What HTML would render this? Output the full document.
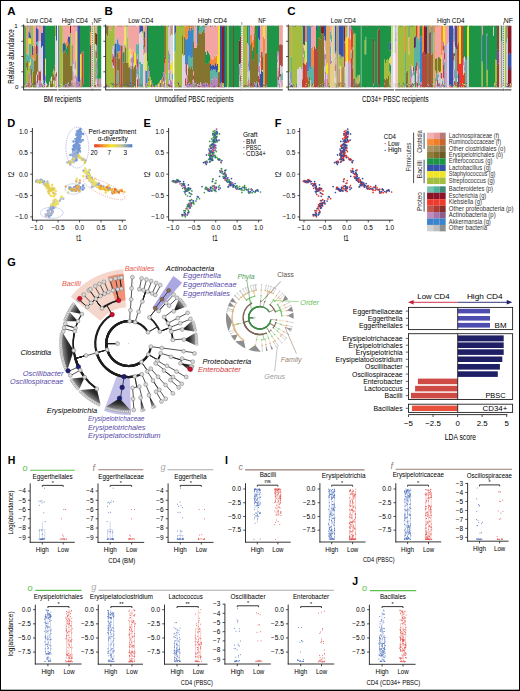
<!DOCTYPE html>
<html><head><meta charset="utf-8"><style>
html,body{margin:0;padding:0;background:#fff;width:520px;height:691px;overflow:hidden}
svg{display:block}
</style></head><body>
<svg width="520" height="691" viewBox="0 0 520 691" font-family='"Liberation Sans", sans-serif'>
<rect x="0" y="0" width="520" height="691" fill="#000"/>
<rect x="1" y="1" width="518" height="688.7" fill="#fff"/>
<path fill="#62ad55" d="M24.00 25.80h1.02V87.20h-1.02zM25.00 26.29h1.02V87.20h-1.02z"/>
<path fill="#8b1a2b" d="M24.00 84.12h1.02V84.60h-1.02zM27.00 26.26h1.02V26.84h-1.02zM28.00 25.80h0.52V26.27h-0.52zM29.50 85.85h1.02V86.34h-1.02zM29.50 86.87h1.02V87.20h-1.02zM32.00 84.69h1.02V85.27h-1.02zM32.00 85.27h1.02V86.62h-1.02zM33.00 47.62h0.52V52.31h-0.52zM35.50 82.81h0.52V83.34h-0.52zM38.50 86.68h1.02V87.20h-1.02zM48.00 26.83h1.00V27.04h-1.00zM56.00 86.64h1.02V87.20h-1.02zM62.80 82.72h1.02V83.40h-1.02zM62.80 83.97h1.02V84.58h-1.02zM69.00 83.86h1.02V85.02h-1.02zM70.00 25.80h1.02V33.59h-1.02zM70.00 82.98h1.02V83.77h-1.02zM73.70 82.74h1.02V83.22h-1.02zM77.40 85.96h1.02V86.82h-1.02zM82.60 84.59h1.02V85.39h-1.02zM89.90 84.06h1.02V84.83h-1.02zM90.90 83.96h0.72V84.41h-0.72zM95.10 32.88h1.02V44.30h-1.02zM95.10 84.39h1.02V85.28h-1.02zM96.10 33.55h1.02V45.64h-1.02zM96.10 84.36h1.02V84.88h-1.02zM97.10 34.73h0.12V41.80h-0.12zM97.20 86.54h1.02V87.07h-1.02zM97.20 26.53h1.02V26.81h-1.02zM110.60 83.98h1.02V84.96h-1.02zM112.00 87.04h1.02V87.20h-1.02zM116.50 86.57h1.02V87.20h-1.02zM120.50 84.87h1.02V86.02h-1.02zM121.50 85.05h1.02V86.11h-1.02zM121.50 26.68h1.02V26.90h-1.02zM122.50 82.80h1.02V84.05h-1.02zM124.50 25.80h1.02V26.17h-1.02zM128.60 86.76h1.02V87.20h-1.02zM132.50 84.01h1.02V84.57h-1.02zM133.50 25.80h0.52V26.02h-0.52zM135.00 26.22h1.02V26.80h-1.02zM136.00 84.20h1.02V84.73h-1.02zM138.00 85.61h1.02V86.08h-1.02zM139.00 85.59h0.42V86.51h-0.42zM140.40 83.21h1.02V84.26h-1.02zM141.40 83.66h1.02V84.54h-1.02zM143.00 83.28h1.02V84.02h-1.02zM145.00 25.80h1.02V26.04h-1.02zM146.00 87.12h1.02V87.20h-1.02zM147.00 84.29h1.02V85.52h-1.02zM147.00 26.38h1.02V26.88h-1.02zM162.00 26.18h1.00V26.61h-1.00zM164.00 86.92h1.02V87.20h-1.02zM167.00 86.23h1.02V87.20h-1.02zM171.00 25.80h1.02V26.01h-1.02zM175.00 84.14h1.02V85.41h-1.02zM176.00 26.47h1.02V26.57h-1.02zM177.00 25.80h1.02V26.52h-1.02zM178.00 26.27h1.02V26.52h-1.02zM182.00 83.23h1.02V84.07h-1.02zM183.00 25.80h1.02V26.07h-1.02zM185.00 85.50h1.02V86.80h-1.02zM185.00 25.80h1.02V26.22h-1.02zM188.00 86.47h1.02V87.20h-1.02zM193.00 84.24h1.02V85.11h-1.02zM196.00 84.63h1.02V85.60h-1.02zM200.00 85.40h1.02V86.10h-1.02zM206.00 83.73h1.02V84.54h-1.02zM207.00 85.44h1.02V85.85h-1.02zM209.00 86.50h1.02V87.20h-1.02zM212.00 86.74h1.02V87.20h-1.02zM216.00 26.20h1.02V26.64h-1.02zM219.00 85.19h1.02V85.82h-1.02zM221.00 83.74h1.02V84.24h-1.02zM221.00 86.53h1.02V87.15h-1.02zM222.00 25.80h1.02V83.80h-1.02zM223.00 25.80h1.02V83.20h-1.02zM223.00 87.10h1.02V87.20h-1.02zM239.00 40.52h1.02V64.28h-1.02zM240.00 36.25h1.02V63.06h-1.02zM241.00 40.38h0.22V63.24h-0.22zM241.00 25.80h0.22V25.95h-0.22zM246.60 82.65h0.42V83.04h-0.42zM246.60 83.04h0.42V84.09h-0.42zM247.00 84.37h1.02V85.52h-1.02zM248.50 84.89h1.02V85.66h-1.02zM252.00 86.27h1.02V86.76h-1.02zM255.00 85.00h1.02V85.84h-1.02zM256.00 85.83h1.02V87.11h-1.02zM258.00 84.27h1.02V85.21h-1.02zM261.00 25.80h1.02V26.32h-1.02zM264.00 26.39h1.02V26.67h-1.02zM269.00 25.80h1.02V26.32h-1.02zM279.00 25.80h1.02V26.06h-1.02zM281.00 25.80h1.02V26.12h-1.02zM282.00 26.49h0.82V26.96h-0.82zM292.00 85.24h1.02V85.70h-1.02zM296.00 84.98h1.02V85.46h-1.02zM296.00 25.80h1.02V26.16h-1.02zM299.00 84.45h1.02V85.51h-1.02zM301.00 25.80h1.02V25.90h-1.02zM303.00 83.14h1.02V84.33h-1.02zM305.00 85.94h1.02V87.17h-1.02zM306.00 85.84h1.02V86.98h-1.02zM310.00 85.38h1.02V85.87h-1.02zM311.00 85.46h1.02V86.49h-1.02zM311.00 86.49h1.02V86.91h-1.02zM315.00 84.09h1.02V84.89h-1.02zM315.00 84.89h1.02V85.95h-1.02zM320.00 85.18h1.02V86.41h-1.02zM321.00 25.80h1.02V33.14h-1.02zM322.00 25.80h1.02V34.30h-1.02zM323.00 25.80h1.02V33.07h-1.02zM324.00 84.35h1.02V85.47h-1.02zM325.00 83.40h1.02V84.65h-1.02zM326.00 84.38h1.02V85.68h-1.02zM326.00 26.48h1.02V26.77h-1.02zM327.00 82.81h1.02V83.94h-1.02zM331.00 82.95h1.02V84.23h-1.02zM332.00 86.26h0.32V87.20h-0.32zM332.30 84.44h1.02V84.96h-1.02zM334.30 84.88h0.32V85.51h-0.32zM336.50 86.54h1.02V87.20h-1.02zM337.50 83.97h1.02V85.26h-1.02zM343.50 83.34h0.32V84.03h-0.32zM343.50 85.85h0.32V87.08h-0.32zM343.80 25.80h1.02V41.59h-1.02zM343.80 83.61h1.02V84.97h-1.02zM344.80 25.80h0.62V43.42h-0.62zM345.40 85.25h1.02V85.67h-1.02zM348.00 84.80h1.02V85.76h-1.02zM350.80 25.80h1.02V26.33h-1.02zM353.10 85.79h1.02V86.94h-1.02zM353.10 25.80h1.02V26.40h-1.02zM354.10 83.29h1.02V83.78h-1.02zM354.10 83.78h1.02V84.78h-1.02zM357.40 84.13h1.02V84.99h-1.02zM359.40 25.80h0.62V25.99h-0.62zM368.20 25.80h1.02V26.32h-1.02zM373.00 26.88h1.02V27.16h-1.02zM378.70 25.80h1.02V26.23h-1.02zM388.00 85.01h1.02V85.63h-1.02zM389.00 26.17h0.22V26.27h-0.22zM393.00 83.27h0.42V83.91h-0.42zM394.60 85.67h1.02V86.47h-1.02zM394.60 25.80h1.02V26.21h-1.02zM396.60 83.98h1.02V85.06h-1.02zM396.60 85.06h1.02V86.20h-1.02zM399.70 83.70h1.02V84.27h-1.02zM401.70 86.48h1.02V87.06h-1.02zM405.00 84.22h1.02V85.36h-1.02zM405.00 85.36h1.02V86.22h-1.02zM406.00 86.73h1.02V87.20h-1.02zM407.00 25.80h1.02V26.03h-1.02zM408.00 85.03h0.52V86.38h-0.52zM414.00 37.30h1.02V48.58h-1.02zM415.00 86.29h1.02V86.77h-1.02zM416.00 84.03h1.02V85.15h-1.02zM417.00 85.07h1.02V85.80h-1.02zM418.00 84.98h1.02V86.01h-1.02zM419.00 85.95h1.02V86.97h-1.02zM423.00 85.49h1.02V85.91h-1.02zM424.00 25.80h1.02V52.85h-1.02zM425.00 25.80h1.02V55.28h-1.02zM426.00 25.80h1.02V54.17h-1.02zM426.00 26.10h1.02V26.59h-1.02zM427.00 82.86h1.02V83.54h-1.02zM430.00 26.72h1.02V26.82h-1.02zM432.00 85.02h1.02V86.24h-1.02zM432.00 25.80h1.02V26.23h-1.02zM434.00 84.38h1.02V85.17h-1.02zM438.00 83.94h1.02V84.76h-1.02zM439.00 25.80h1.02V26.15h-1.02zM439.00 26.15h1.02V26.40h-1.02zM442.00 85.06h1.02V85.91h-1.02zM448.00 82.97h1.02V83.46h-1.02zM451.00 84.46h1.02V87.20h-1.02zM452.00 86.80h1.02V87.20h-1.02zM460.00 86.94h1.02V87.20h-1.02zM466.00 25.80h1.02V26.28h-1.02zM466.00 26.28h1.02V26.35h-1.02zM467.00 86.69h1.02V87.20h-1.02zM481.50 25.80h1.02V35.91h-1.02zM483.00 25.80h1.02V26.44h-1.02zM486.50 84.33h1.02V84.73h-1.02zM492.00 26.55h1.02V26.99h-1.02zM495.00 86.23h1.02V87.20h-1.02zM497.00 85.65h1.02V86.96h-1.02zM501.00 83.13h1.02V84.35h-1.02zM508.00 25.80h1.02V54.83h-1.02zM508.00 69.90h1.02V87.20h-1.02zM509.00 25.80h1.02V53.46h-1.02zM509.00 66.19h1.02V87.20h-1.02zM510.00 25.80h1.02V53.98h-1.02zM510.00 70.05h1.02V87.20h-1.02zM511.00 25.80h0.42V53.10h-0.42zM511.00 65.88h0.42V87.20h-0.42z"/>
<path fill="#5db3a3" d="M24.00 84.60h1.02V85.05h-1.02zM24.00 86.46h1.02V87.09h-1.02zM25.00 85.91h1.02V86.86h-1.02zM26.00 53.39h1.02V62.42h-1.02zM27.00 54.16h1.02V60.87h-1.02zM27.00 86.19h1.02V86.66h-1.02zM28.00 55.17h0.52V61.74h-0.52zM28.50 43.57h1.02V62.68h-1.02zM29.50 43.65h1.02V63.01h-1.02zM30.50 43.22h0.52V59.09h-0.52zM30.50 74.82h0.52V80.30h-0.52zM30.50 83.28h0.52V87.20h-0.52zM30.50 83.45h0.52V84.52h-0.52zM30.50 84.52h0.52V84.93h-0.52zM30.50 26.51h0.52V27.14h-0.52zM31.00 57.32h1.02V68.86h-1.02zM32.00 58.30h1.02V71.79h-1.02zM33.00 57.42h0.52V71.86h-0.52zM33.50 83.18h1.02V84.20h-1.02zM34.50 25.80h1.02V25.98h-1.02zM35.50 83.34h0.52V84.44h-0.52zM35.50 84.89h0.52V85.78h-0.52zM35.50 86.64h0.52V87.14h-0.52zM35.50 25.80h0.52V26.18h-0.52zM36.00 42.26h1.02V44.22h-1.02zM36.00 83.51h1.02V84.69h-1.02zM37.00 41.22h1.02V45.93h-1.02zM37.00 86.52h1.02V87.20h-1.02zM38.50 26.48h1.02V26.93h-1.02zM39.50 85.64h1.02V86.65h-1.02zM40.50 26.33h0.52V26.39h-0.52zM42.00 86.89h1.02V87.20h-1.02zM43.00 80.38h1.02V87.20h-1.02zM43.00 25.80h1.02V26.13h-1.02zM45.00 85.55h1.02V85.96h-1.02zM45.00 25.80h1.02V26.46h-1.02zM56.00 84.30h1.02V85.61h-1.02zM58.80 85.79h0.22V86.59h-0.22zM62.00 86.67h0.82V87.20h-0.82zM62.80 84.58h1.02V84.97h-1.02zM62.80 25.80h1.02V26.13h-1.02zM65.00 26.25h1.02V26.86h-1.02zM71.00 85.70h0.52V87.06h-0.52zM71.50 85.53h1.02V86.00h-1.02zM73.70 85.61h1.02V86.02h-1.02zM74.70 26.18h1.02V26.49h-1.02zM75.70 75.87h0.12V81.79h-0.12zM75.70 81.79h0.12V87.20h-0.12zM75.70 84.46h0.12V85.21h-0.12zM77.40 86.82h1.02V87.20h-1.02zM78.40 87.11h1.02V87.20h-1.02zM78.40 26.52h1.02V26.59h-1.02zM80.00 83.63h1.02V84.44h-1.02zM95.10 57.11h1.02V63.18h-1.02zM95.10 66.70h1.02V72.45h-1.02zM96.10 74.28h1.02V79.08h-1.02zM97.10 41.80h0.12V47.01h-0.12zM97.10 57.67h0.12V63.32h-0.12zM97.10 85.16h0.12V87.20h-0.12zM100.20 84.05h1.02V85.35h-1.02zM100.20 86.08h1.02V87.03h-1.02zM107.00 85.40h1.02V86.18h-1.02zM109.60 25.80h1.02V26.24h-1.02zM115.80 84.13h0.72V85.28h-0.72zM116.50 74.10h1.02V87.20h-1.02zM117.50 70.31h1.02V87.20h-1.02zM122.50 84.59h1.02V85.75h-1.02zM122.50 86.81h1.02V87.20h-1.02zM123.50 86.85h1.02V87.20h-1.02zM123.50 25.80h1.02V26.52h-1.02zM123.50 26.52h1.02V26.97h-1.02zM124.50 83.62h1.02V84.40h-1.02zM127.50 86.08h1.02V86.53h-1.02zM127.50 25.80h1.02V26.22h-1.02zM131.50 83.77h1.02V84.59h-1.02zM131.50 86.13h1.02V87.20h-1.02zM136.00 43.43h1.02V57.74h-1.02zM136.00 68.89h1.02V74.45h-1.02zM137.00 44.54h1.02V54.80h-1.02zM138.00 43.14h1.02V57.72h-1.02zM138.00 57.72h1.02V64.09h-1.02zM138.00 70.51h1.02V76.88h-1.02zM138.00 85.27h1.02V87.20h-1.02zM138.00 86.99h1.02V87.20h-1.02zM139.00 44.24h0.42V57.12h-0.42zM139.00 57.12h0.42V64.24h-0.42zM139.00 84.47h0.42V87.20h-0.42zM139.00 84.98h0.42V85.59h-0.42zM139.40 61.83h1.02V87.20h-1.02zM139.40 85.12h1.02V85.54h-1.02zM140.40 62.07h1.02V87.20h-1.02zM140.40 85.24h1.02V86.43h-1.02zM141.40 64.08h1.02V87.20h-1.02zM142.40 63.28h0.62V87.20h-0.62zM143.00 44.69h1.02V49.03h-1.02zM144.00 83.55h1.02V84.75h-1.02zM144.00 26.53h1.02V27.13h-1.02zM147.00 61.17h1.02V87.20h-1.02zM149.00 26.90h1.00V26.98h-1.00zM164.00 71.95h1.02V72.28h-1.02zM165.00 84.05h1.02V85.24h-1.02zM165.00 85.24h1.02V85.89h-1.02zM165.00 86.44h1.02V87.20h-1.02zM168.00 56.33h1.02V59.15h-1.02zM168.00 83.42h1.02V87.20h-1.02zM169.00 53.76h1.02V60.18h-1.02zM169.00 72.66h1.02V80.42h-1.02zM169.00 85.19h1.02V87.20h-1.02zM171.00 83.63h1.02V84.47h-1.02zM171.00 85.18h1.02V85.99h-1.02zM172.00 73.41h1.02V79.70h-1.02zM174.00 34.70h1.02V52.43h-1.02zM175.00 32.87h1.02V51.81h-1.02zM175.00 83.64h1.02V84.14h-1.02zM179.00 26.94h1.02V27.15h-1.02zM188.00 56.03h1.02V68.24h-1.02zM189.00 55.71h1.02V66.35h-1.02zM189.00 84.90h1.02V85.70h-1.02zM190.00 57.07h1.02V68.98h-1.02zM190.00 83.41h1.02V84.07h-1.02zM191.00 58.16h1.02V66.33h-1.02zM192.00 57.14h1.02V69.60h-1.02zM193.00 25.80h1.02V42.05h-1.02zM193.00 83.21h1.02V87.20h-1.02zM195.00 84.45h1.02V85.14h-1.02zM196.00 84.21h1.02V84.63h-1.02zM196.00 26.59h1.02V27.15h-1.02zM198.00 85.06h1.02V86.08h-1.02zM199.00 25.80h1.02V33.43h-1.02zM200.00 25.80h1.02V33.56h-1.02zM201.00 25.80h1.02V33.38h-1.02zM201.00 86.17h1.02V87.17h-1.02zM202.00 25.80h1.02V31.75h-1.02zM202.00 84.61h1.02V85.51h-1.02zM203.00 25.80h1.02V29.51h-1.02zM204.00 25.80h1.02V32.56h-1.02zM205.00 86.99h1.02V87.20h-1.02zM208.00 85.17h1.02V85.76h-1.02zM210.00 70.72h1.02V75.14h-1.02zM210.00 75.14h1.02V83.84h-1.02zM211.00 68.95h1.02V79.47h-1.02zM212.00 70.42h1.02V79.49h-1.02zM213.00 69.04h1.02V78.75h-1.02zM214.00 69.67h1.02V76.20h-1.02zM214.00 83.66h1.02V84.36h-1.02zM215.00 69.65h1.02V78.18h-1.02zM215.00 25.80h1.02V26.58h-1.02zM216.00 72.45h1.02V79.39h-1.02zM216.00 83.58h1.02V84.55h-1.02zM217.00 70.40h1.02V76.27h-1.02zM217.00 85.73h1.02V86.19h-1.02zM219.00 84.03h1.02V84.68h-1.02zM219.00 85.82h1.02V86.73h-1.02zM221.00 87.15h1.02V87.20h-1.02zM223.00 85.52h1.02V85.95h-1.02zM233.00 86.97h1.02V87.20h-1.02zM235.00 26.21h1.02V26.84h-1.02zM240.00 81.17h1.02V87.20h-1.02zM240.00 86.46h1.02V86.99h-1.02zM248.00 85.66h0.52V86.99h-0.52zM248.50 77.43h1.02V80.04h-1.02zM248.50 85.17h1.02V87.20h-1.02zM253.00 25.80h1.02V25.95h-1.02zM256.00 81.11h1.02V87.20h-1.02zM258.00 38.37h1.02V64.97h-1.02zM258.00 83.08h1.02V84.27h-1.02zM258.00 87.09h1.02V87.20h-1.02zM259.00 39.93h1.02V62.64h-1.02zM262.00 84.26h1.02V85.42h-1.02zM265.00 84.56h1.02V85.66h-1.02zM265.00 86.07h1.02V86.53h-1.02zM265.00 87.03h1.02V87.20h-1.02zM277.00 81.20h1.02V84.84h-1.02zM277.00 26.69h1.02V26.97h-1.02zM278.00 51.74h1.02V54.71h-1.02zM278.00 86.43h1.02V87.20h-1.02zM281.00 74.22h1.02V80.51h-1.02zM282.00 72.60h0.82V80.49h-0.82zM289.00 84.61h1.02V85.87h-1.02zM291.00 56.59h1.02V87.20h-1.02zM296.00 26.16h1.02V26.48h-1.02zM300.00 86.11h1.02V86.89h-1.02zM300.00 26.25h1.02V26.56h-1.02zM303.00 26.27h1.02V26.68h-1.02zM304.00 50.29h1.02V58.78h-1.02zM307.00 71.12h1.02V77.27h-1.02zM308.00 71.33h1.02V80.56h-1.02zM309.00 67.62h1.02V76.64h-1.02zM310.00 69.52h1.02V80.30h-1.02zM311.00 67.07h1.02V87.20h-1.02zM312.00 69.08h1.02V87.20h-1.02zM312.00 26.19h1.02V26.97h-1.02zM313.00 65.42h1.02V87.20h-1.02zM313.00 85.20h1.02V86.56h-1.02zM313.00 25.80h1.02V26.05h-1.02zM314.00 25.80h1.02V26.50h-1.02zM317.00 83.86h1.02V85.12h-1.02zM317.00 86.88h1.02V87.20h-1.02zM319.00 85.21h1.02V86.06h-1.02zM321.00 83.37h1.02V84.05h-1.02zM321.00 26.78h1.02V26.88h-1.02zM322.00 86.62h1.02V87.20h-1.02zM322.00 25.80h1.02V26.26h-1.02zM330.00 31.47h1.02V39.05h-1.02zM330.00 46.49h1.02V54.36h-1.02zM331.00 34.80h1.02V42.55h-1.02zM332.30 85.63h1.02V86.39h-1.02zM334.30 86.55h0.32V87.14h-0.32zM334.60 58.00h1.02V60.99h-1.02zM335.60 51.27h0.92V58.43h-0.92zM335.60 84.34h0.92V85.09h-0.92zM335.60 25.80h0.92V26.37h-0.92zM339.50 83.51h1.02V84.60h-1.02zM340.50 86.03h1.02V86.49h-1.02zM342.50 85.39h1.02V85.91h-1.02zM343.50 84.73h0.32V85.85h-0.32zM343.50 25.80h0.32V26.50h-0.32zM343.50 26.50h0.32V26.87h-0.32zM343.80 84.97h1.02V85.63h-1.02zM344.80 74.83h0.62V80.72h-0.62zM349.00 25.80h1.02V26.35h-1.02zM350.80 52.58h1.02V58.23h-1.02zM350.80 84.87h1.02V85.36h-1.02zM350.80 86.23h1.02V86.91h-1.02zM351.80 86.10h1.02V86.69h-1.02zM353.10 83.40h1.02V84.45h-1.02zM354.10 84.78h1.02V86.08h-1.02zM354.10 25.80h1.02V26.04h-1.02zM356.40 87.15h1.02V87.20h-1.02zM357.40 83.24h1.02V84.13h-1.02zM368.20 26.32h1.02V26.56h-1.02zM372.20 26.10h0.82V26.70h-0.82zM376.60 25.80h1.02V26.21h-1.02zM379.70 86.54h0.32V87.05h-0.32zM379.70 26.27h0.32V26.78h-0.32zM384.00 26.23h1.02V26.80h-1.02zM386.00 86.77h1.02V87.20h-1.02zM389.20 83.85h1.02V84.29h-1.02zM393.00 25.80h0.42V26.30h-0.42zM394.60 25.80h1.02V52.95h-1.02zM397.60 25.80h0.12V31.08h-0.12zM397.70 83.85h1.02V85.02h-1.02zM403.70 86.50h1.02V87.20h-1.02zM405.00 52.10h1.02V87.20h-1.02zM405.00 86.75h1.02V87.20h-1.02zM408.50 83.38h1.02V84.30h-1.02zM408.50 25.80h1.02V26.12h-1.02zM410.00 66.01h1.02V68.86h-1.02zM410.00 68.86h1.02V77.47h-1.02zM413.00 83.43h1.02V87.20h-1.02zM414.00 48.58h1.02V67.46h-1.02zM414.00 71.82h1.02V76.44h-1.02zM415.00 47.48h1.02V65.77h-1.02zM415.00 83.20h1.02V84.07h-1.02zM416.00 37.71h1.02V62.36h-1.02zM417.00 36.50h1.02V60.98h-1.02zM417.00 60.98h1.02V66.85h-1.02zM418.00 38.59h1.02V62.78h-1.02zM418.00 62.78h1.02V71.18h-1.02zM418.00 75.36h1.02V80.40h-1.02zM418.00 80.40h1.02V86.18h-1.02zM419.00 40.75h1.02V62.83h-1.02zM419.00 25.80h1.02V26.34h-1.02zM421.00 86.06h1.02V86.78h-1.02zM421.00 86.78h1.02V87.20h-1.02zM422.00 86.46h1.02V87.08h-1.02zM425.00 26.74h1.02V26.84h-1.02zM426.00 26.59h1.02V26.97h-1.02zM427.00 25.80h1.02V53.37h-1.02zM427.00 83.54h1.02V84.08h-1.02zM428.00 25.80h1.02V52.64h-1.02zM428.00 86.79h1.02V87.20h-1.02zM429.00 83.88h1.02V84.72h-1.02zM431.00 25.80h1.02V54.60h-1.02zM431.00 84.47h1.02V85.34h-1.02zM432.00 25.80h1.02V53.34h-1.02zM433.00 84.90h1.02V86.23h-1.02zM435.00 77.53h1.02V84.08h-1.02zM436.00 73.18h1.02V81.11h-1.02zM437.00 85.23h1.02V86.31h-1.02zM437.00 87.09h1.02V87.20h-1.02zM438.00 74.31h1.02V77.00h-1.02zM438.00 25.80h1.02V26.17h-1.02zM442.00 80.46h1.02V86.68h-1.02zM444.00 49.52h1.02V52.43h-1.02zM444.00 62.18h1.02V70.17h-1.02zM444.00 83.01h1.02V87.20h-1.02zM444.00 85.00h1.02V85.72h-1.02zM445.00 86.20h1.02V86.99h-1.02zM450.00 84.27h1.02V85.63h-1.02zM451.00 26.81h1.02V27.12h-1.02zM453.00 36.75h1.02V39.42h-1.02zM453.00 84.04h1.02V87.20h-1.02zM454.00 84.90h1.02V85.94h-1.02zM455.00 47.45h1.02V87.20h-1.02zM456.00 49.30h1.02V87.20h-1.02zM457.00 75.16h1.02V77.97h-1.02zM457.00 83.79h1.02V84.89h-1.02zM458.00 86.54h1.02V87.07h-1.02zM459.00 85.01h1.02V85.52h-1.02zM461.00 85.54h1.02V86.34h-1.02zM461.00 25.80h1.02V26.40h-1.02zM463.00 87.05h1.02V87.20h-1.02zM465.00 57.96h1.02V87.20h-1.02zM466.00 60.16h1.02V87.20h-1.02zM468.00 83.51h1.02V84.09h-1.02zM468.00 86.22h1.02V87.08h-1.02zM476.00 25.80h1.02V25.99h-1.02zM479.00 25.80h1.02V26.16h-1.02zM481.50 85.92h1.02V86.69h-1.02zM486.50 85.31h1.02V86.45h-1.02zM490.00 26.14h1.02V26.55h-1.02zM498.00 83.29h1.02V84.53h-1.02zM500.00 26.30h1.02V26.92h-1.02zM501.00 86.61h1.02V87.13h-1.02zM501.00 25.80h1.02V26.11h-1.02zM502.00 85.82h0.62V87.02h-0.62zM502.00 26.22h0.62V26.69h-0.62zM504.40 83.04h1.02V83.86h-1.02zM504.40 85.54h1.02V86.60h-1.02zM506.00 25.80h1.02V42.69h-1.02zM507.00 26.48h1.02V26.93h-1.02zM509.00 86.11h1.02V87.20h-1.02zM511.00 84.51h0.42V85.29h-0.42z"/>
<path fill="#f5883a" d="M24.00 85.05h1.02V85.65h-1.02zM24.00 85.65h1.02V86.46h-1.02zM25.00 85.38h1.02V85.91h-1.02zM26.00 84.42h1.02V87.20h-1.02zM27.00 26.84h1.02V26.92h-1.02zM29.50 84.31h1.02V85.13h-1.02zM29.50 86.34h1.02V86.87h-1.02zM31.00 53.24h1.02V57.32h-1.02zM32.00 55.13h1.02V58.30h-1.02zM33.00 52.31h0.52V57.42h-0.52zM33.00 83.29h0.52V84.07h-0.52zM33.50 45.57h1.02V61.11h-1.02zM34.50 45.14h1.02V60.51h-1.02zM40.50 85.32h0.52V86.62h-0.52zM41.00 85.89h1.02V86.41h-1.02zM41.00 25.80h1.02V26.15h-1.02zM45.00 83.12h1.02V83.86h-1.02zM45.00 26.46h1.02V26.89h-1.02zM55.00 85.18h1.02V85.82h-1.02zM55.00 26.46h1.02V26.78h-1.02zM56.00 85.61h1.02V86.20h-1.02zM57.80 25.80h1.02V25.96h-1.02zM58.80 86.59h0.22V87.17h-0.22zM64.80 86.29h0.22V87.20h-0.22zM65.00 42.39h1.02V44.18h-1.02zM65.00 86.27h1.02V87.20h-1.02zM66.00 42.01h1.02V48.54h-1.02zM66.00 83.14h1.02V84.46h-1.02zM67.00 38.98h1.02V45.63h-1.02zM67.00 85.29h1.02V85.71h-1.02zM68.00 83.66h1.02V84.83h-1.02zM69.00 86.25h1.02V86.89h-1.02zM69.00 26.25h1.02V26.55h-1.02zM71.50 26.47h1.02V26.62h-1.02zM72.50 25.80h0.22V26.31h-0.22zM73.70 86.55h1.02V87.20h-1.02zM75.80 86.77h1.02V87.20h-1.02zM78.40 25.80h1.02V26.52h-1.02zM79.40 85.68h0.62V86.39h-0.62zM81.00 85.62h0.62V86.45h-0.62zM81.60 26.21h1.02V26.35h-1.02zM89.90 32.35h1.02V45.14h-1.02zM89.90 85.85h1.02V86.27h-1.02zM90.90 34.22h0.72V44.26h-0.72zM93.40 25.80h1.02V26.23h-1.02zM97.10 84.42h0.12V85.52h-0.12zM97.10 25.80h0.12V26.21h-0.12zM99.20 26.73h1.02V27.02h-1.02zM107.00 83.84h1.02V84.79h-1.02zM109.60 85.25h1.02V86.01h-1.02zM110.60 82.55h1.02V82.95h-1.02zM111.60 84.74h0.42V85.34h-0.42zM111.60 86.45h0.42V87.20h-0.42zM114.00 86.33h0.82V87.11h-0.82zM116.50 26.94h1.02V27.16h-1.02zM117.50 82.53h1.02V83.59h-1.02zM118.50 51.13h1.02V58.76h-1.02zM119.50 51.65h1.02V57.10h-1.02zM119.50 86.52h1.02V87.20h-1.02zM123.50 83.96h1.02V84.80h-1.02zM124.50 86.06h1.02V86.82h-1.02zM126.50 84.37h1.02V85.64h-1.02zM126.50 86.88h1.02V87.20h-1.02zM128.50 84.94h0.12V86.07h-0.12zM128.50 86.92h0.12V87.20h-0.12zM128.60 26.53h1.02V26.98h-1.02zM130.50 49.53h1.02V53.97h-1.02zM130.50 85.50h1.02V86.71h-1.02zM132.50 49.82h1.02V55.37h-1.02zM132.50 84.57h1.02V85.04h-1.02zM133.50 52.04h0.52V55.13h-0.52zM135.00 83.57h1.02V83.98h-1.02zM137.00 83.81h1.02V84.21h-1.02zM137.00 84.21h1.02V85.12h-1.02zM141.40 86.23h1.02V87.20h-1.02zM142.40 25.80h0.62V26.38h-0.62zM144.00 82.85h1.02V83.55h-1.02zM147.00 83.64h1.02V84.29h-1.02zM157.00 25.80h1.00V26.42h-1.00zM162.00 25.80h1.00V26.18h-1.00zM164.00 25.80h1.02V26.23h-1.02zM165.00 59.08h1.02V74.12h-1.02zM167.00 82.99h1.02V83.99h-1.02zM167.00 26.50h1.02V27.14h-1.02zM168.00 86.11h1.02V87.05h-1.02zM169.00 25.80h1.02V26.12h-1.02zM174.00 85.65h1.02V86.57h-1.02zM175.00 26.34h1.02V26.49h-1.02zM177.00 84.01h1.02V84.85h-1.02zM177.00 85.93h1.02V87.20h-1.02zM179.00 83.59h1.02V84.76h-1.02zM179.00 26.31h1.02V26.61h-1.02zM185.00 25.80h1.02V38.68h-1.02zM186.00 25.80h1.02V39.83h-1.02zM187.00 25.80h1.02V38.43h-1.02zM188.00 25.80h1.02V31.08h-1.02zM189.00 25.80h1.02V28.09h-1.02zM190.00 25.80h1.02V30.99h-1.02zM190.00 85.49h1.02V86.42h-1.02zM191.00 25.80h1.02V27.93h-1.02zM192.00 25.80h1.02V29.51h-1.02zM195.00 83.10h1.02V83.52h-1.02zM195.00 85.14h1.02V86.24h-1.02zM196.00 85.60h1.02V86.41h-1.02zM197.00 86.89h1.02V87.20h-1.02zM201.00 84.97h1.02V86.17h-1.02zM203.00 84.14h1.02V85.33h-1.02zM203.00 86.12h1.02V86.76h-1.02zM209.00 84.06h1.02V87.20h-1.02zM210.00 56.30h1.02V64.01h-1.02zM211.00 58.69h1.02V65.77h-1.02zM212.00 59.38h1.02V65.21h-1.02zM213.00 59.37h1.02V64.95h-1.02zM214.00 55.82h1.02V66.36h-1.02zM215.00 57.16h1.02V63.17h-1.02zM216.00 55.71h1.02V66.10h-1.02zM218.00 87.06h1.02V87.20h-1.02zM220.00 83.56h1.02V84.19h-1.02zM221.00 84.24h1.02V85.49h-1.02zM223.00 26.51h1.02V26.67h-1.02zM226.00 26.38h1.02V26.82h-1.02zM228.60 25.80h1.02V26.10h-1.02zM230.60 25.80h1.02V26.23h-1.02zM245.60 25.80h1.02V25.98h-1.02zM247.00 83.72h1.02V84.37h-1.02zM248.00 82.60h0.52V83.80h-0.52zM250.00 34.73h1.02V44.62h-1.02zM251.00 34.21h1.02V42.24h-1.02zM251.00 25.80h1.02V26.14h-1.02zM252.00 41.26h1.02V50.51h-1.02zM253.00 39.96h1.02V47.18h-1.02zM254.00 25.80h1.02V33.43h-1.02zM254.00 84.25h1.02V85.17h-1.02zM256.00 84.85h1.02V85.83h-1.02zM259.00 85.16h1.02V86.51h-1.02zM261.00 85.27h1.02V85.98h-1.02zM263.00 36.38h1.02V53.85h-1.02zM263.00 26.10h1.02V26.60h-1.02zM264.00 39.00h1.02V51.53h-1.02zM264.00 85.67h1.02V86.99h-1.02zM265.00 83.88h1.02V84.56h-1.02zM267.00 26.10h1.02V26.18h-1.02zM279.00 83.69h1.02V84.96h-1.02zM281.00 82.79h1.02V83.41h-1.02zM282.00 84.01h0.82V85.28h-0.82zM289.00 85.87h1.02V86.45h-1.02zM290.00 26.48h1.02V27.11h-1.02zM294.00 83.79h1.02V84.34h-1.02zM295.00 86.66h1.02V87.07h-1.02zM295.00 87.07h1.02V87.20h-1.02zM297.00 86.05h1.02V86.74h-1.02zM297.00 86.74h1.02V87.20h-1.02zM298.00 84.06h1.02V84.68h-1.02zM301.00 83.42h1.02V84.00h-1.02zM302.00 86.58h1.02V87.20h-1.02zM304.00 86.14h1.02V87.20h-1.02zM305.00 25.80h1.02V41.70h-1.02zM306.00 25.80h1.02V42.25h-1.02zM309.00 85.52h1.02V86.13h-1.02zM311.00 47.57h1.02V67.07h-1.02zM311.00 84.39h1.02V85.46h-1.02zM311.00 25.80h1.02V26.30h-1.02zM312.00 46.35h1.02V69.08h-1.02zM312.00 86.21h1.02V87.20h-1.02zM313.00 49.40h1.02V65.42h-1.02zM317.00 83.38h1.02V83.86h-1.02zM318.00 87.12h1.02V87.20h-1.02zM328.00 84.95h1.02V85.97h-1.02zM330.00 86.00h1.02V87.20h-1.02zM332.00 25.80h0.32V26.25h-0.32zM334.30 85.96h0.32V86.55h-0.32zM334.30 26.42h0.32V26.85h-0.32zM335.60 85.61h0.92V86.15h-0.92zM336.50 85.91h1.02V86.54h-1.02zM337.50 86.55h1.02V87.01h-1.02zM338.50 85.14h1.02V86.44h-1.02zM340.50 85.57h1.02V86.03h-1.02zM340.50 87.06h1.02V87.20h-1.02zM343.50 56.81h0.32V65.39h-0.32zM347.40 84.03h0.62V84.78h-0.62zM347.40 26.76h0.62V27.15h-0.62zM348.00 37.69h1.02V63.81h-1.02zM348.00 85.76h1.02V87.01h-1.02zM348.00 25.80h1.02V26.50h-1.02zM349.00 36.70h1.02V61.49h-1.02zM350.00 39.47h0.82V63.06h-0.82zM350.00 83.28h0.82V84.45h-0.82zM351.80 82.79h1.02V83.84h-1.02zM352.80 84.08h0.32V85.00h-0.32zM355.10 25.80h0.32V26.12h-0.32zM355.40 83.11h1.02V84.21h-1.02zM358.40 25.80h1.02V26.28h-1.02zM360.00 83.91h1.02V84.96h-1.02zM364.60 84.62h1.02V85.25h-1.02zM365.60 26.35h0.62V26.69h-0.62zM373.00 86.10h1.02V86.65h-1.02zM373.00 86.65h1.02V87.20h-1.02zM376.60 26.21h1.02V26.51h-1.02zM377.70 86.58h1.02V87.20h-1.02zM379.70 83.77h0.32V84.65h-0.32zM386.00 25.80h1.02V26.09h-1.02zM387.00 85.61h1.02V86.28h-1.02zM389.00 25.80h0.22V26.17h-0.22zM389.20 84.29h1.02V85.04h-1.02zM391.00 82.63h1.02V83.46h-1.02zM391.00 85.54h1.02V86.33h-1.02zM393.00 86.16h0.42V86.65h-0.42zM393.00 86.65h0.42V87.20h-0.42zM393.00 26.30h0.42V26.48h-0.42zM394.60 26.21h1.02V26.73h-1.02zM397.60 85.55h0.12V86.84h-0.12zM397.60 86.84h0.12V87.20h-0.12zM400.70 86.29h1.02V86.83h-1.02zM400.70 25.80h1.02V25.92h-1.02zM401.70 85.06h1.02V86.06h-1.02zM402.70 26.28h1.02V26.46h-1.02zM404.70 85.48h0.32V86.24h-0.32zM405.00 25.80h1.02V52.10h-1.02zM406.00 84.50h1.02V85.56h-1.02zM408.50 85.22h1.02V85.81h-1.02zM409.50 25.80h0.52V38.41h-0.52zM416.00 86.29h1.02V87.20h-1.02zM417.00 25.80h1.02V36.50h-1.02zM419.00 25.80h1.02V40.75h-1.02zM421.00 84.15h1.02V84.97h-1.02zM422.00 25.80h1.02V53.06h-1.02zM423.00 25.80h1.02V51.17h-1.02zM429.00 25.80h1.02V32.94h-1.02zM430.00 25.80h1.02V31.69h-1.02zM433.00 25.80h1.02V32.89h-1.02zM434.00 25.80h1.02V31.89h-1.02zM434.00 86.02h1.02V86.77h-1.02zM436.00 84.93h1.02V85.34h-1.02zM437.00 26.27h1.02V26.56h-1.02zM440.00 85.48h1.02V85.99h-1.02zM441.00 25.80h1.02V55.11h-1.02zM442.00 25.80h1.02V50.82h-1.02zM442.00 84.28h1.02V85.06h-1.02zM443.00 83.67h1.02V84.87h-1.02zM443.00 86.40h1.02V87.20h-1.02zM444.00 86.79h1.02V87.20h-1.02zM451.00 26.52h1.02V26.81h-1.02zM453.00 86.92h1.02V87.20h-1.02zM455.00 25.80h1.02V26.28h-1.02zM457.00 25.80h1.02V45.37h-1.02zM458.00 25.80h1.02V42.71h-1.02zM459.00 85.52h1.02V86.35h-1.02zM460.00 83.85h1.02V85.12h-1.02zM460.00 85.12h1.02V86.38h-1.02zM461.00 84.77h1.02V85.54h-1.02zM462.00 84.43h1.02V84.97h-1.02zM465.00 84.35h1.02V85.04h-1.02zM465.00 85.04h1.02V85.90h-1.02zM469.00 25.80h1.02V26.22h-1.02zM481.50 84.46h1.02V84.89h-1.02zM481.50 26.49h1.02V26.75h-1.02zM482.50 82.70h0.52V83.41h-0.52zM482.50 83.41h0.52V83.92h-0.52zM485.00 26.51h1.02V26.65h-1.02zM486.50 86.45h1.02V86.88h-1.02zM490.00 25.80h1.02V26.14h-1.02zM495.00 84.33h1.02V85.46h-1.02zM498.00 85.29h1.02V86.16h-1.02zM499.00 25.80h1.02V26.41h-1.02zM500.00 84.18h1.02V84.68h-1.02zM500.00 26.92h1.02V27.10h-1.02zM504.40 83.86h1.02V85.10h-1.02zM504.40 85.10h1.02V85.54h-1.02zM505.40 82.73h0.62V83.47h-0.62zM505.40 83.47h0.62V84.38h-0.62zM506.00 25.80h1.02V26.13h-1.02zM507.00 25.80h1.02V38.15h-1.02zM509.00 84.46h1.02V85.20h-1.02zM510.00 82.92h1.02V83.83h-1.02z"/>
<path fill="#3a86cc" d="M24.00 87.09h1.02V87.20h-1.02zM25.00 84.42h1.02V84.86h-1.02zM33.50 85.32h1.02V86.14h-1.02zM33.50 86.14h1.02V86.72h-1.02zM34.50 86.28h1.02V87.17h-1.02zM38.00 41.37h0.52V45.73h-0.52zM38.00 86.71h0.52V87.20h-0.52zM38.00 25.80h0.52V26.38h-0.52zM38.50 25.80h1.02V26.12h-1.02zM40.50 25.80h0.52V26.33h-0.52zM41.00 84.55h1.02V85.89h-1.02zM43.00 84.98h1.02V85.45h-1.02zM55.00 85.82h1.02V86.59h-1.02zM55.00 25.80h1.02V26.46h-1.02zM59.00 82.92h1.02V83.33h-1.02zM60.00 86.31h1.02V87.20h-1.02zM61.00 85.35h1.02V86.55h-1.02zM64.80 84.41h0.22V85.11h-0.22zM70.00 85.03h1.02V86.15h-1.02zM71.50 83.60h1.02V84.58h-1.02zM72.50 85.36h0.22V86.54h-0.22zM72.70 25.80h1.02V26.29h-1.02zM74.70 84.97h1.02V85.98h-1.02zM78.40 85.88h1.02V87.11h-1.02zM81.00 86.45h0.62V87.20h-0.62zM81.00 26.64h0.62V26.71h-0.62zM82.60 25.80h1.02V26.10h-1.02zM87.60 25.80h1.02V26.03h-1.02zM90.90 85.54h0.72V86.73h-0.72zM94.40 25.80h0.72V26.34h-0.72zM97.20 83.69h1.02V84.09h-1.02zM98.20 85.31h1.02V86.38h-1.02zM100.20 85.35h1.02V86.08h-1.02zM100.20 25.80h1.02V26.40h-1.02zM108.00 84.64h0.62V85.65h-0.62zM109.60 83.95h1.02V85.25h-1.02zM113.00 83.80h1.02V84.73h-1.02zM115.80 85.28h0.72V86.36h-0.72zM116.50 39.43h1.02V53.19h-1.02zM117.50 38.10h1.02V51.46h-1.02zM117.50 83.59h1.02V84.94h-1.02zM117.50 84.94h1.02V85.41h-1.02zM117.50 26.65h1.02V26.80h-1.02zM118.50 43.61h1.02V51.13h-1.02zM118.50 87.07h1.02V87.20h-1.02zM119.50 44.91h1.02V51.65h-1.02zM120.50 26.52h1.02V26.62h-1.02zM122.50 84.05h1.02V84.59h-1.02zM125.50 86.51h1.02V87.20h-1.02zM125.50 25.80h1.02V26.16h-1.02zM127.50 86.53h1.02V87.20h-1.02zM133.50 84.30h0.52V85.15h-0.52zM133.50 86.19h0.52V86.76h-0.52zM134.00 84.87h1.02V85.96h-1.02zM134.00 26.37h1.02V26.70h-1.02zM135.00 85.14h1.02V85.77h-1.02zM135.00 25.80h1.02V26.22h-1.02zM136.00 85.57h1.02V86.12h-1.02zM139.40 85.54h1.02V85.99h-1.02zM140.40 86.43h1.02V86.91h-1.02zM141.40 84.54h1.02V85.07h-1.02zM141.40 85.07h1.02V86.23h-1.02zM145.00 85.67h1.02V86.36h-1.02zM146.00 70.91h1.02V87.20h-1.02zM169.00 86.92h1.02V87.20h-1.02zM171.00 85.99h1.02V87.20h-1.02zM172.00 83.80h1.02V84.32h-1.02zM172.00 85.05h1.02V86.06h-1.02zM174.00 86.57h1.02V87.17h-1.02zM175.00 86.93h1.02V87.20h-1.02zM175.00 25.80h1.02V26.34h-1.02zM178.00 85.14h1.02V86.19h-1.02zM179.00 86.97h1.02V87.20h-1.02zM180.00 84.23h1.02V85.27h-1.02zM180.00 26.88h1.02V27.09h-1.02zM181.00 86.99h1.02V87.20h-1.02zM183.00 87.03h1.02V87.20h-1.02zM184.00 26.34h1.02V26.75h-1.02zM185.00 38.68h1.02V63.96h-1.02zM186.00 39.83h1.02V62.82h-1.02zM187.00 38.43h1.02V64.79h-1.02zM187.00 85.50h1.02V86.20h-1.02zM188.00 31.08h1.02V56.03h-1.02zM189.00 28.09h1.02V55.71h-1.02zM189.00 85.70h1.02V86.75h-1.02zM190.00 30.99h1.02V57.07h-1.02zM191.00 27.93h1.02V58.16h-1.02zM191.00 84.54h1.02V85.78h-1.02zM191.00 25.80h1.02V26.21h-1.02zM192.00 29.51h1.02V57.14h-1.02zM193.00 86.27h1.02V87.20h-1.02zM194.00 25.80h1.02V26.29h-1.02zM197.00 25.80h1.02V44.62h-1.02zM198.00 86.75h1.02V87.20h-1.02zM201.00 26.22h1.02V26.64h-1.02zM202.00 25.80h1.02V26.40h-1.02zM205.00 86.37h1.02V86.99h-1.02zM206.00 85.72h1.02V86.34h-1.02zM206.00 25.80h1.02V26.57h-1.02zM207.00 86.79h1.02V87.20h-1.02zM208.00 25.80h1.02V26.14h-1.02zM208.00 26.14h1.02V26.43h-1.02zM210.00 83.13h1.02V83.77h-1.02zM210.00 86.39h1.02V87.08h-1.02zM211.00 86.96h1.02V87.20h-1.02zM212.00 84.63h1.02V85.20h-1.02zM215.00 86.27h1.02V86.77h-1.02zM218.00 83.88h1.02V84.67h-1.02zM218.00 25.80h1.02V26.25h-1.02zM220.00 25.80h1.02V25.92h-1.02zM228.00 86.87h0.62V87.20h-0.62zM232.60 25.80h0.42V26.11h-0.42zM233.00 25.80h1.02V26.39h-1.02zM245.60 83.96h1.02V84.68h-1.02zM245.60 84.68h1.02V85.25h-1.02zM246.60 87.00h0.42V87.20h-0.42zM246.60 25.80h0.42V25.98h-0.42zM248.50 25.80h1.02V73.58h-1.02zM249.50 25.80h0.52V70.87h-0.52zM250.00 82.91h1.02V84.04h-1.02zM252.00 84.07h1.02V84.93h-1.02zM252.00 84.93h1.02V86.27h-1.02zM259.00 83.95h1.02V85.16h-1.02zM268.00 26.18h1.02V26.70h-1.02zM273.00 25.80h1.02V26.03h-1.02zM275.00 25.80h1.02V26.46h-1.02zM276.00 25.80h1.02V25.87h-1.02zM277.00 85.03h1.02V85.97h-1.02zM279.00 84.96h1.02V85.78h-1.02zM279.00 86.21h1.02V87.20h-1.02zM280.00 83.73h1.02V84.33h-1.02zM282.00 82.71h0.82V83.52h-0.82zM293.00 85.97h1.02V87.11h-1.02zM294.00 84.34h1.02V85.31h-1.02zM295.00 26.94h1.02V27.12h-1.02zM296.00 85.90h1.02V86.41h-1.02zM304.00 26.76h1.02V26.98h-1.02zM307.00 25.80h1.02V71.12h-1.02zM307.00 83.80h1.02V84.56h-1.02zM307.00 25.80h1.02V26.27h-1.02zM308.00 25.80h1.02V71.33h-1.02zM308.00 85.14h1.02V85.58h-1.02zM308.00 25.80h1.02V26.47h-1.02zM309.00 25.80h1.02V67.62h-1.02zM310.00 25.80h1.02V69.52h-1.02zM310.00 83.95h1.02V84.65h-1.02zM314.00 84.67h1.02V85.93h-1.02zM326.00 25.80h1.02V26.48h-1.02zM328.00 85.97h1.02V86.40h-1.02zM331.00 85.36h1.02V86.27h-1.02zM338.50 26.38h1.02V26.73h-1.02zM342.50 85.91h1.02V87.00h-1.02zM343.50 82.60h0.32V83.34h-0.32zM346.40 83.12h1.02V84.34h-1.02zM349.00 84.83h1.02V85.46h-1.02zM355.10 83.86h0.32V84.77h-0.32zM356.40 84.73h1.02V85.90h-1.02zM359.40 86.94h0.62V87.20h-0.62zM360.00 25.80h1.02V26.31h-1.02zM361.00 85.13h0.52V86.22h-0.52zM361.00 25.80h0.52V26.34h-0.52zM367.20 25.80h1.02V26.23h-1.02zM374.60 26.38h1.02V26.89h-1.02zM377.70 85.09h1.02V86.10h-1.02zM378.70 84.61h1.02V85.58h-1.02zM378.70 86.53h1.02V87.13h-1.02zM380.00 26.55h1.02V27.15h-1.02zM385.00 84.46h1.02V85.30h-1.02zM386.00 84.08h1.02V85.29h-1.02zM387.00 84.43h1.02V85.61h-1.02zM389.00 84.90h0.22V85.82h-0.22zM391.00 86.33h1.02V87.13h-1.02zM392.00 85.67h1.02V86.09h-1.02zM392.00 25.80h1.02V26.56h-1.02zM397.60 82.62h0.12V83.13h-0.12zM397.70 82.60h1.02V83.85h-1.02zM397.70 86.14h1.02V87.20h-1.02zM398.70 82.97h1.02V83.36h-1.02zM398.70 85.69h1.02V86.70h-1.02zM402.70 86.26h1.02V86.92h-1.02zM405.00 26.29h1.02V26.60h-1.02zM409.50 86.36h0.52V86.93h-0.52zM413.00 84.27h1.02V84.69h-1.02zM414.00 86.08h1.02V86.99h-1.02zM414.00 86.99h1.02V87.20h-1.02zM417.00 84.60h1.02V85.07h-1.02zM419.00 86.97h1.02V87.20h-1.02zM420.00 36.71h1.02V81.94h-1.02zM421.00 36.33h1.02V82.59h-1.02zM423.00 85.91h1.02V86.32h-1.02zM423.00 26.54h1.02V26.72h-1.02zM424.00 86.72h1.02V87.20h-1.02zM426.00 84.68h1.02V85.67h-1.02zM430.00 84.12h1.02V85.47h-1.02zM431.00 86.46h1.02V87.20h-1.02zM431.00 25.80h1.02V26.22h-1.02zM434.00 26.47h1.02V26.62h-1.02zM437.00 86.31h1.02V87.09h-1.02zM440.00 25.80h1.02V25.91h-1.02zM444.00 25.80h1.02V26.47h-1.02zM445.00 83.06h1.02V83.95h-1.02zM445.00 86.99h1.02V87.20h-1.02zM446.00 82.63h1.02V83.80h-1.02zM446.00 84.62h1.02V85.41h-1.02zM446.00 26.15h1.02V26.54h-1.02zM450.00 25.80h1.02V26.14h-1.02zM453.00 26.49h1.02V27.03h-1.02zM455.00 85.75h1.02V86.44h-1.02zM460.00 82.90h1.02V83.85h-1.02zM460.00 25.80h1.02V26.49h-1.02zM463.00 85.05h1.02V85.99h-1.02zM464.00 86.50h1.02V87.20h-1.02zM465.00 83.80h1.02V84.35h-1.02zM471.00 25.80h1.02V26.15h-1.02zM471.00 26.15h1.02V26.53h-1.02zM473.00 25.80h1.02V26.39h-1.02zM482.50 86.22h0.52V87.20h-0.52zM486.00 25.80h0.52V26.16h-0.52zM486.50 82.99h1.02V84.33h-1.02zM489.00 25.80h1.02V26.23h-1.02zM490.00 26.55h1.02V26.86h-1.02zM496.00 84.63h1.02V85.84h-1.02zM498.00 86.86h1.02V87.20h-1.02zM500.00 84.68h1.02V85.54h-1.02zM501.00 84.35h1.02V85.53h-1.02zM502.00 87.02h0.62V87.20h-0.62zM505.40 86.33h0.62V87.20h-0.62zM505.40 25.80h0.62V25.87h-0.62zM508.00 84.06h1.02V85.00h-1.02z"/>
<path fill="#ee3a2b" d="M24.00 25.80h1.02V26.55h-1.02zM27.00 85.76h1.02V86.19h-1.02zM28.00 83.89h0.52V84.91h-0.52zM32.00 25.80h1.02V26.26h-1.02zM32.00 26.26h1.02V26.59h-1.02zM33.00 87.07h0.52V87.20h-0.52zM34.50 84.05h1.02V85.32h-1.02zM35.50 84.44h0.52V84.89h-0.52zM37.00 45.93h1.02V53.69h-1.02zM37.00 84.46h1.02V85.32h-1.02zM40.50 86.62h0.52V87.20h-0.52zM45.00 82.69h1.02V83.12h-1.02zM45.00 84.62h1.02V85.55h-1.02zM48.00 26.23h1.00V26.83h-1.00zM55.00 26.78h1.02V27.06h-1.02zM57.80 84.28h1.02V85.39h-1.02zM57.80 85.39h1.02V86.04h-1.02zM59.00 25.80h1.02V25.97h-1.02zM62.00 84.36h0.82V85.45h-0.82zM63.80 25.80h1.02V26.26h-1.02zM71.00 87.06h0.52V87.20h-0.52zM71.50 25.80h1.02V26.47h-1.02zM72.50 86.54h0.22V87.20h-0.22zM75.70 83.66h0.12V84.46h-0.12zM75.80 83.84h1.02V84.72h-1.02zM75.80 84.72h1.02V85.15h-1.02zM78.40 84.98h1.02V85.88h-1.02zM80.00 82.95h1.02V83.63h-1.02zM82.60 83.71h1.02V84.59h-1.02zM82.60 85.95h1.02V86.40h-1.02zM85.60 26.44h1.02V26.95h-1.02zM90.90 86.73h0.72V87.20h-0.72zM93.40 85.71h1.02V86.90h-1.02zM95.10 25.80h1.02V26.12h-1.02zM97.10 85.52h0.12V86.07h-0.12zM97.20 85.26h1.02V85.86h-1.02zM98.20 84.06h1.02V85.31h-1.02zM99.20 86.03h1.02V86.93h-1.02zM108.00 84.11h0.62V84.64h-0.62zM112.00 85.03h1.02V85.83h-1.02zM112.00 85.83h1.02V86.30h-1.02zM112.00 86.30h1.02V87.04h-1.02zM114.80 83.85h1.02V84.83h-1.02zM116.50 86.12h1.02V86.57h-1.02zM119.50 25.80h1.02V26.30h-1.02zM120.50 86.74h1.02V87.19h-1.02zM126.50 85.64h1.02V86.88h-1.02zM126.50 26.14h1.02V26.70h-1.02zM127.50 26.22h1.02V26.86h-1.02zM136.00 86.12h1.02V86.53h-1.02zM137.00 83.01h1.02V83.81h-1.02zM139.40 85.99h1.02V86.72h-1.02zM139.40 26.15h1.02V26.80h-1.02zM140.40 25.80h1.02V26.22h-1.02zM143.00 85.07h1.02V86.38h-1.02zM144.00 84.75h1.02V85.31h-1.02zM146.00 25.80h1.02V26.39h-1.02zM167.00 84.92h1.02V86.23h-1.02zM172.00 86.06h1.02V86.63h-1.02zM181.00 82.67h1.02V83.66h-1.02zM184.00 25.80h1.02V26.34h-1.02zM187.00 86.20h1.02V87.20h-1.02zM189.00 86.75h1.02V87.20h-1.02zM190.00 25.80h1.02V26.17h-1.02zM191.00 26.21h1.02V26.75h-1.02zM192.00 83.95h1.02V84.41h-1.02zM192.00 84.41h1.02V85.69h-1.02zM192.00 25.80h1.02V26.36h-1.02zM195.00 26.14h1.02V26.73h-1.02zM199.00 26.28h1.02V26.63h-1.02zM200.00 83.88h1.02V84.58h-1.02zM200.00 84.58h1.02V85.40h-1.02zM200.00 26.38h1.02V26.50h-1.02zM201.00 83.99h1.02V84.97h-1.02zM202.00 86.69h1.02V87.20h-1.02zM203.00 86.76h1.02V87.20h-1.02zM204.00 86.57h1.02V87.20h-1.02zM208.00 85.76h1.02V86.19h-1.02zM212.00 26.74h1.02V27.06h-1.02zM213.00 85.77h1.02V86.56h-1.02zM215.00 86.77h1.02V87.20h-1.02zM223.00 25.80h1.02V26.19h-1.02zM224.00 85.37h1.02V86.70h-1.02zM226.00 25.80h1.02V26.38h-1.02zM227.00 27.01h1.02V27.07h-1.02zM238.00 25.80h1.02V26.29h-1.02zM241.00 84.33h0.22V85.11h-0.22zM242.60 86.96h1.02V87.20h-1.02zM243.60 83.55h1.02V84.22h-1.02zM245.60 85.78h1.02V86.68h-1.02zM246.60 85.85h0.42V87.00h-0.42zM247.00 25.80h1.02V26.11h-1.02zM248.50 85.66h1.02V86.45h-1.02zM250.00 26.49h1.02V26.64h-1.02zM251.00 83.21h1.02V83.76h-1.02zM255.00 85.84h1.02V87.12h-1.02zM255.00 26.69h1.02V26.84h-1.02zM258.00 82.66h1.02V83.08h-1.02zM258.00 25.80h1.02V26.32h-1.02zM260.00 87.09h1.02V87.20h-1.02zM261.00 51.94h1.02V70.87h-1.02zM261.00 86.53h1.02V87.20h-1.02zM263.00 85.56h1.02V86.71h-1.02zM264.00 25.80h1.02V26.39h-1.02zM265.00 53.55h1.02V87.20h-1.02zM266.00 52.83h1.02V87.20h-1.02zM275.00 26.46h1.02V26.93h-1.02zM278.00 85.41h1.02V86.43h-1.02zM278.00 25.80h1.02V26.47h-1.02zM278.00 26.47h1.02V26.68h-1.02zM282.00 25.80h0.82V26.49h-0.82zM289.00 26.18h1.02V26.58h-1.02zM290.00 85.20h1.02V86.28h-1.02zM292.00 84.25h1.02V85.24h-1.02zM293.00 85.47h1.02V85.97h-1.02zM298.00 25.80h1.02V26.14h-1.02zM305.00 64.49h1.02V87.20h-1.02zM305.00 83.71h1.02V84.92h-1.02zM306.00 62.21h1.02V87.20h-1.02zM306.00 84.65h1.02V85.05h-1.02zM306.00 85.05h1.02V85.84h-1.02zM310.00 26.33h1.02V26.51h-1.02zM315.00 86.61h1.02V87.20h-1.02zM321.00 85.07h1.02V86.18h-1.02zM321.00 25.80h1.02V26.38h-1.02zM323.00 86.04h1.02V87.20h-1.02zM325.00 84.65h1.02V85.66h-1.02zM325.00 26.72h1.02V26.87h-1.02zM329.00 84.02h1.02V85.09h-1.02zM333.30 83.62h1.02V84.93h-1.02zM333.30 86.00h1.02V87.20h-1.02zM333.30 25.80h1.02V26.07h-1.02zM334.30 25.80h0.32V26.42h-0.32zM334.30 26.85h0.32V26.94h-0.32zM336.50 26.26h1.02V26.33h-1.02zM339.50 25.80h1.02V26.43h-1.02zM341.50 84.92h1.02V85.43h-1.02zM343.50 87.08h0.32V87.20h-0.32zM343.80 86.14h1.02V86.94h-1.02zM344.80 86.85h0.62V87.20h-0.62zM345.40 85.67h1.02V86.57h-1.02zM346.40 86.46h1.02V87.00h-1.02zM346.40 25.80h1.02V26.12h-1.02zM350.80 27.68h1.02V50.11h-1.02zM351.80 29.99h1.02V47.21h-1.02zM351.80 85.71h1.02V86.10h-1.02zM352.80 31.25h0.32V47.63h-0.32zM352.80 25.80h0.32V26.47h-0.32zM353.10 86.94h1.02V87.20h-1.02zM360.00 84.96h1.02V86.11h-1.02zM360.00 86.93h1.02V87.20h-1.02zM361.50 25.80h1.02V26.41h-1.02zM362.50 26.20h1.02V26.53h-1.02zM363.50 25.80h1.02V26.11h-1.02zM364.50 25.80h0.12V26.12h-0.12zM366.20 25.80h1.02V26.46h-1.02zM370.20 25.80h1.02V26.10h-1.02zM371.20 25.80h1.02V26.30h-1.02zM374.60 25.80h1.02V26.38h-1.02zM381.00 25.80h1.02V26.08h-1.02zM383.00 25.80h1.02V26.18h-1.02zM383.00 26.18h1.02V26.34h-1.02zM384.00 85.70h1.02V86.28h-1.02zM384.00 25.80h1.02V26.23h-1.02zM385.00 85.30h1.02V85.77h-1.02zM388.00 86.12h1.02V86.92h-1.02zM390.20 25.80h0.82V26.41h-0.82zM395.60 83.36h1.02V84.61h-1.02zM395.60 25.80h1.02V26.44h-1.02zM397.60 84.34h0.12V85.55h-0.12zM398.70 26.16h1.02V26.60h-1.02zM399.70 86.04h1.02V87.10h-1.02zM407.00 86.42h1.02V87.20h-1.02zM408.00 86.38h0.52V87.20h-0.52zM408.50 84.76h1.02V85.22h-1.02zM409.50 26.46h0.52V27.03h-0.52zM411.00 83.49h1.02V84.31h-1.02zM415.00 84.97h1.02V86.29h-1.02zM416.00 25.80h1.02V26.06h-1.02zM417.00 86.60h1.02V87.20h-1.02zM418.00 84.56h1.02V84.98h-1.02zM420.00 83.88h1.02V85.11h-1.02zM420.00 25.80h1.02V26.16h-1.02zM421.00 25.80h1.02V26.16h-1.02zM421.00 26.16h1.02V26.59h-1.02zM422.00 84.95h1.02V85.66h-1.02zM425.00 83.95h1.02V85.13h-1.02zM430.00 25.80h1.02V26.37h-1.02zM432.00 86.24h1.02V87.20h-1.02zM433.00 83.70h1.02V84.35h-1.02zM433.00 84.35h1.02V84.90h-1.02zM438.00 82.78h1.02V83.41h-1.02zM438.00 83.41h1.02V83.94h-1.02zM440.00 83.25h1.02V84.61h-1.02zM441.00 84.73h1.02V86.01h-1.02zM442.00 85.91h1.02V86.61h-1.02zM445.00 83.95h1.02V85.05h-1.02zM446.00 86.37h1.02V86.95h-1.02zM449.00 85.51h1.02V85.99h-1.02zM450.00 86.17h1.02V86.78h-1.02zM451.00 86.27h1.02V87.20h-1.02zM457.00 45.37h1.02V71.05h-1.02zM457.00 86.52h1.02V87.20h-1.02zM458.00 42.71h1.02V74.07h-1.02zM458.00 83.46h1.02V84.65h-1.02zM458.00 25.80h1.02V26.42h-1.02zM459.00 63.57h1.02V87.20h-1.02zM459.00 86.74h1.02V87.20h-1.02zM460.00 63.57h1.02V87.20h-1.02zM461.00 25.80h1.02V87.20h-1.02zM461.00 83.03h1.02V83.98h-1.02zM462.00 25.80h1.02V87.20h-1.02zM462.00 85.81h1.02V87.07h-1.02zM463.00 74.73h1.02V87.20h-1.02zM464.00 72.90h1.02V87.20h-1.02zM465.00 26.28h1.02V26.52h-1.02zM482.50 84.64h0.52V85.29h-0.52zM486.50 86.88h1.02V87.20h-1.02zM487.50 25.80h0.52V26.57h-0.52zM493.00 85.20h1.02V86.35h-1.02zM501.00 87.13h1.02V87.20h-1.02zM501.00 26.11h1.02V26.28h-1.02zM502.00 83.07h0.62V84.25h-0.62zM504.40 86.60h1.02V87.05h-1.02zM509.00 85.20h1.02V86.11h-1.02z"/>
<path fill="#f2a5a2" d="M25.00 25.80h1.02V26.29h-1.02zM28.00 26.27h0.52V26.62h-0.52zM29.50 79.00h1.02V84.33h-1.02zM29.50 84.33h1.02V87.20h-1.02zM29.50 82.72h1.02V83.73h-1.02zM29.50 85.13h1.02V85.85h-1.02zM30.50 85.67h0.52V86.59h-0.52zM31.00 25.80h1.02V26.11h-1.02zM33.00 85.17h0.52V86.53h-0.52zM33.50 25.80h1.02V45.57h-1.02zM34.50 25.80h1.02V45.14h-1.02zM35.50 25.80h0.52V46.77h-0.52zM36.00 25.80h1.02V27.49h-1.02zM37.00 25.80h1.02V28.84h-1.02zM38.00 25.80h0.52V29.51h-0.52zM38.50 25.80h1.02V42.90h-1.02zM38.50 85.21h1.02V85.67h-1.02zM38.50 26.12h1.02V26.48h-1.02zM39.50 25.80h1.02V41.21h-1.02zM40.50 25.80h0.52V41.18h-0.52zM41.00 25.80h1.02V32.86h-1.02zM42.00 25.80h1.02V33.04h-1.02zM42.00 83.69h1.02V84.75h-1.02zM42.00 85.59h1.02V86.24h-1.02zM43.00 84.09h1.02V84.98h-1.02zM48.00 25.80h1.00V26.23h-1.00zM56.00 76.72h1.02V84.13h-1.02zM56.00 84.13h1.02V87.20h-1.02zM62.80 25.80h1.02V43.48h-1.02zM63.80 25.80h1.02V42.44h-1.02zM64.80 25.80h0.22V44.46h-0.22zM65.00 25.80h1.02V42.39h-1.02zM65.00 26.86h1.02V27.07h-1.02zM66.00 25.80h1.02V42.01h-1.02zM67.00 25.80h1.02V38.98h-1.02zM67.00 85.71h1.02V86.88h-1.02zM68.00 25.80h1.02V36.56h-1.02zM69.00 25.80h1.02V37.06h-1.02zM71.00 25.80h0.52V33.00h-0.52zM71.00 25.80h0.52V26.41h-0.52zM71.50 25.80h1.02V45.28h-1.02zM72.50 25.80h0.22V44.32h-0.22zM72.50 82.59h0.22V83.32h-0.22zM72.70 25.80h1.02V61.11h-1.02zM72.70 77.91h1.02V84.49h-1.02zM72.70 84.49h1.02V87.20h-1.02zM73.70 25.80h1.02V62.30h-1.02zM73.70 62.30h1.02V68.82h-1.02zM73.70 75.87h1.02V84.27h-1.02zM73.70 84.27h1.02V87.20h-1.02zM74.70 25.80h1.02V60.98h-1.02zM74.70 87.12h1.02V87.20h-1.02zM75.70 25.80h0.12V62.36h-0.12zM75.70 85.21h0.12V86.03h-0.12zM75.80 25.80h1.02V31.76h-1.02zM76.80 25.80h0.62V34.93h-0.62zM80.00 84.44h1.02V85.18h-1.02zM80.00 85.70h1.02V86.69h-1.02zM80.00 86.69h1.02V87.10h-1.02zM81.00 26.22h0.62V26.64h-0.62zM81.60 85.56h1.02V86.83h-1.02zM81.60 86.83h1.02V87.20h-1.02zM81.60 25.80h1.02V26.21h-1.02zM89.60 25.80h0.32V26.35h-0.32zM89.90 85.30h1.02V85.85h-1.02zM89.90 25.80h1.02V26.16h-1.02zM93.40 83.90h1.02V84.40h-1.02zM94.40 83.76h0.72V85.05h-0.72zM95.10 25.80h1.02V32.88h-1.02zM96.10 25.80h1.02V33.55h-1.02zM96.10 58.05h1.02V61.09h-1.02zM96.10 86.00h1.02V86.98h-1.02zM97.10 25.80h0.12V34.73h-0.12zM97.20 82.92h1.02V83.69h-1.02zM97.20 85.86h1.02V86.54h-1.02zM97.20 87.07h1.02V87.20h-1.02zM99.20 84.18h1.02V85.04h-1.02zM99.20 25.80h1.02V26.25h-1.02zM106.00 26.22h1.02V26.67h-1.02zM113.00 53.55h1.02V56.20h-1.02zM114.00 85.41h0.82V86.33h-0.82zM114.80 25.80h1.02V43.55h-1.02zM114.80 84.83h1.02V85.30h-1.02zM114.80 25.80h1.02V25.94h-1.02zM115.80 25.80h0.72V44.07h-0.72zM115.80 87.05h0.72V87.20h-0.72zM116.50 25.80h1.02V39.43h-1.02zM117.50 25.80h1.02V38.10h-1.02zM117.50 25.80h1.02V26.18h-1.02zM118.50 25.80h1.02V43.61h-1.02zM118.50 84.26h1.02V85.54h-1.02zM118.50 85.54h1.02V86.63h-1.02zM119.50 25.80h1.02V44.91h-1.02zM120.50 25.80h1.02V45.18h-1.02zM121.50 25.80h1.02V45.69h-1.02zM121.50 25.80h1.02V26.23h-1.02zM122.50 25.80h1.02V42.63h-1.02zM123.50 25.80h1.02V41.89h-1.02zM124.50 26.48h1.02V26.87h-1.02zM125.50 25.80h1.02V47.98h-1.02zM127.50 25.80h1.02V37.97h-1.02zM127.50 84.16h1.02V84.77h-1.02zM128.50 25.80h0.12V36.16h-0.12zM128.60 25.80h1.02V51.03h-1.02zM129.60 25.80h0.92V48.65h-0.92zM130.50 25.80h1.02V49.53h-1.02zM131.50 25.80h1.02V52.69h-1.02zM131.50 52.69h1.02V57.28h-1.02zM131.50 25.80h1.02V26.19h-1.02zM132.50 25.80h1.02V49.82h-1.02zM133.50 25.80h0.52V52.04h-0.52zM133.50 67.93h0.52V69.30h-0.52zM133.50 86.76h0.52V87.20h-0.52zM134.00 25.80h1.02V52.42h-1.02zM135.00 25.80h1.02V53.15h-1.02zM135.00 85.77h1.02V87.10h-1.02zM136.00 25.80h1.02V43.43h-1.02zM136.00 25.80h1.02V26.39h-1.02zM136.00 26.39h1.02V26.61h-1.02zM137.00 25.80h1.02V44.54h-1.02zM137.00 54.80h1.02V59.36h-1.02zM137.00 85.82h1.02V86.71h-1.02zM137.00 26.47h1.02V26.98h-1.02zM138.00 25.80h1.02V43.14h-1.02zM138.00 83.20h1.02V83.75h-1.02zM139.00 25.80h0.42V44.24h-0.42zM143.00 25.80h1.02V30.26h-1.02zM143.00 49.03h1.02V54.88h-1.02zM143.00 54.88h1.02V55.01h-1.02zM144.00 25.80h1.02V31.59h-1.02zM145.00 86.36h1.02V86.85h-1.02zM146.00 84.43h1.02V85.31h-1.02zM147.00 82.99h1.02V83.64h-1.02zM147.00 25.80h1.02V26.38h-1.02zM161.00 26.42h1.00V26.73h-1.00zM168.00 82.85h1.02V83.31h-1.02zM169.00 70.07h1.02V72.66h-1.02zM170.00 70.48h1.02V74.29h-1.02zM170.00 84.23h1.02V84.71h-1.02zM170.00 86.50h1.02V87.20h-1.02zM172.00 79.70h1.02V85.72h-1.02zM182.00 84.92h1.02V85.65h-1.02zM182.00 86.37h1.02V87.08h-1.02zM183.00 84.39h1.02V85.74h-1.02zM186.00 75.08h1.02V83.67h-1.02zM186.00 86.99h1.02V87.20h-1.02zM187.00 26.39h1.02V26.46h-1.02zM188.00 85.23h1.02V86.47h-1.02zM190.00 84.97h1.02V85.49h-1.02zM192.00 85.69h1.02V86.92h-1.02zM193.00 71.42h1.02V75.52h-1.02zM193.00 79.49h1.02V83.21h-1.02zM194.00 25.80h1.02V48.10h-1.02zM194.00 84.83h1.02V85.42h-1.02zM195.00 25.80h1.02V47.97h-1.02zM196.00 25.80h1.02V48.05h-1.02zM196.00 83.20h1.02V84.21h-1.02zM196.00 86.41h1.02V87.20h-1.02zM198.00 83.61h1.02V84.35h-1.02zM198.00 84.35h1.02V85.06h-1.02zM200.00 82.17h1.02V87.20h-1.02zM204.00 84.62h1.02V85.52h-1.02zM205.00 25.80h1.02V51.93h-1.02zM206.00 25.80h1.02V55.06h-1.02zM207.00 25.80h1.02V51.08h-1.02zM208.00 25.80h1.02V52.81h-1.02zM209.00 25.80h1.02V54.72h-1.02zM209.00 84.71h1.02V85.57h-1.02zM209.00 25.80h1.02V25.99h-1.02zM210.00 25.80h1.02V56.30h-1.02zM211.00 25.80h1.02V58.69h-1.02zM211.00 84.02h1.02V84.95h-1.02zM211.00 84.95h1.02V86.06h-1.02zM212.00 25.80h1.02V59.38h-1.02zM212.00 83.39h1.02V84.63h-1.02zM212.00 85.20h1.02V86.21h-1.02zM213.00 25.80h1.02V59.37h-1.02zM213.00 85.29h1.02V85.77h-1.02zM214.00 25.80h1.02V55.82h-1.02zM215.00 25.80h1.02V57.16h-1.02zM216.00 25.80h1.02V55.71h-1.02zM216.00 26.64h1.02V26.95h-1.02zM217.00 25.80h1.02V55.86h-1.02zM217.00 25.80h1.02V26.02h-1.02zM220.00 84.19h1.02V84.59h-1.02zM221.00 26.45h1.02V26.77h-1.02zM223.00 83.90h1.02V84.36h-1.02zM227.00 25.80h1.02V26.53h-1.02zM239.00 85.53h1.02V86.48h-1.02zM240.00 68.08h1.02V75.61h-1.02zM240.00 86.99h1.02V87.20h-1.02zM242.60 85.16h1.02V86.42h-1.02zM243.60 84.73h1.02V85.87h-1.02zM247.00 43.35h1.02V64.70h-1.02zM247.00 64.70h1.02V72.83h-1.02zM247.00 80.83h1.02V87.20h-1.02zM248.00 45.16h0.52V60.86h-0.52zM248.50 86.45h1.02V87.20h-1.02zM249.50 25.80h0.52V25.90h-0.52zM250.00 25.80h1.02V34.73h-1.02zM250.00 85.38h1.02V86.53h-1.02zM250.00 26.10h1.02V26.49h-1.02zM251.00 25.80h1.02V34.21h-1.02zM251.00 84.46h1.02V85.15h-1.02zM252.00 25.80h1.02V41.26h-1.02zM252.00 25.80h1.02V26.09h-1.02zM253.00 25.80h1.02V39.96h-1.02zM253.00 86.71h1.02V87.20h-1.02zM257.00 83.08h1.02V84.25h-1.02zM258.00 82.18h1.02V85.28h-1.02zM260.00 25.80h1.02V55.33h-1.02zM260.00 85.41h1.02V85.88h-1.02zM260.00 26.51h1.02V26.73h-1.02zM261.00 25.80h1.02V51.94h-1.02zM261.00 84.06h1.02V85.27h-1.02zM262.00 25.80h1.02V52.03h-1.02zM262.00 85.42h1.02V85.97h-1.02zM265.00 25.80h1.02V53.55h-1.02zM266.00 25.80h1.02V52.83h-1.02zM266.00 85.26h1.02V86.46h-1.02zM277.00 67.77h1.02V75.97h-1.02zM277.00 82.99h1.02V83.71h-1.02zM278.00 84.52h1.02V85.41h-1.02zM279.00 25.80h1.02V44.76h-1.02zM280.00 25.80h1.02V44.18h-1.02zM281.00 25.80h1.02V44.61h-1.02zM281.00 86.79h1.02V87.20h-1.02zM282.00 25.80h0.82V44.70h-0.82zM282.00 80.49h0.82V87.20h-0.82zM282.00 83.52h0.82V84.01h-0.82zM291.00 26.76h1.02V26.85h-1.02zM299.00 82.63h1.02V83.25h-1.02zM300.00 86.89h1.02V87.20h-1.02zM302.00 70.86h1.02V79.24h-1.02zM302.00 84.70h1.02V85.36h-1.02zM303.00 44.61h1.02V47.59h-1.02zM304.00 58.78h1.02V63.86h-1.02zM305.00 85.50h1.02V85.94h-1.02zM306.00 25.80h1.02V26.41h-1.02zM307.00 86.17h1.02V87.20h-1.02zM309.00 84.25h1.02V85.52h-1.02zM311.00 25.80h1.02V47.57h-1.02zM311.00 86.91h1.02V87.20h-1.02zM312.00 25.80h1.02V46.35h-1.02zM313.00 25.80h1.02V49.40h-1.02zM314.00 25.80h1.02V46.40h-1.02zM314.00 83.63h1.02V84.07h-1.02zM314.00 84.07h1.02V84.67h-1.02zM315.00 25.80h1.02V48.83h-1.02zM315.00 25.80h1.02V26.14h-1.02zM320.00 86.41h1.02V87.20h-1.02zM322.00 83.60h1.02V84.77h-1.02zM324.00 50.36h1.02V54.19h-1.02zM324.00 81.94h1.02V87.20h-1.02zM324.00 85.99h1.02V86.41h-1.02zM324.00 86.41h1.02V86.96h-1.02zM325.00 40.67h1.02V45.39h-1.02zM325.00 45.39h1.02V49.88h-1.02zM326.00 78.92h1.02V84.97h-1.02zM327.00 85.70h1.02V86.78h-1.02zM330.00 25.80h1.02V31.47h-1.02zM330.00 41.83h1.02V46.49h-1.02zM331.00 25.80h1.02V34.80h-1.02zM332.00 25.80h0.32V32.34h-0.32zM332.00 54.01h0.32V59.96h-0.32zM334.30 85.51h0.32V85.96h-0.32zM334.60 53.87h1.02V58.00h-1.02zM335.60 58.43h0.92V64.13h-0.92zM335.60 77.35h0.92V86.08h-0.92zM339.50 65.55h1.02V87.20h-1.02zM341.50 26.13h1.02V26.58h-1.02zM342.50 84.57h1.02V85.39h-1.02zM343.80 85.63h1.02V86.14h-1.02zM343.80 86.94h1.02V87.20h-1.02zM344.80 66.53h0.62V74.83h-0.62zM345.40 83.87h1.02V84.53h-1.02zM347.40 25.80h0.62V38.13h-0.62zM347.40 26.28h0.62V26.76h-0.62zM350.00 31.20h0.82V33.98h-0.82zM350.80 50.11h1.02V52.58h-1.02zM355.40 86.43h1.02V87.20h-1.02zM359.40 84.89h0.62V85.70h-0.62zM365.60 83.40h0.62V84.27h-0.62zM377.70 84.08h1.02V84.55h-1.02zM388.00 25.80h1.02V26.20h-1.02zM388.00 26.20h1.02V26.41h-1.02zM391.00 83.46h1.02V84.29h-1.02zM391.00 87.13h1.02V87.20h-1.02zM392.00 85.07h1.02V85.67h-1.02zM395.60 30.18h1.02V38.50h-1.02zM400.70 86.83h1.02V87.20h-1.02zM408.00 83.93h0.52V85.03h-0.52zM410.00 83.28h1.02V87.20h-1.02zM410.00 82.97h1.02V84.18h-1.02zM411.00 64.68h1.02V69.37h-1.02zM411.00 78.42h1.02V84.58h-1.02zM411.00 85.23h1.02V85.83h-1.02zM412.00 83.05h1.02V87.20h-1.02zM417.00 66.85h1.02V75.20h-1.02zM417.00 83.11h1.02V84.03h-1.02zM418.00 25.80h1.02V38.59h-1.02zM419.00 79.53h1.02V83.07h-1.02zM419.00 26.34h1.02V26.50h-1.02zM428.00 84.22h1.02V84.97h-1.02zM430.00 26.37h1.02V26.72h-1.02zM434.00 85.17h1.02V86.02h-1.02zM435.00 25.80h1.02V58.85h-1.02zM435.00 70.75h1.02V77.53h-1.02zM436.00 25.80h1.02V58.21h-1.02zM437.00 25.80h1.02V58.67h-1.02zM438.00 25.80h1.02V57.05h-1.02zM438.00 70.64h1.02V74.31h-1.02zM438.00 86.33h1.02V86.77h-1.02zM439.00 25.80h1.02V57.48h-1.02zM440.00 25.80h1.02V58.72h-1.02zM440.00 86.78h1.02V87.20h-1.02zM441.00 25.80h1.02V26.10h-1.02zM442.00 50.82h1.02V72.20h-1.02zM442.00 72.20h1.02V80.46h-1.02zM443.00 50.50h1.02V58.73h-1.02zM444.00 59.28h1.02V62.18h-1.02zM444.00 82.55h1.02V82.99h-1.02zM445.00 25.80h1.02V43.50h-1.02zM445.00 25.80h1.02V26.07h-1.02zM446.00 25.80h1.02V45.01h-1.02zM447.00 25.80h1.02V44.35h-1.02zM447.00 83.91h1.02V85.26h-1.02zM447.00 86.24h1.02V86.94h-1.02zM448.00 25.80h1.02V42.08h-1.02zM453.00 41.94h1.02V44.54h-1.02zM453.00 44.54h1.02V53.14h-1.02zM453.00 85.66h1.02V86.92h-1.02zM453.00 25.80h1.02V26.49h-1.02zM454.00 40.82h1.02V44.96h-1.02zM454.00 56.12h1.02V62.41h-1.02zM454.00 84.76h1.02V87.20h-1.02zM454.00 25.80h1.02V26.07h-1.02zM462.00 25.80h1.02V25.89h-1.02zM463.00 72.86h1.02V74.73h-1.02zM464.00 70.86h1.02V72.90h-1.02zM467.00 84.88h1.02V85.60h-1.02zM482.50 85.29h0.52V86.22h-0.52zM484.00 25.80h1.02V26.09h-1.02zM485.00 25.80h1.02V26.51h-1.02zM494.00 85.25h1.02V86.05h-1.02zM494.00 86.95h1.02V87.20h-1.02zM494.00 25.80h1.02V26.33h-1.02zM494.00 26.78h1.02V27.08h-1.02zM495.00 25.80h1.02V25.94h-1.02zM497.00 26.54h1.02V26.83h-1.02zM504.40 25.80h1.02V26.12h-1.02zM508.00 25.80h1.02V26.35h-1.02zM511.00 85.29h0.42V86.51h-0.42z"/>
<path fill="#f0e428" d="M25.00 84.86h1.02V85.38h-1.02zM27.00 84.46h1.02V85.76h-1.02zM28.50 38.23h1.02V43.57h-1.02zM28.50 62.68h1.02V66.28h-1.02zM28.50 83.86h1.02V84.91h-1.02zM29.50 37.86h1.02V43.65h-1.02zM29.50 63.01h1.02V65.68h-1.02zM30.50 38.95h0.52V43.22h-0.52zM30.50 59.09h0.52V64.73h-0.52zM31.00 85.36h1.02V85.98h-1.02zM32.00 26.59h1.02V26.94h-1.02zM43.00 85.45h1.02V85.93h-1.02zM43.00 85.93h1.02V86.89h-1.02zM45.00 58.61h1.02V75.47h-1.02zM57.80 86.66h1.02V87.20h-1.02zM59.00 83.33h1.02V84.12h-1.02zM60.00 84.66h1.02V85.29h-1.02zM60.00 85.29h1.02V86.31h-1.02zM61.00 83.67h1.02V84.06h-1.02zM63.80 84.64h1.02V85.25h-1.02zM66.00 82.67h1.02V83.14h-1.02zM66.00 87.13h1.02V87.20h-1.02zM67.00 84.50h1.02V85.29h-1.02zM69.00 25.80h1.02V26.25h-1.02zM72.70 84.45h1.02V85.49h-1.02zM74.70 85.98h1.02V86.59h-1.02zM75.80 31.76h1.02V76.69h-1.02zM75.80 25.80h1.02V25.87h-1.02zM76.80 34.93h0.62V76.21h-0.62zM78.40 83.06h1.02V83.77h-1.02zM80.00 54.18h1.02V79.58h-1.02zM81.00 53.51h0.62V77.04h-0.62zM88.60 26.46h1.02V26.84h-1.02zM89.60 26.35h0.32V26.44h-0.32zM94.40 26.77h0.72V27.08h-0.72zM97.10 86.07h0.12V86.56h-0.12zM97.20 25.80h1.02V26.53h-1.02zM98.20 26.22h1.02V26.39h-1.02zM99.20 85.04h1.02V86.03h-1.02zM106.00 25.80h1.02V26.22h-1.02zM108.00 85.65h0.62V86.82h-0.62zM108.60 83.89h1.02V84.95h-1.02zM110.60 86.79h1.02V87.20h-1.02zM113.00 85.40h1.02V86.60h-1.02zM114.00 84.48h0.82V85.41h-0.82zM115.80 86.36h0.72V87.05h-0.72zM116.50 26.41h1.02V26.94h-1.02zM121.50 84.43h1.02V85.05h-1.02zM123.50 41.89h1.02V51.97h-1.02zM123.50 83.56h1.02V83.96h-1.02zM124.50 25.80h1.02V45.62h-1.02zM125.50 26.47h1.02V26.63h-1.02zM128.60 51.03h1.02V67.56h-1.02zM129.60 48.65h0.92V65.47h-0.92zM134.00 52.42h1.02V66.81h-1.02zM135.00 53.15h1.02V64.93h-1.02zM136.00 84.73h1.02V85.57h-1.02zM136.00 86.53h1.02V87.20h-1.02zM137.00 86.71h1.02V87.20h-1.02zM138.00 25.80h1.02V25.98h-1.02zM139.40 86.72h1.02V87.17h-1.02zM140.40 26.86h1.02V27.16h-1.02zM142.40 86.73h0.62V87.20h-0.62zM144.00 25.80h1.02V26.53h-1.02zM145.00 52.68h1.02V70.52h-1.02zM146.00 53.16h1.02V70.91h-1.02zM147.00 85.97h1.02V86.80h-1.02zM150.00 81.06h1.02V84.97h-1.02zM153.00 25.80h1.00V26.28h-1.00zM158.00 83.40h1.02V87.20h-1.02zM160.00 79.98h1.02V83.03h-1.02zM163.00 81.22h1.02V84.09h-1.02zM164.00 84.58h1.02V85.86h-1.02zM164.00 85.86h1.02V86.92h-1.02zM164.00 26.23h1.02V26.69h-1.02zM167.00 25.80h1.02V26.50h-1.02zM168.00 87.05h1.02V87.20h-1.02zM170.00 62.38h1.02V70.48h-1.02zM170.00 83.41h1.02V84.23h-1.02zM171.00 64.66h1.02V70.54h-1.02zM172.00 60.78h1.02V73.41h-1.02zM175.00 85.41h1.02V85.88h-1.02zM176.00 85.29h1.02V86.48h-1.02zM177.00 84.85h1.02V85.93h-1.02zM181.00 83.66h1.02V84.71h-1.02zM184.00 26.75h1.02V26.81h-1.02zM185.00 83.77h1.02V84.56h-1.02zM188.00 25.80h1.02V26.25h-1.02zM192.00 86.92h1.02V87.20h-1.02zM198.00 25.80h1.02V26.22h-1.02zM198.00 26.22h1.02V26.67h-1.02zM200.00 25.80h1.02V26.38h-1.02zM206.00 82.60h1.02V83.73h-1.02zM210.00 83.77h1.02V84.45h-1.02zM210.00 84.45h1.02V85.34h-1.02zM210.00 87.08h1.02V87.20h-1.02zM211.00 86.06h1.02V86.96h-1.02zM215.00 84.46h1.02V85.56h-1.02zM215.00 85.56h1.02V86.27h-1.02zM217.00 55.86h1.02V64.00h-1.02zM218.00 25.80h1.02V72.17h-1.02zM219.00 25.80h1.02V71.66h-1.02zM222.00 85.74h1.02V86.53h-1.02zM228.00 84.36h0.62V85.55h-0.62zM229.60 26.26h1.02V26.42h-1.02zM232.60 26.11h0.42V26.73h-0.42zM233.00 85.02h1.02V86.28h-1.02zM241.00 85.11h0.22V85.76h-0.22zM242.60 26.42h1.02V26.56h-1.02zM244.60 83.99h1.02V85.04h-1.02zM244.60 26.40h1.02V26.75h-1.02zM248.50 83.93h1.02V84.89h-1.02zM252.00 86.76h1.02V87.20h-1.02zM253.00 85.44h1.02V86.71h-1.02zM257.00 84.25h1.02V85.09h-1.02zM257.00 25.80h1.02V26.37h-1.02zM260.00 25.80h1.02V26.51h-1.02zM263.00 25.80h1.02V36.38h-1.02zM264.00 25.80h1.02V39.00h-1.02zM264.00 84.37h1.02V85.04h-1.02zM277.00 25.80h1.02V26.15h-1.02zM281.00 83.41h1.02V84.07h-1.02zM282.00 85.95h0.82V87.19h-0.82zM294.00 25.80h1.02V26.38h-1.02zM295.00 26.49h1.02V26.94h-1.02zM303.00 85.53h1.02V86.15h-1.02zM303.00 86.15h1.02V87.20h-1.02zM305.00 41.70h1.02V64.49h-1.02zM305.00 84.92h1.02V85.50h-1.02zM306.00 42.25h1.02V62.21h-1.02zM306.00 83.25h1.02V83.99h-1.02zM309.00 26.40h1.02V26.97h-1.02zM310.00 25.80h1.02V26.33h-1.02zM312.00 85.40h1.02V86.21h-1.02zM313.00 84.22h1.02V85.20h-1.02zM315.00 85.95h1.02V86.61h-1.02zM318.00 84.22h1.02V84.95h-1.02zM319.00 25.80h1.02V26.56h-1.02zM321.00 86.71h1.02V87.20h-1.02zM325.00 26.34h1.02V26.72h-1.02zM326.00 64.89h1.02V74.19h-1.02zM327.00 63.11h1.02V73.99h-1.02zM327.00 84.74h1.02V85.70h-1.02zM331.00 84.91h1.02V85.36h-1.02zM334.60 85.87h1.02V86.92h-1.02zM336.50 82.55h1.02V83.00h-1.02zM337.50 25.80h1.02V25.92h-1.02zM338.50 86.44h1.02V87.20h-1.02zM339.50 85.38h1.02V86.43h-1.02zM340.50 66.94h1.02V87.20h-1.02zM340.50 84.08h1.02V84.51h-1.02zM340.50 84.51h1.02V85.57h-1.02zM341.50 84.46h1.02V84.92h-1.02zM345.40 39.29h1.02V61.52h-1.02zM345.40 84.53h1.02V85.25h-1.02zM346.40 37.05h1.02V62.74h-1.02zM347.40 38.13h0.62V59.45h-0.62zM347.40 85.28h0.62V86.10h-0.62zM349.00 84.33h1.02V84.83h-1.02zM349.00 86.26h1.02V87.20h-1.02zM351.80 83.84h1.02V84.56h-1.02zM351.80 84.97h1.02V85.71h-1.02zM351.80 86.69h1.02V87.20h-1.02zM356.40 25.80h1.02V26.14h-1.02zM360.00 26.31h1.02V26.65h-1.02zM365.60 86.36h0.62V87.20h-0.62zM374.00 84.29h0.62V85.05h-0.62zM374.00 85.05h0.62V86.35h-0.62zM374.00 25.80h0.62V26.44h-0.62zM377.60 26.12h0.12V26.77h-0.12zM377.70 25.80h1.02V25.99h-1.02zM378.70 85.58h1.02V86.08h-1.02zM379.70 25.80h0.32V26.27h-0.32zM384.00 84.35h1.02V84.93h-1.02zM384.00 84.93h1.02V85.70h-1.02zM384.00 26.80h1.02V27.13h-1.02zM387.00 86.28h1.02V86.93h-1.02zM387.00 86.93h1.02V87.20h-1.02zM389.20 57.65h1.02V63.35h-1.02zM390.20 56.14h0.82V65.34h-0.82zM391.00 26.21h1.02V26.60h-1.02zM392.00 86.09h1.02V86.53h-1.02zM392.00 26.56h1.02V26.75h-1.02zM393.00 85.24h0.42V86.16h-0.42zM396.60 25.80h1.02V26.14h-1.02zM397.60 83.13h0.12V84.34h-0.12zM401.70 83.82h1.02V85.06h-1.02zM404.70 25.80h0.32V26.17h-0.32zM408.50 26.12h1.02V26.21h-1.02zM415.00 86.77h1.02V87.20h-1.02zM420.00 86.18h1.02V86.78h-1.02zM422.00 85.66h1.02V86.46h-1.02zM422.00 87.08h1.02V87.20h-1.02zM423.00 82.55h1.02V83.65h-1.02zM424.00 85.37h1.02V86.22h-1.02zM425.00 26.16h1.02V26.74h-1.02zM431.00 26.22h1.02V26.88h-1.02zM435.00 84.22h1.02V84.73h-1.02zM435.00 85.26h1.02V86.18h-1.02zM436.00 84.23h1.02V84.93h-1.02zM436.00 85.83h1.02V87.13h-1.02zM440.00 85.99h1.02V86.46h-1.02zM441.00 55.11h1.02V72.96h-1.02zM441.00 84.21h1.02V84.73h-1.02zM443.00 25.80h1.02V41.83h-1.02zM444.00 25.80h1.02V45.48h-1.02zM446.00 85.41h1.02V86.37h-1.02zM449.00 87.11h1.02V87.20h-1.02zM449.00 25.80h1.02V26.39h-1.02zM452.00 84.87h1.02V86.09h-1.02zM454.00 84.45h1.02V84.90h-1.02zM455.00 86.44h1.02V87.16h-1.02zM456.00 85.82h1.02V86.81h-1.02zM459.00 25.80h1.02V63.57h-1.02zM460.00 25.80h1.02V63.57h-1.02zM463.00 84.28h1.02V85.05h-1.02zM464.00 83.98h1.02V85.33h-1.02zM466.00 83.80h1.02V84.51h-1.02zM467.00 25.80h1.02V55.81h-1.02zM468.00 25.80h1.02V57.38h-1.02zM468.00 25.80h1.02V26.44h-1.02zM486.50 84.73h1.02V85.31h-1.02zM502.00 25.80h0.62V26.22h-0.62zM510.00 83.83h1.02V85.00h-1.02zM510.00 85.00h1.02V85.43h-1.02z"/>
<path fill="#d9aa66" d="M25.00 86.86h1.02V87.20h-1.02zM26.00 25.80h1.02V53.39h-1.02zM26.00 85.71h1.02V86.34h-1.02zM27.00 25.80h1.02V54.16h-1.02zM27.00 83.34h1.02V84.46h-1.02zM28.00 25.80h0.52V55.17h-0.52zM28.50 84.91h1.02V86.24h-1.02zM28.50 86.24h1.02V86.71h-1.02zM33.00 84.07h0.52V85.17h-0.52zM33.50 84.20h1.02V85.32h-1.02zM36.00 26.53h1.02V27.06h-1.02zM37.00 85.32h1.02V86.52h-1.02zM39.50 84.41h1.02V85.06h-1.02zM42.00 84.75h1.02V85.59h-1.02zM43.00 26.13h1.02V26.66h-1.02zM44.00 86.63h1.02V87.20h-1.02zM60.00 25.80h1.02V26.56h-1.02zM61.00 25.80h1.02V26.14h-1.02zM62.00 25.80h0.82V26.09h-0.82zM62.00 26.81h0.82V26.86h-0.82zM64.80 25.80h0.22V26.33h-0.22zM65.00 83.33h1.02V84.41h-1.02zM65.00 25.80h1.02V26.25h-1.02zM68.00 25.80h1.02V26.49h-1.02zM68.00 26.49h1.02V27.05h-1.02zM69.00 85.48h1.02V86.25h-1.02zM71.00 83.00h0.52V83.63h-0.52zM73.70 84.47h1.02V85.61h-1.02zM74.70 83.77h1.02V84.97h-1.02zM76.80 86.21h0.62V87.20h-0.62zM77.40 84.14h1.02V85.33h-1.02zM79.40 86.39h0.62V87.20h-0.62zM81.00 83.74h0.62V84.59h-0.62zM81.00 84.99h0.62V85.62h-0.62zM81.60 84.69h1.02V85.56h-1.02zM89.90 86.27h1.02V87.20h-1.02zM89.90 26.16h1.02V26.27h-1.02zM97.10 86.56h0.12V87.10h-0.12zM98.20 86.38h1.02V86.99h-1.02zM99.20 86.93h1.02V87.20h-1.02zM107.00 25.80h1.02V26.32h-1.02zM108.60 25.80h1.02V28.44h-1.02zM109.60 25.80h1.02V30.28h-1.02zM109.60 82.69h1.02V83.95h-1.02zM110.60 25.80h1.02V30.32h-1.02zM110.60 86.06h1.02V86.79h-1.02zM111.60 25.80h0.42V31.05h-0.42zM114.80 86.34h1.02V87.20h-1.02zM116.50 25.80h1.02V26.41h-1.02zM118.50 26.28h1.02V26.64h-1.02zM119.50 85.47h1.02V86.52h-1.02zM128.60 84.30h1.02V85.47h-1.02zM128.60 25.80h1.02V26.53h-1.02zM129.60 86.23h0.92V87.20h-0.92zM129.60 25.80h0.92V26.36h-0.92zM129.60 26.36h0.92V26.77h-0.92zM131.50 84.59h1.02V85.31h-1.02zM135.00 83.98h1.02V84.59h-1.02zM138.00 86.08h1.02V86.99h-1.02zM145.00 25.80h1.02V52.68h-1.02zM146.00 25.80h1.02V53.16h-1.02zM146.00 82.91h1.02V83.89h-1.02zM146.00 85.31h1.02V85.80h-1.02zM149.00 25.80h1.00V26.14h-1.00zM149.00 26.14h1.00V26.60h-1.00zM152.00 25.80h1.00V26.17h-1.00zM165.00 25.80h1.02V26.16h-1.02zM166.00 82.70h1.02V83.71h-1.02zM166.00 25.80h1.02V26.21h-1.02zM169.00 83.97h1.02V84.68h-1.02zM170.00 25.80h1.02V35.94h-1.02zM170.00 82.80h1.02V83.41h-1.02zM170.00 26.51h1.02V26.95h-1.02zM172.00 25.80h1.02V35.05h-1.02zM174.00 83.81h1.02V84.31h-1.02zM176.00 25.80h1.02V26.47h-1.02zM181.00 84.71h1.02V85.93h-1.02zM181.00 26.80h1.02V27.11h-1.02zM182.00 25.80h1.02V26.11h-1.02zM182.00 26.11h1.02V26.76h-1.02zM184.00 84.07h1.02V85.31h-1.02zM186.00 84.16h1.02V84.86h-1.02zM191.00 84.01h1.02V84.54h-1.02zM191.00 85.78h1.02V87.07h-1.02zM193.00 25.80h1.02V26.56h-1.02zM198.00 26.67h1.02V26.82h-1.02zM202.00 86.06h1.02V86.69h-1.02zM207.00 25.80h1.02V26.40h-1.02zM213.00 25.80h1.02V26.43h-1.02zM215.00 83.88h1.02V84.46h-1.02zM218.00 86.51h1.02V87.06h-1.02zM219.00 25.80h1.02V26.19h-1.02zM222.00 84.37h1.02V85.34h-1.02zM222.00 26.17h1.02V26.50h-1.02zM225.00 26.50h1.02V26.82h-1.02zM230.60 26.23h1.02V26.64h-1.02zM233.00 26.39h1.02V26.88h-1.02zM239.00 82.59h1.02V83.30h-1.02zM239.00 83.69h1.02V84.95h-1.02zM239.00 86.48h1.02V87.20h-1.02zM240.00 25.80h1.02V26.02h-1.02zM244.60 86.74h1.02V87.20h-1.02zM249.50 86.18h0.52V86.68h-0.52zM255.00 82.72h1.02V83.69h-1.02zM257.00 26.37h1.02V26.56h-1.02zM261.00 85.98h1.02V86.53h-1.02zM263.00 26.60h1.02V27.04h-1.02zM268.00 25.80h1.02V26.18h-1.02zM281.00 84.07h1.02V84.61h-1.02zM281.00 84.61h1.02V85.97h-1.02zM281.00 86.93h1.02V87.20h-1.02zM282.00 85.28h0.82V85.95h-0.82zM291.00 25.80h1.02V56.59h-1.02zM298.00 85.87h1.02V86.81h-1.02zM299.00 85.51h1.02V86.09h-1.02zM300.00 26.56h1.02V26.86h-1.02zM303.00 84.33h1.02V85.53h-1.02zM304.00 83.92h1.02V85.02h-1.02zM312.00 26.97h1.02V27.07h-1.02zM313.00 86.56h1.02V87.20h-1.02zM316.00 83.02h1.02V83.91h-1.02zM316.00 83.91h1.02V84.53h-1.02zM317.00 85.12h1.02V86.17h-1.02zM317.00 86.17h1.02V86.88h-1.02zM318.00 84.95h1.02V85.64h-1.02zM319.00 86.06h1.02V86.59h-1.02zM324.00 26.17h1.02V26.55h-1.02zM325.00 85.66h1.02V86.43h-1.02zM326.00 25.80h1.02V64.89h-1.02zM327.00 25.80h1.02V63.11h-1.02zM328.00 25.80h1.02V87.20h-1.02zM329.00 25.80h1.02V87.20h-1.02zM330.00 26.26h1.02V26.79h-1.02zM335.60 85.09h0.92V85.61h-0.92zM338.50 83.39h1.02V84.45h-1.02zM341.50 83.61h1.02V84.46h-1.02zM341.50 85.43h1.02V85.84h-1.02zM346.40 87.00h1.02V87.20h-1.02zM347.40 25.80h0.62V26.28h-0.62zM350.80 83.53h1.02V84.87h-1.02zM352.80 86.59h0.32V87.20h-0.32zM355.10 86.61h0.32V87.20h-0.32zM361.00 84.59h0.52V85.13h-0.52zM364.60 85.25h1.02V85.90h-1.02zM370.20 26.10h1.02V26.63h-1.02zM375.60 25.80h1.02V26.29h-1.02zM382.00 25.80h1.02V25.91h-1.02zM385.00 86.88h1.02V87.20h-1.02zM386.00 85.29h1.02V86.21h-1.02zM386.00 86.21h1.02V86.77h-1.02zM395.60 84.61h1.02V85.71h-1.02zM397.70 25.80h1.02V25.96h-1.02zM398.70 25.80h1.02V26.16h-1.02zM398.70 26.60h1.02V27.08h-1.02zM400.70 85.50h1.02V86.29h-1.02zM408.50 37.24h1.02V54.40h-1.02zM409.50 38.41h0.52V50.91h-0.52zM409.50 25.80h0.52V26.46h-0.52zM412.00 84.96h1.02V85.91h-1.02zM413.00 86.11h1.02V87.20h-1.02zM414.00 85.18h1.02V86.08h-1.02zM415.00 84.07h1.02V84.97h-1.02zM417.00 84.03h1.02V84.60h-1.02zM418.00 83.96h1.02V84.56h-1.02zM422.00 84.00h1.02V84.95h-1.02zM423.00 83.65h1.02V84.52h-1.02zM424.00 86.22h1.02V86.72h-1.02zM428.00 85.77h1.02V86.79h-1.02zM428.00 26.19h1.02V26.26h-1.02zM429.00 84.72h1.02V85.69h-1.02zM429.00 26.09h1.02V26.54h-1.02zM433.00 32.89h1.02V87.20h-1.02zM433.00 86.23h1.02V87.12h-1.02zM434.00 31.89h1.02V87.20h-1.02zM434.00 25.80h1.02V26.47h-1.02zM435.00 83.40h1.02V84.22h-1.02zM438.00 26.17h1.02V26.86h-1.02zM446.00 83.80h1.02V84.62h-1.02zM449.00 84.76h1.02V85.51h-1.02zM451.00 85.77h1.02V86.27h-1.02zM457.00 84.89h1.02V86.06h-1.02zM459.00 84.14h1.02V85.01h-1.02zM459.00 86.35h1.02V86.74h-1.02zM461.00 86.34h1.02V86.91h-1.02zM461.00 86.91h1.02V87.20h-1.02zM462.00 82.93h1.02V83.84h-1.02zM462.00 83.84h1.02V84.43h-1.02zM463.00 85.99h1.02V87.05h-1.02zM465.00 85.90h1.02V86.36h-1.02zM465.00 25.80h1.02V26.28h-1.02zM466.00 85.38h1.02V86.57h-1.02zM467.00 85.60h1.02V86.69h-1.02zM468.00 85.35h1.02V86.22h-1.02zM471.00 26.92h1.02V27.04h-1.02zM474.00 25.80h1.02V25.87h-1.02zM480.00 26.34h1.02V26.42h-1.02zM481.50 25.80h1.02V26.49h-1.02zM491.00 25.80h1.02V26.13h-1.02zM493.00 83.38h1.02V84.44h-1.02zM497.00 86.96h1.02V87.20h-1.02zM507.00 85.17h1.02V86.07h-1.02zM510.00 85.43h1.02V86.73h-1.02zM510.00 25.80h1.02V25.86h-1.02z"/>
<path fill="#85742f" d="M25.00 25.80h1.02V25.94h-1.02zM26.00 62.42h1.02V67.69h-1.02zM26.00 86.34h1.02V87.20h-1.02zM27.00 60.87h1.02V69.95h-1.02zM28.00 61.74h0.52V68.48h-0.52zM28.00 27.01h0.52V27.08h-0.52zM28.50 86.71h1.02V87.20h-1.02zM29.50 25.80h1.02V33.22h-1.02zM29.50 83.73h1.02V84.31h-1.02zM31.00 68.86h1.02V87.20h-1.02zM31.00 85.98h1.02V87.09h-1.02zM32.00 83.23h1.02V83.84h-1.02zM33.00 71.86h0.52V87.20h-0.52zM33.50 61.11h1.02V87.20h-1.02zM34.50 60.51h1.02V87.20h-1.02zM35.50 46.77h0.52V62.18h-0.52zM35.50 62.18h0.52V87.20h-0.52zM35.50 87.14h0.52V87.20h-0.52zM36.00 54.22h1.02V74.80h-1.02zM36.00 25.80h1.02V26.53h-1.02zM37.00 53.69h1.02V71.66h-1.02zM38.00 55.12h0.52V71.62h-0.52zM40.50 84.43h0.52V85.32h-0.52zM43.00 83.07h1.02V84.09h-1.02zM46.00 85.95h1.02V87.20h-1.02zM47.00 84.73h1.02V87.20h-1.02zM50.00 81.08h1.02V87.20h-1.02zM51.00 84.09h1.02V87.20h-1.02zM52.00 72.68h1.02V76.45h-1.02zM52.00 76.45h1.02V83.87h-1.02zM52.00 83.87h1.02V87.20h-1.02zM53.00 74.17h1.02V78.38h-1.02zM53.00 78.38h1.02V80.77h-1.02zM54.00 65.54h1.02V71.60h-1.02zM54.00 76.46h1.02V80.71h-1.02zM59.00 84.12h1.02V85.23h-1.02zM62.80 52.80h1.02V87.20h-1.02zM63.80 50.85h1.02V86.22h-1.02zM63.80 85.25h1.02V86.54h-1.02zM64.80 53.11h0.22V84.85h-0.22zM65.00 50.86h1.02V86.68h-1.02zM65.00 86.68h1.02V87.20h-1.02zM66.00 52.82h1.02V84.40h-1.02zM66.00 25.80h1.02V25.92h-1.02zM67.00 54.95h1.02V84.03h-1.02zM68.00 42.48h1.02V85.18h-1.02zM68.00 84.83h1.02V85.24h-1.02zM69.00 44.62h1.02V86.73h-1.02zM69.00 85.02h1.02V85.48h-1.02zM70.00 65.77h1.02V85.98h-1.02zM70.00 83.77h1.02V85.03h-1.02zM71.00 65.90h0.52V84.82h-0.52zM71.00 26.75h0.52V26.90h-0.52zM71.50 45.28h1.02V80.18h-1.02zM71.50 83.09h1.02V83.60h-1.02zM72.50 44.32h0.22V81.62h-0.22zM72.50 84.33h0.22V85.36h-0.22zM74.70 86.59h1.02V87.20h-1.02zM74.70 25.80h1.02V26.18h-1.02zM74.70 26.86h1.02V26.93h-1.02zM76.80 83.64h0.62V84.82h-0.62zM76.80 25.80h0.62V26.44h-0.62zM77.40 25.80h1.02V26.12h-1.02zM80.00 85.18h1.02V85.70h-1.02zM80.00 25.80h1.02V25.95h-1.02zM88.60 26.84h1.02V27.09h-1.02zM89.90 25.80h1.02V32.35h-1.02zM90.90 25.80h0.72V34.22h-0.72zM90.90 84.41h0.72V85.54h-0.72zM93.40 83.27h1.02V83.90h-1.02zM93.40 26.59h1.02V26.66h-1.02zM106.00 25.80h1.02V34.19h-1.02zM107.00 25.80h1.02V36.15h-1.02zM108.00 25.80h0.62V36.58h-0.62zM110.60 84.96h1.02V85.49h-1.02zM111.60 25.80h0.42V26.22h-0.42zM113.00 25.80h1.02V26.26h-1.02zM113.00 26.87h1.02V26.99h-1.02zM114.00 48.62h0.82V68.34h-0.82zM114.00 87.11h0.82V87.20h-0.82zM116.50 53.19h1.02V74.10h-1.02zM117.50 51.46h1.02V70.31h-1.02zM118.50 58.76h1.02V87.20h-1.02zM119.50 57.10h1.02V87.20h-1.02zM121.50 86.11h1.02V87.20h-1.02zM122.50 61.85h1.02V87.20h-1.02zM123.50 62.67h1.02V87.20h-1.02zM123.50 85.71h1.02V86.85h-1.02zM123.50 26.97h1.02V27.02h-1.02zM124.50 45.62h1.02V87.20h-1.02zM124.50 84.40h1.02V85.63h-1.02zM125.50 47.98h1.02V87.20h-1.02zM125.50 26.16h1.02V26.47h-1.02zM126.50 62.64h1.02V87.20h-1.02zM127.50 62.59h1.02V87.20h-1.02zM128.50 61.43h0.12V87.20h-0.12zM128.60 67.56h1.02V87.20h-1.02zM128.60 85.47h1.02V86.76h-1.02zM129.60 65.47h0.92V87.20h-0.92zM129.60 85.70h0.92V86.23h-0.92zM130.50 86.71h1.02V87.20h-1.02zM131.50 66.04h1.02V87.20h-1.02zM132.50 66.01h1.02V87.20h-1.02zM133.50 69.30h0.52V87.20h-0.52zM133.50 85.15h0.52V86.19h-0.52zM134.00 66.81h1.02V87.20h-1.02zM135.00 64.93h1.02V87.20h-1.02zM137.00 85.12h1.02V85.82h-1.02zM139.00 25.80h0.42V26.28h-0.42zM139.40 25.80h1.02V26.15h-1.02zM143.00 86.38h1.02V86.84h-1.02zM145.00 86.85h1.02V87.20h-1.02zM147.00 85.52h1.02V85.97h-1.02zM147.00 86.80h1.02V87.20h-1.02zM147.00 26.88h1.02V27.02h-1.02zM148.00 77.60h1.02V81.33h-1.02zM151.00 83.67h1.02V87.20h-1.02zM154.00 86.02h1.02V87.20h-1.02zM160.00 83.03h1.02V85.37h-1.02zM160.00 85.37h1.02V87.20h-1.02zM163.00 76.75h1.02V81.22h-1.02zM164.00 25.80h1.02V56.81h-1.02zM165.00 25.80h1.02V59.08h-1.02zM166.00 85.10h1.02V85.72h-1.02zM174.00 84.31h1.02V85.65h-1.02zM176.00 86.48h1.02V87.20h-1.02zM177.00 83.04h1.02V84.01h-1.02zM178.00 86.19h1.02V86.83h-1.02zM181.00 26.34h1.02V26.80h-1.02zM182.00 35.36h1.02V54.47h-1.02zM184.00 36.85h1.02V54.99h-1.02zM186.00 25.80h1.02V26.10h-1.02zM187.00 84.21h1.02V85.50h-1.02zM188.00 68.24h1.02V83.62h-1.02zM189.00 66.35h1.02V82.46h-1.02zM189.00 25.80h1.02V26.37h-1.02zM190.00 68.98h1.02V84.56h-1.02zM191.00 66.33h1.02V83.62h-1.02zM192.00 69.60h1.02V80.49h-1.02zM193.00 42.05h1.02V71.42h-1.02zM194.00 48.10h1.02V82.69h-1.02zM194.00 85.42h1.02V86.67h-1.02zM195.00 47.97h1.02V86.59h-1.02zM196.00 48.05h1.02V86.52h-1.02zM197.00 44.62h1.02V85.39h-1.02zM197.00 85.21h1.02V85.67h-1.02zM198.00 31.69h1.02V83.85h-1.02zM199.00 33.43h1.02V85.70h-1.02zM199.00 84.27h1.02V85.28h-1.02zM199.00 25.80h1.02V26.28h-1.02zM200.00 33.56h1.02V82.17h-1.02zM201.00 33.38h1.02V83.60h-1.02zM202.00 31.75h1.02V84.17h-1.02zM203.00 29.51h1.02V83.72h-1.02zM204.00 32.56h1.02V84.04h-1.02zM205.00 63.10h1.02V81.94h-1.02zM205.00 25.80h1.02V26.51h-1.02zM206.00 63.85h1.02V83.69h-1.02zM207.00 64.03h1.02V83.71h-1.02zM208.00 62.79h1.02V84.33h-1.02zM209.00 61.50h1.02V84.06h-1.02zM210.00 25.80h1.02V26.22h-1.02zM210.00 26.22h1.02V26.57h-1.02zM212.00 26.37h1.02V26.74h-1.02zM214.00 86.73h1.02V87.20h-1.02zM214.00 25.80h1.02V26.01h-1.02zM216.00 84.55h1.02V85.67h-1.02zM218.00 72.17h1.02V87.20h-1.02zM219.00 71.66h1.02V87.20h-1.02zM219.00 83.03h1.02V83.52h-1.02zM219.00 86.73h1.02V87.20h-1.02zM220.00 85.46h1.02V86.53h-1.02zM220.00 86.53h1.02V87.20h-1.02zM221.00 85.49h1.02V86.53h-1.02zM221.00 25.80h1.02V26.12h-1.02zM227.00 83.99h1.02V85.20h-1.02zM228.00 85.55h0.62V86.87h-0.62zM229.60 25.80h1.02V26.26h-1.02zM239.00 26.40h1.02V26.82h-1.02zM243.60 25.80h1.02V26.27h-1.02zM246.60 84.09h0.42V84.90h-0.42zM248.00 86.99h0.52V87.20h-0.52zM249.50 84.46h0.52V85.45h-0.52zM249.50 85.45h0.52V86.18h-0.52zM249.50 86.68h0.52V87.20h-0.52zM250.00 44.62h1.02V87.20h-1.02zM251.00 42.24h1.02V87.20h-1.02zM252.00 59.89h1.02V87.20h-1.02zM253.00 59.44h1.02V87.20h-1.02zM254.00 33.43h1.02V82.14h-1.02zM255.00 35.50h1.02V83.73h-1.02zM256.00 54.09h1.02V81.11h-1.02zM256.00 25.80h1.02V26.13h-1.02zM257.00 53.72h1.02V83.46h-1.02zM257.00 82.60h1.02V83.08h-1.02zM263.00 86.71h1.02V87.19h-1.02zM264.00 86.99h1.02V87.20h-1.02zM267.00 25.80h1.02V26.10h-1.02zM277.00 83.71h1.02V84.17h-1.02zM277.00 84.17h1.02V85.03h-1.02zM277.00 26.15h1.02V26.69h-1.02zM290.00 25.80h1.02V26.48h-1.02zM291.00 25.80h1.02V26.15h-1.02zM293.00 87.11h1.02V87.20h-1.02zM294.00 86.35h1.02V87.20h-1.02zM295.00 84.15h1.02V84.63h-1.02zM295.00 84.63h1.02V85.02h-1.02zM295.00 85.58h1.02V86.66h-1.02zM297.00 84.96h1.02V86.05h-1.02zM299.00 25.80h1.02V26.16h-1.02zM306.00 83.99h1.02V84.65h-1.02zM306.00 86.98h1.02V87.20h-1.02zM307.00 77.27h1.02V87.20h-1.02zM307.00 84.56h1.02V85.25h-1.02zM308.00 80.56h1.02V87.20h-1.02zM309.00 76.64h1.02V87.20h-1.02zM309.00 87.12h1.02V87.20h-1.02zM316.00 84.53h1.02V85.80h-1.02zM316.00 25.80h1.02V26.38h-1.02zM317.00 25.80h1.02V26.26h-1.02zM318.00 37.20h1.02V87.20h-1.02zM318.00 86.65h1.02V87.12h-1.02zM319.00 38.41h1.02V87.20h-1.02zM319.00 84.36h1.02V85.21h-1.02zM320.00 39.43h1.02V87.20h-1.02zM321.00 33.14h1.02V87.20h-1.02zM322.00 34.30h1.02V87.20h-1.02zM323.00 33.07h1.02V87.20h-1.02zM326.00 86.98h1.02V87.20h-1.02zM328.00 86.40h1.02V87.20h-1.02zM330.00 83.91h1.02V85.16h-1.02zM331.00 86.27h1.02V87.20h-1.02zM332.30 86.96h1.02V87.20h-1.02zM336.50 83.52h1.02V84.65h-1.02zM337.50 82.62h1.02V83.97h-1.02zM337.50 85.26h1.02V86.55h-1.02zM338.50 69.01h1.02V87.20h-1.02zM339.50 84.60h1.02V85.38h-1.02zM340.50 83.04h1.02V84.08h-1.02zM342.50 67.08h1.02V87.20h-1.02zM343.50 65.39h0.32V87.20h-0.32zM349.00 83.92h1.02V84.33h-1.02zM350.00 25.80h0.82V25.92h-0.82zM353.10 78.54h1.02V87.20h-1.02zM354.10 77.69h1.02V87.20h-1.02zM355.40 83.13h1.02V87.20h-1.02zM355.40 25.80h1.02V26.45h-1.02zM356.40 80.66h1.02V87.20h-1.02zM356.40 85.90h1.02V86.48h-1.02zM357.40 84.45h1.02V87.20h-1.02zM358.40 82.44h1.02V87.20h-1.02zM358.40 84.11h1.02V85.44h-1.02zM358.40 85.44h1.02V86.60h-1.02zM358.40 86.60h1.02V87.20h-1.02zM359.40 81.31h0.62V87.20h-0.62zM361.00 86.79h0.52V87.20h-0.52zM364.60 83.59h1.02V84.03h-1.02zM364.60 86.53h1.02V87.20h-1.02zM365.60 84.27h0.62V85.63h-0.62zM365.60 25.80h0.62V26.35h-0.62zM367.20 26.72h1.02V26.83h-1.02zM371.20 26.30h1.02V26.95h-1.02zM377.70 84.55h1.02V85.09h-1.02zM377.70 86.10h1.02V86.58h-1.02zM384.00 79.09h1.02V87.20h-1.02zM385.00 79.73h1.02V87.20h-1.02zM386.00 77.81h1.02V87.20h-1.02zM387.00 78.67h1.02V87.20h-1.02zM388.00 76.09h1.02V87.20h-1.02zM388.00 86.92h1.02V87.20h-1.02zM389.00 80.06h0.22V87.20h-0.22zM390.20 84.06h0.82V85.14h-0.82zM390.20 85.66h0.82V86.70h-0.82zM392.00 83.70h1.02V85.07h-1.02zM399.70 87.10h1.02V87.20h-1.02zM402.70 84.33h1.02V85.44h-1.02zM403.70 84.84h1.02V85.62h-1.02zM406.00 72.24h1.02V87.20h-1.02zM406.00 85.56h1.02V86.03h-1.02zM406.00 86.03h1.02V86.73h-1.02zM407.00 70.56h1.02V87.20h-1.02zM408.00 74.88h0.52V87.20h-0.52zM409.50 84.96h0.52V85.71h-0.52zM410.00 86.82h1.02V87.20h-1.02zM410.00 25.80h1.02V26.20h-1.02zM412.00 83.67h1.02V84.96h-1.02zM414.00 84.13h1.02V84.76h-1.02zM414.00 25.80h1.02V26.42h-1.02zM414.00 26.42h1.02V26.48h-1.02zM419.00 84.80h1.02V85.45h-1.02zM421.00 83.64h1.02V84.15h-1.02zM427.00 53.37h1.02V87.20h-1.02zM427.00 87.06h1.02V87.20h-1.02zM427.00 25.80h1.02V26.17h-1.02zM428.00 52.64h1.02V87.20h-1.02zM430.00 83.41h1.02V84.12h-1.02zM431.00 54.60h1.02V87.20h-1.02zM431.00 83.66h1.02V84.47h-1.02zM432.00 53.34h1.02V87.20h-1.02zM433.00 25.80h1.02V25.95h-1.02zM435.00 58.85h1.02V70.75h-1.02zM436.00 58.21h1.02V73.18h-1.02zM438.00 57.05h1.02V70.64h-1.02zM438.00 85.94h1.02V86.33h-1.02zM439.00 57.48h1.02V72.48h-1.02zM440.00 58.72h1.02V71.79h-1.02zM441.00 86.01h1.02V87.20h-1.02zM443.00 85.71h1.02V86.40h-1.02zM447.00 86.94h1.02V87.20h-1.02zM450.00 86.78h1.02V87.20h-1.02zM451.00 84.06h1.02V84.59h-1.02zM452.00 86.09h1.02V86.80h-1.02zM452.00 25.80h1.02V26.06h-1.02zM455.00 84.44h1.02V85.75h-1.02zM456.00 84.82h1.02V85.82h-1.02zM457.00 86.06h1.02V86.52h-1.02zM462.00 87.07h1.02V87.20h-1.02zM466.00 86.57h1.02V87.08h-1.02zM466.00 87.08h1.02V87.20h-1.02zM467.00 83.68h1.02V84.88h-1.02zM468.00 84.09h1.02V85.35h-1.02zM468.00 87.08h1.02V87.20h-1.02zM479.00 26.16h1.02V26.93h-1.02zM481.50 83.97h1.02V84.46h-1.02zM482.50 83.92h0.52V84.64h-0.52zM487.50 84.40h0.52V85.36h-0.52zM492.00 25.80h1.02V26.55h-1.02zM493.00 84.44h1.02V85.20h-1.02zM494.00 26.33h1.02V26.78h-1.02zM499.00 86.03h1.02V87.12h-1.02zM504.40 87.05h1.02V87.20h-1.02zM506.00 85.11h1.02V86.03h-1.02zM511.00 86.51h0.42V87.20h-0.42z"/>
<path fill="#a4bd40" d="M26.00 67.69h1.02V84.42h-1.02zM26.00 25.80h1.02V25.91h-1.02zM27.00 69.95h1.02V82.49h-1.02zM28.00 68.48h0.52V82.22h-0.52zM28.50 66.28h1.02V74.28h-1.02zM29.50 65.68h1.02V72.65h-1.02zM31.00 25.80h1.02V47.54h-1.02zM31.00 47.54h1.02V53.24h-1.02zM31.00 87.09h1.02V87.20h-1.02zM31.00 26.11h1.02V26.29h-1.02zM32.00 25.80h1.02V46.02h-1.02zM32.00 71.79h1.02V87.20h-1.02zM32.00 86.62h1.02V87.20h-1.02zM33.00 25.80h0.52V47.62h-0.52zM33.00 25.80h0.52V26.00h-0.52zM44.00 85.00h1.02V86.10h-1.02zM45.00 83.86h1.02V84.62h-1.02zM45.00 85.96h1.02V87.01h-1.02zM45.00 87.01h1.02V87.20h-1.02zM48.00 85.85h1.02V87.20h-1.02zM50.00 78.78h1.02V81.08h-1.02zM51.00 80.47h1.02V84.09h-1.02zM53.00 69.59h1.02V74.17h-1.02zM53.00 83.55h1.02V87.03h-1.02zM54.00 71.60h1.02V76.46h-1.02zM54.00 80.71h1.02V82.68h-1.02zM54.00 82.68h1.02V87.20h-1.02zM55.00 25.80h1.02V36.14h-1.02zM57.80 86.04h1.02V86.66h-1.02zM58.80 84.43h0.22V85.79h-0.22zM59.00 25.80h1.02V87.20h-1.02zM59.00 85.99h1.02V87.11h-1.02zM60.00 25.80h1.02V87.20h-1.02zM61.00 25.80h1.02V87.20h-1.02zM61.00 86.55h1.02V87.20h-1.02zM62.00 25.80h0.82V87.20h-0.82zM62.80 84.97h1.02V85.66h-1.02zM64.80 85.11h0.22V85.68h-0.22zM64.80 26.33h0.22V27.06h-0.22zM69.00 86.89h1.02V87.20h-1.02zM70.00 33.59h1.02V65.77h-1.02zM71.00 33.00h0.52V65.90h-0.52zM71.00 26.41h0.52V26.75h-0.52zM71.50 86.00h1.02V87.20h-1.02zM73.70 83.22h1.02V84.47h-1.02zM75.70 86.03h0.12V86.42h-0.12zM75.70 86.42h0.12V87.20h-0.12zM75.70 25.80h0.12V26.47h-0.12zM75.80 83.36h1.02V83.84h-1.02zM80.00 79.58h1.02V87.20h-1.02zM82.60 86.83h1.02V87.20h-1.02zM93.40 25.80h1.02V87.20h-1.02zM94.40 25.80h0.72V87.20h-0.72zM96.10 25.80h1.02V26.51h-1.02zM98.20 86.99h1.02V87.20h-1.02zM99.20 26.25h1.02V26.73h-1.02zM100.20 87.03h1.02V87.20h-1.02zM106.00 34.19h1.02V87.20h-1.02zM107.00 36.15h1.02V87.20h-1.02zM107.00 27.00h1.02V27.11h-1.02zM108.00 36.58h0.62V87.20h-0.62zM108.60 28.44h1.02V87.20h-1.02zM108.60 84.95h1.02V86.01h-1.02zM108.60 25.80h1.02V26.13h-1.02zM109.60 30.28h1.02V87.20h-1.02zM110.60 30.32h1.02V87.20h-1.02zM110.60 85.49h1.02V86.06h-1.02zM111.60 31.05h0.42V87.20h-0.42zM111.60 85.34h0.42V86.45h-0.42zM111.60 26.22h0.42V26.56h-0.42zM112.00 25.80h1.02V46.15h-1.02zM112.00 67.55h1.02V87.20h-1.02zM113.00 25.80h1.02V46.32h-1.02zM113.00 67.63h1.02V87.20h-1.02zM114.00 25.80h0.82V48.62h-0.82zM114.00 68.34h0.82V87.20h-0.82zM114.80 85.30h1.02V86.34h-1.02zM116.50 84.83h1.02V86.12h-1.02zM117.50 85.41h1.02V85.92h-1.02zM117.50 86.33h1.02V87.20h-1.02zM119.50 84.37h1.02V85.47h-1.02zM124.50 85.63h1.02V86.06h-1.02zM124.50 86.82h1.02V87.20h-1.02zM125.50 85.70h1.02V86.51h-1.02zM126.50 25.80h1.02V40.20h-1.02zM126.50 40.20h1.02V62.64h-1.02zM127.50 37.97h1.02V62.59h-1.02zM127.50 26.86h1.02V27.05h-1.02zM128.50 36.16h0.12V61.43h-0.12zM128.50 83.98h0.12V84.94h-0.12zM128.50 25.80h0.12V26.28h-0.12zM129.60 84.01h0.92V85.20h-0.92zM130.50 84.91h1.02V85.50h-1.02zM141.40 25.80h1.02V26.31h-1.02zM142.40 84.18h0.62V85.40h-0.62zM143.00 30.26h1.02V38.13h-1.02zM143.00 84.02h1.02V85.07h-1.02zM146.00 85.80h1.02V87.12h-1.02zM148.00 73.81h1.02V77.60h-1.02zM148.00 81.33h1.02V87.20h-1.02zM149.00 77.43h1.02V81.80h-1.02zM149.00 81.80h1.02V87.20h-1.02zM150.00 77.15h1.02V81.06h-1.02zM150.00 84.97h1.02V87.20h-1.02zM155.00 85.26h1.02V87.20h-1.02zM156.00 85.60h1.02V87.20h-1.02zM159.00 81.85h1.02V85.62h-1.02zM162.00 83.31h1.02V87.20h-1.02zM166.00 25.80h1.02V87.20h-1.02zM166.00 84.24h1.02V85.10h-1.02zM167.00 25.80h1.02V87.20h-1.02zM170.00 84.71h1.02V85.93h-1.02zM171.00 84.47h1.02V85.18h-1.02zM174.00 52.43h1.02V87.20h-1.02zM175.00 51.81h1.02V87.20h-1.02zM176.00 25.80h1.02V87.20h-1.02zM176.00 84.39h1.02V85.29h-1.02zM177.00 25.80h1.02V87.20h-1.02zM178.00 25.80h1.02V87.20h-1.02zM178.00 25.80h1.02V26.27h-1.02zM179.00 25.80h1.02V87.20h-1.02zM180.00 25.80h1.02V87.20h-1.02zM180.00 26.10h1.02V26.88h-1.02zM181.00 25.80h1.02V87.20h-1.02zM181.00 85.93h1.02V86.99h-1.02zM182.00 25.80h1.02V35.36h-1.02zM182.00 85.65h1.02V86.37h-1.02zM183.00 25.80h1.02V37.82h-1.02zM183.00 37.82h1.02V56.14h-1.02zM184.00 25.80h1.02V36.85h-1.02zM185.00 82.54h1.02V83.77h-1.02zM188.00 84.45h1.02V85.23h-1.02zM189.00 27.03h1.02V27.14h-1.02zM193.00 85.11h1.02V86.27h-1.02zM194.00 83.85h1.02V84.83h-1.02zM195.00 86.24h1.02V87.20h-1.02zM196.00 26.25h1.02V26.59h-1.02zM200.00 86.49h1.02V87.20h-1.02zM203.00 25.80h1.02V26.35h-1.02zM213.00 83.92h1.02V84.81h-1.02zM219.00 83.52h1.02V84.03h-1.02zM219.00 84.68h1.02V85.19h-1.02zM222.00 83.80h1.02V87.20h-1.02zM222.00 83.19h1.02V84.37h-1.02zM223.00 83.20h1.02V87.20h-1.02zM223.00 84.36h1.02V85.52h-1.02zM224.00 86.70h1.02V87.20h-1.02zM227.00 25.80h1.02V87.20h-1.02zM227.00 85.20h1.02V85.78h-1.02zM228.00 25.80h0.62V87.20h-0.62zM228.60 26.10h1.02V26.47h-1.02zM237.00 25.80h1.02V25.90h-1.02zM240.00 83.15h1.02V84.36h-1.02zM242.60 25.80h1.02V87.20h-1.02zM243.60 25.80h1.02V87.20h-1.02zM243.60 84.22h1.02V84.73h-1.02zM244.60 25.80h1.02V87.20h-1.02zM245.60 25.80h1.02V87.20h-1.02zM246.60 25.80h0.42V87.20h-0.42zM255.00 83.69h1.02V85.00h-1.02zM255.00 87.12h1.02V87.20h-1.02zM255.00 26.37h1.02V26.69h-1.02zM256.00 83.79h1.02V84.85h-1.02zM259.00 25.80h1.02V26.22h-1.02zM262.00 25.80h1.02V26.30h-1.02zM263.00 53.85h1.02V87.20h-1.02zM264.00 51.53h1.02V87.20h-1.02zM265.00 86.53h1.02V87.03h-1.02zM279.00 85.78h1.02V86.21h-1.02zM280.00 85.18h1.02V86.55h-1.02zM289.00 25.80h1.02V72.58h-1.02zM290.00 25.80h1.02V71.45h-1.02zM290.00 84.08h1.02V84.48h-1.02zM290.00 86.28h1.02V87.20h-1.02zM291.00 86.87h1.02V87.20h-1.02zM292.00 25.80h1.02V87.20h-1.02zM293.00 25.80h1.02V87.20h-1.02zM294.00 25.80h1.02V87.20h-1.02zM295.00 25.80h1.02V87.20h-1.02zM296.00 25.80h1.02V87.20h-1.02zM297.00 25.80h1.02V68.88h-1.02zM298.00 25.80h1.02V69.13h-1.02zM298.00 84.68h1.02V85.87h-1.02zM299.00 25.80h1.02V66.92h-1.02zM300.00 25.80h1.02V66.95h-1.02zM301.00 25.80h1.02V69.47h-1.02zM301.00 86.06h1.02V87.12h-1.02zM302.00 25.80h1.02V66.41h-1.02zM302.00 83.73h1.02V84.22h-1.02zM308.00 85.58h1.02V86.79h-1.02zM308.00 86.79h1.02V87.20h-1.02zM309.00 86.13h1.02V87.12h-1.02zM318.00 85.64h1.02V86.65h-1.02zM318.00 25.80h1.02V26.18h-1.02zM320.00 84.16h1.02V85.18h-1.02zM322.00 85.76h1.02V86.62h-1.02zM322.00 26.94h1.02V27.02h-1.02zM323.00 26.23h1.02V26.54h-1.02zM324.00 25.80h1.02V26.17h-1.02zM325.00 25.80h1.02V26.34h-1.02zM328.00 84.48h1.02V84.95h-1.02zM329.00 85.09h1.02V86.21h-1.02zM329.00 25.80h1.02V26.35h-1.02zM330.00 85.16h1.02V86.00h-1.02zM332.00 85.77h0.32V86.26h-0.32zM332.30 25.80h1.02V26.43h-1.02zM333.30 84.93h1.02V86.00h-1.02zM335.60 26.37h0.92V26.49h-0.92zM338.50 54.02h1.02V69.01h-1.02zM338.50 25.80h1.02V26.38h-1.02zM339.50 55.01h1.02V65.55h-1.02zM339.50 86.43h1.02V87.07h-1.02zM340.50 58.32h1.02V66.94h-1.02zM341.50 56.31h1.02V67.46h-1.02zM342.50 56.93h1.02V67.08h-1.02zM342.50 83.91h1.02V84.57h-1.02zM343.80 67.03h1.02V87.20h-1.02zM343.80 26.23h1.02V26.53h-1.02zM344.80 85.03h0.62V86.11h-0.62zM345.40 25.80h1.02V39.29h-1.02zM346.40 25.80h1.02V37.05h-1.02zM348.00 84.18h1.02V84.80h-1.02zM350.00 85.79h0.82V86.91h-0.82zM353.10 34.61h1.02V78.54h-1.02zM354.10 33.57h1.02V77.69h-1.02zM355.10 33.32h0.32V79.00h-0.32zM355.40 77.42h1.02V83.13h-1.02zM355.40 84.21h1.02V85.45h-1.02zM356.40 78.17h1.02V80.66h-1.02zM357.40 75.16h1.02V84.45h-1.02zM358.40 76.04h1.02V82.44h-1.02zM358.40 82.82h1.02V84.11h-1.02zM360.00 86.11h1.02V86.93h-1.02zM361.00 86.22h0.52V86.79h-0.52zM364.60 39.93h1.02V54.50h-1.02zM365.60 36.67h0.62V54.26h-0.62zM370.20 26.63h1.02V27.13h-1.02zM372.20 25.80h0.82V26.10h-0.82zM374.00 83.43h0.62V84.29h-0.62zM376.60 26.51h1.02V26.82h-1.02zM379.70 84.65h0.32V85.82h-0.32zM384.00 59.41h1.02V79.09h-1.02zM385.00 63.06h1.02V79.73h-1.02zM385.00 26.52h1.02V26.94h-1.02zM386.00 60.01h1.02V77.81h-1.02zM387.00 59.22h1.02V78.67h-1.02zM387.00 25.80h1.02V26.10h-1.02zM388.00 60.30h1.02V76.09h-1.02zM389.00 59.13h0.22V80.06h-0.22zM389.00 83.65h0.22V84.90h-0.22zM389.20 71.60h1.02V87.20h-1.02zM389.20 26.55h1.02V26.70h-1.02zM390.20 74.03h0.82V87.20h-0.82zM390.20 85.14h0.82V85.66h-0.82zM392.00 86.53h1.02V87.20h-1.02zM393.00 83.91h0.42V85.24h-0.42zM394.60 87.13h1.02V87.20h-1.02zM395.60 85.71h1.02V86.71h-1.02zM397.70 25.80h1.02V87.20h-1.02zM397.70 85.02h1.02V86.14h-1.02zM398.70 25.80h1.02V87.20h-1.02zM398.70 85.12h1.02V85.69h-1.02zM399.70 25.80h1.02V87.20h-1.02zM400.70 25.80h1.02V87.20h-1.02zM400.70 84.09h1.02V85.01h-1.02zM401.70 25.80h1.02V87.20h-1.02zM402.70 25.80h1.02V87.20h-1.02zM402.70 85.44h1.02V86.26h-1.02zM403.70 25.80h1.02V87.20h-1.02zM403.70 25.80h1.02V26.39h-1.02zM404.70 25.80h0.32V87.20h-0.32zM405.00 26.60h1.02V26.99h-1.02zM406.00 25.80h1.02V72.24h-1.02zM406.00 25.80h1.02V26.43h-1.02zM407.00 25.80h1.02V70.56h-1.02zM407.00 83.53h1.02V84.49h-1.02zM408.00 25.80h0.52V74.88h-0.52zM408.00 83.16h0.52V83.93h-0.52zM408.50 54.40h1.02V87.20h-1.02zM409.50 50.91h0.52V87.20h-0.52zM409.50 85.71h0.52V86.36h-0.52zM410.00 25.80h1.02V66.01h-1.02zM411.00 25.80h1.02V64.68h-1.02zM411.00 86.67h1.02V87.20h-1.02zM412.00 25.80h1.02V66.20h-1.02zM413.00 25.80h1.02V66.83h-1.02zM414.00 25.80h1.02V37.30h-1.02zM415.00 25.80h1.02V36.34h-1.02zM418.00 86.01h1.02V86.67h-1.02zM420.00 82.59h1.02V83.88h-1.02zM423.00 86.76h1.02V87.20h-1.02zM426.00 83.97h1.02V84.68h-1.02zM430.00 82.73h1.02V83.41h-1.02zM437.00 58.67h1.02V74.56h-1.02zM444.00 83.61h1.02V84.52h-1.02zM446.00 25.80h1.02V26.15h-1.02zM447.00 25.80h1.02V26.13h-1.02zM448.00 84.81h1.02V85.62h-1.02zM448.00 25.80h1.02V26.01h-1.02zM449.00 82.71h1.02V83.65h-1.02zM449.00 85.99h1.02V87.11h-1.02zM451.00 25.80h1.02V26.52h-1.02zM453.00 84.02h1.02V85.25h-1.02zM454.00 85.94h1.02V87.20h-1.02zM455.00 26.62h1.02V27.07h-1.02zM457.00 25.80h1.02V25.98h-1.02zM464.00 25.80h1.02V26.48h-1.02zM469.00 26.57h1.02V26.74h-1.02zM470.00 25.80h1.02V26.44h-1.02zM471.00 26.53h1.02V26.92h-1.02zM475.00 26.39h1.02V26.68h-1.02zM477.00 26.55h1.02V26.94h-1.02zM479.00 26.93h1.02V27.03h-1.02zM481.50 61.25h1.02V87.20h-1.02zM482.50 64.41h0.52V87.20h-0.52zM486.50 69.87h1.02V87.20h-1.02zM487.50 69.96h0.52V87.20h-0.52zM487.50 85.36h0.52V85.81h-0.52zM487.50 87.04h0.52V87.20h-0.52zM494.00 82.67h1.02V87.20h-1.02zM495.00 59.80h1.02V87.20h-1.02zM496.00 60.01h1.02V87.20h-1.02zM498.00 25.80h1.02V26.53h-1.02zM501.00 85.53h1.02V86.61h-1.02zM504.40 25.80h1.02V87.20h-1.02zM505.40 25.80h0.62V87.20h-0.62zM506.00 26.51h1.02V26.69h-1.02z"/>
<path fill="#cdcdcd" d="M26.00 84.04h1.02V84.88h-1.02zM27.00 86.66h1.02V87.20h-1.02zM28.00 86.10h0.52V87.19h-0.52zM33.00 86.53h0.52V87.07h-0.52zM34.50 85.32h1.02V86.28h-1.02zM36.00 86.00h1.02V86.90h-1.02zM37.00 71.66h1.02V74.87h-1.02zM37.00 83.26h1.02V86.60h-1.02zM37.00 83.98h1.02V84.46h-1.02zM38.00 84.91h0.52V85.56h-0.52zM38.50 84.64h1.02V85.21h-1.02zM41.00 86.41h1.02V87.20h-1.02zM42.00 25.80h1.02V26.11h-1.02zM44.00 25.80h1.02V25.86h-1.02zM56.00 26.41h1.02V26.83h-1.02zM60.00 84.18h1.02V84.66h-1.02zM61.00 84.06h1.02V85.35h-1.02zM62.00 85.45h0.82V86.67h-0.82zM62.00 26.09h0.82V26.50h-0.82zM62.80 86.32h1.02V87.20h-1.02zM65.00 84.41h1.02V85.19h-1.02zM68.00 82.53h1.02V83.66h-1.02zM71.00 83.63h0.52V84.30h-0.52zM71.50 84.58h1.02V85.53h-1.02zM72.70 63.95h1.02V71.43h-1.02zM72.70 86.81h1.02V87.20h-1.02zM75.80 85.15h1.02V85.67h-1.02zM76.80 84.82h0.62V85.34h-0.62zM77.40 83.15h1.02V84.14h-1.02zM77.40 85.33h1.02V85.96h-1.02zM82.60 86.40h1.02V86.83h-1.02zM82.60 26.10h1.02V26.60h-1.02zM84.60 25.80h1.02V25.97h-1.02zM86.60 25.80h1.02V26.20h-1.02zM89.90 84.83h1.02V85.30h-1.02zM90.90 25.80h0.72V25.89h-0.72zM93.40 84.40h1.02V85.71h-1.02zM95.10 82.18h1.02V85.22h-1.02zM96.10 79.08h1.02V83.18h-1.02zM97.10 47.01h0.12V53.12h-0.12zM97.10 63.32h0.12V67.67h-0.12zM98.20 82.97h1.02V84.06h-1.02zM109.60 86.01h1.02V87.20h-1.02zM110.60 25.80h1.02V26.17h-1.02zM110.60 26.80h1.02V26.88h-1.02zM112.00 49.50h1.02V53.50h-1.02zM113.00 46.32h1.02V53.55h-1.02zM115.80 25.80h0.72V26.39h-0.72zM118.50 86.63h1.02V87.07h-1.02zM122.50 85.75h1.02V86.81h-1.02zM126.50 26.70h1.02V26.76h-1.02zM130.50 53.97h1.02V58.52h-1.02zM130.50 83.75h1.02V84.91h-1.02zM130.50 26.30h1.02V27.08h-1.02zM134.00 85.96h1.02V87.15h-1.02zM134.00 25.80h1.02V26.37h-1.02zM136.00 77.58h1.02V82.59h-1.02zM137.00 74.73h1.02V79.23h-1.02zM137.00 25.80h1.02V26.47h-1.02zM137.00 26.98h1.02V27.12h-1.02zM138.00 83.75h1.02V84.72h-1.02zM139.00 86.51h0.42V87.20h-0.42zM140.40 26.22h1.02V26.86h-1.02zM143.00 25.80h1.02V26.41h-1.02zM143.00 26.41h1.02V26.48h-1.02zM144.00 86.57h1.02V87.20h-1.02zM145.00 84.75h1.02V85.67h-1.02zM149.00 26.60h1.00V26.90h-1.00zM165.00 86.20h1.02V87.20h-1.02zM166.00 86.12h1.02V86.94h-1.02zM168.00 25.80h1.02V50.81h-1.02zM168.00 70.39h1.02V78.92h-1.02zM169.00 25.80h1.02V53.76h-1.02zM169.00 80.42h1.02V85.19h-1.02zM169.00 86.40h1.02V86.92h-1.02zM170.00 74.29h1.02V79.89h-1.02zM171.00 70.54h1.02V73.03h-1.02zM171.00 73.03h1.02V81.19h-1.02zM172.00 84.32h1.02V85.05h-1.02zM179.00 84.76h1.02V85.19h-1.02zM180.00 85.27h1.02V85.80h-1.02zM182.00 84.07h1.02V84.92h-1.02zM182.00 87.08h1.02V87.20h-1.02zM183.00 85.74h1.02V87.03h-1.02zM185.00 26.22h1.02V26.78h-1.02zM187.00 67.86h1.02V74.95h-1.02zM187.00 82.89h1.02V83.80h-1.02zM190.00 26.57h1.02V27.13h-1.02zM191.00 26.75h1.02V26.86h-1.02zM195.00 83.52h1.02V84.05h-1.02zM195.00 84.05h1.02V84.45h-1.02zM196.00 25.80h1.02V26.25h-1.02zM197.00 84.00h1.02V85.21h-1.02zM197.00 85.67h1.02V86.89h-1.02zM199.00 85.28h1.02V86.26h-1.02zM201.00 25.80h1.02V26.22h-1.02zM202.00 82.95h1.02V83.48h-1.02zM206.00 86.34h1.02V87.20h-1.02zM207.00 83.55h1.02V84.42h-1.02zM207.00 85.85h1.02V86.79h-1.02zM212.00 86.21h1.02V86.74h-1.02zM213.00 26.43h1.02V27.04h-1.02zM216.00 25.80h1.02V26.20h-1.02zM222.00 85.34h1.02V85.74h-1.02zM223.00 85.95h1.02V87.10h-1.02zM224.00 25.80h1.02V25.98h-1.02zM227.00 85.78h1.02V86.72h-1.02zM227.00 86.72h1.02V87.20h-1.02zM228.00 25.80h0.62V26.42h-0.62zM233.00 83.23h1.02V83.84h-1.02zM233.00 83.84h1.02V85.02h-1.02zM236.00 25.80h1.02V26.31h-1.02zM239.00 81.42h1.02V85.83h-1.02zM239.00 83.30h1.02V83.69h-1.02zM239.00 84.95h1.02V85.53h-1.02zM240.00 85.55h1.02V86.46h-1.02zM241.00 71.83h0.22V80.37h-0.22zM243.60 26.27h1.02V26.62h-1.02zM247.00 72.83h1.02V80.83h-1.02zM247.00 86.71h1.02V87.20h-1.02zM248.00 70.48h0.52V76.90h-0.52zM248.50 73.58h1.02V77.43h-1.02zM249.50 70.87h0.52V87.20h-0.52zM251.00 86.26h1.02V87.00h-1.02zM254.00 86.39h1.02V87.20h-1.02zM254.00 25.80h1.02V26.43h-1.02zM257.00 85.09h1.02V85.72h-1.02zM257.00 87.04h1.02V87.20h-1.02zM258.00 72.22h1.02V75.84h-1.02zM263.00 83.00h1.02V84.28h-1.02zM265.00 26.23h1.02V26.74h-1.02zM266.00 83.94h1.02V84.42h-1.02zM277.00 62.26h1.02V67.77h-1.02zM277.00 85.97h1.02V87.20h-1.02zM278.00 60.11h1.02V67.52h-1.02zM278.00 83.47h1.02V87.20h-1.02zM279.00 76.92h1.02V83.51h-1.02zM281.00 66.48h1.02V74.22h-1.02zM281.00 85.97h1.02V86.93h-1.02zM289.00 72.58h1.02V87.20h-1.02zM291.00 83.32h1.02V84.65h-1.02zM291.00 26.15h1.02V26.76h-1.02zM295.00 85.02h1.02V85.58h-1.02zM298.00 86.81h1.02V87.20h-1.02zM299.00 86.68h1.02V87.20h-1.02zM302.00 84.22h1.02V84.70h-1.02zM302.00 85.36h1.02V86.58h-1.02zM303.00 54.44h1.02V57.08h-1.02zM303.00 25.80h1.02V26.27h-1.02zM304.00 85.02h1.02V86.14h-1.02zM305.00 25.80h1.02V26.39h-1.02zM308.00 84.22h1.02V85.14h-1.02zM310.00 80.30h1.02V87.20h-1.02zM310.00 84.65h1.02V85.38h-1.02zM310.00 85.87h1.02V87.20h-1.02zM314.00 85.93h1.02V87.20h-1.02zM315.00 26.14h1.02V26.44h-1.02zM322.00 83.08h1.02V83.60h-1.02zM324.00 39.89h1.02V47.00h-1.02zM324.00 66.73h1.02V74.06h-1.02zM325.00 59.42h1.02V68.16h-1.02zM325.00 68.16h1.02V71.65h-1.02zM325.00 86.43h1.02V87.20h-1.02zM326.00 85.68h1.02V86.23h-1.02zM327.00 25.80h1.02V25.98h-1.02zM330.00 39.05h1.02V41.83h-1.02zM330.00 82.69h1.02V83.91h-1.02zM330.00 25.80h1.02V26.26h-1.02zM331.00 42.55h1.02V47.12h-1.02zM332.00 39.99h0.32V48.28h-0.32zM332.00 59.96h0.32V62.66h-0.32zM332.00 84.27h0.32V85.12h-0.32zM334.60 71.11h1.02V79.26h-1.02zM335.60 83.60h0.92V84.34h-0.92zM336.50 83.00h1.02V83.52h-1.02zM339.50 87.07h1.02V87.20h-1.02zM341.50 82.65h1.02V83.61h-1.02zM342.50 87.00h1.02V87.20h-1.02zM343.50 84.03h0.32V84.73h-0.32zM350.00 33.98h0.82V39.34h-0.82zM350.00 86.91h0.82V87.20h-0.82zM350.80 86.91h1.02V87.20h-1.02zM351.80 84.56h1.02V84.97h-1.02zM354.10 82.84h1.02V83.29h-1.02zM355.40 26.45h1.02V26.89h-1.02zM357.40 26.19h1.02V26.29h-1.02zM360.00 26.65h1.02V26.77h-1.02zM361.00 26.34h0.52V26.40h-0.52zM364.60 82.64h1.02V83.59h-1.02zM367.20 26.23h1.02V26.72h-1.02zM369.20 25.80h1.02V25.96h-1.02zM377.60 25.80h0.12V26.12h-0.12zM384.00 83.55h1.02V84.35h-1.02zM389.00 85.82h0.22V86.60h-0.22zM389.20 85.47h1.02V86.55h-1.02zM390.20 83.01h0.82V84.06h-0.82zM394.60 85.23h1.02V85.67h-1.02zM394.60 86.47h1.02V87.13h-1.02zM395.60 86.71h1.02V87.20h-1.02zM396.60 33.08h1.02V35.72h-1.02zM399.70 84.27h1.02V85.50h-1.02zM402.70 25.80h1.02V26.28h-1.02zM405.00 86.22h1.02V86.75h-1.02zM407.00 84.49h1.02V85.62h-1.02zM408.50 85.81h1.02V86.57h-1.02zM411.00 85.83h1.02V86.67h-1.02zM413.00 85.71h1.02V86.11h-1.02zM414.00 82.43h1.02V87.20h-1.02zM414.00 83.64h1.02V84.13h-1.02zM418.00 86.67h1.02V87.20h-1.02zM419.00 68.97h1.02V73.97h-1.02zM419.00 83.07h1.02V87.20h-1.02zM419.00 85.45h1.02V85.95h-1.02zM421.00 82.93h1.02V83.64h-1.02zM423.00 25.80h1.02V26.54h-1.02zM424.00 84.13h1.02V85.37h-1.02zM425.00 86.08h1.02V87.20h-1.02zM426.00 83.37h1.02V83.97h-1.02zM427.00 84.08h1.02V84.73h-1.02zM427.00 26.17h1.02V26.68h-1.02zM428.00 84.97h1.02V85.77h-1.02zM433.00 82.89h1.02V83.70h-1.02zM433.00 87.12h1.02V87.20h-1.02zM435.00 84.08h1.02V87.20h-1.02zM436.00 81.11h1.02V87.20h-1.02zM436.00 87.13h1.02V87.20h-1.02zM438.00 77.00h1.02V82.94h-1.02zM439.00 72.48h1.02V87.20h-1.02zM439.00 85.69h1.02V86.85h-1.02zM440.00 78.35h1.02V84.29h-1.02zM440.00 84.61h1.02V85.48h-1.02zM442.00 86.68h1.02V87.20h-1.02zM442.00 86.61h1.02V87.20h-1.02zM443.00 77.91h1.02V85.52h-1.02zM444.00 84.52h1.02V85.00h-1.02zM449.00 26.39h1.02V26.74h-1.02zM454.00 62.41h1.02V69.24h-1.02zM456.00 84.31h1.02V84.82h-1.02zM458.00 26.42h1.02V26.61h-1.02zM463.00 25.80h1.02V26.48h-1.02zM467.00 55.81h1.02V87.20h-1.02zM468.00 57.38h1.02V87.20h-1.02zM469.00 26.22h1.02V26.57h-1.02zM475.00 25.80h1.02V26.39h-1.02zM477.00 25.80h1.02V26.55h-1.02zM482.50 25.80h0.52V34.75h-0.52zM493.00 25.80h1.02V35.76h-1.02zM494.00 84.32h1.02V85.25h-1.02zM496.00 83.09h1.02V83.60h-1.02zM497.00 83.22h1.02V83.73h-1.02zM497.00 84.66h1.02V85.65h-1.02zM497.00 25.80h1.02V26.54h-1.02zM498.00 86.16h1.02V86.86h-1.02zM502.00 26.69h0.62V26.95h-0.62zM504.40 26.12h1.02V26.87h-1.02zM506.00 42.69h1.02V87.20h-1.02zM506.00 83.88h1.02V85.11h-1.02zM507.00 38.15h1.02V87.20h-1.02zM511.00 25.80h0.42V26.47h-0.42z"/>
<path fill="#1e9446" d="M26.00 84.88h1.02V85.71h-1.02zM28.00 84.91h0.52V86.10h-0.52zM28.00 26.62h0.52V27.01h-0.52zM30.50 86.59h0.52V87.20h-0.52zM33.50 86.72h1.02V87.20h-1.02zM36.00 86.90h1.02V87.20h-1.02zM38.00 84.42h0.52V84.91h-0.52zM38.00 85.56h0.52V86.71h-0.52zM38.50 83.49h1.02V84.19h-1.02zM39.50 85.06h1.02V85.64h-1.02zM39.50 86.65h1.02V87.20h-1.02zM39.50 25.80h1.02V26.41h-1.02zM43.00 86.89h1.02V87.20h-1.02zM45.00 25.80h1.02V58.61h-1.02zM46.00 25.80h1.02V83.61h-1.02zM47.00 25.80h1.02V84.73h-1.02zM48.00 25.80h1.02V85.85h-1.02zM49.00 25.80h1.02V81.64h-1.02zM50.00 25.80h1.02V78.78h-1.02zM51.00 25.80h1.02V76.82h-1.02zM52.00 25.80h1.02V72.68h-1.02zM53.00 25.80h1.02V69.59h-1.02zM54.00 25.80h1.02V65.54h-1.02zM55.00 83.91h1.02V85.18h-1.02zM56.00 25.80h1.02V26.41h-1.02zM57.80 83.62h1.02V84.28h-1.02zM58.80 25.80h0.22V25.92h-0.22zM62.80 83.40h1.02V83.97h-1.02zM63.80 83.84h1.02V84.64h-1.02zM65.00 44.18h1.02V50.86h-1.02zM66.00 48.54h1.02V52.82h-1.02zM66.00 85.99h1.02V87.13h-1.02zM67.00 45.63h1.02V54.95h-1.02zM68.00 87.06h1.02V87.20h-1.02zM70.00 25.80h1.02V25.97h-1.02zM71.00 85.25h0.52V85.70h-0.52zM72.50 83.32h0.22V83.90h-0.22zM72.70 85.49h1.02V86.81h-1.02zM79.40 25.80h0.62V26.56h-0.62zM79.40 26.56h0.62V26.64h-0.62zM80.00 25.80h1.02V54.18h-1.02zM80.00 87.10h1.02V87.20h-1.02zM81.00 25.80h0.62V53.51h-0.62zM81.60 25.80h1.02V52.39h-1.02zM82.60 25.80h1.02V51.42h-1.02zM82.60 84.82h1.02V87.20h-1.02zM82.60 85.39h1.02V85.95h-1.02zM83.60 25.80h1.02V87.20h-1.02zM83.60 25.80h1.02V26.04h-1.02zM84.60 25.80h1.02V87.20h-1.02zM85.60 25.80h1.02V87.20h-1.02zM85.60 25.80h1.02V26.44h-1.02zM86.60 25.80h1.02V87.20h-1.02zM87.60 25.80h1.02V87.20h-1.02zM88.60 25.80h1.02V87.20h-1.02zM89.60 25.80h0.32V87.20h-0.32zM94.40 83.35h0.72V83.76h-0.72zM95.10 85.28h1.02V86.59h-1.02zM97.20 25.80h1.02V78.54h-1.02zM98.20 25.80h1.02V80.01h-1.02zM99.20 25.80h1.02V78.77h-1.02zM100.20 25.80h1.02V78.79h-1.02zM108.00 86.82h0.62V87.20h-0.62zM110.60 82.95h1.02V83.98h-1.02zM113.00 83.08h1.02V83.80h-1.02zM113.00 86.60h1.02V87.20h-1.02zM118.50 25.80h1.02V26.28h-1.02zM120.50 84.04h1.02V84.87h-1.02zM120.50 86.02h1.02V86.74h-1.02zM121.50 26.23h1.02V26.68h-1.02zM122.50 52.46h1.02V61.85h-1.02zM123.50 51.97h1.02V62.67h-1.02zM124.50 26.17h1.02V26.48h-1.02zM125.50 83.47h1.02V84.41h-1.02zM125.50 84.41h1.02V85.70h-1.02zM130.50 25.80h1.02V26.30h-1.02zM132.50 86.30h1.02V87.17h-1.02zM132.50 26.44h1.02V26.64h-1.02zM135.00 84.59h1.02V85.14h-1.02zM138.00 84.72h1.02V85.61h-1.02zM139.00 83.72h0.42V84.56h-0.42zM140.40 84.26h1.02V85.24h-1.02zM142.40 85.40h0.62V86.16h-0.62zM142.40 86.16h0.62V86.73h-0.62zM148.00 25.80h1.02V66.42h-1.02zM149.00 25.80h1.02V71.52h-1.02zM150.00 25.80h1.02V77.15h-1.02zM151.00 25.80h1.02V80.29h-1.02zM152.00 25.80h1.02V83.86h-1.02zM153.00 25.80h1.02V86.06h-1.02zM154.00 25.80h1.02V86.02h-1.02zM155.00 25.80h1.02V85.26h-1.02zM156.00 25.80h1.02V85.60h-1.02zM157.00 25.80h1.02V83.90h-1.02zM157.00 26.42h1.00V26.82h-1.00zM158.00 25.80h1.02V83.40h-1.02zM159.00 25.80h1.02V81.85h-1.02zM160.00 25.80h1.02V79.98h-1.02zM160.00 25.80h1.00V26.14h-1.00zM161.00 25.80h1.02V79.09h-1.02zM162.00 25.80h1.02V77.28h-1.02zM163.00 25.80h1.02V72.44h-1.02zM174.00 82.99h1.02V83.81h-1.02zM179.00 85.19h1.02V86.24h-1.02zM179.00 26.61h1.02V26.94h-1.02zM180.00 86.43h1.02V87.20h-1.02zM182.00 26.76h1.02V27.15h-1.02zM184.00 85.31h1.02V86.37h-1.02zM185.00 84.56h1.02V85.50h-1.02zM185.00 86.80h1.02V87.20h-1.02zM186.00 84.86h1.02V85.52h-1.02zM186.00 86.44h1.02V86.99h-1.02zM189.00 26.37h1.02V27.03h-1.02zM190.00 84.07h1.02V84.97h-1.02zM193.00 26.56h1.02V26.85h-1.02zM197.00 25.80h1.02V26.17h-1.02zM198.00 25.80h1.02V31.69h-1.02zM201.00 82.65h1.02V83.99h-1.02zM203.00 26.35h1.02V26.90h-1.02zM205.00 51.93h1.02V63.10h-1.02zM205.00 83.03h1.02V83.99h-1.02zM205.00 83.99h1.02V85.08h-1.02zM205.00 85.08h1.02V86.37h-1.02zM206.00 55.06h1.02V63.85h-1.02zM207.00 51.08h1.02V64.03h-1.02zM208.00 52.81h1.02V62.79h-1.02zM209.00 54.72h1.02V61.50h-1.02zM210.00 85.34h1.02V86.39h-1.02zM214.00 84.36h1.02V85.45h-1.02zM215.00 26.58h1.02V27.06h-1.02zM216.00 82.91h1.02V83.58h-1.02zM216.00 85.67h1.02V86.20h-1.02zM225.00 25.80h1.02V87.20h-1.02zM226.00 25.80h1.02V87.20h-1.02zM228.60 25.80h1.02V87.20h-1.02zM229.60 25.80h1.02V87.20h-1.02zM230.60 25.80h1.02V87.20h-1.02zM231.60 25.80h1.02V87.20h-1.02zM232.60 25.80h0.42V87.20h-0.42zM234.00 25.80h1.02V87.20h-1.02zM235.00 25.80h1.02V87.20h-1.02zM236.00 25.80h1.02V87.20h-1.02zM237.00 25.80h1.02V87.20h-1.02zM238.00 25.80h1.02V87.20h-1.02zM239.00 25.80h1.02V40.52h-1.02zM239.00 25.80h1.02V26.40h-1.02zM240.00 25.80h1.02V36.25h-1.02zM241.00 25.80h0.22V40.38h-0.22zM241.00 86.46h0.22V87.20h-0.22zM244.60 86.24h1.02V86.74h-1.02zM245.60 86.68h1.02V87.20h-1.02zM246.60 84.90h0.42V85.85h-0.42zM247.00 25.80h1.02V43.35h-1.02zM247.00 85.52h1.02V86.71h-1.02zM248.00 25.80h0.52V45.16h-0.52zM248.00 83.80h0.52V84.66h-0.52zM248.00 25.80h0.52V26.49h-0.52zM248.50 26.56h1.02V26.90h-1.02zM252.00 50.51h1.02V59.89h-1.02zM253.00 47.18h1.02V59.44h-1.02zM255.00 25.80h1.02V35.50h-1.02zM256.00 25.80h1.02V54.09h-1.02zM257.00 25.80h1.02V53.72h-1.02zM259.00 86.51h1.02V87.20h-1.02zM263.00 25.80h1.02V26.10h-1.02zM264.00 85.04h1.02V85.67h-1.02zM267.00 25.80h1.02V87.20h-1.02zM268.00 25.80h1.02V87.20h-1.02zM269.00 25.80h1.02V87.20h-1.02zM270.00 25.80h1.02V87.20h-1.02zM270.00 25.80h1.02V25.88h-1.02zM271.00 25.80h1.02V87.20h-1.02zM272.00 25.80h1.02V87.20h-1.02zM273.00 25.80h1.02V87.20h-1.02zM274.00 25.80h1.02V87.20h-1.02zM275.00 25.80h1.02V87.20h-1.02zM275.00 26.93h1.02V27.01h-1.02zM276.00 25.80h1.02V87.20h-1.02zM277.00 25.80h1.02V50.89h-1.02zM278.00 25.80h1.02V51.74h-1.02zM280.00 84.33h1.02V85.18h-1.02zM289.00 86.45h1.02V87.20h-1.02zM294.00 26.38h1.02V27.02h-1.02zM296.00 84.33h1.02V84.98h-1.02zM296.00 85.46h1.02V85.90h-1.02zM297.00 84.16h1.02V84.96h-1.02zM299.00 83.25h1.02V83.85h-1.02zM299.00 86.09h1.02V86.68h-1.02zM300.00 84.95h1.02V86.11h-1.02zM300.00 25.80h1.02V26.25h-1.02zM302.00 25.80h1.02V26.39h-1.02zM303.00 26.68h1.02V26.77h-1.02zM304.00 26.34h1.02V26.76h-1.02zM309.00 25.80h1.02V26.40h-1.02zM311.00 26.30h1.02V26.68h-1.02zM312.00 25.80h1.02V26.19h-1.02zM316.00 29.89h1.02V46.99h-1.02zM317.00 26.63h1.02V50.29h-1.02zM318.00 25.80h1.02V37.20h-1.02zM319.00 25.80h1.02V38.41h-1.02zM320.00 25.80h1.02V39.43h-1.02zM323.00 83.71h1.02V84.87h-1.02zM324.00 85.47h1.02V85.99h-1.02zM326.00 86.23h1.02V86.98h-1.02zM327.00 83.94h1.02V84.74h-1.02zM328.00 83.38h1.02V84.48h-1.02zM334.30 83.22h0.32V84.20h-0.32zM334.60 82.72h1.02V84.02h-1.02zM335.60 87.12h0.92V87.20h-0.92zM340.50 86.49h1.02V87.06h-1.02zM340.50 25.80h1.02V26.32h-1.02zM345.40 86.57h1.02V87.20h-1.02zM346.40 84.34h1.02V85.66h-1.02zM347.40 84.78h0.62V85.28h-0.62zM347.40 86.10h0.62V87.20h-0.62zM349.00 26.35h1.02V26.66h-1.02zM350.80 25.80h1.02V27.68h-1.02zM351.80 25.80h1.02V29.99h-1.02zM352.80 25.80h0.32V31.25h-0.32zM353.10 25.80h1.02V34.61h-1.02zM353.10 82.74h1.02V83.40h-1.02zM354.10 25.80h1.02V33.57h-1.02zM354.10 86.08h1.02V87.18h-1.02zM355.10 25.80h0.32V33.32h-0.32zM355.40 25.80h1.02V77.42h-1.02zM355.40 85.45h1.02V86.43h-1.02zM356.40 25.80h1.02V78.17h-1.02zM357.40 25.80h1.02V75.16h-1.02zM358.40 25.80h1.02V76.04h-1.02zM359.40 25.80h0.62V74.71h-0.62zM359.40 85.70h0.62V86.94h-0.62zM360.00 82.77h1.02V83.91h-1.02zM361.00 83.78h0.52V84.59h-0.52zM361.50 25.80h1.02V87.20h-1.02zM362.50 25.80h1.02V87.20h-1.02zM363.50 25.80h1.02V87.20h-1.02zM364.50 25.80h0.12V87.20h-0.12zM364.50 26.12h0.12V26.45h-0.12zM364.60 25.80h1.02V39.93h-1.02zM364.60 54.50h1.02V87.20h-1.02zM364.60 84.03h1.02V84.62h-1.02zM364.60 85.90h1.02V86.53h-1.02zM365.60 25.80h0.62V36.67h-0.62zM365.60 54.26h0.62V87.20h-0.62zM366.20 25.80h1.02V87.20h-1.02zM367.20 25.80h1.02V87.20h-1.02zM368.20 25.80h1.02V87.20h-1.02zM369.20 25.80h1.02V87.20h-1.02zM370.20 25.80h1.02V87.20h-1.02zM371.20 25.80h1.02V87.20h-1.02zM372.20 25.80h0.82V87.20h-0.82zM373.00 25.80h1.02V38.68h-1.02zM373.00 83.51h1.02V87.20h-1.02zM374.00 25.80h0.62V41.29h-0.62zM374.00 83.46h0.62V87.20h-0.62zM374.60 25.80h1.02V87.20h-1.02zM375.60 25.80h1.02V87.20h-1.02zM376.60 25.80h1.02V87.20h-1.02zM377.60 25.80h0.12V87.20h-0.12zM377.70 25.80h1.02V30.18h-1.02zM377.70 84.62h1.02V87.20h-1.02zM378.70 25.80h1.02V29.02h-1.02zM378.70 83.58h1.02V84.61h-1.02zM378.70 87.13h1.02V87.20h-1.02zM378.70 26.23h1.02V26.72h-1.02zM379.70 25.80h0.32V27.91h-0.32zM379.70 85.49h0.32V87.20h-0.32zM379.70 87.05h0.32V87.20h-0.32zM380.00 25.80h1.02V87.20h-1.02zM380.00 25.80h1.02V26.55h-1.02zM381.00 25.80h1.02V87.20h-1.02zM382.00 25.80h1.02V87.20h-1.02zM383.00 25.80h1.02V87.20h-1.02zM384.00 25.80h1.02V59.41h-1.02zM385.00 25.80h1.02V63.06h-1.02zM385.00 25.80h1.02V26.52h-1.02zM386.00 25.80h1.02V60.01h-1.02zM387.00 25.80h1.02V59.22h-1.02zM388.00 25.80h1.02V60.30h-1.02zM388.00 84.39h1.02V85.01h-1.02zM389.00 25.80h0.22V59.13h-0.22zM389.00 86.60h0.22V87.20h-0.22zM389.20 25.80h1.02V42.16h-1.02zM389.20 50.37h1.02V57.65h-1.02zM389.20 63.35h1.02V71.60h-1.02zM389.20 85.04h1.02V85.47h-1.02zM389.20 86.55h1.02V87.20h-1.02zM390.20 25.80h0.82V42.61h-0.82zM390.20 50.29h0.82V56.14h-0.82zM390.20 65.34h0.82V74.03h-0.82zM391.00 25.80h1.02V26.21h-1.02zM394.60 84.02h1.02V85.23h-1.02zM397.60 25.80h0.12V26.01h-0.12zM398.70 83.36h1.02V84.64h-1.02zM399.70 25.80h1.02V26.47h-1.02zM402.70 82.77h1.02V83.54h-1.02zM402.70 83.54h1.02V84.33h-1.02zM403.70 84.20h1.02V84.84h-1.02zM404.70 26.17h0.32V26.34h-0.32zM408.50 25.80h1.02V37.24h-1.02zM409.50 83.96h0.52V84.96h-0.52zM411.00 25.80h1.02V26.43h-1.02zM412.00 85.91h1.02V86.70h-1.02zM412.00 25.80h1.02V26.56h-1.02zM413.00 84.69h1.02V85.71h-1.02zM415.00 65.77h1.02V87.20h-1.02zM419.00 83.50h1.02V84.80h-1.02zM420.00 25.80h1.02V36.71h-1.02zM421.00 25.80h1.02V36.33h-1.02zM422.00 25.80h1.02V26.00h-1.02zM426.00 25.80h1.02V26.10h-1.02zM427.00 84.73h1.02V85.69h-1.02zM427.00 86.52h1.02V87.06h-1.02zM428.00 25.80h1.02V26.19h-1.02zM437.00 25.80h1.02V26.27h-1.02zM440.00 86.46h1.02V87.17h-1.02zM442.00 83.44h1.02V84.28h-1.02zM445.00 85.05h1.02V86.20h-1.02zM451.00 85.31h1.02V85.77h-1.02zM455.00 26.28h1.02V26.62h-1.02zM456.00 86.81h1.02V87.20h-1.02zM458.00 85.28h1.02V85.80h-1.02zM460.00 26.49h1.02V26.97h-1.02zM461.00 83.98h1.02V84.77h-1.02zM463.00 25.80h1.02V58.31h-1.02zM463.00 26.48h1.02V27.04h-1.02zM464.00 25.80h1.02V56.64h-1.02zM464.00 83.33h1.02V83.98h-1.02zM464.00 85.33h1.02V86.50h-1.02zM465.00 25.80h1.02V57.96h-1.02zM466.00 25.80h1.02V60.16h-1.02zM467.00 25.80h1.02V26.53h-1.02zM469.00 25.80h1.02V87.20h-1.02zM470.00 25.80h1.02V87.20h-1.02zM471.00 25.80h1.02V87.20h-1.02zM472.00 25.80h1.02V87.20h-1.02zM472.00 25.80h1.02V26.14h-1.02zM473.00 25.80h1.02V87.20h-1.02zM473.00 26.39h1.02V26.49h-1.02zM474.00 25.80h1.02V87.20h-1.02zM475.00 25.80h1.02V87.20h-1.02zM476.00 25.80h1.02V87.20h-1.02zM477.00 25.80h1.02V87.20h-1.02zM478.00 25.80h1.02V87.20h-1.02zM479.00 25.80h1.02V87.20h-1.02zM480.00 25.80h1.02V87.20h-1.02zM481.00 25.80h0.52V87.20h-0.52zM483.00 25.80h1.02V87.20h-1.02zM484.00 25.80h1.02V87.20h-1.02zM485.00 25.80h1.02V87.20h-1.02zM486.00 25.80h0.52V87.20h-0.52zM486.50 25.80h1.02V33.65h-1.02zM486.50 25.80h1.02V25.87h-1.02zM487.50 25.80h0.52V35.76h-0.52zM488.00 25.80h1.02V87.20h-1.02zM489.00 25.80h1.02V87.20h-1.02zM490.00 25.80h1.02V87.20h-1.02zM491.00 25.80h1.02V87.20h-1.02zM492.00 25.80h1.02V87.20h-1.02zM493.00 35.76h1.02V87.20h-1.02zM493.00 25.80h1.02V26.50h-1.02zM494.00 25.80h1.02V82.67h-1.02zM494.00 86.05h1.02V86.95h-1.02zM495.00 25.80h1.02V59.80h-1.02zM496.00 25.80h1.02V60.01h-1.02zM496.00 87.12h1.02V87.20h-1.02zM499.00 83.91h1.02V84.74h-1.02zM499.00 84.74h1.02V86.03h-1.02zM499.00 87.12h1.02V87.20h-1.02zM500.00 83.04h1.02V84.18h-1.02zM501.00 25.80h1.02V41.61h-1.02zM502.00 25.80h0.62V45.00h-0.62zM502.00 84.79h0.62V85.82h-0.62zM505.40 85.70h0.62V86.33h-0.62zM508.00 86.57h1.02V87.20h-1.02zM509.00 25.80h1.02V26.43h-1.02z"/>
<path fill="#b585b5" d="M27.00 82.49h1.02V87.20h-1.02zM28.00 82.22h0.52V87.20h-0.52zM28.50 25.80h1.02V31.63h-1.02zM29.50 72.65h1.02V79.00h-1.02zM30.50 25.80h0.52V35.73h-0.52zM30.50 80.30h0.52V83.28h-0.52zM31.00 82.96h1.02V84.14h-1.02zM31.00 84.14h1.02V85.36h-1.02zM32.00 26.94h1.02V27.04h-1.02zM33.50 25.80h1.02V26.09h-1.02zM35.50 85.78h0.52V86.64h-0.52zM38.00 71.62h0.52V80.15h-0.52zM38.50 80.45h1.02V87.20h-1.02zM38.50 85.67h1.02V86.68h-1.02zM39.50 82.43h1.02V87.20h-1.02zM40.50 80.40h0.52V87.20h-0.52zM41.00 83.29h1.02V87.20h-1.02zM42.00 84.53h1.02V87.20h-1.02zM44.00 83.34h1.02V87.20h-1.02zM45.00 75.47h1.02V81.11h-1.02zM55.00 73.75h1.02V81.51h-1.02zM64.80 84.85h0.22V87.20h-0.22zM64.80 85.68h0.22V86.29h-0.22zM66.00 84.40h1.02V87.20h-1.02zM66.00 84.46h1.02V85.40h-1.02zM67.00 84.03h1.02V87.20h-1.02zM67.00 83.32h1.02V84.50h-1.02zM68.00 85.18h1.02V87.20h-1.02zM68.00 85.74h1.02V87.06h-1.02zM69.00 86.73h1.02V87.20h-1.02zM70.00 85.98h1.02V87.20h-1.02zM70.00 86.15h1.02V87.20h-1.02zM71.00 84.82h0.52V87.20h-0.52zM71.50 80.18h1.02V87.20h-1.02zM72.50 81.62h0.22V87.20h-0.22zM72.70 61.11h1.02V63.95h-1.02zM72.70 71.43h1.02V77.91h-1.02zM73.70 86.02h1.02V86.55h-1.02zM74.70 60.98h1.02V69.28h-1.02zM74.70 74.15h1.02V78.50h-1.02zM75.70 62.36h0.12V66.02h-0.12zM75.70 26.47h0.12V26.84h-0.12zM75.80 76.69h1.02V87.20h-1.02zM75.80 85.67h1.02V86.77h-1.02zM76.80 76.21h0.62V87.20h-0.62zM76.80 85.34h0.62V86.21h-0.62zM77.40 81.17h1.02V87.20h-1.02zM78.40 82.97h1.02V87.20h-1.02zM78.40 83.77h1.02V84.33h-1.02zM78.40 84.33h1.02V84.98h-1.02zM79.40 81.83h0.62V87.20h-0.62zM81.00 77.04h0.62V87.20h-0.62zM81.00 84.59h0.62V84.99h-0.62zM81.00 25.80h0.62V26.22h-0.62zM81.60 86.91h1.02V87.20h-1.02zM93.40 86.90h1.02V87.20h-1.02zM93.40 26.23h1.02V26.59h-1.02zM94.40 86.14h0.72V87.20h-0.72zM95.10 50.14h1.02V57.11h-1.02zM95.10 63.18h1.02V66.70h-1.02zM95.10 72.45h1.02V79.72h-1.02zM96.10 45.64h1.02V51.63h-1.02zM96.10 61.09h1.02V69.17h-1.02zM96.10 69.17h1.02V74.28h-1.02zM96.10 84.88h1.02V86.00h-1.02zM97.20 78.54h1.02V87.20h-1.02zM98.20 80.01h1.02V87.20h-1.02zM100.20 78.79h1.02V87.20h-1.02zM106.00 83.86h1.02V84.63h-1.02zM107.00 86.18h1.02V87.20h-1.02zM107.00 26.32h1.02V26.67h-1.02zM107.00 26.67h1.02V27.00h-1.02zM108.00 25.80h0.62V26.41h-0.62zM110.60 26.17h1.02V26.80h-1.02zM112.00 53.50h1.02V59.35h-1.02zM113.00 26.26h1.02V26.87h-1.02zM114.00 25.80h0.82V26.32h-0.82zM114.00 26.32h0.82V26.92h-0.82zM122.50 42.63h1.02V52.46h-1.02zM122.50 25.80h1.02V25.92h-1.02zM123.50 82.92h1.02V83.56h-1.02zM130.50 58.52h1.02V62.61h-1.02zM130.50 67.06h1.02V69.30h-1.02zM131.50 57.28h1.02V66.04h-1.02zM131.50 85.31h1.02V86.13h-1.02zM132.50 55.37h1.02V66.01h-1.02zM132.50 25.80h1.02V26.44h-1.02zM136.00 57.74h1.02V64.72h-1.02zM136.00 74.45h1.02V77.58h-1.02zM137.00 67.13h1.02V74.73h-1.02zM138.00 64.09h1.02V70.51h-1.02zM138.00 76.88h1.02V80.09h-1.02zM138.00 80.09h1.02V85.27h-1.02zM139.40 84.45h1.02V85.12h-1.02zM140.40 86.91h1.02V87.20h-1.02zM143.00 38.13h1.02V40.63h-1.02zM144.00 46.94h1.02V53.67h-1.02zM145.00 70.52h1.02V76.54h-1.02zM145.00 76.54h1.02V81.21h-1.02zM145.00 81.21h1.02V87.20h-1.02zM146.00 83.89h1.02V84.43h-1.02zM148.00 66.42h1.02V73.81h-1.02zM149.00 71.52h1.02V77.43h-1.02zM151.00 80.29h1.02V83.67h-1.02zM152.00 83.86h1.02V87.20h-1.02zM153.00 86.06h1.02V87.20h-1.02zM157.00 83.90h1.02V87.20h-1.02zM159.00 85.62h1.02V87.20h-1.02zM161.00 79.09h1.02V86.36h-1.02zM161.00 86.36h1.02V87.20h-1.02zM162.00 77.28h1.02V83.31h-1.02zM163.00 72.44h1.02V76.75h-1.02zM163.00 84.09h1.02V87.20h-1.02zM164.00 63.59h1.02V71.95h-1.02zM164.00 72.28h1.02V80.42h-1.02zM164.00 80.42h1.02V87.20h-1.02zM164.00 82.59h1.02V83.29h-1.02zM165.00 85.89h1.02V86.44h-1.02zM167.00 83.99h1.02V84.92h-1.02zM168.00 50.81h1.02V56.33h-1.02zM168.00 59.15h1.02V63.51h-1.02zM168.00 83.31h1.02V84.16h-1.02zM169.00 60.18h1.02V66.75h-1.02zM169.00 66.75h1.02V70.07h-1.02zM170.00 79.89h1.02V87.20h-1.02zM170.00 25.80h1.02V26.51h-1.02zM171.00 25.80h1.02V34.58h-1.02zM171.00 81.19h1.02V86.03h-1.02zM175.00 85.88h1.02V86.93h-1.02zM179.00 25.80h1.02V26.31h-1.02zM186.00 83.67h1.02V87.20h-1.02zM186.00 85.52h1.02V86.44h-1.02zM187.00 74.95h1.02V81.19h-1.02zM187.00 84.09h1.02V87.20h-1.02zM187.00 25.80h1.02V26.39h-1.02zM188.00 83.62h1.02V87.20h-1.02zM189.00 82.46h1.02V87.20h-1.02zM190.00 84.56h1.02V87.20h-1.02zM190.00 86.42h1.02V87.20h-1.02zM190.00 26.17h1.02V26.57h-1.02zM191.00 83.62h1.02V87.20h-1.02zM192.00 80.49h1.02V87.20h-1.02zM194.00 82.69h1.02V87.20h-1.02zM195.00 86.59h1.02V87.20h-1.02zM196.00 86.52h1.02V87.20h-1.02zM196.00 82.59h1.02V83.20h-1.02zM197.00 85.39h1.02V87.20h-1.02zM198.00 83.85h1.02V87.20h-1.02zM199.00 85.70h1.02V87.20h-1.02zM201.00 83.60h1.02V87.20h-1.02zM202.00 84.17h1.02V87.20h-1.02zM203.00 83.72h1.02V87.20h-1.02zM204.00 84.04h1.02V87.20h-1.02zM204.00 83.45h1.02V84.62h-1.02zM205.00 81.94h1.02V87.20h-1.02zM205.00 26.51h1.02V26.67h-1.02zM206.00 83.69h1.02V87.20h-1.02zM207.00 83.71h1.02V87.20h-1.02zM207.00 84.42h1.02V85.44h-1.02zM208.00 84.33h1.02V87.20h-1.02zM208.00 86.86h1.02V87.20h-1.02zM210.00 83.84h1.02V87.20h-1.02zM211.00 79.47h1.02V87.20h-1.02zM211.00 25.80h1.02V26.23h-1.02zM212.00 79.49h1.02V87.20h-1.02zM212.00 25.80h1.02V26.37h-1.02zM213.00 78.75h1.02V87.20h-1.02zM213.00 84.81h1.02V85.29h-1.02zM214.00 76.20h1.02V87.20h-1.02zM215.00 78.18h1.02V87.20h-1.02zM216.00 79.39h1.02V87.20h-1.02zM216.00 86.20h1.02V87.20h-1.02zM217.00 76.27h1.02V87.20h-1.02zM217.00 83.97h1.02V84.53h-1.02zM217.00 84.53h1.02V85.73h-1.02zM217.00 87.02h1.02V87.20h-1.02zM220.00 83.39h1.02V87.20h-1.02zM220.00 84.59h1.02V85.46h-1.02zM221.00 81.97h1.02V87.20h-1.02zM222.00 86.53h1.02V86.95h-1.02zM222.00 25.80h1.02V26.17h-1.02zM224.00 84.42h1.02V85.37h-1.02zM225.00 25.80h1.02V26.50h-1.02zM227.00 26.53h1.02V27.01h-1.02zM228.00 26.42h0.62V26.88h-0.62zM231.60 25.80h1.02V26.40h-1.02zM235.00 26.84h1.02V26.90h-1.02zM239.00 67.09h1.02V72.66h-1.02zM239.00 72.66h1.02V75.45h-1.02zM240.00 63.06h1.02V68.08h-1.02zM240.00 84.36h1.02V85.55h-1.02zM241.00 85.76h0.22V86.46h-0.22zM242.60 84.15h1.02V85.16h-1.02zM242.60 86.42h1.02V86.96h-1.02zM242.60 25.80h1.02V26.42h-1.02zM244.60 26.75h1.02V27.12h-1.02zM245.60 83.19h1.02V83.96h-1.02zM248.00 60.86h0.52V63.45h-0.52zM248.00 76.90h0.52V82.17h-0.52zM248.00 82.17h0.52V87.20h-0.52zM248.00 26.49h0.52V26.56h-0.52zM248.50 80.04h1.02V85.17h-1.02zM253.00 84.68h1.02V85.44h-1.02zM254.00 82.14h1.02V87.20h-1.02zM255.00 83.73h1.02V87.20h-1.02zM257.00 85.72h1.02V87.04h-1.02zM258.00 64.97h1.02V72.22h-1.02zM258.00 85.28h1.02V87.20h-1.02zM258.00 85.21h1.02V86.18h-1.02zM259.00 65.85h1.02V72.54h-1.02zM259.00 72.54h1.02V78.86h-1.02zM259.00 84.75h1.02V87.20h-1.02zM260.00 55.33h1.02V57.81h-1.02zM260.00 84.31h1.02V85.41h-1.02zM261.00 26.32h1.02V26.69h-1.02zM262.00 52.03h1.02V57.08h-1.02zM265.00 25.80h1.02V26.23h-1.02zM266.00 86.46h1.02V87.20h-1.02zM266.00 25.80h1.02V26.11h-1.02zM274.00 25.80h1.02V26.19h-1.02zM277.00 50.89h1.02V56.10h-1.02zM277.00 59.23h1.02V62.26h-1.02zM277.00 75.97h1.02V81.20h-1.02zM278.00 70.43h1.02V76.86h-1.02zM278.00 83.52h1.02V84.52h-1.02zM279.00 83.51h1.02V87.20h-1.02zM280.00 86.55h1.02V87.20h-1.02zM290.00 71.45h1.02V79.09h-1.02zM290.00 84.48h1.02V85.20h-1.02zM293.00 83.87h1.02V84.92h-1.02zM293.00 25.80h1.02V26.44h-1.02zM293.00 26.44h1.02V26.67h-1.02zM294.00 85.31h1.02V86.35h-1.02zM297.00 25.80h1.02V25.89h-1.02zM298.00 26.14h1.02V26.59h-1.02zM301.00 87.12h1.02V87.20h-1.02zM303.00 47.59h1.02V54.44h-1.02zM303.00 57.08h1.02V62.54h-1.02zM304.00 25.80h1.02V26.34h-1.02zM311.00 26.68h1.02V26.78h-1.02zM318.00 26.18h1.02V26.49h-1.02zM321.00 26.38h1.02V26.78h-1.02zM322.00 84.77h1.02V85.76h-1.02zM323.00 84.87h1.02V85.27h-1.02zM324.00 36.23h1.02V39.89h-1.02zM324.00 54.19h1.02V58.30h-1.02zM324.00 58.30h1.02V66.73h-1.02zM325.00 53.93h1.02V59.42h-1.02zM325.00 71.65h1.02V79.11h-1.02zM325.00 79.11h1.02V84.37h-1.02zM325.00 84.37h1.02V87.20h-1.02zM327.00 78.56h1.02V87.03h-1.02zM327.00 87.03h1.02V87.20h-1.02zM327.00 86.78h1.02V87.20h-1.02zM328.00 25.80h1.02V25.89h-1.02zM330.00 54.36h1.02V61.96h-1.02zM330.00 61.96h1.02V64.41h-1.02zM331.00 60.73h1.02V63.51h-1.02zM331.00 84.23h1.02V84.91h-1.02zM331.00 25.80h1.02V25.93h-1.02zM332.00 48.28h0.32V54.01h-0.32zM332.30 86.39h1.02V86.96h-1.02zM334.30 87.14h0.32V87.20h-0.32zM334.60 60.99h1.02V65.41h-1.02zM335.60 64.13h0.92V68.87h-0.92zM335.60 68.87h0.92V77.35h-0.92zM335.60 86.15h0.92V87.12h-0.92zM336.50 25.80h1.02V26.26h-1.02zM337.50 87.01h1.02V87.20h-1.02zM341.50 25.80h1.02V26.13h-1.02zM343.80 25.80h1.02V26.23h-1.02zM344.80 80.72h0.62V85.70h-0.62zM344.80 86.11h0.62V86.85h-0.62zM344.80 25.80h0.62V26.08h-0.62zM349.00 25.80h1.02V36.70h-1.02zM350.00 25.80h0.82V31.20h-0.82zM350.00 84.45h0.82V85.79h-0.82zM352.80 58.31h0.32V65.07h-0.32zM352.80 86.02h0.32V86.59h-0.32zM353.10 84.45h1.02V85.79h-1.02zM356.40 83.89h1.02V84.73h-1.02zM362.50 25.80h1.02V26.20h-1.02zM366.20 26.46h1.02V26.90h-1.02zM373.00 83.83h1.02V84.50h-1.02zM373.00 84.50h1.02V85.18h-1.02zM373.00 85.18h1.02V86.10h-1.02zM373.00 25.80h1.02V26.24h-1.02zM376.60 26.82h1.02V27.02h-1.02zM389.00 82.56h0.22V83.65h-0.22zM389.20 25.80h1.02V26.55h-1.02zM394.60 26.73h1.02V27.02h-1.02zM395.60 38.50h1.02V41.25h-1.02zM396.60 86.20h1.02V87.17h-1.02zM397.60 31.08h0.12V39.44h-0.12zM398.70 84.64h1.02V85.12h-1.02zM402.70 86.92h1.02V87.20h-1.02zM403.70 85.62h1.02V86.50h-1.02zM405.00 25.80h1.02V26.29h-1.02zM406.00 83.92h1.02V84.50h-1.02zM410.00 77.47h1.02V83.28h-1.02zM410.00 84.58h1.02V85.82h-1.02zM411.00 69.37h1.02V72.33h-1.02zM411.00 72.33h1.02V78.42h-1.02zM411.00 84.31h1.02V85.23h-1.02zM411.00 26.43h1.02V26.86h-1.02zM412.00 86.70h1.02V87.20h-1.02zM413.00 71.07h1.02V75.12h-1.02zM414.00 67.46h1.02V71.82h-1.02zM415.00 25.80h1.02V25.97h-1.02zM416.00 81.50h1.02V85.20h-1.02zM418.00 71.18h1.02V75.36h-1.02zM419.00 62.83h1.02V68.97h-1.02zM420.00 81.94h1.02V87.20h-1.02zM420.00 26.16h1.02V26.66h-1.02zM421.00 82.59h1.02V87.20h-1.02zM425.00 85.13h1.02V86.08h-1.02zM428.00 83.45h1.02V84.22h-1.02zM429.00 86.26h1.02V87.20h-1.02zM432.00 83.90h1.02V85.02h-1.02zM435.00 86.18h1.02V86.93h-1.02zM435.00 26.32h1.02V26.63h-1.02zM437.00 74.56h1.02V79.89h-1.02zM437.00 84.48h1.02V87.20h-1.02zM438.00 82.94h1.02V87.20h-1.02zM438.00 86.77h1.02V87.20h-1.02zM439.00 83.06h1.02V84.39h-1.02zM441.00 84.27h1.02V87.20h-1.02zM443.00 41.83h1.02V45.98h-1.02zM443.00 58.73h1.02V64.95h-1.02zM443.00 85.52h1.02V87.20h-1.02zM444.00 45.48h1.02V49.52h-1.02zM444.00 70.17h1.02V78.38h-1.02zM444.00 78.38h1.02V83.01h-1.02zM444.00 26.47h1.02V26.81h-1.02zM448.00 85.62h1.02V86.92h-1.02zM449.00 85.12h1.02V87.20h-1.02zM449.00 84.14h1.02V84.76h-1.02zM450.00 84.51h1.02V87.20h-1.02zM452.00 86.54h1.02V87.20h-1.02zM452.00 84.35h1.02V84.87h-1.02zM453.00 28.26h1.02V36.75h-1.02zM453.00 39.42h1.02V41.94h-1.02zM453.00 60.31h1.02V69.02h-1.02zM453.00 77.27h1.02V80.60h-1.02zM454.00 25.80h1.02V33.36h-1.02zM454.00 33.36h1.02V40.82h-1.02zM454.00 69.24h1.02V77.93h-1.02zM459.00 25.80h1.02V26.06h-1.02zM463.00 58.31h1.02V65.53h-1.02zM464.00 67.02h1.02V70.86h-1.02zM466.00 84.51h1.02V85.38h-1.02zM478.00 25.80h1.02V26.15h-1.02zM480.00 25.80h1.02V26.34h-1.02zM481.50 84.89h1.02V85.92h-1.02zM482.50 25.80h0.52V26.28h-0.52zM490.00 26.86h1.02V27.04h-1.02zM493.00 86.35h1.02V87.19h-1.02zM496.00 83.60h1.02V84.08h-1.02zM496.00 85.84h1.02V87.12h-1.02zM497.00 83.73h1.02V84.66h-1.02zM498.00 82.80h1.02V83.29h-1.02zM500.00 25.80h1.02V26.30h-1.02zM505.40 84.38h0.62V85.70h-0.62zM506.00 83.13h1.02V83.88h-1.02zM506.00 86.03h1.02V86.43h-1.02z"/>
<path fill="#3652a8" d="M27.00 25.80h1.02V26.26h-1.02zM28.50 31.63h1.02V38.23h-1.02zM28.50 83.06h1.02V83.86h-1.02zM29.50 33.22h1.02V37.86h-1.02zM30.50 35.73h0.52V38.95h-0.52zM30.50 64.73h0.52V74.82h-0.52zM32.00 46.02h1.02V55.13h-1.02zM32.00 83.84h1.02V84.69h-1.02zM34.50 82.78h1.02V84.05h-1.02zM36.00 27.49h1.02V42.26h-1.02zM36.00 44.22h1.02V54.22h-1.02zM37.00 28.84h1.02V41.22h-1.02zM37.00 25.80h1.02V26.30h-1.02zM38.00 29.51h0.52V41.37h-0.52zM38.00 45.73h0.52V55.12h-0.52zM41.00 32.86h1.02V47.82h-1.02zM41.00 83.76h1.02V84.55h-1.02zM42.00 33.04h1.02V46.29h-1.02zM42.00 86.24h1.02V86.89h-1.02zM42.00 26.11h1.02V26.24h-1.02zM43.00 25.80h1.02V80.38h-1.02zM44.00 25.80h1.02V83.34h-1.02zM44.00 84.24h1.02V85.00h-1.02zM54.00 25.80h1.00V25.99h-1.00zM55.00 86.59h1.02V87.20h-1.02zM56.00 25.80h1.02V40.67h-1.02zM57.80 25.80h1.02V87.20h-1.02zM57.80 82.77h1.02V83.62h-1.02zM58.80 25.80h0.22V87.20h-0.22zM58.80 83.59h0.22V84.43h-0.22zM59.00 85.23h1.02V85.99h-1.02zM59.00 87.11h1.02V87.20h-1.02zM62.80 43.48h1.02V52.80h-1.02zM62.80 85.66h1.02V86.32h-1.02zM63.80 42.44h1.02V50.85h-1.02zM64.80 44.46h0.22V53.11h-0.22zM65.00 85.19h1.02V86.27h-1.02zM66.00 85.40h1.02V85.99h-1.02zM67.00 25.80h1.02V25.89h-1.02zM68.00 36.56h1.02V42.48h-1.02zM69.00 37.06h1.02V44.62h-1.02zM69.00 83.16h1.02V83.86h-1.02zM71.00 84.30h0.52V85.25h-0.52zM74.70 26.49h1.02V26.86h-1.02zM76.80 26.44h0.62V26.74h-0.62zM77.40 25.80h1.02V81.17h-1.02zM78.40 25.80h1.02V82.97h-1.02zM79.40 25.80h0.62V81.83h-0.62zM79.40 84.08h0.62V84.72h-0.62zM79.40 84.72h0.62V85.68h-0.62zM88.60 25.80h1.02V26.46h-1.02zM94.40 85.05h0.72V86.14h-0.72zM96.10 86.98h1.02V87.20h-1.02zM100.20 26.40h1.02V26.50h-1.02zM106.00 85.93h1.02V87.20h-1.02zM108.00 26.41h0.62V26.84h-0.62zM108.60 86.40h1.02V87.20h-1.02zM112.00 83.82h1.02V85.03h-1.02zM112.00 25.80h1.02V25.86h-1.02zM113.00 84.73h1.02V85.40h-1.02zM114.80 43.55h1.02V57.38h-1.02zM115.80 44.07h0.72V57.35h-0.72zM123.50 84.80h1.02V85.71h-1.02zM126.50 25.80h1.02V26.14h-1.02zM127.50 84.77h1.02V86.08h-1.02zM128.50 86.07h0.12V86.92h-0.12zM129.60 82.67h0.92V84.01h-0.92zM129.60 85.20h0.92V85.70h-0.92zM130.50 69.30h1.02V87.20h-1.02zM134.00 84.41h1.02V84.87h-1.02zM139.00 84.56h0.42V84.98h-0.42zM139.40 25.80h1.02V33.56h-1.02zM140.40 25.80h1.02V31.98h-1.02zM141.40 25.80h1.02V31.28h-1.02zM142.40 25.80h0.62V33.72h-0.62zM142.40 26.38h0.62V26.59h-0.62zM143.00 86.84h1.02V87.20h-1.02zM144.00 31.59h1.02V38.19h-1.02zM147.00 25.80h1.02V61.17h-1.02zM160.00 26.49h1.00V26.78h-1.00zM161.00 25.80h1.00V26.42h-1.00zM164.00 26.69h1.02V26.93h-1.02zM168.00 25.80h1.02V26.47h-1.02zM169.00 84.68h1.02V85.70h-1.02zM169.00 85.70h1.02V86.40h-1.02zM172.00 25.80h1.02V25.92h-1.02zM174.00 25.80h1.02V34.70h-1.02zM175.00 25.80h1.02V32.87h-1.02zM178.00 82.85h1.02V83.97h-1.02zM180.00 25.80h1.02V26.10h-1.02zM181.00 25.80h1.02V26.34h-1.02zM184.00 86.37h1.02V87.20h-1.02zM187.00 83.80h1.02V84.21h-1.02zM189.00 84.16h1.02V84.90h-1.02zM191.00 87.07h1.02V87.20h-1.02zM195.00 25.80h1.02V26.14h-1.02zM197.00 83.50h1.02V84.00h-1.02zM198.00 86.08h1.02V86.75h-1.02zM202.00 83.48h1.02V84.61h-1.02zM202.00 85.51h1.02V86.06h-1.02zM204.00 85.52h1.02V86.57h-1.02zM204.00 25.80h1.02V26.12h-1.02zM206.00 84.54h1.02V85.72h-1.02zM206.00 26.57h1.02V26.64h-1.02zM208.00 86.19h1.02V86.86h-1.02zM209.00 84.13h1.02V84.71h-1.02zM210.00 64.01h1.02V70.72h-1.02zM210.00 26.57h1.02V26.97h-1.02zM211.00 65.77h1.02V68.95h-1.02zM212.00 65.21h1.02V70.42h-1.02zM213.00 64.95h1.02V69.04h-1.02zM214.00 66.36h1.02V69.67h-1.02zM214.00 85.45h1.02V86.73h-1.02zM215.00 63.17h1.02V69.65h-1.02zM216.00 66.10h1.02V72.45h-1.02zM217.00 64.00h1.02V70.40h-1.02zM218.00 84.67h1.02V85.41h-1.02zM220.00 25.80h1.02V83.39h-1.02zM221.00 25.80h1.02V81.97h-1.02zM221.00 26.12h1.02V26.45h-1.02zM223.00 26.19h1.02V26.51h-1.02zM224.00 25.80h1.02V87.20h-1.02zM233.00 86.28h1.02V86.97h-1.02zM235.00 25.80h1.02V26.21h-1.02zM243.60 86.78h1.02V87.20h-1.02zM248.00 84.66h0.52V85.66h-0.52zM248.50 25.80h1.02V26.56h-1.02zM250.00 25.80h1.02V26.10h-1.02zM251.00 83.76h1.02V84.46h-1.02zM251.00 26.14h1.02V26.42h-1.02zM254.00 85.17h1.02V86.39h-1.02zM257.00 83.46h1.02V87.20h-1.02zM258.00 25.80h1.02V38.37h-1.02zM259.00 25.80h1.02V39.93h-1.02zM260.00 73.84h1.02V87.20h-1.02zM261.00 70.87h1.02V87.20h-1.02zM262.00 71.41h1.02V87.20h-1.02zM262.00 85.97h1.02V87.16h-1.02zM265.00 85.66h1.02V86.07h-1.02zM266.00 84.42h1.02V85.26h-1.02zM271.00 25.80h1.02V25.98h-1.02zM289.00 83.56h1.02V84.61h-1.02zM291.00 84.65h1.02V85.76h-1.02zM291.00 85.76h1.02V86.87h-1.02zM292.00 85.70h1.02V86.53h-1.02zM292.00 86.53h1.02V87.20h-1.02zM292.00 25.80h1.02V26.27h-1.02zM293.00 84.92h1.02V85.47h-1.02zM295.00 25.80h1.02V26.16h-1.02zM295.00 26.16h1.02V26.49h-1.02zM296.00 86.41h1.02V87.20h-1.02zM301.00 85.16h1.02V86.06h-1.02zM303.00 25.80h1.02V44.61h-1.02zM304.00 25.80h1.02V45.40h-1.02zM305.00 26.39h1.02V26.70h-1.02zM305.00 26.70h1.02V26.84h-1.02zM307.00 85.25h1.02V86.17h-1.02zM312.00 83.70h1.02V84.14h-1.02zM316.00 25.80h1.02V29.89h-1.02zM317.00 25.80h1.02V26.63h-1.02zM319.00 86.59h1.02V87.20h-1.02zM320.00 25.80h1.02V26.45h-1.02zM321.00 86.18h1.02V86.71h-1.02zM322.00 26.26h1.02V26.94h-1.02zM323.00 85.27h1.02V86.04h-1.02zM323.00 25.80h1.02V26.23h-1.02zM324.00 25.80h1.02V36.23h-1.02zM324.00 26.55h1.02V26.75h-1.02zM325.00 25.80h1.02V40.67h-1.02zM326.00 26.77h1.02V26.88h-1.02zM329.00 86.21h1.02V87.20h-1.02zM332.00 85.12h0.32V85.77h-0.32zM332.30 84.96h1.02V85.63h-1.02zM334.60 25.80h1.02V53.87h-1.02zM334.60 84.98h1.02V85.87h-1.02zM335.60 25.80h0.92V51.27h-0.92zM336.50 84.65h1.02V85.91h-1.02zM338.50 25.80h1.02V54.02h-1.02zM338.50 84.45h1.02V85.14h-1.02zM339.50 25.80h1.02V55.01h-1.02zM340.50 25.80h1.02V58.32h-1.02zM341.50 25.80h1.02V56.31h-1.02zM342.50 25.80h1.02V56.93h-1.02zM343.50 25.80h0.32V56.81h-0.32zM344.80 84.20h0.62V85.03h-0.62zM345.40 25.80h1.02V26.20h-1.02zM346.40 82.61h1.02V83.12h-1.02zM346.40 85.66h1.02V86.46h-1.02zM346.40 26.12h1.02V26.28h-1.02zM348.00 87.01h1.02V87.20h-1.02zM349.00 83.13h1.02V83.92h-1.02zM349.00 85.46h1.02V86.26h-1.02zM350.80 85.36h1.02V86.23h-1.02zM352.80 26.47h0.32V26.76h-0.32zM355.10 79.00h0.32V87.20h-0.32zM355.10 84.77h0.32V85.34h-0.32zM355.10 85.34h0.32V86.61h-0.32zM357.40 25.80h1.02V26.19h-1.02zM359.40 83.68h0.62V84.89h-0.62zM365.60 85.63h0.62V86.36h-0.62zM373.00 26.24h1.02V26.88h-1.02zM374.00 86.35h0.62V87.20h-0.62zM379.70 85.82h0.32V86.54h-0.32zM389.20 42.16h1.02V50.37h-1.02zM390.20 42.61h0.82V50.29h-0.82zM395.60 26.44h1.02V26.53h-1.02zM398.70 86.70h1.02V87.20h-1.02zM400.70 85.01h1.02V85.50h-1.02zM401.70 86.06h1.02V86.48h-1.02zM401.70 25.80h1.02V26.27h-1.02zM404.70 84.15h0.32V85.48h-0.32zM406.00 26.43h1.02V26.70h-1.02zM407.00 85.62h1.02V86.42h-1.02zM408.00 25.80h0.52V25.87h-0.52zM410.00 85.82h1.02V86.82h-1.02zM410.00 26.20h1.02V26.58h-1.02zM412.00 83.19h1.02V83.67h-1.02zM413.00 25.80h1.02V26.09h-1.02zM415.00 36.34h1.02V47.48h-1.02zM416.00 85.15h1.02V86.29h-1.02zM423.00 84.52h1.02V85.49h-1.02zM424.00 25.80h1.02V26.27h-1.02zM426.00 82.76h1.02V83.37h-1.02zM426.00 87.13h1.02V87.20h-1.02zM427.00 26.68h1.02V27.04h-1.02zM429.00 85.69h1.02V86.26h-1.02zM430.00 85.47h1.02V86.14h-1.02zM431.00 85.34h1.02V86.46h-1.02zM431.00 26.88h1.02V27.14h-1.02zM434.00 86.77h1.02V87.18h-1.02zM435.00 84.73h1.02V85.26h-1.02zM435.00 86.93h1.02V87.20h-1.02zM437.00 83.98h1.02V85.23h-1.02zM439.00 84.39h1.02V85.01h-1.02zM439.00 86.85h1.02V87.20h-1.02zM444.00 85.72h1.02V86.79h-1.02zM447.00 85.26h1.02V86.24h-1.02zM448.00 83.46h1.02V84.81h-1.02zM449.00 25.80h1.02V85.12h-1.02zM450.00 25.80h1.02V84.51h-1.02zM450.00 85.63h1.02V86.17h-1.02zM451.00 25.80h1.02V84.46h-1.02zM451.00 84.59h1.02V85.31h-1.02zM452.00 25.80h1.02V86.54h-1.02zM453.00 85.25h1.02V85.66h-1.02zM455.00 25.80h1.02V47.45h-1.02zM456.00 25.80h1.02V49.30h-1.02zM456.00 25.80h1.02V26.27h-1.02zM458.00 74.07h1.02V87.20h-1.02zM458.00 84.65h1.02V85.28h-1.02zM458.00 85.80h1.02V86.54h-1.02zM460.00 86.38h1.02V86.94h-1.02zM465.00 86.36h1.02V87.18h-1.02zM466.00 83.07h1.02V83.80h-1.02zM487.50 85.81h0.52V87.04h-0.52zM495.00 85.46h1.02V86.23h-1.02zM496.00 82.56h1.02V83.09h-1.02zM496.00 25.80h1.02V26.43h-1.02zM498.00 84.53h1.02V85.29h-1.02zM500.00 85.54h1.02V86.90h-1.02zM507.00 83.65h1.02V84.24h-1.02zM507.00 86.07h1.02V87.20h-1.02zM507.00 25.80h1.02V26.48h-1.02zM508.00 54.83h1.02V69.90h-1.02zM508.00 85.00h1.02V85.72h-1.02zM508.00 26.35h1.02V26.46h-1.02zM509.00 53.46h1.02V66.19h-1.02zM510.00 53.98h1.02V70.05h-1.02zM511.00 53.10h0.42V65.88h-0.42zM511.00 83.42h0.42V84.51h-0.42z"/>
<path fill="#b4483f" d="M28.50 74.28h1.02V87.20h-1.02zM30.50 84.93h0.52V85.67h-0.52zM30.50 25.80h0.52V26.51h-0.52zM33.50 82.78h1.02V83.18h-1.02zM36.00 84.69h1.02V86.00h-1.02zM37.00 74.87h1.02V83.26h-1.02zM37.00 26.30h1.02V26.35h-1.02zM38.50 70.80h1.02V80.45h-1.02zM38.50 84.19h1.02V84.64h-1.02zM39.50 71.61h1.02V82.43h-1.02zM40.50 68.38h0.52V80.40h-0.52zM44.00 86.10h1.02V86.63h-1.02zM56.00 72.28h1.02V76.72h-1.02zM56.00 86.20h1.02V86.64h-1.02zM60.00 26.56h1.02V26.87h-1.02zM62.00 26.50h0.82V26.81h-0.82zM63.80 86.54h1.02V87.20h-1.02zM67.00 86.88h1.02V87.20h-1.02zM68.00 85.24h1.02V85.74h-1.02zM72.50 83.90h0.22V84.33h-0.22zM73.70 25.80h1.02V26.54h-1.02zM74.70 82.69h1.02V83.77h-1.02zM75.70 66.02h0.12V72.69h-0.12zM76.80 82.65h0.62V83.64h-0.62zM81.60 52.39h1.02V86.91h-1.02zM81.60 83.39h1.02V84.69h-1.02zM82.60 51.42h1.02V84.82h-1.02zM82.60 26.60h1.02V26.78h-1.02zM94.40 26.34h0.72V26.77h-0.72zM95.10 85.22h1.02V87.20h-1.02zM95.10 86.59h1.02V87.20h-1.02zM96.10 51.63h1.02V58.05h-1.02zM97.10 74.69h0.12V81.71h-0.12zM97.10 81.71h0.12V85.16h-0.12zM97.10 87.10h0.12V87.20h-0.12zM97.20 84.09h1.02V85.26h-1.02zM98.20 25.80h1.02V26.22h-1.02zM106.00 84.63h1.02V85.93h-1.02zM107.00 84.79h1.02V85.40h-1.02zM108.60 86.01h1.02V86.40h-1.02zM111.60 84.16h0.42V84.74h-0.42zM112.00 59.35h1.02V62.81h-1.02zM113.00 56.20h1.02V62.60h-1.02zM113.00 62.60h1.02V65.63h-1.02zM114.00 84.05h0.82V84.48h-0.82zM114.80 57.38h1.02V87.20h-1.02zM114.80 82.81h1.02V83.85h-1.02zM115.80 57.35h0.72V87.20h-0.72zM116.50 84.03h1.02V84.83h-1.02zM117.50 85.92h1.02V86.33h-1.02zM117.50 26.18h1.02V26.65h-1.02zM120.50 45.18h1.02V87.20h-1.02zM120.50 25.80h1.02V26.52h-1.02zM121.50 45.69h1.02V87.20h-1.02zM127.50 82.83h1.02V84.16h-1.02zM132.50 82.87h1.02V84.01h-1.02zM132.50 85.04h1.02V86.30h-1.02zM133.50 55.13h0.52V63.37h-0.52zM134.00 26.70h1.02V26.98h-1.02zM135.00 87.10h1.02V87.20h-1.02zM137.00 59.36h1.02V67.13h-1.02zM137.00 79.23h1.02V87.20h-1.02zM139.00 78.56h0.42V84.47h-0.42zM142.40 83.79h0.62V84.18h-0.62zM144.00 38.19h1.02V46.94h-1.02zM144.00 85.31h1.02V86.57h-1.02zM145.00 84.06h1.02V84.75h-1.02zM160.00 26.14h1.00V26.49h-1.00zM162.00 26.61h1.00V26.66h-1.00zM164.00 56.81h1.02V63.59h-1.02zM164.00 83.29h1.02V84.58h-1.02zM165.00 83.48h1.02V84.05h-1.02zM166.00 83.71h1.02V84.24h-1.02zM166.00 85.72h1.02V86.12h-1.02zM166.00 86.94h1.02V87.20h-1.02zM168.00 84.16h1.02V85.02h-1.02zM168.00 85.02h1.02V86.11h-1.02zM170.00 85.93h1.02V86.50h-1.02zM171.00 86.03h1.02V87.20h-1.02zM172.00 86.63h1.02V87.20h-1.02zM174.00 25.80h1.02V26.06h-1.02zM177.00 82.61h1.02V83.04h-1.02zM177.00 26.52h1.02V26.65h-1.02zM178.00 83.97h1.02V85.14h-1.02zM178.00 86.83h1.02V87.20h-1.02zM179.00 86.24h1.02V86.97h-1.02zM180.00 85.80h1.02V86.43h-1.02zM185.00 78.28h1.02V85.85h-1.02zM186.00 62.82h1.02V66.39h-1.02zM186.00 66.39h1.02V75.08h-1.02zM187.00 81.19h1.02V84.09h-1.02zM188.00 26.25h1.02V26.69h-1.02zM191.00 83.03h1.02V84.01h-1.02zM193.00 75.52h1.02V79.49h-1.02zM194.00 86.67h1.02V87.20h-1.02zM199.00 86.26h1.02V87.20h-1.02zM200.00 86.10h1.02V86.49h-1.02zM203.00 85.33h1.02V86.12h-1.02zM208.00 84.13h1.02V85.17h-1.02zM209.00 85.57h1.02V86.50h-1.02zM211.00 83.19h1.02V84.02h-1.02zM213.00 86.56h1.02V87.20h-1.02zM217.00 86.19h1.02V87.02h-1.02zM218.00 85.41h1.02V86.51h-1.02zM222.00 86.95h1.02V87.20h-1.02zM240.00 75.61h1.02V81.17h-1.02zM241.00 63.24h0.22V71.83h-0.22zM241.00 84.53h0.22V87.20h-0.22zM243.60 85.87h1.02V86.78h-1.02zM244.60 85.04h1.02V86.24h-1.02zM244.60 25.80h1.02V26.40h-1.02zM245.60 85.25h1.02V85.78h-1.02zM248.00 63.45h0.52V66.66h-0.52zM249.50 83.41h0.52V84.46h-0.52zM250.00 84.04h1.02V85.38h-1.02zM250.00 86.53h1.02V87.20h-1.02zM251.00 85.15h1.02V86.26h-1.02zM251.00 87.00h1.02V87.20h-1.02zM253.00 83.53h1.02V84.68h-1.02zM255.00 25.80h1.02V26.37h-1.02zM256.00 87.11h1.02V87.20h-1.02zM258.00 75.84h1.02V82.18h-1.02zM258.00 86.18h1.02V87.09h-1.02zM258.00 26.32h1.02V26.61h-1.02zM259.00 78.86h1.02V84.75h-1.02zM260.00 85.88h1.02V87.09h-1.02zM262.00 57.08h1.02V61.68h-1.02zM262.00 61.68h1.02V69.95h-1.02zM263.00 84.28h1.02V85.56h-1.02zM272.00 25.80h1.02V26.04h-1.02zM278.00 76.86h1.02V80.60h-1.02zM279.00 44.76h1.02V69.79h-1.02zM279.00 69.79h1.02V76.92h-1.02zM280.00 44.18h1.02V65.43h-1.02zM280.00 73.87h1.02V76.73h-1.02zM280.00 25.80h1.02V26.04h-1.02zM281.00 44.61h1.02V66.48h-1.02zM282.00 44.70h0.82V66.55h-0.82zM289.00 25.80h1.02V26.18h-1.02zM290.00 85.48h1.02V87.20h-1.02zM299.00 83.85h1.02V84.45h-1.02zM300.00 83.89h1.02V84.95h-1.02zM301.00 84.00h1.02V85.16h-1.02zM302.00 79.24h1.02V86.55h-1.02zM302.00 86.55h1.02V87.20h-1.02zM303.00 62.54h1.02V87.20h-1.02zM304.00 63.86h1.02V87.20h-1.02zM305.00 83.15h1.02V83.71h-1.02zM306.00 26.41h1.02V26.91h-1.02zM308.00 26.47h1.02V26.87h-1.02zM312.00 84.14h1.02V85.40h-1.02zM314.00 46.40h1.02V87.20h-1.02zM315.00 48.83h1.02V87.20h-1.02zM316.00 46.99h1.02V87.20h-1.02zM316.00 85.80h1.02V87.14h-1.02zM316.00 87.14h1.02V87.20h-1.02zM317.00 50.29h1.02V87.20h-1.02zM319.00 26.56h1.02V26.76h-1.02zM320.00 26.45h1.02V26.96h-1.02zM321.00 84.05h1.02V85.07h-1.02zM324.00 83.34h1.02V84.35h-1.02zM324.00 86.96h1.02V87.20h-1.02zM334.30 84.20h0.32V84.88h-0.32zM334.60 65.41h1.02V71.11h-1.02zM334.60 84.02h1.02V84.98h-1.02zM334.60 86.92h1.02V87.20h-1.02zM335.60 86.08h0.92V87.20h-0.92zM338.50 26.73h1.02V27.07h-1.02zM339.50 82.62h1.02V83.51h-1.02zM341.50 67.46h1.02V87.20h-1.02zM341.50 85.84h1.02V86.80h-1.02zM341.50 86.80h1.02V87.20h-1.02zM341.50 26.58h1.02V26.88h-1.02zM342.50 25.80h1.02V26.01h-1.02zM343.80 41.59h1.02V67.03h-1.02zM344.80 43.42h0.62V66.53h-0.62zM344.80 83.15h0.62V84.20h-0.62zM345.40 26.20h1.02V26.73h-1.02zM345.40 26.73h1.02V26.90h-1.02zM350.80 58.23h1.02V66.23h-1.02zM350.80 66.23h1.02V87.20h-1.02zM351.80 47.21h1.02V55.69h-1.02zM351.80 55.69h1.02V63.47h-1.02zM351.80 63.47h1.02V65.76h-1.02zM351.80 65.76h1.02V87.20h-1.02zM351.80 25.80h1.02V26.15h-1.02zM352.80 50.25h0.32V58.31h-0.32zM352.80 68.80h0.32V87.20h-0.32zM352.80 85.00h0.32V86.02h-0.32zM355.10 26.12h0.32V26.26h-0.32zM356.40 86.48h1.02V87.15h-1.02zM357.40 84.99h1.02V86.11h-1.02zM357.40 86.11h1.02V87.20h-1.02zM364.60 25.80h1.02V26.31h-1.02zM378.70 86.08h1.02V86.53h-1.02zM384.00 86.28h1.02V87.20h-1.02zM385.00 85.77h1.02V86.88h-1.02zM388.00 85.63h1.02V86.12h-1.02zM390.20 86.70h0.82V87.20h-0.82zM391.00 84.29h1.02V85.54h-1.02zM399.70 85.50h1.02V86.04h-1.02zM399.70 26.47h1.02V26.86h-1.02zM401.70 87.06h1.02V87.20h-1.02zM404.70 86.24h0.32V87.17h-0.32zM406.00 82.56h1.02V83.92h-1.02zM408.50 84.30h1.02V84.76h-1.02zM408.50 86.57h1.02V87.20h-1.02zM409.50 86.93h0.52V87.20h-0.52zM410.00 84.18h1.02V84.58h-1.02zM411.00 84.58h1.02V87.20h-1.02zM413.00 66.83h1.02V71.07h-1.02zM414.00 83.00h1.02V83.64h-1.02zM414.00 84.76h1.02V85.18h-1.02zM416.00 25.80h1.02V37.71h-1.02zM416.00 62.36h1.02V70.86h-1.02zM417.00 82.74h1.02V87.20h-1.02zM417.00 85.80h1.02V86.60h-1.02zM417.00 25.80h1.02V25.91h-1.02zM420.00 85.11h1.02V86.18h-1.02zM420.00 86.78h1.02V87.20h-1.02zM421.00 84.97h1.02V86.06h-1.02zM422.00 53.06h1.02V87.20h-1.02zM423.00 51.17h1.02V87.20h-1.02zM423.00 86.32h1.02V86.76h-1.02zM424.00 52.85h1.02V87.20h-1.02zM424.00 26.27h1.02V26.85h-1.02zM425.00 55.28h1.02V87.20h-1.02zM425.00 83.35h1.02V83.95h-1.02zM425.00 25.80h1.02V26.16h-1.02zM426.00 54.17h1.02V87.20h-1.02zM426.00 85.67h1.02V86.23h-1.02zM426.00 86.23h1.02V87.13h-1.02zM427.00 85.69h1.02V86.52h-1.02zM429.00 32.94h1.02V87.20h-1.02zM429.00 25.80h1.02V26.09h-1.02zM430.00 31.69h1.02V87.20h-1.02zM430.00 86.14h1.02V87.19h-1.02zM435.00 25.80h1.02V26.32h-1.02zM436.00 85.34h1.02V85.83h-1.02zM436.00 25.80h1.02V26.12h-1.02zM437.00 79.89h1.02V84.48h-1.02zM438.00 84.76h1.02V85.94h-1.02zM439.00 85.01h1.02V85.69h-1.02zM441.00 72.96h1.02V78.75h-1.02zM441.00 83.33h1.02V84.21h-1.02zM443.00 45.98h1.02V50.50h-1.02zM443.00 64.95h1.02V73.38h-1.02zM443.00 73.38h1.02V77.91h-1.02zM443.00 84.87h1.02V85.71h-1.02zM444.00 52.43h1.02V59.28h-1.02zM444.00 82.99h1.02V83.61h-1.02zM446.00 86.95h1.02V87.20h-1.02zM448.00 86.92h1.02V87.20h-1.02zM449.00 83.65h1.02V84.14h-1.02zM453.00 53.14h1.02V60.31h-1.02zM454.00 52.92h1.02V56.12h-1.02zM454.00 80.89h1.02V84.76h-1.02zM455.00 83.33h1.02V84.44h-1.02zM456.00 83.72h1.02V84.31h-1.02zM457.00 81.79h1.02V87.20h-1.02zM458.00 87.07h1.02V87.20h-1.02zM461.00 26.40h1.02V26.67h-1.02zM462.00 84.97h1.02V85.81h-1.02zM463.00 83.55h1.02V84.28h-1.02zM472.00 26.14h1.02V26.44h-1.02zM481.50 86.69h1.02V87.20h-1.02zM488.00 25.80h1.02V26.24h-1.02zM496.00 84.08h1.02V84.63h-1.02zM500.00 86.90h1.02V87.20h-1.02zM502.00 84.25h0.62V84.79h-0.62zM506.00 86.43h1.02V87.20h-1.02zM506.00 26.13h1.02V26.51h-1.02zM507.00 84.24h1.02V85.17h-1.02zM508.00 85.72h1.02V86.57h-1.02zM510.00 86.73h1.02V87.20h-1.02zM511.00 26.47h0.42V26.76h-0.42z"/>
<path fill="#dcd4de" d="M36.00 74.80h1.02V81.07h-1.02zM37.00 86.60h1.02V87.20h-1.02zM38.00 80.15h0.52V87.20h-0.52zM38.50 42.90h1.02V70.80h-1.02zM39.50 41.21h1.02V71.61h-1.02zM40.50 41.18h0.52V68.38h-0.52zM41.00 47.82h1.02V83.29h-1.02zM42.00 46.29h1.02V84.53h-1.02zM45.00 81.11h1.02V87.20h-1.02zM46.00 83.61h1.02V85.95h-1.02zM49.00 81.64h1.02V85.07h-1.02zM49.00 85.07h1.02V87.20h-1.02zM51.00 76.82h1.02V80.47h-1.02zM53.00 80.77h1.02V83.55h-1.02zM53.00 87.03h1.02V87.20h-1.02zM55.00 36.14h1.02V73.75h-1.02zM55.00 81.51h1.02V87.20h-1.02zM56.00 40.67h1.02V72.28h-1.02zM73.70 68.82h1.02V75.87h-1.02zM74.70 69.28h1.02V74.15h-1.02zM95.10 44.30h1.02V50.14h-1.02zM96.10 83.18h1.02V87.20h-1.02zM97.10 53.12h0.12V57.67h-0.12zM97.10 67.67h0.12V74.69h-0.12zM113.00 65.63h1.02V67.63h-1.02zM136.00 82.59h1.02V87.20h-1.02zM139.00 64.24h0.42V72.00h-0.42zM139.00 72.00h0.42V78.56h-0.42zM139.40 33.56h1.02V61.83h-1.02zM140.40 31.98h1.02V62.07h-1.02zM141.40 31.28h1.02V64.08h-1.02zM142.40 33.72h0.62V63.28h-0.62zM143.00 55.01h1.02V87.20h-1.02zM144.00 53.67h1.02V87.20h-1.02zM165.00 80.54h1.02V86.20h-1.02zM170.00 35.94h1.02V62.38h-1.02zM171.00 34.58h1.02V64.66h-1.02zM172.00 35.05h1.02V60.78h-1.02zM182.00 54.47h1.02V87.20h-1.02zM183.00 56.14h1.02V87.20h-1.02zM184.00 54.99h1.02V87.20h-1.02zM185.00 72.66h1.02V78.28h-1.02zM185.00 85.85h1.02V87.20h-1.02zM187.00 64.79h1.02V67.86h-1.02zM259.00 62.64h1.02V65.85h-1.02zM260.00 57.81h1.02V60.52h-1.02zM260.00 66.25h1.02V73.84h-1.02zM262.00 69.95h1.02V71.41h-1.02zM280.00 65.43h1.02V73.87h-1.02zM280.00 82.40h1.02V87.20h-1.02zM282.00 66.55h0.82V72.60h-0.82zM297.00 68.88h1.02V87.20h-1.02zM298.00 69.13h1.02V87.20h-1.02zM299.00 66.92h1.02V87.20h-1.02zM300.00 66.95h1.02V87.20h-1.02zM301.00 69.47h1.02V87.20h-1.02zM304.00 45.40h1.02V50.29h-1.02zM324.00 47.00h1.02V50.36h-1.02zM324.00 74.06h1.02V79.25h-1.02zM325.00 49.88h1.02V53.93h-1.02zM326.00 74.19h1.02V78.92h-1.02zM331.00 47.12h1.02V55.30h-1.02zM331.00 55.30h1.02V60.73h-1.02zM332.00 32.34h0.32V39.99h-0.32zM334.60 79.26h1.02V81.78h-1.02zM334.60 81.78h1.02V87.20h-1.02zM345.40 61.52h1.02V87.20h-1.02zM346.40 62.74h1.02V87.20h-1.02zM347.40 59.45h0.62V87.20h-0.62zM348.00 25.80h1.02V32.54h-1.02zM348.00 32.54h1.02V36.29h-1.02zM348.00 36.29h1.02V37.69h-1.02zM352.80 47.63h0.32V50.25h-0.32zM391.00 54.56h1.02V87.20h-1.02zM392.00 52.26h1.02V87.20h-1.02zM393.00 50.81h0.42V87.20h-0.42zM394.60 52.95h1.02V87.20h-1.02zM395.60 25.80h1.02V30.18h-1.02zM396.60 25.80h1.02V33.08h-1.02zM396.60 35.72h1.02V43.22h-1.02zM396.60 43.22h1.02V44.28h-1.02zM412.00 66.20h1.02V72.59h-1.02zM412.00 76.83h1.02V83.05h-1.02zM413.00 75.12h1.02V78.96h-1.02zM413.00 78.96h1.02V83.43h-1.02zM416.00 73.42h1.02V81.50h-1.02zM418.00 86.18h1.02V87.20h-1.02zM441.00 78.75h1.02V84.27h-1.02zM447.00 44.35h1.02V87.20h-1.02zM448.00 42.08h1.02V87.20h-1.02zM453.00 25.80h1.02V28.26h-1.02zM454.00 44.96h1.02V47.98h-1.02zM454.00 47.98h1.02V52.92h-1.02zM454.00 77.93h1.02V80.89h-1.02zM457.00 77.97h1.02V81.79h-1.02zM463.00 65.53h1.02V72.86h-1.02zM464.00 56.64h1.02V61.86h-1.02z"/>
<path fill="#c5a6c8" d="M36.00 81.07h1.02V87.20h-1.02zM74.70 78.50h1.02V87.12h-1.02zM75.70 72.69h0.12V75.87h-0.12zM95.10 79.72h1.02V82.18h-1.02zM112.00 46.15h1.02V49.50h-1.02zM112.00 62.81h1.02V67.55h-1.02zM130.50 62.61h1.02V67.06h-1.02zM133.50 63.37h0.52V67.93h-0.52zM136.00 64.72h1.02V68.89h-1.02zM143.00 40.63h1.02V44.69h-1.02zM165.00 74.12h1.02V80.54h-1.02zM168.00 63.51h1.02V70.39h-1.02zM168.00 78.92h1.02V83.42h-1.02zM172.00 85.72h1.02V87.20h-1.02zM185.00 63.96h1.02V72.66h-1.02zM239.00 64.28h1.02V67.09h-1.02zM239.00 75.45h1.02V81.42h-1.02zM239.00 85.83h1.02V87.20h-1.02zM241.00 80.37h0.22V84.53h-0.22zM248.00 66.66h0.52V70.48h-0.52zM260.00 60.52h1.02V66.25h-1.02zM277.00 56.10h1.02V59.23h-1.02zM277.00 84.84h1.02V87.20h-1.02zM278.00 54.71h1.02V60.11h-1.02zM278.00 67.52h1.02V70.43h-1.02zM278.00 80.60h1.02V83.47h-1.02zM280.00 76.73h1.02V82.40h-1.02zM281.00 80.51h1.02V86.79h-1.02zM290.00 79.09h1.02V85.48h-1.02zM302.00 66.41h1.02V70.86h-1.02zM324.00 79.25h1.02V81.94h-1.02zM326.00 84.97h1.02V87.20h-1.02zM327.00 73.99h1.02V78.56h-1.02zM344.80 85.70h0.62V87.20h-0.62zM348.00 63.81h1.02V87.20h-1.02zM349.00 61.49h1.02V87.20h-1.02zM350.00 39.34h0.82V39.47h-0.82zM350.00 63.06h0.82V87.20h-0.82zM352.80 65.07h0.32V68.80h-0.32zM397.60 39.44h0.12V41.72h-0.12zM412.00 72.59h1.02V76.83h-1.02zM414.00 76.44h1.02V82.43h-1.02zM416.00 70.86h1.02V73.42h-1.02zM416.00 85.20h1.02V87.20h-1.02zM417.00 75.20h1.02V82.74h-1.02zM419.00 73.97h1.02V79.53h-1.02zM440.00 71.79h1.02V78.35h-1.02zM440.00 84.29h1.02V86.78h-1.02zM445.00 43.50h1.02V87.20h-1.02zM446.00 45.01h1.02V87.20h-1.02zM453.00 69.02h1.02V77.27h-1.02zM453.00 80.60h1.02V84.04h-1.02zM457.00 71.05h1.02V75.16h-1.02zM464.00 61.86h1.02V67.02h-1.02z"/>
<path fill="#b3a06f" d="M63.80 86.22h1.02V87.20h-1.02zM99.20 78.77h1.02V87.20h-1.02zM336.50 25.80h1.02V87.20h-1.02zM337.50 25.80h1.02V87.20h-1.02zM359.40 74.71h0.62V81.31h-0.62z"/>
<path fill="#7d4a35" d="M89.90 45.14h1.02V87.20h-1.02zM90.90 44.26h0.72V87.20h-0.72zM233.00 25.80h1.02V87.20h-1.02zM373.00 38.68h1.02V83.51h-1.02zM374.00 41.29h0.62V83.46h-0.62zM377.70 30.18h1.02V84.62h-1.02zM378.70 29.02h1.02V87.20h-1.02zM379.70 27.91h0.32V85.49h-0.32zM497.00 25.80h1.02V49.65h-1.02zM497.00 65.16h1.02V87.20h-1.02zM498.00 25.80h1.02V52.78h-1.02zM498.00 63.46h1.02V87.20h-1.02z"/>
<path fill="#e3cf85" d="M330.00 64.41h1.02V87.20h-1.02zM331.00 63.51h1.02V87.20h-1.02zM332.00 62.66h0.32V87.20h-0.32zM332.30 25.80h1.02V87.20h-1.02zM333.30 25.80h1.02V87.20h-1.02zM334.30 25.80h0.32V87.20h-0.32z"/>
<path fill="#3aa066" d="M360.00 25.80h1.02V87.20h-1.02zM361.00 25.80h0.52V87.20h-0.52z"/>
<path fill="#cbd98f" d="M391.00 25.80h1.02V54.56h-1.02zM392.00 25.80h1.02V52.26h-1.02zM393.00 25.80h0.42V50.81h-0.42z"/>
<path fill="#f3c4c2" d="M395.60 41.25h1.02V87.20h-1.02zM396.60 44.28h1.02V87.20h-1.02zM397.60 41.72h0.12V87.20h-0.12zM499.00 25.80h1.02V87.20h-1.02zM500.00 25.80h1.02V87.20h-1.02z"/>
<path fill="#3b7a88" d="M481.50 35.91h1.02V61.25h-1.02zM482.50 34.75h0.52V64.41h-0.52zM486.50 33.65h1.02V69.87h-1.02zM487.50 35.76h0.52V69.96h-0.52z"/>
<path fill="#8044a0" d="M497.00 49.65h1.02V65.16h-1.02zM498.00 52.78h1.02V63.46h-1.02z"/>
<path fill="#82a592" d="M501.00 41.61h1.02V87.20h-1.02zM502.00 45.00h0.62V87.20h-0.62z"/>
<rect x="57.40" y="25.80" width="0.90" height="61.40" fill="#ffffff" opacity="0.85"/>
<rect x="173.50" y="25.80" width="0.90" height="61.40" fill="#ffffff" opacity="0.85"/>
<rect x="393.60" y="25.80" width="0.90" height="61.40" fill="#ffffff" opacity="0.85"/>
<rect x="91.50" y="25.80" width="1.80" height="61.40" fill="#ffffff" />
<line x1="92.40" y1="25.80" x2="92.40" y2="87.20" stroke="#333" stroke-width="0.8" stroke-dasharray="0.9 0.9"/>
<line x1="92.40" y1="88.50" x2="92.40" y2="91.00" stroke="#333" stroke-width="0.6" />
<line x1="92.40" y1="22.00" x2="92.40" y2="24.80" stroke="#333" stroke-width="0.5" />
<rect x="240.90" y="25.80" width="1.80" height="61.40" fill="#ffffff" />
<line x1="241.80" y1="25.80" x2="241.80" y2="87.20" stroke="#333" stroke-width="0.8" stroke-dasharray="0.9 0.9"/>
<line x1="241.80" y1="88.50" x2="241.80" y2="91.00" stroke="#333" stroke-width="0.6" />
<line x1="241.80" y1="22.00" x2="241.80" y2="24.80" stroke="#333" stroke-width="0.5" />
<rect x="502.60" y="25.80" width="1.80" height="61.40" fill="#ffffff" />
<line x1="503.50" y1="25.80" x2="503.50" y2="87.20" stroke="#333" stroke-width="0.8" stroke-dasharray="0.9 0.9"/>
<line x1="503.50" y1="88.50" x2="503.50" y2="91.00" stroke="#333" stroke-width="0.6" />
<line x1="503.50" y1="22.00" x2="503.50" y2="24.80" stroke="#333" stroke-width="0.5" />
<text x="7.20" y="15.00" font-size="11.5" fill="#000" font-weight="bold">A</text>
<text x="104.60" y="15.00" font-size="11.5" fill="#000" font-weight="bold">B</text>
<text x="287.30" y="15.00" font-size="11.5" fill="#000" font-weight="bold">C</text>
<text x="26.20" y="22.90" font-size="6.4" textLength="25.70" lengthAdjust="spacingAndGlyphs">Low CD4</text>
<text x="61.70" y="22.90" font-size="6.4" textLength="26.10" lengthAdjust="spacingAndGlyphs">High CD4</text>
<text x="93.60" y="22.90" font-size="6.4" textLength="8.10" lengthAdjust="spacingAndGlyphs">NF</text>
<text x="128.20" y="22.90" font-size="6.4" textLength="25.10" lengthAdjust="spacingAndGlyphs">Low CD4</text>
<text x="197.80" y="22.90" font-size="6.4" textLength="29.10" lengthAdjust="spacingAndGlyphs">High CD4</text>
<text x="258.20" y="22.90" font-size="6.4" textLength="7.90" lengthAdjust="spacingAndGlyphs">NF</text>
<text x="330.80" y="22.90" font-size="6.4" textLength="25.00" lengthAdjust="spacingAndGlyphs">Low CD4</text>
<text x="437.00" y="22.90" font-size="6.4" textLength="27.60" lengthAdjust="spacingAndGlyphs">High CD4</text>
<text x="503.80" y="22.90" font-size="6.4" textLength="9.20" lengthAdjust="spacingAndGlyphs">NF</text>
<line x1="23.60" y1="24.50" x2="23.60" y2="90.30" stroke="#231f20" stroke-width="0.9" />
<line x1="21.40" y1="26.00" x2="23.60" y2="26.00" stroke="#231f20" stroke-width="0.8" />
<line x1="21.40" y1="41.27" x2="23.60" y2="41.27" stroke="#231f20" stroke-width="0.8" />
<line x1="21.40" y1="56.54" x2="23.60" y2="56.54" stroke="#231f20" stroke-width="0.8" />
<line x1="21.40" y1="71.81" x2="23.60" y2="71.81" stroke="#231f20" stroke-width="0.8" />
<line x1="21.40" y1="87.08" x2="23.60" y2="87.08" stroke="#231f20" stroke-width="0.8" />
<line x1="105.60" y1="24.50" x2="105.60" y2="90.30" stroke="#231f20" stroke-width="0.9" />
<line x1="103.40" y1="26.00" x2="105.60" y2="26.00" stroke="#231f20" stroke-width="0.8" />
<line x1="103.40" y1="41.27" x2="105.60" y2="41.27" stroke="#231f20" stroke-width="0.8" />
<line x1="103.40" y1="56.54" x2="105.60" y2="56.54" stroke="#231f20" stroke-width="0.8" />
<line x1="103.40" y1="71.81" x2="105.60" y2="71.81" stroke="#231f20" stroke-width="0.8" />
<line x1="103.40" y1="87.08" x2="105.60" y2="87.08" stroke="#231f20" stroke-width="0.8" />
<line x1="288.30" y1="24.50" x2="288.30" y2="90.30" stroke="#231f20" stroke-width="0.9" />
<line x1="286.10" y1="26.00" x2="288.30" y2="26.00" stroke="#231f20" stroke-width="0.8" />
<line x1="286.10" y1="41.27" x2="288.30" y2="41.27" stroke="#231f20" stroke-width="0.8" />
<line x1="286.10" y1="56.54" x2="288.30" y2="56.54" stroke="#231f20" stroke-width="0.8" />
<line x1="286.10" y1="71.81" x2="288.30" y2="71.81" stroke="#231f20" stroke-width="0.8" />
<line x1="286.10" y1="87.08" x2="288.30" y2="87.08" stroke="#231f20" stroke-width="0.8" />
<text x="17.80" y="28.30" font-size="6.2" text-anchor="end">1</text>
<text x="18.40" y="89.30" font-size="6.2" text-anchor="end">0</text>
<text x="13.70" y="56.50" font-size="8.4" text-anchor="middle" textLength="54.60" lengthAdjust="spacingAndGlyphs" transform="rotate(-90 13.70 56.50)">Relative abundance</text>
<line x1="23.60" y1="89.90" x2="57.30" y2="89.90" stroke="#231f20" stroke-width="1.0" />
<line x1="58.20" y1="89.90" x2="92.00" y2="89.90" stroke="#231f20" stroke-width="1.0" />
<line x1="92.80" y1="89.90" x2="101.20" y2="89.90" stroke="#231f20" stroke-width="1.0" />
<line x1="105.60" y1="89.90" x2="173.00" y2="89.90" stroke="#231f20" stroke-width="1.0" />
<line x1="174.00" y1="89.90" x2="241.40" y2="89.90" stroke="#231f20" stroke-width="1.0" />
<line x1="242.40" y1="89.90" x2="282.80" y2="89.90" stroke="#231f20" stroke-width="1.0" />
<line x1="288.30" y1="89.90" x2="394.20" y2="89.90" stroke="#231f20" stroke-width="1.0" />
<line x1="395.20" y1="89.90" x2="503.20" y2="89.90" stroke="#231f20" stroke-width="1.0" />
<line x1="504.20" y1="89.90" x2="511.40" y2="89.90" stroke="#231f20" stroke-width="1.0" />
<text x="43.70" y="102.00" font-size="8.3" textLength="37.70" lengthAdjust="spacingAndGlyphs">BM recipients</text>
<text x="155.00" y="102.00" font-size="8.3" textLength="78.50" lengthAdjust="spacingAndGlyphs">Unmodified PBSC recipients</text>
<text x="362.10" y="102.00" font-size="8.3" textLength="66.50" lengthAdjust="spacingAndGlyphs">CD34+ PBSC recipients</text>
<text x="7.20" y="127.20" font-size="11" fill="#000" font-weight="bold">D</text>
<line x1="32.40" y1="128.00" x2="32.40" y2="220.40" stroke="#231f20" stroke-width="0.9" />
<line x1="32.00" y1="220.20" x2="125.90" y2="220.20" stroke="#231f20" stroke-width="0.9" />
<line x1="30.20" y1="131.50" x2="32.40" y2="131.50" stroke="#231f20" stroke-width="0.8" />
<text x="28.00" y="133.80" font-size="6.5" text-anchor="end">1.0</text>
<line x1="30.20" y1="152.85" x2="32.40" y2="152.85" stroke="#231f20" stroke-width="0.8" />
<text x="28.00" y="155.15" font-size="6.5" text-anchor="end">0.5</text>
<line x1="30.20" y1="174.20" x2="32.40" y2="174.20" stroke="#231f20" stroke-width="0.8" />
<text x="28.00" y="176.50" font-size="6.5" text-anchor="end">0.0</text>
<line x1="30.20" y1="195.55" x2="32.40" y2="195.55" stroke="#231f20" stroke-width="0.8" />
<text x="28.00" y="197.85" font-size="6.5" text-anchor="end">−0.5</text>
<line x1="30.20" y1="216.90" x2="32.40" y2="216.90" stroke="#231f20" stroke-width="0.8" />
<text x="28.00" y="219.20" font-size="6.5" text-anchor="end">−1.0</text>
<line x1="36.70" y1="220.20" x2="36.70" y2="222.40" stroke="#231f20" stroke-width="0.8" />
<text x="36.70" y="230.30" font-size="6.5" text-anchor="middle">−1.0</text>
<line x1="58.12" y1="220.20" x2="58.12" y2="222.40" stroke="#231f20" stroke-width="0.8" />
<text x="58.12" y="230.30" font-size="6.5" text-anchor="middle">−0.5</text>
<line x1="79.55" y1="220.20" x2="79.55" y2="222.40" stroke="#231f20" stroke-width="0.8" />
<text x="79.55" y="230.30" font-size="6.5" text-anchor="middle">0.0</text>
<line x1="100.97" y1="220.20" x2="100.97" y2="222.40" stroke="#231f20" stroke-width="0.8" />
<text x="100.97" y="230.30" font-size="6.5" text-anchor="middle">0.5</text>
<line x1="122.40" y1="220.20" x2="122.40" y2="222.40" stroke="#231f20" stroke-width="0.8" />
<text x="122.40" y="230.30" font-size="6.5" text-anchor="middle">1.0</text>
<text x="14.00" y="174.40" font-size="8.2" text-anchor="middle" textLength="5.40" lengthAdjust="spacingAndGlyphs" transform="rotate(-90 14.00 174.40)">t2</text>
<text x="78.95" y="241.00" font-size="8.2" text-anchor="middle" textLength="5.20" lengthAdjust="spacingAndGlyphs">t1</text>
<text x="143.50" y="127.20" font-size="11" fill="#000" font-weight="bold">E</text>
<line x1="168.60" y1="128.00" x2="168.60" y2="220.40" stroke="#231f20" stroke-width="0.9" />
<line x1="168.20" y1="220.20" x2="262.10" y2="220.20" stroke="#231f20" stroke-width="0.9" />
<line x1="166.40" y1="131.50" x2="168.60" y2="131.50" stroke="#231f20" stroke-width="0.8" />
<text x="164.20" y="133.80" font-size="6.5" text-anchor="end">1.0</text>
<line x1="166.40" y1="152.85" x2="168.60" y2="152.85" stroke="#231f20" stroke-width="0.8" />
<text x="164.20" y="155.15" font-size="6.5" text-anchor="end">0.5</text>
<line x1="166.40" y1="174.20" x2="168.60" y2="174.20" stroke="#231f20" stroke-width="0.8" />
<text x="164.20" y="176.50" font-size="6.5" text-anchor="end">0.0</text>
<line x1="166.40" y1="195.55" x2="168.60" y2="195.55" stroke="#231f20" stroke-width="0.8" />
<text x="164.20" y="197.85" font-size="6.5" text-anchor="end">−0.5</text>
<line x1="166.40" y1="216.90" x2="168.60" y2="216.90" stroke="#231f20" stroke-width="0.8" />
<text x="164.20" y="219.20" font-size="6.5" text-anchor="end">−1.0</text>
<line x1="172.90" y1="220.20" x2="172.90" y2="222.40" stroke="#231f20" stroke-width="0.8" />
<text x="172.90" y="230.30" font-size="6.5" text-anchor="middle">−1.0</text>
<line x1="194.33" y1="220.20" x2="194.33" y2="222.40" stroke="#231f20" stroke-width="0.8" />
<text x="194.33" y="230.30" font-size="6.5" text-anchor="middle">−0.5</text>
<line x1="215.75" y1="220.20" x2="215.75" y2="222.40" stroke="#231f20" stroke-width="0.8" />
<text x="215.75" y="230.30" font-size="6.5" text-anchor="middle">0.0</text>
<line x1="237.18" y1="220.20" x2="237.18" y2="222.40" stroke="#231f20" stroke-width="0.8" />
<text x="237.18" y="230.30" font-size="6.5" text-anchor="middle">0.5</text>
<line x1="258.60" y1="220.20" x2="258.60" y2="222.40" stroke="#231f20" stroke-width="0.8" />
<text x="258.60" y="230.30" font-size="6.5" text-anchor="middle">1.0</text>
<text x="150.20" y="174.40" font-size="8.2" text-anchor="middle" textLength="5.40" lengthAdjust="spacingAndGlyphs" transform="rotate(-90 150.20 174.40)">t2</text>
<text x="215.15" y="241.00" font-size="8.2" text-anchor="middle" textLength="5.20" lengthAdjust="spacingAndGlyphs">t1</text>
<text x="274.70" y="127.20" font-size="11" fill="#000" font-weight="bold">F</text>
<line x1="299.70" y1="128.00" x2="299.70" y2="220.40" stroke="#231f20" stroke-width="0.9" />
<line x1="299.30" y1="220.20" x2="393.20" y2="220.20" stroke="#231f20" stroke-width="0.9" />
<line x1="297.50" y1="131.50" x2="299.70" y2="131.50" stroke="#231f20" stroke-width="0.8" />
<text x="295.30" y="133.80" font-size="6.5" text-anchor="end">1.0</text>
<line x1="297.50" y1="152.85" x2="299.70" y2="152.85" stroke="#231f20" stroke-width="0.8" />
<text x="295.30" y="155.15" font-size="6.5" text-anchor="end">0.5</text>
<line x1="297.50" y1="174.20" x2="299.70" y2="174.20" stroke="#231f20" stroke-width="0.8" />
<text x="295.30" y="176.50" font-size="6.5" text-anchor="end">0.0</text>
<line x1="297.50" y1="195.55" x2="299.70" y2="195.55" stroke="#231f20" stroke-width="0.8" />
<text x="295.30" y="197.85" font-size="6.5" text-anchor="end">−0.5</text>
<line x1="297.50" y1="216.90" x2="299.70" y2="216.90" stroke="#231f20" stroke-width="0.8" />
<text x="295.30" y="219.20" font-size="6.5" text-anchor="end">−1.0</text>
<line x1="304.00" y1="220.20" x2="304.00" y2="222.40" stroke="#231f20" stroke-width="0.8" />
<text x="304.00" y="230.30" font-size="6.5" text-anchor="middle">−1.0</text>
<line x1="325.43" y1="220.20" x2="325.43" y2="222.40" stroke="#231f20" stroke-width="0.8" />
<text x="325.43" y="230.30" font-size="6.5" text-anchor="middle">−0.5</text>
<line x1="346.85" y1="220.20" x2="346.85" y2="222.40" stroke="#231f20" stroke-width="0.8" />
<text x="346.85" y="230.30" font-size="6.5" text-anchor="middle">0.0</text>
<line x1="368.27" y1="220.20" x2="368.27" y2="222.40" stroke="#231f20" stroke-width="0.8" />
<text x="368.27" y="230.30" font-size="6.5" text-anchor="middle">0.5</text>
<line x1="389.70" y1="220.20" x2="389.70" y2="222.40" stroke="#231f20" stroke-width="0.8" />
<text x="389.70" y="230.30" font-size="6.5" text-anchor="middle">1.0</text>
<text x="281.30" y="174.40" font-size="8.2" text-anchor="middle" textLength="5.40" lengthAdjust="spacingAndGlyphs" transform="rotate(-90 281.30 174.40)">t2</text>
<text x="346.25" y="241.00" font-size="8.2" text-anchor="middle" textLength="5.20" lengthAdjust="spacingAndGlyphs">t1</text>
<path d="M73.5 146.1h0M77.0 146.9h0M83.2 133.9h0M80.4 136.5h0M79.7 138.7h0M75.4 148.1h0M77.7 139.8h0M80.4 129.1h0M75.4 147.5h0M77.3 149.1h0M78.4 144.9h0M78.1 135.6h0M80.8 133.3h0M73.5 141.4h0M76.6 160.1h0M80.4 133.7h0M78.7 140.6h0M77.7 144.3h0M76.2 150.7h0M76.8 155.1h0M74.6 148.2h0M79.3 150.2h0M77.7 152.7h0M78.7 130.5h0M78.2 148.6h0M78.6 138.5h0M75.7 145.0h0M78.8 135.4h0M80.5 131.6h0M78.3 138.5h0M77.3 137.7h0M74.6 148.4h0M78.2 155.6h0M74.4 147.2h0M76.3 160.3h0M77.7 140.8h0M77.6 142.4h0M75.9 158.1h0M77.2 156.3h0M74.4 147.2h0M74.3 145.0h0M77.6 150.7h0M78.7 135.4h0M78.1 147.9h0M78.6 137.4h0M76.0 143.9h0M73.1 150.6h0M78.9 133.6h0M76.9 151.2h0M74.4 147.8h0M75.1 145.4h0M76.4 152.5h0M77.3 142.6h0M79.5 145.4h0M78.2 145.2h0M80.2 139.5h0M79.7 147.9h0M75.4 147.9h0M77.5 141.4h0M80.7 131.4h0M78.8 147.7h0M74.8 155.4h0M80.0 137.3h0M74.8 150.5h0M76.9 139.9h0M76.4 144.5h0M78.1 136.5h0M77.0 144.2h0M81.1 132.5h0M77.4 150.5h0M80.8 133.5h0M77.7 141.2h0M78.2 132.3h0M77.1 134.4h0M77.3 145.6h0M76.0 159.0h0M76.0 141.4h0M72.7 155.2h0M72.8 149.0h0M76.5 134.9h0M76.2 153.1h0M76.0 186.1h0M72.7 190.7h0M80.3 187.2h0M69.4 187.4h0M74.2 187.3h0M80.1 188.2h0M78.2 185.9h0M82.7 189.4h0M69.8 189.0h0M79.7 188.0h0M77.5 185.8h0M72.3 189.6h0M83.2 185.5h0M75.7 191.0h0" stroke="#5f8ad3" stroke-width="2.5" stroke-linecap="round" opacity="0.9"/>
<path d="M78.7 134.3h0M82.9 140.1h0M77.9 144.6h0M79.0 142.3h0M77.0 131.3h0M78.4 138.8h0M75.4 160.5h0M75.6 155.6h0M78.9 136.9h0M79.4 132.3h0M76.6 133.5h0M76.5 147.0h0M72.9 155.1h0M74.3 153.5h0M73.7 151.6h0M74.3 158.9h0M76.5 149.2h0M74.5 152.1h0M81.7 140.7h0M74.1 151.2h0M77.2 133.9h0M79.6 133.7h0M77.0 154.4h0M74.5 154.0h0M75.4 138.9h0M76.9 149.8h0M77.9 141.5h0M78.5 141.5h0M76.3 158.0h0M80.8 141.9h0M80.8 134.6h0M76.0 159.4h0M75.5 144.5h0M80.1 140.8h0M74.8 148.4h0M78.1 142.0h0M78.5 146.8h0M77.3 153.8h0M80.1 151.6h0M73.6 156.7h0M70.3 154.9h0M80.5 136.8h0M77.1 137.7h0M72.7 153.4h0M103.4 186.5h0M87.4 178.1h0M90.1 180.6h0M91.7 177.8h0M83.6 170.7h0M97.1 184.4h0M89.9 176.2h0M86.8 176.6h0M94.1 184.7h0M109.8 187.9h0M100.0 188.1h0M108.2 187.9h0M92.9 181.4h0M92.5 186.7h0M117.3 191.5h0M112.2 192.0h0M94.0 183.4h0M88.5 174.3h0M108.8 189.5h0M98.9 183.5h0M88.9 173.0h0M88.4 172.6h0M98.3 185.5h0M39.8 182.0h0M40.5 180.8h0M40.7 179.7h0M37.7 181.0h0M36.1 181.4h0M44.1 181.5h0M38.7 180.9h0M42.9 181.9h0M41.4 180.2h0M38.7 181.7h0M36.9 180.5h0M54.1 207.8h0M50.9 215.1h0M47.8 214.8h0M46.1 215.0h0M52.6 211.3h0M47.7 214.7h0M51.1 206.6h0M48.8 215.7h0M48.6 215.0h0" stroke="#7a9bd6" stroke-width="2.5" stroke-linecap="round" opacity="0.9"/>
<path d="M74.4 155.9h0M75.2 151.9h0M73.9 161.4h0M73.7 155.4h0M74.3 159.4h0M76.3 151.0h0M74.9 156.2h0M76.9 156.0h0M73.0 154.1h0M76.1 150.8h0M73.6 152.2h0M76.2 156.0h0M75.6 151.2h0M76.0 156.7h0M76.1 150.8h0M75.4 158.1h0M73.8 157.2h0M76.6 154.2h0M69.0 162.2h0M67.2 162.6h0M70.1 164.5h0M72.4 159.5h0M73.3 159.5h0M72.9 158.8h0M69.1 161.7h0M79.3 156.4h0M85.7 160.6h0M83.2 158.9h0M91.4 182.2h0M89.1 176.5h0M87.1 174.3h0M89.2 180.2h0M94.6 185.7h0M96.9 186.0h0M88.9 175.3h0M93.4 182.8h0M94.8 184.5h0M97.3 187.0h0M88.7 174.1h0M91.2 178.8h0M89.7 169.9h0M96.0 184.8h0M92.7 185.0h0M97.2 185.9h0M91.8 186.9h0M41.9 180.6h0M39.2 181.5h0M42.5 180.9h0M37.0 181.0h0M47.4 181.6h0M47.2 183.6h0M54.4 193.6h0M43.9 183.9h0M49.7 189.9h0M45.9 185.6h0M53.4 203.3h0M52.9 206.5h0M63.3 198.7h0M52.2 212.4h0M48.6 212.8h0M54.3 200.7h0M51.5 214.3h0M54.8 202.8h0M53.7 203.5h0M50.9 206.9h0M60.6 198.9h0M49.8 208.5h0M52.5 206.4h0M50.5 208.6h0M59.8 201.0h0M45.7 214.6h0M55.1 205.1h0M46.3 215.9h0M49.2 213.3h0M56.2 203.0h0" stroke="#a9b6cf" stroke-width="2.5" stroke-linecap="round" opacity="0.9"/>
<path d="M69.2 163.1h0M73.9 158.8h0M70.6 161.2h0M84.7 161.9h0M85.1 162.7h0M78.8 155.3h0M82.6 159.8h0M79.0 157.6h0M80.7 157.5h0M72.9 190.7h0M70.8 189.5h0M78.5 187.5h0M73.2 190.0h0M68.9 189.0h0M78.0 186.6h0M79.8 191.5h0M92.9 179.9h0M96.3 182.9h0M85.4 170.9h0M97.2 186.4h0M88.1 177.2h0M115.9 189.9h0M93.6 183.5h0M94.6 184.4h0M119.7 190.7h0M105.7 192.4h0M86.4 171.6h0M105.9 189.9h0M95.2 183.2h0M94.6 184.7h0M89.2 178.4h0M89.3 179.9h0M102.0 189.2h0M100.2 186.2h0M90.8 178.5h0M99.2 186.9h0M94.6 182.1h0M83.4 176.3h0M89.8 176.4h0M112.0 190.1h0M108.4 185.5h0M87.2 173.8h0M115.1 189.2h0M85.9 173.1h0M119.6 190.9h0M89.8 174.6h0M111.0 190.0h0M103.5 188.8h0M93.0 182.1h0M39.1 181.5h0M40.9 182.3h0M38.1 182.1h0M40.7 182.1h0M37.7 181.2h0M37.9 182.3h0M46.4 185.7h0M51.3 196.0h0M46.6 184.9h0M50.6 188.9h0M54.4 188.6h0M50.8 189.2h0M48.5 187.5h0M50.9 190.0h0M50.9 191.1h0M55.5 194.3h0M53.9 196.3h0M52.0 188.9h0M47.5 184.9h0M52.2 184.9h0M49.0 186.3h0M55.7 190.9h0M54.0 205.8h0M56.9 203.0h0M52.4 203.7h0M54.4 205.8h0M55.0 204.5h0M56.7 202.4h0M57.7 204.0h0M57.3 200.9h0M53.1 205.2h0M53.7 205.0h0M52.1 205.4h0M55.4 199.6h0M62.0 197.1h0" stroke="#f2d93a" stroke-width="2.5" stroke-linecap="round" opacity="0.9"/>
<path d="M71.1 162.2h0M70.6 162.9h0M73.3 162.2h0M81.8 158.8h0M83.5 160.1h0M81.7 159.4h0M83.9 159.7h0M40.5 181.6h0M42.4 180.4h0M39.7 182.7h0M41.7 180.8h0" stroke="#c9c98a" stroke-width="2.5" stroke-linecap="round" opacity="0.9"/>
<path d="M78.0 190.3h0M74.9 190.0h0M78.5 188.6h0M74.4 188.5h0M68.1 192.5h0M73.2 191.1h0M74.3 190.7h0M76.6 179.3h0M76.9 178.8h0M78.8 183.4h0M96.8 186.8h0M88.8 179.1h0M84.1 172.1h0M93.5 181.5h0M89.0 170.6h0M91.3 179.9h0M85.5 168.9h0M88.6 170.5h0M93.9 185.0h0M94.7 183.0h0M94.2 184.1h0M90.0 178.7h0M89.1 173.8h0M87.6 173.9h0M93.6 185.0h0M89.7 178.1h0M88.6 177.8h0M93.6 181.5h0M93.4 185.2h0M94.6 182.4h0M84.9 171.7h0M90.8 181.3h0M85.1 168.5h0M95.3 178.6h0M52.1 189.2h0M48.9 188.9h0M48.3 185.2h0M46.4 188.3h0M49.5 194.5h0M53.6 188.3h0M52.3 190.6h0M49.8 191.1h0M52.0 188.1h0M48.9 188.9h0M54.3 205.1h0M51.3 204.8h0M54.9 204.5h0M57.0 200.8h0M55.4 206.0h0M61.2 196.7h0M55.1 203.1h0M53.2 200.6h0M57.6 203.1h0" stroke="#e9e070" stroke-width="2.5" stroke-linecap="round" opacity="0.9"/>
<path d="M71.6 188.5h0M70.3 187.4h0M79.4 189.8h0M76.8 188.9h0M73.3 190.1h0M84.1 188.1h0M69.7 188.6h0M75.4 187.6h0M82.5 187.2h0M71.7 190.6h0M79.7 183.0h0M49.1 210.6h0M52.0 210.3h0M47.7 210.7h0M53.0 206.9h0M49.2 216.8h0M50.9 208.8h0M51.6 212.8h0M53.2 208.3h0" stroke="#8ea6d4" stroke-width="2.5" stroke-linecap="round" opacity="0.9"/>
<path d="M78.6 186.6h0M65.8 186.6h0M78.5 187.4h0M75.4 190.6h0M76.3 186.5h0M78.5 190.4h0M73.3 189.6h0M76.6 188.8h0M71.8 189.1h0M76.2 181.3h0M76.3 181.5h0M79.9 180.5h0" stroke="#f0a64a" stroke-width="2.5" stroke-linecap="round" opacity="0.9"/>
<path d="M118.9 192.4h0M107.7 187.3h0M112.7 193.2h0M115.0 189.2h0M113.8 192.7h0" stroke="#e85a28" stroke-width="2.5" stroke-linecap="round" opacity="0.9"/>
<path d="M100.8 188.4h0M108.3 186.5h0M105.3 188.4h0M112.4 191.6h0M113.7 192.7h0M124.3 192.0h0M115.9 192.7h0M46.0 184.1h0M48.1 191.4h0M49.1 187.4h0M52.3 187.9h0M48.6 188.4h0M47.9 187.3h0M53.1 192.9h0M51.4 189.2h0M53.7 189.7h0M48.8 192.8h0M49.5 191.1h0M45.4 185.6h0" stroke="#f0c848" stroke-width="2.5" stroke-linecap="round" opacity="0.9"/>
<path d="M120.7 190.2h0M99.5 188.1h0M112.5 189.2h0M101.7 187.3h0M110.6 189.5h0M105.1 189.8h0M100.2 189.0h0M107.8 190.3h0M103.8 188.7h0M121.5 189.9h0" stroke="#f0b030" stroke-width="2.5" stroke-linecap="round" opacity="0.9"/>
<path d="M118.8 191.9h0M115.8 190.1h0M106.6 187.2h0M100.8 185.7h0M114.3 191.7h0M121.9 191.1h0" stroke="#ec7a2a" stroke-width="2.5" stroke-linecap="round" opacity="0.9"/>
<path d="M53.1 189.3h0M45.9 185.5h0M45.5 183.6h0M52.2 190.2h0M48.8 189.2h0M48.3 183.8h0M47.8 184.9h0M49.3 188.5h0" stroke="#d8d060" stroke-width="2.5" stroke-linecap="round" opacity="0.9"/>
<path d="M49.1 214.3h0M49.2 210.9h0M46.6 214.5h0M52.5 212.6h0M48.1 212.5h0M46.2 215.9h0" stroke="#b7bcc8" stroke-width="2.5" stroke-linecap="round" opacity="0.9"/>
<ellipse cx="77.3" cy="147.6" rx="11.4" ry="20.4" fill="none" stroke="#7f7fcf" stroke-width="0.6" stroke-dasharray="1.1 1.1"/>
<ellipse cx="73.2" cy="189" rx="8.2" ry="5.3" fill="none" stroke="#a7acd8" stroke-width="0.5"/>
<ellipse cx="51.8" cy="212.8" rx="11.4" ry="5.6" fill="none" stroke="#a7acd8" stroke-width="0.5"/>
<ellipse cx="104.3" cy="189" rx="22.5" ry="6.2" transform="rotate(24 104.3 189)" fill="none" stroke="#f08080" stroke-width="0.6" stroke-dasharray="1.1 1.1"/>
<text x="88.50" y="134.20" font-size="6.6" textLength="47.70" lengthAdjust="spacingAndGlyphs">Peri-engraftment</text>
<text x="97.70" y="141.20" font-size="6.6" textLength="30.00" lengthAdjust="spacingAndGlyphs">α-diversity</text>
<defs><linearGradient id="adg" x1="0" x2="1"><stop offset="0" stop-color="#e8352a"/><stop offset="0.25" stop-color="#f49a2a"/><stop offset="0.45" stop-color="#f5e52a"/><stop offset="0.7" stop-color="#c8c890"/><stop offset="1" stop-color="#4a7cd0"/></linearGradient></defs>
<rect x="94.20" y="144.20" width="38.10" height="3.20" fill="url(#adg)" />
<text x="94.10" y="154.80" font-size="6.4" text-anchor="middle">20</text>
<text x="109.30" y="154.80" font-size="6.4" text-anchor="middle">7</text>
<text x="125.40" y="154.80" font-size="6.4" text-anchor="middle">3</text>
<path d="M209.7 146.1h0M219.4 133.9h0M216.6 136.5h0M211.6 148.1h0M215.2 142.3h0M213.2 131.3h0M214.6 138.8h0M211.6 147.5h0M213.5 149.1h0M211.6 160.5h0M214.3 135.6h0M217.0 133.3h0M209.7 141.4h0M215.1 136.9h0M212.8 160.1h0M216.6 133.7h0M215.6 132.3h0M214.9 140.6h0M213.9 144.3h0M211.4 151.9h0M212.7 147.0h0M209.1 155.1h0M210.8 148.2h0M215.5 150.2h0M210.5 153.5h0M213.9 152.7h0M209.9 151.6h0M214.9 130.5h0M210.5 158.9h0M209.9 155.4h0M214.8 138.5h0M214.5 138.5h0M213.5 137.7h0M214.4 155.6h0M210.6 147.2h0M217.9 140.7h0M210.3 151.2h0M213.4 133.9h0M215.8 133.7h0M213.8 142.4h0M213.2 154.4h0M212.1 158.1h0M210.7 154.0h0M211.6 138.9h0M213.4 156.3h0M210.5 145.0h0M211.1 156.2h0M213.1 156.0h0M213.1 149.8h0M214.9 135.4h0M214.3 147.9h0M214.8 137.4h0M214.1 141.5h0M215.1 133.6h0M209.2 154.1h0M212.5 158.0h0M212.3 150.8h0M210.6 147.8h0M217.0 141.9h0M217.0 134.6h0M211.3 145.4h0M213.5 142.6h0M209.8 152.2h0M212.4 156.0h0M211.8 151.2h0M214.3 142.0h0M213.5 153.8h0M212.2 156.7h0M215.9 147.9h0M211.6 147.9h0M213.7 141.4h0M216.3 151.6h0M209.8 156.7h0M211.0 155.4h0M216.2 137.3h0M211.0 150.5h0M213.1 139.9h0M211.6 158.1h0M212.6 144.5h0M214.3 136.5h0M213.3 137.7h0M214.4 132.3h0M213.3 134.4h0M213.5 145.6h0M212.2 159.0h0M212.2 141.4h0M208.9 155.2h0M212.8 154.2h0M212.7 134.9h0M212.4 153.1h0M206.8 162.9h0M209.5 162.2h0M208.6 159.5h0M209.5 159.5h0M209.1 158.8h0M206.8 161.2h0M205.3 161.7h0M218.0 158.8h0M219.7 160.1h0M221.3 162.7h0M217.9 159.4h0M215.5 156.4h0M220.1 159.7h0M215.0 155.3h0M219.4 158.9h0M216.9 157.5h0M212.2 186.1h0M214.2 190.3h0M209.1 190.7h0M207.8 188.5h0M206.5 187.4h0M211.1 190.0h0M214.8 186.6h0M205.6 187.4h0M215.6 189.8h0M213.0 188.9h0M214.7 187.4h0M216.3 188.2h0M211.6 190.6h0M206.0 189.0h0M212.5 186.5h0M205.9 188.6h0M205.1 189.0h0M209.5 189.6h0M204.3 192.5h0M213.7 185.8h0M211.6 187.6h0M210.5 190.7h0M219.4 185.5h0M218.7 187.2h0M207.9 190.6h0M212.8 188.8h0M216.0 191.5h0M212.4 181.3h0M216.1 180.5h0M212.8 179.3h0M213.1 178.8h0M215.9 183.0h0M215.0 183.4h0M255.1 192.4h0M239.6 186.5h0M227.6 182.2h0M229.1 179.9h0M243.9 187.3h0M233.0 186.8h0M256.9 190.2h0M225.0 179.1h0M225.3 176.5h0M235.7 188.1h0M229.7 181.5h0M226.3 180.6h0M219.8 170.7h0M223.3 174.3h0M225.2 170.6h0M227.5 179.9h0M248.9 193.2h0M248.7 189.2h0M224.3 177.2h0M229.8 183.5h0M233.1 186.0h0M255.0 191.9h0M251.2 189.2h0M230.8 184.4h0M221.7 168.9h0M244.5 186.5h0M225.1 175.3h0M252.0 190.1h0M255.9 190.7h0M241.9 192.4h0M242.8 187.2h0M229.6 182.8h0M230.1 185.0h0M222.6 171.6h0M242.1 189.9h0M231.4 183.2h0M237.9 187.3h0M223.0 176.6h0M230.8 184.7h0M225.4 178.4h0M225.5 179.9h0M230.9 183.0h0M238.2 189.2h0M237.0 185.7h0M236.4 186.2h0M246.0 187.9h0M227.0 178.5h0M236.2 188.1h0M223.8 173.9h0M229.1 181.4h0M228.7 186.7h0M241.3 189.8h0M224.9 174.1h0M227.4 178.8h0M225.9 169.9h0M232.2 184.8h0M226.0 176.4h0M229.8 185.0h0M248.2 190.1h0M244.6 185.5h0M229.8 181.5h0M244.0 190.3h0M223.4 173.8h0M230.2 183.4h0M224.7 174.3h0M250.0 192.7h0M249.9 192.7h0M230.8 182.4h0M221.1 171.7h0M245.0 189.5h0M260.5 192.0h0M247.2 190.0h0M240.0 188.7h0M224.6 172.6h0M252.1 192.7h0M221.3 168.5h0M234.5 185.5h0M176.0 182.0h0M178.1 180.6h0M176.7 181.6h0M176.7 180.8h0M178.6 180.4h0M176.9 179.7h0M175.9 182.7h0M173.9 181.0h0M172.3 181.4h0M174.9 180.9h0M179.1 181.9h0M177.6 180.2h0M173.2 181.0h0M174.9 181.7h0M173.9 181.2h0M174.1 182.3h0M182.6 185.7h0M187.5 196.0h0M182.2 184.1h0M184.3 191.4h0M182.8 184.9h0M185.3 187.4h0M185.1 188.9h0M188.5 187.9h0M189.3 189.3h0M182.6 188.3h0M186.8 188.9h0M184.8 188.4h0M182.1 185.5h0M190.6 193.6h0M187.0 189.2h0M187.1 190.0h0M185.7 194.5h0M187.6 189.2h0M185.9 189.9h0M189.8 188.3h0M181.7 183.6h0M188.4 190.2h0M188.5 190.6h0M185.0 189.2h0M191.7 194.3h0M189.9 189.7h0M186.0 191.1h0M184.5 183.8h0M188.2 188.9h0M183.7 184.9h0M185.5 188.5h0M181.6 185.6h0M191.9 190.9h0M190.2 205.8h0M189.6 203.3h0M185.3 210.6h0M199.5 198.7h0M188.2 210.3h0M188.4 212.4h0M193.1 203.0h0M187.5 204.8h0M184.8 212.8h0M185.4 210.9h0M188.6 203.7h0M190.6 205.8h0M191.2 204.5h0M183.9 210.7h0M192.9 202.4h0M193.9 204.0h0M188.8 211.3h0M191.0 202.8h0M193.5 200.9h0M189.2 206.9h0M191.6 206.0h0M187.1 206.9h0M183.9 214.7h0M196.8 198.9h0M189.3 205.2h0M189.4 200.6h0M187.3 206.6h0M185.4 216.8h0M182.8 214.5h0M189.9 205.0h0M188.7 206.4h0M187.1 208.8h0M186.7 208.6h0M193.8 203.1h0M191.6 199.6h0M182.4 215.9h0M185.0 215.7h0M182.5 215.9h0M185.4 213.3h0M192.4 203.0h0M184.8 215.0h0" stroke="#3a9648" stroke-width="1.7" stroke-linecap="round"/>
<path d="M213.2 146.9h0M214.9 134.3h0M215.9 138.7h0M219.1 140.1h0M213.9 139.8h0M214.1 144.6h0M211.8 155.6h0M210.6 155.9h0M212.8 133.5h0M210.1 161.4h0M212.4 150.7h0M211.9 145.0h0M210.5 159.4h0M215.0 135.4h0M216.7 131.6h0M210.7 152.1h0M212.5 151.0h0M210.8 148.4h0M212.5 160.3h0M213.9 140.8h0M212.2 143.9h0M209.3 150.6h0M214.7 141.5h0M212.6 152.5h0M212.2 159.4h0M211.7 144.5h0M216.3 140.8h0M215.7 145.4h0M214.4 145.2h0M216.4 139.5h0M211.0 148.4h0M214.7 146.8h0M216.9 131.4h0M206.5 154.9h0M216.7 136.8h0M213.2 144.2h0M217.3 132.5h0M213.6 150.5h0M210.0 157.2h0M217.0 133.5h0M213.9 141.2h0M209.0 149.0h0M205.4 163.1h0M205.2 162.2h0M203.4 162.6h0M206.3 164.5h0M210.1 158.8h0M221.9 160.6h0M218.8 159.8h0M215.2 157.6h0M208.9 190.7h0M216.5 187.2h0M207.0 189.5h0M202.0 186.6h0M214.7 187.5h0M210.4 187.3h0M218.9 189.4h0M209.4 190.0h0M220.3 188.1h0M210.6 188.5h0M214.7 190.4h0M208.5 189.6h0M209.4 191.1h0M211.9 191.0h0M212.5 181.5h0M237.0 188.4h0M223.6 178.1h0M220.3 172.1h0M227.9 177.8h0M233.4 186.4h0M230.8 185.7h0M233.3 184.4h0M252.1 189.9h0M226.1 176.2h0M224.8 170.5h0M231.0 184.5h0M241.5 188.4h0M230.3 184.7h0M230.4 184.1h0M246.8 189.5h0M233.5 187.0h0M244.4 187.9h0M248.6 191.6h0M250.5 191.7h0M258.1 191.1h0M235.4 186.9h0M230.8 182.1h0M219.6 176.3h0M253.5 191.5h0M225.9 178.1h0M248.4 192.0h0M224.8 177.8h0M233.4 185.9h0M222.1 173.1h0M229.6 185.2h0M255.8 190.9h0M228.0 186.9h0M226.0 174.6h0M227.0 181.3h0M235.1 183.5h0M225.1 173.0h0M257.7 189.9h0M239.7 188.8h0M231.5 178.6h0M229.2 182.1h0M175.3 181.5h0M177.9 180.8h0M180.3 181.5h0M175.4 181.5h0M176.9 182.1h0M178.7 180.9h0M173.1 180.5h0M183.6 181.6h0M188.3 189.2h0M184.5 185.2h0M184.1 187.3h0M183.4 183.6h0M189.3 192.9h0M190.6 188.6h0M184.7 187.5h0M187.1 191.1h0M190.1 196.3h0M185.0 192.8h0M188.2 188.1h0M184.0 184.9h0M185.7 191.1h0M188.4 184.9h0M190.3 207.8h0M189.1 206.5h0M187.1 215.1h0M185.3 214.3h0M190.5 200.7h0M182.3 215.0h0M193.2 200.8h0M197.4 196.7h0M191.3 203.1h0M196.0 201.0h0M181.9 214.6h0M188.3 205.4h0M188.7 212.6h0M187.8 212.8h0M184.3 212.5h0M198.2 197.1h0" stroke="#3c4fb0" stroke-width="1.7" stroke-linecap="round"/>
<path d="M216.6 129.1h0M214.6 144.9h0M213.0 155.1h0M212.7 149.2h0M214.4 148.6h0M210.6 147.2h0M213.8 150.7h0M213.1 151.2h0M215.0 147.7h0M212.3 150.8h0M208.9 153.4h0M207.3 162.2h0M220.9 161.9h0M214.7 188.6h0M214.4 185.9h0M209.5 190.1h0M215.9 188.0h0M214.2 186.6h0M208.0 189.1h0M232.5 182.9h0M221.6 170.9h0M225.4 180.2h0M226.2 178.7h0M225.3 173.8h0M236.4 189.0h0M228.9 185.0h0M251.3 189.2h0M177.1 182.3h0M174.3 182.1h0M180.1 183.9h0M182.1 185.6h0M185.1 188.9h0M185.2 186.3h0M190.5 205.1h0M184.0 214.8h0M191.1 204.5h0M187.7 214.3h0M189.9 203.5h0M186.0 208.5h0M191.3 205.1h0M189.4 208.3h0" stroke="#d04aa0" stroke-width="1.7" stroke-linecap="round"/>
<text x="242.90" y="137.10" font-size="6.7" textLength="14.60" lengthAdjust="spacingAndGlyphs">Graft</text>
<text x="246.10" y="143.60" font-size="6.7" textLength="9.90" lengthAdjust="spacingAndGlyphs">BM</text>
<text x="246.10" y="149.70" font-size="6.7" textLength="15.30" lengthAdjust="spacingAndGlyphs">PBSC</text>
<text x="246.10" y="155.80" font-size="6.7" textLength="19.90" lengthAdjust="spacingAndGlyphs">CD34+</text>
<path d="M243.9 141.6h0" stroke="#d04aa0" stroke-width="1.3" stroke-linecap="round"/>
<path d="M243.9 147.6h0" stroke="#3c4fb0" stroke-width="1.3" stroke-linecap="round"/>
<path d="M243.9 153.8h0" stroke="#3a9648" stroke-width="1.3" stroke-linecap="round"/>
<path d="M340.8 146.1h0M347.7 136.5h0M342.7 148.1h0M346.3 142.3h0M344.3 131.3h0M345.7 138.8h0M342.7 147.5h0M344.6 149.1h0M342.7 160.5h0M345.4 135.6h0M346.2 136.9h0M343.9 160.1h0M347.7 133.7h0M346.0 140.6h0M342.5 151.9h0M343.8 147.0h0M341.9 148.2h0M346.6 150.2h0M341.6 153.5h0M345.0 152.7h0M341.0 151.6h0M346.0 130.5h0M341.6 158.9h0M341.0 155.4h0M345.9 138.5h0M345.6 138.5h0M344.6 137.7h0M345.5 155.6h0M349.0 140.7h0M341.4 151.2h0M344.5 133.9h0M346.9 133.7h0M344.9 142.4h0M344.3 154.4h0M343.2 158.1h0M342.7 138.9h0M344.5 156.3h0M341.6 145.0h0M342.2 156.2h0M344.2 156.0h0M344.2 149.8h0M346.0 135.4h0M345.4 147.9h0M345.9 137.4h0M345.2 141.5h0M346.2 133.6h0M340.3 154.1h0M343.6 158.0h0M343.4 150.8h0M341.7 147.8h0M348.1 141.9h0M348.1 134.6h0M342.4 145.4h0M344.6 142.6h0M340.9 152.2h0M342.9 151.2h0M344.6 153.8h0M343.3 156.7h0M347.0 147.9h0M344.8 141.4h0M347.4 151.6h0M340.9 156.7h0M342.1 155.4h0M347.3 137.3h0M342.1 150.5h0M342.7 158.1h0M343.7 144.5h0M345.4 136.5h0M344.4 137.7h0M345.5 132.3h0M344.4 134.4h0M344.6 145.6h0M343.3 159.0h0M340.0 155.2h0M343.9 154.2h0M343.8 134.9h0M343.5 153.1h0M337.9 162.9h0M340.6 162.2h0M339.7 159.5h0M340.6 159.5h0M340.2 158.8h0M337.9 161.2h0M336.4 161.7h0M349.1 158.8h0M350.8 160.1h0M352.4 162.7h0M349.0 159.4h0M346.6 156.4h0M351.2 159.7h0M346.1 155.3h0M350.5 158.9h0M348.0 157.5h0M343.3 186.1h0M345.3 190.3h0M340.2 190.7h0M337.6 187.4h0M342.2 190.0h0M336.7 187.4h0M346.7 189.8h0M344.1 188.9h0M345.8 187.4h0M347.4 188.2h0M342.7 190.6h0M337.1 189.0h0M343.6 186.5h0M336.2 189.0h0M340.6 189.6h0M344.8 185.8h0M342.7 187.6h0M350.5 185.5h0M349.8 187.2h0M339.0 190.6h0M343.9 188.8h0M347.1 191.5h0M343.5 181.3h0M347.2 180.5h0M343.9 179.3h0M344.2 178.8h0M347.0 183.0h0M346.1 183.4h0M386.2 192.4h0M370.7 186.5h0M358.7 182.2h0M360.2 179.9h0M375.0 187.3h0M364.1 186.8h0M356.1 179.1h0M356.4 176.5h0M366.8 188.1h0M360.8 181.5h0M357.4 180.6h0M350.9 170.7h0M354.4 174.3h0M356.3 170.6h0M358.6 179.9h0M380.0 193.2h0M379.8 189.2h0M355.4 177.2h0M360.9 183.5h0M364.2 186.0h0M386.1 191.9h0M382.3 189.2h0M352.8 168.9h0M375.6 186.5h0M356.2 175.3h0M383.1 190.1h0M387.0 190.7h0M373.0 192.4h0M373.9 187.2h0M360.7 182.8h0M361.2 185.0h0M373.2 189.9h0M362.5 183.2h0M369.0 187.3h0M354.1 176.6h0M361.9 184.7h0M356.5 178.4h0M356.6 179.9h0M362.0 183.0h0M369.3 189.2h0M368.1 185.7h0M367.5 186.2h0M377.1 187.9h0M358.1 178.5h0M367.3 188.1h0M354.9 173.9h0M360.2 181.4h0M359.8 186.7h0M372.4 189.8h0M356.0 174.1h0M358.5 178.8h0M357.0 169.9h0M363.3 184.8h0M357.1 176.4h0M360.9 185.0h0M379.3 190.1h0M360.9 181.5h0M375.1 190.3h0M354.5 173.8h0M361.3 183.4h0M355.8 174.3h0M381.1 192.7h0M381.0 192.7h0M361.9 182.4h0M376.1 189.5h0M391.6 192.0h0M378.3 190.0h0M371.1 188.7h0M383.2 192.7h0M352.4 168.5h0M307.1 182.0h0M307.8 180.8h0M309.7 180.4h0M308.0 179.7h0M307.0 182.7h0M305.0 181.0h0M303.4 181.4h0M306.0 180.9h0M310.2 181.9h0M308.7 180.2h0M304.3 181.0h0M306.0 181.7h0M305.0 181.2h0M305.2 182.3h0M313.7 185.7h0M318.6 196.0h0M313.3 184.1h0M313.9 184.9h0M316.4 187.4h0M316.2 188.9h0M319.6 187.9h0M320.4 189.3h0M313.7 188.3h0M317.9 188.9h0M315.9 188.4h0M321.7 193.6h0M318.1 189.2h0M318.2 190.0h0M316.8 194.5h0M318.7 189.2h0M317.0 189.9h0M320.9 188.3h0M312.8 183.6h0M319.5 190.2h0M319.6 190.6h0M322.8 194.3h0M321.0 189.7h0M317.1 191.1h0M315.6 183.8h0M319.3 188.9h0M314.8 184.9h0M316.6 188.5h0M312.7 185.6h0M323.0 190.9h0M321.3 205.8h0M320.7 203.3h0M316.4 210.6h0M330.6 198.7h0M319.3 210.3h0M319.5 212.4h0M318.6 204.8h0M315.9 212.8h0M316.5 210.9h0M319.7 203.7h0M321.7 205.8h0M315.0 210.7h0M324.0 202.4h0M325.0 204.0h0M319.9 211.3h0M322.1 202.8h0M324.6 200.9h0M320.3 206.9h0M322.7 206.0h0M318.2 206.9h0M315.0 214.7h0M327.9 198.9h0M320.4 205.2h0M320.5 200.6h0M318.4 206.6h0M316.5 216.8h0M313.9 214.5h0M321.0 205.0h0M319.8 206.4h0M318.2 208.8h0M317.8 208.6h0M322.7 199.6h0M313.5 215.9h0M313.6 215.9h0M316.5 213.3h0M323.5 203.0h0" stroke="#e0322a" stroke-width="1.7" stroke-linecap="round"/>
<path d="M344.3 146.9h0M346.0 134.3h0M350.5 133.9h0M347.0 138.7h0M350.2 140.1h0M345.0 139.8h0M345.2 144.6h0M347.7 129.1h0M345.7 144.9h0M348.1 133.3h0M340.8 141.4h0M342.9 155.6h0M341.7 155.9h0M346.7 132.3h0M345.0 144.3h0M343.9 133.5h0M341.2 161.4h0M343.5 150.7h0M344.1 155.1h0M340.2 155.1h0M343.8 149.2h0M345.5 148.6h0M343.0 145.0h0M341.6 159.4h0M346.1 135.4h0M347.8 131.6h0M341.8 152.1h0M343.6 151.0h0M341.9 148.4h0M341.7 147.2h0M343.6 160.3h0M345.0 140.8h0M341.8 154.0h0M341.7 147.2h0M344.9 150.7h0M343.3 143.9h0M340.4 150.6h0M345.8 141.5h0M344.2 151.2h0M343.7 152.5h0M343.3 159.4h0M342.8 144.5h0M347.4 140.8h0M346.8 145.4h0M345.5 145.2h0M347.5 139.5h0M342.1 148.4h0M343.5 156.0h0M345.4 142.0h0M345.8 146.8h0M342.7 147.9h0M348.0 131.4h0M346.1 147.7h0M337.6 154.9h0M347.8 136.8h0M344.2 139.9h0M343.4 150.8h0M344.3 144.2h0M348.4 132.5h0M344.7 150.5h0M341.1 157.2h0M348.1 133.5h0M345.0 141.2h0M340.0 153.4h0M343.3 141.4h0M340.1 149.0h0M336.5 163.1h0M338.4 162.2h0M336.3 162.2h0M334.5 162.6h0M337.4 164.5h0M341.2 158.8h0M352.0 161.9h0M353.0 160.6h0M349.9 159.8h0M346.3 157.6h0M338.9 188.5h0M340.0 190.7h0M347.6 187.2h0M345.9 186.6h0M338.1 189.5h0M333.1 186.6h0M345.8 187.5h0M345.8 188.6h0M341.5 187.3h0M345.5 185.9h0M340.6 190.1h0M350.0 189.4h0M340.5 190.0h0M351.4 188.1h0M337.0 188.6h0M347.0 188.0h0M341.7 188.5h0M345.8 190.4h0M345.3 186.6h0M335.4 192.5h0M339.6 189.6h0M340.5 191.1h0M341.6 190.7h0M343.0 191.0h0M339.1 189.1h0M343.6 181.5h0M368.1 188.4h0M388.0 190.2h0M354.7 178.1h0M351.4 172.1h0M363.6 182.9h0M359.0 177.8h0M352.7 170.9h0M364.5 186.4h0M356.5 180.2h0M361.9 185.7h0M364.4 184.4h0M383.2 189.9h0M357.2 176.2h0M361.9 184.4h0M355.9 170.5h0M353.7 171.6h0M362.1 184.5h0M372.6 188.4h0M361.4 184.7h0M361.5 184.1h0M377.9 189.5h0M364.6 187.0h0M375.5 187.9h0M379.7 191.6h0M381.6 191.7h0M357.3 178.7h0M389.2 191.1h0M366.5 186.9h0M356.4 173.8h0M361.9 182.1h0M350.7 176.3h0M367.5 189.0h0M384.6 191.5h0M357.0 178.1h0M379.5 192.0h0M375.7 185.5h0M355.9 177.8h0M360.0 185.0h0M382.4 189.2h0M364.5 185.9h0M353.2 173.1h0M360.7 185.2h0M352.2 171.7h0M386.9 190.9h0M359.1 186.9h0M357.1 174.6h0M358.1 181.3h0M366.2 183.5h0M356.2 173.0h0M355.7 172.6h0M388.8 189.9h0M370.8 188.8h0M365.6 185.5h0M362.6 178.6h0M360.3 182.1h0M309.2 180.6h0M306.4 181.5h0M307.8 181.6h0M308.2 182.3h0M305.4 182.1h0M309.0 180.8h0M311.4 181.5h0M306.5 181.5h0M308.0 182.1h0M309.8 180.9h0M304.2 180.5h0M314.7 181.6h0M315.4 191.4h0M319.4 189.2h0M315.6 185.2h0M315.2 187.3h0M314.5 183.6h0M313.2 185.5h0M320.4 192.9h0M321.7 188.6h0M315.8 187.5h0M311.2 183.9h0M318.2 191.1h0M316.1 189.2h0M321.2 196.3h0M316.1 192.8h0M319.3 188.1h0M315.1 184.9h0M316.8 191.1h0M319.5 184.9h0M313.2 185.6h0M316.2 188.9h0M316.3 186.3h0M321.4 207.8h0M321.6 205.1h0M320.2 206.5h0M318.2 215.1h0M316.4 214.3h0M315.1 214.8h0M324.2 203.0h0M321.6 200.7h0M322.2 204.5h0M313.4 215.0h0M322.3 204.5h0M318.8 214.3h0M324.3 200.8h0M321.0 203.5h0M328.5 196.7h0M322.4 203.1h0M317.1 208.5h0M327.1 201.0h0M324.9 203.1h0M313.0 214.6h0M319.4 205.4h0M319.8 212.6h0M318.9 212.8h0M322.4 205.1h0M320.5 208.3h0M315.4 212.5h0M316.1 215.7h0M329.3 197.1h0M315.9 215.0h0" stroke="#2f4f9f" stroke-width="1.7" stroke-linecap="round"/>
<text x="383.80" y="138.70" font-size="6.4" textLength="12.20" lengthAdjust="spacingAndGlyphs">CD4</text>
<text x="387.90" y="145.50" font-size="6.4" textLength="11.50" lengthAdjust="spacingAndGlyphs">Low</text>
<text x="387.90" y="152.40" font-size="6.4" textLength="13.50" lengthAdjust="spacingAndGlyphs">High</text>
<path d="M385.2 143.6h0" stroke="#e0322a" stroke-width="1.3" stroke-linecap="round"/>
<path d="M385.2 150.4h0" stroke="#2f4f9f" stroke-width="1.3" stroke-linecap="round"/>
<rect x="427.00" y="132.60" width="6.30" height="6.48" fill="#f2b2b0" />
<rect x="433.25" y="132.60" width="6.30" height="6.48" fill="#ec9c9a" />
<rect x="439.50" y="132.60" width="6.30" height="6.48" fill="#b87878" />
<text x="448.80" y="137.70" font-size="6.8" textLength="50.40" lengthAdjust="spacingAndGlyphs" fill="#333">Lachnospiraceae (f)</text>
<rect x="427.00" y="139.03" width="6.30" height="6.48" fill="#f58c3c" />
<rect x="433.25" y="139.03" width="6.30" height="6.48" fill="#f57b22" />
<rect x="439.50" y="139.03" width="6.30" height="6.48" fill="#c8652e" />
<text x="448.80" y="144.13" font-size="6.8" textLength="52.20" lengthAdjust="spacingAndGlyphs" fill="#333">Ruminococcaceae (f)</text>
<rect x="427.00" y="145.46" width="6.30" height="6.48" fill="#ad9464" />
<rect x="433.25" y="145.46" width="6.30" height="6.48" fill="#a08b56" />
<rect x="439.50" y="145.46" width="6.30" height="6.48" fill="#867249" />
<text x="448.80" y="150.56" font-size="6.8" textLength="56.60" lengthAdjust="spacingAndGlyphs" fill="#333">Other clostridiales (o)</text>
<rect x="427.00" y="151.89" width="6.30" height="6.48" fill="#8f7c3a" />
<rect x="433.25" y="151.89" width="6.30" height="6.48" fill="#7f6c29" />
<rect x="439.50" y="151.89" width="6.30" height="6.48" fill="#6a5a26" />
<text x="448.80" y="156.99" font-size="6.8" textLength="54.20" lengthAdjust="spacingAndGlyphs" fill="#333">Erysipelotrichales (o)</text>
<rect x="427.00" y="158.32" width="6.30" height="6.48" fill="#1e9446" />
<rect x="433.25" y="158.32" width="6.30" height="6.48" fill="#1e9446" />
<rect x="439.50" y="158.32" width="6.30" height="6.48" fill="#1e9446" />
<text x="448.80" y="163.42" font-size="6.8" textLength="43.50" lengthAdjust="spacingAndGlyphs" fill="#333">Enterococcus (g)</text>
<rect x="427.00" y="164.75" width="6.30" height="6.48" fill="#3652a8" />
<rect x="433.25" y="164.75" width="6.30" height="6.48" fill="#3652a8" />
<rect x="439.50" y="164.75" width="6.30" height="6.48" fill="#3652a8" />
<text x="448.80" y="169.85" font-size="6.8" textLength="42.00" lengthAdjust="spacingAndGlyphs" fill="#333">Lactobacillus (g)</text>
<rect x="427.00" y="171.18" width="6.30" height="6.48" fill="#efe525" />
<rect x="433.25" y="171.18" width="6.30" height="6.48" fill="#efe525" />
<rect x="439.50" y="171.18" width="6.30" height="6.48" fill="#efe525" />
<text x="448.80" y="176.28" font-size="6.8" textLength="46.60" lengthAdjust="spacingAndGlyphs" fill="#333">Staphylococcus (g)</text>
<rect x="427.00" y="177.61" width="6.30" height="6.48" fill="#a3bd40" />
<rect x="433.25" y="177.61" width="6.30" height="6.48" fill="#a3bd40" />
<rect x="439.50" y="177.61" width="6.30" height="6.48" fill="#a3bd40" />
<text x="448.80" y="182.71" font-size="6.8" textLength="45.80" lengthAdjust="spacingAndGlyphs" fill="#333">Streptococcus (g)</text>
<rect x="427.00" y="186.34" width="6.30" height="6.48" fill="#78c2b2" />
<rect x="433.25" y="186.34" width="6.30" height="6.48" fill="#4fb3a0" />
<rect x="439.50" y="186.34" width="6.30" height="6.48" fill="#418a78" />
<text x="448.80" y="191.44" font-size="6.8" textLength="44.20" lengthAdjust="spacingAndGlyphs" fill="#333">Bacteroidetes (p)</text>
<rect x="427.00" y="192.77" width="6.30" height="6.48" fill="#8b1228" />
<rect x="433.25" y="192.77" width="6.30" height="6.48" fill="#8b1228" />
<rect x="439.50" y="192.77" width="6.30" height="6.48" fill="#8b1228" />
<text x="448.80" y="197.87" font-size="6.8" textLength="37.40" lengthAdjust="spacingAndGlyphs" fill="#333">Escherichia (g)</text>
<rect x="427.00" y="199.20" width="6.30" height="6.48" fill="#ef3b2c" />
<rect x="433.25" y="199.20" width="6.30" height="6.48" fill="#ef3b2c" />
<rect x="439.50" y="199.20" width="6.30" height="6.48" fill="#ef3b2c" />
<text x="448.80" y="204.30" font-size="6.8" textLength="33.00" lengthAdjust="spacingAndGlyphs" fill="#333">Klebsiella (g)</text>
<rect x="427.00" y="205.63" width="6.30" height="6.48" fill="#c0574a" />
<rect x="433.25" y="205.63" width="6.30" height="6.48" fill="#b03a33" />
<rect x="439.50" y="205.63" width="6.30" height="6.48" fill="#86302c" />
<text x="448.80" y="210.73" font-size="6.8" textLength="64.70" lengthAdjust="spacingAndGlyphs" fill="#333">Other proteobacteria (p)</text>
<rect x="427.00" y="212.06" width="6.30" height="6.48" fill="#c08cc0" />
<rect x="433.25" y="212.06" width="6.30" height="6.48" fill="#a875a8" />
<rect x="439.50" y="212.06" width="6.30" height="6.48" fill="#8a5f8a" />
<text x="448.80" y="217.16" font-size="6.8" textLength="46.90" lengthAdjust="spacingAndGlyphs" fill="#333">Actinobacteria (p)</text>
<rect x="427.00" y="218.49" width="6.30" height="6.48" fill="#3b84cc" />
<rect x="433.25" y="218.49" width="6.30" height="6.48" fill="#3b84cc" />
<rect x="439.50" y="218.49" width="6.30" height="6.48" fill="#3b84cc" />
<text x="448.80" y="223.59" font-size="6.8" textLength="42.00" lengthAdjust="spacingAndGlyphs" fill="#333">Akkermansia (g)</text>
<rect x="427.00" y="224.92" width="6.30" height="6.48" fill="#d0d0d0" />
<rect x="433.25" y="224.92" width="6.30" height="6.48" fill="#bdbdbd" />
<rect x="439.50" y="224.92" width="6.30" height="6.48" fill="#8f8f8f" />
<text x="448.80" y="230.02" font-size="6.8" textLength="38.20" lengthAdjust="spacingAndGlyphs" fill="#333">Other bacteria</text>
<rect x="427.00" y="132.60" width="18.70" height="98.80" fill="none" stroke="#fff" stroke-width="0.3" stroke-opacity="0.5"/>
<line x1="413.60" y1="132.60" x2="413.60" y2="183.20" stroke="#231f20" stroke-width="0.8" />
<line x1="424.10" y1="132.80" x2="424.10" y2="148.90" stroke="#231f20" stroke-width="0.8" />
<line x1="424.10" y1="159.70" x2="424.10" y2="183.20" stroke="#231f20" stroke-width="0.8" />
<line x1="424.10" y1="192.20" x2="424.10" y2="211.60" stroke="#231f20" stroke-width="0.8" />
<text x="411.30" y="157.10" font-size="7.0" text-anchor="middle" textLength="29.00" lengthAdjust="spacingAndGlyphs" fill="#333" transform="rotate(-90 411.30 157.10)">Firmicutes</text>
<text x="421.60" y="141.60" font-size="7.0" text-anchor="middle" textLength="22.50" lengthAdjust="spacingAndGlyphs" fill="#333" transform="rotate(-90 421.60 141.60)">Clostridia</text>
<text x="421.60" y="169.30" font-size="7.0" text-anchor="middle" textLength="18.50" lengthAdjust="spacingAndGlyphs" fill="#333" transform="rotate(-90 421.60 169.30)">Bacilli</text>
<text x="421.60" y="201.60" font-size="7.0" text-anchor="middle" textLength="19.00" lengthAdjust="spacingAndGlyphs" fill="#333" transform="rotate(-90 421.60 201.60)">Proteo</text>
<path d="M100.33 320.63L70.80 296.72A74.5 74.5 0 0 1 123.24 269.30L126.03 307.20A36.5 36.5 0 0 0 100.33 320.63z" fill="#f5d6ca" />
<path d="M115.69 302.09L107.77 276.80A70.0 70.0 0 0 1 123.57 273.79L125.51 300.22A43.5 43.5 0 0 0 115.69 302.09z" fill="#f29176" />
<path d="M152.37 307.70L173.29 275.98A81.0 81.0 0 0 1 182.05 282.65L157.02 311.25A43.0 43.0 0 0 0 152.37 307.70z" fill="#aaa7e2" />
<path d="M129.78 378.08L130.95 415.06A71.5 71.5 0 0 1 104.01 410.70L116.79 375.98A34.5 34.5 0 0 0 129.78 378.08z" fill="#c3c1ea" />
<defs><linearGradient id="fg185" gradientUnits="userSpaceOnUse" x1="180.5" y1="363.2" x2="190.9" y2="367.8"><stop offset="0" stop-color="#111"/><stop offset="0.5" stop-color="#333"/><stop offset="1" stop-color="#8a8a8a"/></linearGradient></defs>
<path d="M180.52 363.18L191.95 364.76L191.75 365.37L191.54 365.97L191.32 366.58L191.09 367.18L190.86 367.77L190.63 368.37L190.39 368.96L190.14 369.55L189.89 370.14L189.63 370.73z" fill="url(#fg185)"/>
<g fill="#e4e4e4" stroke="#6a6a6a" stroke-width="0.35"><circle cx="193.02" cy="365.98" r="1.2"/><circle cx="192.46" cy="367.52" r="1.2"/><circle cx="191.87" cy="369.04" r="1.2"/><circle cx="191.24" cy="370.55" r="1.2"/></g>
<defs><linearGradient id="fg670" gradientUnits="userSpaceOnUse" x1="149.0" y1="395.1" x2="153.1" y2="405.7"><stop offset="0" stop-color="#111"/><stop offset="0.5" stop-color="#333"/><stop offset="1" stop-color="#8a8a8a"/></linearGradient></defs>
<path d="M149.00 395.15L154.76 405.00L154.44 405.13L154.12 405.27L153.79 405.40L153.47 405.53L153.15 405.66L152.82 405.79L152.49 405.91L152.17 406.04L151.84 406.16L151.51 406.28z" fill="url(#fg670)"/>
<g fill="#e4e4e4" stroke="#6a6a6a" stroke-width="0.35"><circle cx="154.76" cy="406.52" r="1.2"/><circle cx="153.66" cy="406.96" r="1.2"/><circle cx="152.55" cy="407.39" r="1.2"/></g>
<defs><linearGradient id="fg765" gradientUnits="userSpaceOnUse" x1="140.6" y1="397.7" x2="142.6" y2="408.8"><stop offset="0" stop-color="#111"/><stop offset="0.5" stop-color="#333"/><stop offset="1" stop-color="#8a8a8a"/></linearGradient></defs>
<path d="M140.60 397.71L144.27 408.46L143.93 408.54L143.59 408.62L143.25 408.69L142.91 408.77L142.57 408.84L142.23 408.91L141.88 408.98L141.54 409.05L141.20 409.12L140.86 409.18z" fill="url(#fg765)"/>
<g fill="#e4e4e4" stroke="#6a6a6a" stroke-width="0.35"><circle cx="144.02" cy="409.95" r="1.2"/><circle cx="142.86" cy="410.21" r="1.2"/><circle cx="141.69" cy="410.45" r="1.2"/></g>
<defs><linearGradient id="fg885" gradientUnits="userSpaceOnUse" x1="119.6" y1="398.2" x2="118.3" y2="409.5"><stop offset="0" stop-color="#111"/><stop offset="0.5" stop-color="#333"/><stop offset="1" stop-color="#8a8a8a"/></linearGradient></defs>
<path d="M119.56 398.24L130.45 410.28L128.00 410.30L125.56 410.23L123.12 410.07L120.69 409.82L118.27 409.48L115.86 409.05L113.47 408.54L111.10 407.94L108.75 407.25L106.44 406.47z" fill="url(#fg885)"/>
<g fill="#e4e4e4" stroke="#6a6a6a" stroke-width="0.35"><circle cx="129.44" cy="411.70" r="1.2"/><circle cx="127.36" cy="411.69" r="1.2"/><circle cx="125.28" cy="411.61" r="1.2"/><circle cx="123.21" cy="411.48" r="1.2"/><circle cx="121.14" cy="411.28" r="1.2"/><circle cx="119.08" cy="411.02" r="1.2"/><circle cx="117.02" cy="410.69" r="1.2"/><circle cx="114.98" cy="410.30" r="1.2"/><circle cx="112.95" cy="409.85" r="1.2"/><circle cx="110.93" cy="409.34" r="1.2"/><circle cx="108.93" cy="408.77" r="1.2"/><circle cx="106.95" cy="408.13" r="1.2"/></g>
<defs><linearGradient id="fg2085" gradientUnits="userSpaceOnUse" x1="81.9" y1="314.0" x2="72.4" y2="307.8"><stop offset="0" stop-color="#111"/><stop offset="0.5" stop-color="#333"/><stop offset="1" stop-color="#8a8a8a"/></linearGradient></defs>
<path d="M81.87 314.00L70.08 311.77L70.53 310.96L70.99 310.15L71.47 309.35L71.95 308.55L72.45 307.76L72.95 306.98L73.47 306.21L74.00 305.44L74.53 304.68L75.08 303.93z" fill="url(#fg2085)"/>
<g fill="#e4e4e4" stroke="#6a6a6a" stroke-width="0.35"><circle cx="69.31" cy="310.27" r="1.2"/><circle cx="70.27" cy="308.63" r="1.2"/><circle cx="71.27" cy="307.01" r="1.2"/><circle cx="72.31" cy="305.42" r="1.2"/><circle cx="73.40" cy="303.86" r="1.2"/></g>
<defs><linearGradient id="fg1995" gradientUnits="userSpaceOnUse" x1="78.0" y1="321.3" x2="67.6" y2="316.7"><stop offset="0" stop-color="#111"/><stop offset="0.5" stop-color="#333"/><stop offset="1" stop-color="#8a8a8a"/></linearGradient></defs>
<path d="M77.97 321.33L65.83 321.34L66.16 320.40L66.51 319.48L66.88 318.56L67.26 317.65L67.65 316.74L68.05 315.83L68.47 314.94L68.90 314.05L69.35 313.16L69.81 312.29z" fill="url(#fg1995)"/>
<g fill="#e4e4e4" stroke="#6a6a6a" stroke-width="0.35"><circle cx="64.85" cy="319.92" r="1.2"/><circle cx="65.58" cy="318.03" r="1.2"/><circle cx="66.37" cy="316.17" r="1.2"/><circle cx="67.21" cy="314.34" r="1.2"/><circle cx="68.10" cy="312.52" r="1.2"/></g>
<defs><linearGradient id="fg1568" gradientUnits="userSpaceOnUse" x1="73.7" y1="350.4" x2="62.5" y2="351.7"><stop offset="0" stop-color="#111"/><stop offset="0.5" stop-color="#333"/><stop offset="1" stop-color="#8a8a8a"/></linearGradient></defs>
<path d="M73.72 350.45L67.39 369.88L66.01 366.37L64.82 362.79L63.84 359.15L63.06 355.46L62.50 351.73L62.14 347.97L62.00 344.21L62.08 340.43L62.36 336.67L62.86 332.94z" fill="url(#fg1568)"/>
<g fill="#e4e4e4" stroke="#6a6a6a" stroke-width="0.35"><circle cx="65.69" cy="369.44" r="1.2"/><circle cx="64.91" cy="367.45" r="1.2"/><circle cx="64.19" cy="365.43" r="1.2"/><circle cx="63.54" cy="363.40" r="1.2"/><circle cx="62.95" cy="361.34" r="1.2"/><circle cx="62.43" cy="359.27" r="1.2"/><circle cx="61.97" cy="357.18" r="1.2"/><circle cx="61.57" cy="355.07" r="1.2"/><circle cx="61.25" cy="352.96" r="1.2"/><circle cx="60.99" cy="350.84" r="1.2"/><circle cx="60.79" cy="348.71" r="1.2"/><circle cx="60.66" cy="346.57" r="1.2"/><circle cx="60.61" cy="344.43" r="1.2"/><circle cx="60.61" cy="342.29" r="1.2"/><circle cx="60.69" cy="340.15" r="1.2"/><circle cx="60.83" cy="338.02" r="1.2"/><circle cx="61.04" cy="335.89" r="1.2"/><circle cx="61.31" cy="333.77" r="1.2"/></g>
<defs><linearGradient id="fg1375" gradientUnits="userSpaceOnUse" x1="84.6" y1="377.2" x2="75.4" y2="383.7"><stop offset="0" stop-color="#111"/><stop offset="0.5" stop-color="#333"/><stop offset="1" stop-color="#8a8a8a"/></linearGradient></defs>
<path d="M84.63 377.17L79.52 388.66L78.67 387.71L77.83 386.74L77.01 385.76L76.21 384.76L75.43 383.74L74.67 382.71L73.93 381.67L73.21 380.61L72.51 379.54L71.83 378.45z" fill="url(#fg1375)"/>
<g fill="#e4e4e4" stroke="#6a6a6a" stroke-width="0.35"><circle cx="77.76" cy="388.80" r="1.2"/><circle cx="76.34" cy="387.15" r="1.2"/><circle cx="74.98" cy="385.45" r="1.2"/><circle cx="73.66" cy="383.71" r="1.2"/><circle cx="72.41" cy="381.93" r="1.2"/><circle cx="71.21" cy="380.11" r="1.2"/></g>
<defs><linearGradient id="fg1150" gradientUnits="userSpaceOnUse" x1="96.8" y1="388.9" x2="90.0" y2="397.9"><stop offset="0" stop-color="#111"/><stop offset="0.5" stop-color="#333"/><stop offset="1" stop-color="#8a8a8a"/></linearGradient></defs>
<path d="M96.77 388.87L100.51 404.05L98.32 402.98L96.16 401.82L94.05 400.59L91.98 399.28L89.97 397.90L88.00 396.45L86.09 394.92L84.24 393.32L82.45 391.66L80.72 389.93z" fill="url(#fg1150)"/>
<g fill="#e4e4e4" stroke="#6a6a6a" stroke-width="0.35"><circle cx="98.98" cy="404.87" r="1.2"/><circle cx="97.12" cy="403.94" r="1.2"/><circle cx="95.30" cy="402.94" r="1.2"/><circle cx="93.50" cy="401.90" r="1.2"/><circle cx="91.73" cy="400.79" r="1.2"/><circle cx="90.01" cy="399.64" r="1.2"/><circle cx="88.31" cy="398.43" r="1.2"/><circle cx="86.66" cy="397.17" r="1.2"/><circle cx="85.04" cy="395.86" r="1.2"/><circle cx="83.46" cy="394.51" r="1.2"/><circle cx="81.93" cy="393.10" r="1.2"/><circle cx="80.44" cy="391.65" r="1.2"/></g>
<defs><linearGradient id="fg3185" gradientUnits="userSpaceOnUse" x1="173.7" y1="311.3" x2="181.8" y2="303.2"><stop offset="0" stop-color="#111"/><stop offset="0.5" stop-color="#333"/><stop offset="1" stop-color="#8a8a8a"/></linearGradient></defs>
<path d="M173.69 311.27L178.66 299.40L179.31 300.15L179.94 300.90L180.57 301.67L181.19 302.44L181.79 303.23L182.39 304.02L182.97 304.82L183.54 305.63L184.09 306.45L184.64 307.27z" fill="url(#fg3185)"/>
<g fill="#e4e4e4" stroke="#6a6a6a" stroke-width="0.35"><circle cx="180.37" cy="299.24" r="1.2"/><circle cx="181.66" cy="300.79" r="1.2"/><circle cx="182.91" cy="302.38" r="1.2"/><circle cx="184.11" cy="304.01" r="1.2"/><circle cx="185.26" cy="305.67" r="1.2"/></g>
<defs><linearGradient id="fg3405" gradientUnits="userSpaceOnUse" x1="182.3" y1="329.4" x2="193.1" y2="326.3"><stop offset="0" stop-color="#111"/><stop offset="0.5" stop-color="#333"/><stop offset="1" stop-color="#8a8a8a"/></linearGradient></defs>
<path d="M182.26 329.45L191.57 321.34L191.92 322.33L192.24 323.32L192.55 324.32L192.85 325.33L193.13 326.34L193.39 327.35L193.64 328.37L193.87 329.39L194.08 330.42L194.28 331.44z" fill="url(#fg3405)"/>
<g fill="#e4e4e4" stroke="#6a6a6a" stroke-width="0.35"><circle cx="193.24" cy="321.88" r="1.2"/><circle cx="193.89" cy="323.92" r="1.2"/><circle cx="194.48" cy="325.97" r="1.2"/><circle cx="195.00" cy="328.05" r="1.2"/><circle cx="195.46" cy="330.14" r="1.2"/></g>
<defs><linearGradient id="fg3510" gradientUnits="userSpaceOnUse" x1="184.0" y1="339.6" x2="195.3" y2="339.2"><stop offset="0" stop-color="#111"/><stop offset="0.5" stop-color="#333"/><stop offset="1" stop-color="#8a8a8a"/></linearGradient></defs>
<path d="M183.96 339.64L194.58 333.17L194.76 334.37L194.92 335.59L195.05 336.80L195.17 338.02L195.26 339.24L195.33 340.46L195.37 341.68L195.40 342.90L195.40 344.12L195.38 345.35z" fill="url(#fg3510)"/>
<g fill="#e4e4e4" stroke="#6a6a6a" stroke-width="0.35"><circle cx="196.12" cy="333.98" r="1.2"/><circle cx="196.38" cy="336.04" r="1.2"/><circle cx="196.58" cy="338.11" r="1.2"/><circle cx="196.71" cy="340.18" r="1.2"/><circle cx="196.79" cy="342.26" r="1.2"/><circle cx="196.80" cy="344.34" r="1.2"/></g>
<path d="M117.50 343.60L106.30 343.60" stroke="#1c1c1c" stroke-width="0.75" fill="none"/>
<path d="M150.90 346.60L161.80 348.08" stroke="#1c1c1c" stroke-width="0.75" fill="none"/>
<path d="M161.80 348.08A33.40 33.40 0 0 0 161.81 347.96" stroke="#1c1c1c" stroke-width="0.75" fill="none"/>
<path d="M161.81 347.96L183.63 350.83" stroke="#1c1c1c" stroke-width="0.75" fill="none"/>
<path d="M183.63 350.83A55.40 55.40 0 0 1 183.57 351.21" stroke="#1c1c1c" stroke-width="0.75" fill="none"/>
<path d="M183.57 351.21L194.57 352.74" stroke="#1c1c1c" stroke-width="0.75" fill="none"/>
<path d="M194.57 352.74A66.50 66.50 0 0 1 194.47 353.43" stroke="#1c1c1c" stroke-width="0.75" fill="none"/>
<path d="M117.50 343.60L106.30 343.60" stroke="#1c1c1c" stroke-width="0.75" fill="none"/>
<path d="M148.25 354.53L157.86 359.89" stroke="#1c1c1c" stroke-width="0.75" fill="none"/>
<path d="M160.67 353.25L171.11 356.40" stroke="#1c1c1c" stroke-width="0.75" fill="none"/>
<path d="M171.11 356.40A44.30 44.30 0 0 1 170.97 356.85" stroke="#1c1c1c" stroke-width="0.75" fill="none"/>
<path d="M170.97 356.85L181.56 360.17" stroke="#1c1c1c" stroke-width="0.75" fill="none"/>
<path d="M181.56 360.17A55.40 55.40 0 0 0 182.03 358.59" stroke="#1c1c1c" stroke-width="0.75" fill="none"/>
<path d="M182.03 358.59L192.72 361.59" stroke="#1c1c1c" stroke-width="0.75" fill="none"/>
<path d="M192.72 361.59A66.50 66.50 0 0 1 192.69 361.71" stroke="#1c1c1c" stroke-width="0.75" fill="none"/>
<path d="M170.97 356.85L181.56 360.17" stroke="#1c1c1c" stroke-width="0.75" fill="none"/>
<path d="M181.56 360.17A55.40 55.40 0 0 1 180.52 363.18" stroke="#1c1c1c" stroke-width="0.75" fill="none"/>
<path d="M180.52 363.18L190.91 367.11" stroke="#1c1c1c" stroke-width="0.75" fill="none"/>
<path d="M190.91 367.11A66.50 66.50 0 0 0 191.03 366.78" stroke="#1c1c1c" stroke-width="0.75" fill="none"/>
<path d="M180.52 363.18L190.91 367.11" stroke="#1c1c1c" stroke-width="0.75" fill="none"/>
<path d="M190.91 367.11A66.50 66.50 0 0 1 190.09 369.16" stroke="#1c1c1c" stroke-width="0.75" fill="none"/>
<path d="M148.25 354.53L157.86 359.89" stroke="#1c1c1c" stroke-width="0.75" fill="none"/>
<path d="M157.39 360.70L166.75 366.28" stroke="#1c1c1c" stroke-width="0.75" fill="none"/>
<path d="M166.75 366.28A44.30 44.30 0 0 0 167.03 365.82" stroke="#1c1c1c" stroke-width="0.75" fill="none"/>
<path d="M167.03 365.82L176.63 371.38" stroke="#1c1c1c" stroke-width="0.75" fill="none"/>
<path d="M176.63 371.38A55.40 55.40 0 0 1 176.53 371.55" stroke="#1c1c1c" stroke-width="0.75" fill="none"/>
<path d="M176.53 371.55L186.12 377.15" stroke="#1c1c1c" stroke-width="0.75" fill="none"/>
<path d="M186.12 377.15A66.50 66.50 0 0 0 186.23 376.95" stroke="#1c1c1c" stroke-width="0.75" fill="none"/>
<path d="M148.25 354.53L157.86 359.89" stroke="#1c1c1c" stroke-width="0.75" fill="none"/>
<path d="M157.86 359.89A33.40 33.40 0 0 1 155.62 363.37" stroke="#1c1c1c" stroke-width="0.75" fill="none"/>
<path d="M155.62 363.37L164.40 369.83" stroke="#1c1c1c" stroke-width="0.75" fill="none"/>
<path d="M164.40 369.83A44.30 44.30 0 0 1 163.89 370.51" stroke="#1c1c1c" stroke-width="0.75" fill="none"/>
<path d="M163.89 370.51L172.71 377.25" stroke="#1c1c1c" stroke-width="0.75" fill="none"/>
<path d="M172.71 377.25A55.40 55.40 0 0 0 172.94 376.94" stroke="#1c1c1c" stroke-width="0.75" fill="none"/>
<path d="M172.94 376.94L181.81 383.62" stroke="#1c1c1c" stroke-width="0.75" fill="none"/>
<path d="M181.81 383.62A66.50 66.50 0 0 1 181.67 383.81" stroke="#1c1c1c" stroke-width="0.75" fill="none"/>
<path d="M163.89 370.51L172.71 377.25" stroke="#1c1c1c" stroke-width="0.75" fill="none"/>
<path d="M172.71 377.25A55.40 55.40 0 0 1 170.38 380.09" stroke="#1c1c1c" stroke-width="0.75" fill="none"/>
<path d="M170.38 380.09L178.74 387.40" stroke="#1c1c1c" stroke-width="0.75" fill="none"/>
<path d="M178.74 387.40A66.50 66.50 0 0 1 178.66 387.49" stroke="#1c1c1c" stroke-width="0.75" fill="none"/>
<path d="M117.50 343.60L106.30 343.60" stroke="#1c1c1c" stroke-width="0.75" fill="none"/>
<path d="M141.45 362.02L147.71 371.06" stroke="#1c1c1c" stroke-width="0.75" fill="none"/>
<path d="M147.71 371.06A33.40 33.40 0 0 0 150.79 368.65" stroke="#1c1c1c" stroke-width="0.75" fill="none"/>
<path d="M150.79 368.65L158.00 376.83" stroke="#1c1c1c" stroke-width="0.75" fill="none"/>
<path d="M158.00 376.83A44.30 44.30 0 0 0 158.05 376.78" stroke="#1c1c1c" stroke-width="0.75" fill="none"/>
<path d="M158.05 376.78L165.41 385.09" stroke="#1c1c1c" stroke-width="0.75" fill="none"/>
<path d="M165.41 385.09A55.40 55.40 0 0 0 165.55 384.96" stroke="#1c1c1c" stroke-width="0.75" fill="none"/>
<path d="M165.55 384.96L172.94 393.25" stroke="#1c1c1c" stroke-width="0.75" fill="none"/>
<path d="M172.94 393.25A66.50 66.50 0 0 1 172.85 393.33" stroke="#1c1c1c" stroke-width="0.75" fill="none"/>
<path d="M141.45 362.02L147.71 371.06" stroke="#1c1c1c" stroke-width="0.75" fill="none"/>
<path d="M147.71 371.06A33.40 33.40 0 0 1 147.23 371.39" stroke="#1c1c1c" stroke-width="0.75" fill="none"/>
<path d="M147.23 371.39L153.28 380.46" stroke="#1c1c1c" stroke-width="0.75" fill="none"/>
<path d="M153.28 380.46A44.30 44.30 0 0 1 152.96 380.67" stroke="#1c1c1c" stroke-width="0.75" fill="none"/>
<path d="M152.96 380.67L159.04 389.96" stroke="#1c1c1c" stroke-width="0.75" fill="none"/>
<path d="M159.04 389.96A55.40 55.40 0 0 0 159.36 389.74" stroke="#1c1c1c" stroke-width="0.75" fill="none"/>
<path d="M159.36 389.74L165.50 398.99" stroke="#1c1c1c" stroke-width="0.75" fill="none"/>
<path d="M165.50 398.99A66.50 66.50 0 0 0 165.69 398.86" stroke="#1c1c1c" stroke-width="0.75" fill="none"/>
<path d="M152.96 380.67L159.04 389.96" stroke="#1c1c1c" stroke-width="0.75" fill="none"/>
<path d="M159.04 389.96A55.40 55.40 0 0 1 156.15 391.72" stroke="#1c1c1c" stroke-width="0.75" fill="none"/>
<path d="M156.15 391.72L161.65 401.36" stroke="#1c1c1c" stroke-width="0.75" fill="none"/>
<path d="M161.65 401.36A66.50 66.50 0 0 1 161.45 401.48" stroke="#1c1c1c" stroke-width="0.75" fill="none"/>
<path d="M117.50 343.60L106.30 343.60" stroke="#1c1c1c" stroke-width="0.75" fill="none"/>
<path d="M107.17 349.77L96.59 352.81" stroke="#1c1c1c" stroke-width="0.75" fill="none"/>
<path d="M141.80 374.32L146.08 384.35" stroke="#1c1c1c" stroke-width="0.75" fill="none"/>
<path d="M146.08 384.35A44.30 44.30 0 0 1 145.72 384.50" stroke="#1c1c1c" stroke-width="0.75" fill="none"/>
<path d="M145.72 384.50L149.99 394.75" stroke="#1c1c1c" stroke-width="0.75" fill="none"/>
<path d="M149.99 394.75A55.40 55.40 0 0 1 149.00 395.15" stroke="#1c1c1c" stroke-width="0.75" fill="none"/>
<path d="M107.17 349.77L96.59 352.81" stroke="#1c1c1c" stroke-width="0.75" fill="none"/>
<path d="M134.84 376.43L136.85 387.14" stroke="#1c1c1c" stroke-width="0.75" fill="none"/>
<path d="M136.85 387.14A44.30 44.30 0 0 1 132.56 387.73" stroke="#1c1c1c" stroke-width="0.75" fill="none"/>
<path d="M132.56 387.73L133.53 398.79" stroke="#1c1c1c" stroke-width="0.75" fill="none"/>
<path d="M133.53 398.79A55.40 55.40 0 0 1 133.05 398.83" stroke="#1c1c1c" stroke-width="0.75" fill="none"/>
<path d="M133.05 398.83L133.92 409.90" stroke="#1c1c1c" stroke-width="0.75" fill="none"/>
<path d="M133.92 409.90A66.50 66.50 0 0 1 133.69 409.91" stroke="#1c1c1c" stroke-width="0.75" fill="none"/>
<path d="M134.84 376.43L136.85 387.14" stroke="#1c1c1c" stroke-width="0.75" fill="none"/>
<path d="M136.85 387.14A44.30 44.30 0 0 0 139.27 386.62" stroke="#1c1c1c" stroke-width="0.75" fill="none"/>
<path d="M139.27 386.62L141.91 397.40" stroke="#1c1c1c" stroke-width="0.75" fill="none"/>
<path d="M141.91 397.40A55.40 55.40 0 0 1 140.60 397.71" stroke="#1c1c1c" stroke-width="0.75" fill="none"/>
<path d="M107.17 349.77L96.59 352.81" stroke="#1c1c1c" stroke-width="0.75" fill="none"/>
<path d="M124.05 376.67L122.53 387.47" stroke="#1c1c1c" stroke-width="0.75" fill="none"/>
<path d="M122.15 387.41L120.51 398.39" stroke="#1c1c1c" stroke-width="0.75" fill="none"/>
<path d="M120.51 398.39A55.40 55.40 0 0 1 119.56 398.24" stroke="#1c1c1c" stroke-width="0.75" fill="none"/>
<path d="M107.17 349.77L96.59 352.81" stroke="#1c1c1c" stroke-width="0.75" fill="none"/>
<path d="M96.59 352.81L86.12 355.81" stroke="#1c1c1c" stroke-width="0.75" fill="none"/>
<path d="M86.03 355.51L75.34 358.50" stroke="#1c1c1c" stroke-width="0.75" fill="none"/>
<path d="M86.03 355.51L75.34 358.50" stroke="#1c1c1c" stroke-width="0.75" fill="none"/>
<path d="M86.03 355.51L75.34 358.50" stroke="#1c1c1c" stroke-width="0.75" fill="none"/>
<path d="M75.53 328.05L64.87 324.94" stroke="#1c1c1c" stroke-width="0.75" fill="none"/>
<path d="M64.87 324.94A66.50 66.50 0 0 1 65.21 323.82" stroke="#1c1c1c" stroke-width="0.75" fill="none"/>
<path d="M75.53 328.05L64.87 324.94" stroke="#1c1c1c" stroke-width="0.75" fill="none"/>
<path d="M64.87 324.94A66.50 66.50 0 0 0 64.12 327.74" stroke="#1c1c1c" stroke-width="0.75" fill="none"/>
<path d="M86.03 355.51L75.34 358.50" stroke="#1c1c1c" stroke-width="0.75" fill="none"/>
<path d="M74.70 331.23L63.88 328.75" stroke="#1c1c1c" stroke-width="0.75" fill="none"/>
<path d="M63.88 328.75A66.50 66.50 0 0 0 63.31 331.48" stroke="#1c1c1c" stroke-width="0.75" fill="none"/>
<path d="M86.03 355.51L75.34 358.50" stroke="#1c1c1c" stroke-width="0.75" fill="none"/>
<path d="M86.03 355.51L75.34 358.50" stroke="#1c1c1c" stroke-width="0.75" fill="none"/>
<path d="M78.41 366.84L68.33 371.49" stroke="#1c1c1c" stroke-width="0.75" fill="none"/>
<path d="M68.33 371.49A66.50 66.50 0 0 1 68.04 370.86" stroke="#1c1c1c" stroke-width="0.75" fill="none"/>
<path d="M86.03 355.51L75.34 358.50" stroke="#1c1c1c" stroke-width="0.75" fill="none"/>
<path d="M80.15 370.29L70.43 375.64" stroke="#1c1c1c" stroke-width="0.75" fill="none"/>
<path d="M70.43 375.64A66.50 66.50 0 0 1 70.31 375.43" stroke="#1c1c1c" stroke-width="0.75" fill="none"/>
<path d="M86.03 355.51L75.34 358.50" stroke="#1c1c1c" stroke-width="0.75" fill="none"/>
<path d="M86.03 355.51L75.34 358.50" stroke="#1c1c1c" stroke-width="0.75" fill="none"/>
<path d="M107.17 349.77L96.59 352.81" stroke="#1c1c1c" stroke-width="0.75" fill="none"/>
<path d="M112.15 314.59L106.75 305.12" stroke="#1c1c1c" stroke-width="0.75" fill="none"/>
<path d="M101.92 308.31L95.21 299.47" stroke="#1c1c1c" stroke-width="0.75" fill="none"/>
<path d="M87.21 306.89L78.89 299.54" stroke="#1c1c1c" stroke-width="0.75" fill="none"/>
<path d="M78.89 299.54A66.50 66.50 0 0 0 78.44 300.06" stroke="#1c1c1c" stroke-width="0.75" fill="none"/>
<path d="M87.21 306.89L78.89 299.54" stroke="#1c1c1c" stroke-width="0.75" fill="none"/>
<path d="M78.89 299.54A66.50 66.50 0 0 1 79.75 298.59" stroke="#1c1c1c" stroke-width="0.75" fill="none"/>
<path d="M101.92 308.31L95.21 299.47" stroke="#1c1c1c" stroke-width="0.75" fill="none"/>
<path d="M91.13 302.89L83.60 294.73" stroke="#1c1c1c" stroke-width="0.75" fill="none"/>
<path d="M83.60 294.73A66.50 66.50 0 0 1 83.77 294.57" stroke="#1c1c1c" stroke-width="0.75" fill="none"/>
<path d="M101.92 308.31L95.21 299.47" stroke="#1c1c1c" stroke-width="0.75" fill="none"/>
<path d="M95.90 298.95L89.33 290.01" stroke="#1c1c1c" stroke-width="0.75" fill="none"/>
<path d="M89.33 290.01A66.50 66.50 0 0 0 88.77 290.42" stroke="#1c1c1c" stroke-width="0.75" fill="none"/>
<path d="M95.90 298.95L89.33 290.01" stroke="#1c1c1c" stroke-width="0.75" fill="none"/>
<path d="M89.33 290.01A66.50 66.50 0 0 1 90.37 289.26" stroke="#1c1c1c" stroke-width="0.75" fill="none"/>
<path d="M101.92 308.31L95.21 299.47" stroke="#1c1c1c" stroke-width="0.75" fill="none"/>
<path d="M100.42 295.96L94.75 286.42" stroke="#1c1c1c" stroke-width="0.75" fill="none"/>
<path d="M94.75 286.42A66.50 66.50 0 0 1 95.35 286.07" stroke="#1c1c1c" stroke-width="0.75" fill="none"/>
<path d="M101.92 308.31L95.21 299.47" stroke="#1c1c1c" stroke-width="0.75" fill="none"/>
<path d="M104.50 293.76L99.65 283.78" stroke="#1c1c1c" stroke-width="0.75" fill="none"/>
<path d="M99.65 283.78A66.50 66.50 0 0 0 99.44 283.88" stroke="#1c1c1c" stroke-width="0.75" fill="none"/>
<path d="M101.92 308.31L95.21 299.47" stroke="#1c1c1c" stroke-width="0.75" fill="none"/>
<path d="M108.40 292.05L104.33 281.73" stroke="#1c1c1c" stroke-width="0.75" fill="none"/>
<path d="M104.33 281.73A66.50 66.50 0 0 0 103.90 281.90" stroke="#1c1c1c" stroke-width="0.75" fill="none"/>
<path d="M112.15 314.59L106.75 305.12" stroke="#1c1c1c" stroke-width="0.75" fill="none"/>
<path d="M118.66 300.45L116.14 289.64" stroke="#1c1c1c" stroke-width="0.75" fill="none"/>
<path d="M113.15 290.43L110.04 279.77" stroke="#1c1c1c" stroke-width="0.75" fill="none"/>
<path d="M110.04 279.77A66.50 66.50 0 0 1 110.82 279.55" stroke="#1c1c1c" stroke-width="0.75" fill="none"/>
<path d="M118.66 300.45L116.14 289.64" stroke="#1c1c1c" stroke-width="0.75" fill="none"/>
<path d="M117.66 289.31L115.44 278.44" stroke="#1c1c1c" stroke-width="0.75" fill="none"/>
<path d="M115.44 278.44A66.50 66.50 0 0 0 115.33 278.46" stroke="#1c1c1c" stroke-width="0.75" fill="none"/>
<path d="M118.66 300.45L116.14 289.64" stroke="#1c1c1c" stroke-width="0.75" fill="none"/>
<path d="M121.37 288.69L119.90 277.68" stroke="#1c1c1c" stroke-width="0.75" fill="none"/>
<path d="M119.90 277.68A66.50 66.50 0 0 0 119.22 277.78" stroke="#1c1c1c" stroke-width="0.75" fill="none"/>
<path d="M121.37 288.69L119.90 277.68" stroke="#1c1c1c" stroke-width="0.75" fill="none"/>
<path d="M119.90 277.68A66.50 66.50 0 0 1 121.52 277.49" stroke="#1c1c1c" stroke-width="0.75" fill="none"/>
<path d="M117.50 343.60L106.30 343.60" stroke="#1c1c1c" stroke-width="0.75" fill="none"/>
<path d="M129.68 321.22L130.16 310.23" stroke="#1c1c1c" stroke-width="0.75" fill="none"/>
<path d="M130.16 310.23A33.40 33.40 0 0 1 130.45 310.25" stroke="#1c1c1c" stroke-width="0.75" fill="none"/>
<path d="M130.45 310.25L131.02 299.36" stroke="#1c1c1c" stroke-width="0.75" fill="none"/>
<path d="M131.02 299.36A44.30 44.30 0 0 1 131.17 299.37" stroke="#1c1c1c" stroke-width="0.75" fill="none"/>
<path d="M131.17 299.37L131.79 288.29" stroke="#1c1c1c" stroke-width="0.75" fill="none"/>
<path d="M131.79 288.29A55.40 55.40 0 0 0 131.60 288.28" stroke="#1c1c1c" stroke-width="0.75" fill="none"/>
<path d="M131.60 288.28L132.18 277.19" stroke="#1c1c1c" stroke-width="0.75" fill="none"/>
<path d="M132.18 277.19A66.50 66.50 0 0 1 132.41 277.20" stroke="#1c1c1c" stroke-width="0.75" fill="none"/>
<path d="M117.50 343.60L106.30 343.60" stroke="#1c1c1c" stroke-width="0.75" fill="none"/>
<path d="M135.14 322.14L138.30 311.61" stroke="#1c1c1c" stroke-width="0.75" fill="none"/>
<path d="M138.30 311.61A33.40 33.40 0 0 1 138.63 311.71" stroke="#1c1c1c" stroke-width="0.75" fill="none"/>
<path d="M138.63 311.71L141.87 301.30" stroke="#1c1c1c" stroke-width="0.75" fill="none"/>
<path d="M141.87 301.30A44.30 44.30 0 0 1 142.39 301.47" stroke="#1c1c1c" stroke-width="0.75" fill="none"/>
<path d="M142.39 301.47L145.82 290.91" stroke="#1c1c1c" stroke-width="0.75" fill="none"/>
<path d="M145.82 290.91A55.40 55.40 0 0 0 139.37 289.24" stroke="#1c1c1c" stroke-width="0.75" fill="none"/>
<path d="M139.37 289.24L141.50 278.34" stroke="#1c1c1c" stroke-width="0.75" fill="none"/>
<path d="M141.50 278.34A66.50 66.50 0 0 1 141.62 278.37" stroke="#1c1c1c" stroke-width="0.75" fill="none"/>
<path d="M142.39 301.47L145.82 290.91" stroke="#1c1c1c" stroke-width="0.75" fill="none"/>
<path d="M145.82 290.91A55.40 55.40 0 0 0 143.60 290.24" stroke="#1c1c1c" stroke-width="0.75" fill="none"/>
<path d="M143.60 290.24L146.58 279.55" stroke="#1c1c1c" stroke-width="0.75" fill="none"/>
<path d="M146.58 279.55A66.50 66.50 0 0 0 146.47 279.52" stroke="#1c1c1c" stroke-width="0.75" fill="none"/>
<path d="M142.39 301.47L145.82 290.91" stroke="#1c1c1c" stroke-width="0.75" fill="none"/>
<path d="M145.82 290.91A55.40 55.40 0 0 1 147.74 291.57" stroke="#1c1c1c" stroke-width="0.75" fill="none"/>
<path d="M147.74 291.57L151.55 281.15" stroke="#1c1c1c" stroke-width="0.75" fill="none"/>
<path d="M151.55 281.15A66.50 66.50 0 0 0 151.12 280.99" stroke="#1c1c1c" stroke-width="0.75" fill="none"/>
<path d="M142.39 301.47L145.82 290.91" stroke="#1c1c1c" stroke-width="0.75" fill="none"/>
<path d="M145.82 290.91A55.40 55.40 0 0 1 152.11 293.39" stroke="#1c1c1c" stroke-width="0.75" fill="none"/>
<path d="M152.11 293.39L156.80 283.33" stroke="#1c1c1c" stroke-width="0.75" fill="none"/>
<path d="M156.80 283.33A66.50 66.50 0 0 0 156.07 282.99" stroke="#1c1c1c" stroke-width="0.75" fill="none"/>
<path d="M142.39 301.47L145.82 290.91" stroke="#1c1c1c" stroke-width="0.75" fill="none"/>
<path d="M145.82 290.91A55.40 55.40 0 0 1 155.30 295.01" stroke="#1c1c1c" stroke-width="0.75" fill="none"/>
<path d="M155.30 295.01L160.63 285.27" stroke="#1c1c1c" stroke-width="0.75" fill="none"/>
<path d="M160.63 285.27A66.50 66.50 0 0 0 160.33 285.10" stroke="#1c1c1c" stroke-width="0.75" fill="none"/>
<path d="M117.50 343.60L106.30 343.60" stroke="#1c1c1c" stroke-width="0.75" fill="none"/>
<path d="M148.02 332.26L157.51 326.70" stroke="#1c1c1c" stroke-width="0.75" fill="none"/>
<path d="M149.40 317.39L156.16 308.83" stroke="#1c1c1c" stroke-width="0.75" fill="none"/>
<path d="M156.16 308.83A44.30 44.30 0 0 0 155.30 308.17" stroke="#1c1c1c" stroke-width="0.75" fill="none"/>
<path d="M155.30 308.17L161.96 299.30" stroke="#1c1c1c" stroke-width="0.75" fill="none"/>
<path d="M161.96 299.30A55.40 55.40 0 0 1 162.04 299.36" stroke="#1c1c1c" stroke-width="0.75" fill="none"/>
<path d="M162.04 299.36L168.72 290.49" stroke="#1c1c1c" stroke-width="0.75" fill="none"/>
<path d="M168.72 290.49A66.50 66.50 0 0 0 168.63 290.42" stroke="#1c1c1c" stroke-width="0.75" fill="none"/>
<path d="M149.40 317.39L156.16 308.83" stroke="#1c1c1c" stroke-width="0.75" fill="none"/>
<path d="M156.16 308.83A44.30 44.30 0 0 1 158.63 310.94" stroke="#1c1c1c" stroke-width="0.75" fill="none"/>
<path d="M158.63 310.94L166.13 302.75" stroke="#1c1c1c" stroke-width="0.75" fill="none"/>
<path d="M166.13 302.75L173.63 294.57" stroke="#1c1c1c" stroke-width="0.75" fill="none"/>
<path d="M173.63 294.57A66.50 66.50 0 0 0 173.54 294.49" stroke="#1c1c1c" stroke-width="0.75" fill="none"/>
<path d="M158.63 310.94L166.13 302.75" stroke="#1c1c1c" stroke-width="0.75" fill="none"/>
<path d="M166.13 302.75A55.40 55.40 0 0 1 169.08 305.68" stroke="#1c1c1c" stroke-width="0.75" fill="none"/>
<path d="M169.08 305.68L177.18 298.08" stroke="#1c1c1c" stroke-width="0.75" fill="none"/>
<path d="M177.18 298.08A66.50 66.50 0 0 0 176.94 297.82" stroke="#1c1c1c" stroke-width="0.75" fill="none"/>
<path d="M148.02 332.26L157.51 326.70" stroke="#1c1c1c" stroke-width="0.75" fill="none"/>
<path d="M159.84 331.52L170.00 327.58" stroke="#1c1c1c" stroke-width="0.75" fill="none"/>
<path d="M164.13 317.00L173.00 310.34" stroke="#1c1c1c" stroke-width="0.75" fill="none"/>
<path d="M173.00 310.34A55.40 55.40 0 0 1 173.69 311.27" stroke="#1c1c1c" stroke-width="0.75" fill="none"/>
<path d="M159.84 331.52L170.00 327.58" stroke="#1c1c1c" stroke-width="0.75" fill="none"/>
<path d="M170.00 327.58A44.30 44.30 0 0 0 167.99 323.14" stroke="#1c1c1c" stroke-width="0.75" fill="none"/>
<path d="M167.99 323.14L177.84 318.02" stroke="#1c1c1c" stroke-width="0.75" fill="none"/>
<path d="M177.84 318.02L187.69 312.89" stroke="#1c1c1c" stroke-width="0.75" fill="none"/>
<path d="M187.69 312.89A66.50 66.50 0 0 0 187.63 312.79" stroke="#1c1c1c" stroke-width="0.75" fill="none"/>
<path d="M159.84 331.52L170.00 327.58" stroke="#1c1c1c" stroke-width="0.75" fill="none"/>
<path d="M170.00 327.58A44.30 44.30 0 0 0 169.95 327.44" stroke="#1c1c1c" stroke-width="0.75" fill="none"/>
<path d="M169.95 327.44L180.28 323.39" stroke="#1c1c1c" stroke-width="0.75" fill="none"/>
<path d="M180.28 323.39A55.40 55.40 0 0 0 180.21 323.21" stroke="#1c1c1c" stroke-width="0.75" fill="none"/>
<path d="M180.21 323.21L190.53 319.12" stroke="#1c1c1c" stroke-width="0.75" fill="none"/>
<path d="M190.53 319.12A66.50 66.50 0 0 0 190.44 318.90" stroke="#1c1c1c" stroke-width="0.75" fill="none"/>
<path d="M159.84 331.52L170.00 327.58" stroke="#1c1c1c" stroke-width="0.75" fill="none"/>
<path d="M171.31 331.46L181.98 328.42" stroke="#1c1c1c" stroke-width="0.75" fill="none"/>
<path d="M181.98 328.42A55.40 55.40 0 0 1 182.26 329.45" stroke="#1c1c1c" stroke-width="0.75" fill="none"/>
<path d="M159.84 331.52L170.00 327.58" stroke="#1c1c1c" stroke-width="0.75" fill="none"/>
<path d="M172.84 339.89L183.91 338.96" stroke="#1c1c1c" stroke-width="0.75" fill="none"/>
<path d="M183.91 338.96A55.40 55.40 0 0 1 183.96 339.64" stroke="#1c1c1c" stroke-width="0.75" fill="none"/>
<path d="M122.53 387.47A44.30 44.30 0 0 1 122.15 387.41" stroke="#1c1c1c" stroke-width="1.0" fill="none"/>
<path d="M95.21 299.47A55.40 55.40 0 0 0 87.21 306.89" stroke="#1c1c1c" stroke-width="1.0" fill="none"/>
<path d="M95.21 299.47A55.40 55.40 0 0 0 91.13 302.89" stroke="#1c1c1c" stroke-width="1.0" fill="none"/>
<path d="M95.21 299.47A55.40 55.40 0 0 1 95.90 298.95" stroke="#1c1c1c" stroke-width="1.0" fill="none"/>
<path d="M95.21 299.47A55.40 55.40 0 0 1 100.42 295.96" stroke="#1c1c1c" stroke-width="1.0" fill="none"/>
<path d="M95.21 299.47A55.40 55.40 0 0 1 104.50 293.76" stroke="#1c1c1c" stroke-width="1.0" fill="none"/>
<path d="M95.21 299.47A55.40 55.40 0 0 1 108.40 292.05" stroke="#1c1c1c" stroke-width="1.0" fill="none"/>
<path d="M116.14 289.64A55.40 55.40 0 0 0 113.15 290.43" stroke="#1c1c1c" stroke-width="1.0" fill="none"/>
<path d="M116.14 289.64A55.40 55.40 0 0 1 117.66 289.31" stroke="#1c1c1c" stroke-width="1.0" fill="none"/>
<path d="M116.14 289.64A55.40 55.40 0 0 1 121.37 288.69" stroke="#1c1c1c" stroke-width="1.0" fill="none"/>
<path d="M75.34 358.50A55.40 55.40 0 0 1 81.87 314.00" stroke="#1c1c1c" stroke-width="1.2" fill="none"/>
<path d="M75.34 358.50A55.40 55.40 0 0 1 77.97 321.33" stroke="#1c1c1c" stroke-width="1.2" fill="none"/>
<path d="M75.34 358.50A55.40 55.40 0 0 1 75.53 328.05" stroke="#1c1c1c" stroke-width="1.2" fill="none"/>
<path d="M75.34 358.50A55.40 55.40 0 0 1 74.70 331.23" stroke="#1c1c1c" stroke-width="1.2" fill="none"/>
<path d="M170.00 327.58A44.30 44.30 0 0 1 171.31 331.46" stroke="#1c1c1c" stroke-width="1.5" fill="none"/>
<path d="M157.86 359.89A33.40 33.40 0 0 0 160.67 353.25" stroke="#1c1c1c" stroke-width="1.8" fill="none"/>
<path d="M157.86 359.89A33.40 33.40 0 0 1 157.39 360.70" stroke="#1c1c1c" stroke-width="1.8" fill="none"/>
<path d="M106.75 305.12A44.30 44.30 0 0 0 101.92 308.31" stroke="#1c1c1c" stroke-width="1.8" fill="none"/>
<path d="M106.75 305.12A44.30 44.30 0 0 1 118.66 300.45" stroke="#1c1c1c" stroke-width="1.8" fill="none"/>
<path d="M157.51 326.70A33.40 33.40 0 0 0 149.40 317.39" stroke="#1c1c1c" stroke-width="1.8" fill="none"/>
<path d="M157.51 326.70A33.40 33.40 0 0 1 159.84 331.52" stroke="#1c1c1c" stroke-width="1.8" fill="none"/>
<path d="M170.00 327.58A44.30 44.30 0 0 0 164.13 317.00" stroke="#1c1c1c" stroke-width="1.8" fill="none"/>
<path d="M170.00 327.58A44.30 44.30 0 0 1 172.84 339.89" stroke="#1c1c1c" stroke-width="1.8" fill="none"/>
<path d="M106.30 343.60A22.40 22.40 0 0 0 150.90 346.60" stroke="#1c1c1c" stroke-width="2.2" fill="none"/>
<path d="M106.30 343.60A22.40 22.40 0 0 0 148.25 354.53" stroke="#1c1c1c" stroke-width="2.2" fill="none"/>
<path d="M106.30 343.60A22.40 22.40 0 0 0 141.45 362.02" stroke="#1c1c1c" stroke-width="2.2" fill="none"/>
<path d="M106.30 343.60A22.40 22.40 0 0 0 107.17 349.77" stroke="#1c1c1c" stroke-width="2.2" fill="none"/>
<path d="M96.59 352.81A33.40 33.40 0 0 0 141.80 374.32" stroke="#1c1c1c" stroke-width="2.2" fill="none"/>
<path d="M96.59 352.81A33.40 33.40 0 0 0 134.84 376.43" stroke="#1c1c1c" stroke-width="2.2" fill="none"/>
<path d="M96.59 352.81A33.40 33.40 0 0 0 124.05 376.67" stroke="#1c1c1c" stroke-width="2.2" fill="none"/>
<path d="M86.12 355.81A44.30 44.30 0 0 1 86.03 355.51" stroke="#1c1c1c" stroke-width="2.2" fill="none"/>
<path d="M75.34 358.50A55.40 55.40 0 0 1 73.72 350.45" stroke="#1c1c1c" stroke-width="2.2" fill="none"/>
<path d="M75.34 358.50A55.40 55.40 0 0 0 78.41 366.84" stroke="#1c1c1c" stroke-width="2.2" fill="none"/>
<path d="M75.34 358.50A55.40 55.40 0 0 0 80.15 370.29" stroke="#1c1c1c" stroke-width="2.2" fill="none"/>
<path d="M75.34 358.50A55.40 55.40 0 0 0 84.63 377.17" stroke="#1c1c1c" stroke-width="2.2" fill="none"/>
<path d="M75.34 358.50A55.40 55.40 0 0 0 96.77 388.87" stroke="#1c1c1c" stroke-width="2.2" fill="none"/>
<path d="M96.59 352.81A33.40 33.40 0 0 1 112.15 314.59" stroke="#1c1c1c" stroke-width="2.2" fill="none"/>
<path d="M106.30 343.60A22.40 22.40 0 0 1 129.68 321.22" stroke="#1c1c1c" stroke-width="2.2" fill="none"/>
<path d="M106.30 343.60A22.40 22.40 0 0 1 135.14 322.14" stroke="#1c1c1c" stroke-width="2.2" fill="none"/>
<path d="M106.30 343.60A22.40 22.40 0 0 1 148.02 332.26" stroke="#1c1c1c" stroke-width="2.2" fill="none"/>
<circle cx="194.47" cy="353.43" r="1.95" fill="#d9d9d9" stroke="#6a6a6a" stroke-width="0.45"/>
<circle cx="183.57" cy="351.21" r="1.95" fill="#d9d9d9" stroke="#6a6a6a" stroke-width="0.45"/>
<circle cx="161.81" cy="347.96" r="1.95" fill="#d9d9d9" stroke="#6a6a6a" stroke-width="0.45"/>
<circle cx="150.90" cy="346.60" r="1.95" fill="#d9d9d9" stroke="#6a6a6a" stroke-width="0.45"/>
<circle cx="192.69" cy="361.71" r="1.95" fill="#d9d9d9" stroke="#6a6a6a" stroke-width="0.45"/>
<circle cx="182.03" cy="358.59" r="1.95" fill="#d9d9d9" stroke="#6a6a6a" stroke-width="0.45"/>
<circle cx="191.03" cy="366.78" r="1.95" fill="#d9d9d9" stroke="#6a6a6a" stroke-width="0.45"/>
<circle cx="190.09" cy="369.16" r="2.3" fill="#cc1030" stroke="#7a0a1a" stroke-width="0.45"/>
<circle cx="180.52" cy="363.18" r="1.95" fill="#d9d9d9" stroke="#6a6a6a" stroke-width="0.45"/>
<circle cx="170.97" cy="356.85" r="1.95" fill="#d9d9d9" stroke="#6a6a6a" stroke-width="0.45"/>
<circle cx="160.67" cy="353.25" r="1.95" fill="#d9d9d9" stroke="#6a6a6a" stroke-width="0.45"/>
<circle cx="186.23" cy="376.95" r="1.95" fill="#d9d9d9" stroke="#6a6a6a" stroke-width="0.45"/>
<circle cx="176.53" cy="371.55" r="1.95" fill="#d9d9d9" stroke="#6a6a6a" stroke-width="0.45"/>
<circle cx="167.03" cy="365.82" r="1.95" fill="#d9d9d9" stroke="#6a6a6a" stroke-width="0.45"/>
<circle cx="157.39" cy="360.70" r="1.95" fill="#d9d9d9" stroke="#6a6a6a" stroke-width="0.45"/>
<circle cx="181.67" cy="383.81" r="1.95" fill="#d9d9d9" stroke="#6a6a6a" stroke-width="0.45"/>
<circle cx="172.94" cy="376.94" r="1.95" fill="#d9d9d9" stroke="#6a6a6a" stroke-width="0.45"/>
<circle cx="178.66" cy="387.49" r="1.95" fill="#d9d9d9" stroke="#6a6a6a" stroke-width="0.45"/>
<circle cx="170.38" cy="380.09" r="1.95" fill="#d9d9d9" stroke="#6a6a6a" stroke-width="0.45"/>
<circle cx="163.89" cy="370.51" r="1.95" fill="#d9d9d9" stroke="#6a6a6a" stroke-width="0.45"/>
<circle cx="155.62" cy="363.37" r="1.95" fill="#d9d9d9" stroke="#6a6a6a" stroke-width="0.45"/>
<circle cx="148.25" cy="354.53" r="1.95" fill="#d9d9d9" stroke="#6a6a6a" stroke-width="0.45"/>
<circle cx="172.85" cy="393.33" r="1.95" fill="#d9d9d9" stroke="#6a6a6a" stroke-width="0.45"/>
<circle cx="165.55" cy="384.96" r="1.95" fill="#d9d9d9" stroke="#6a6a6a" stroke-width="0.45"/>
<circle cx="158.05" cy="376.78" r="1.95" fill="#d9d9d9" stroke="#6a6a6a" stroke-width="0.45"/>
<circle cx="150.79" cy="368.65" r="1.95" fill="#d9d9d9" stroke="#6a6a6a" stroke-width="0.45"/>
<circle cx="165.69" cy="398.86" r="1.95" fill="#d9d9d9" stroke="#6a6a6a" stroke-width="0.45"/>
<circle cx="159.36" cy="389.74" r="1.95" fill="#d9d9d9" stroke="#6a6a6a" stroke-width="0.45"/>
<circle cx="161.45" cy="401.48" r="1.95" fill="#d9d9d9" stroke="#6a6a6a" stroke-width="0.45"/>
<circle cx="156.15" cy="391.72" r="1.95" fill="#d9d9d9" stroke="#6a6a6a" stroke-width="0.45"/>
<circle cx="152.96" cy="380.67" r="1.95" fill="#d9d9d9" stroke="#6a6a6a" stroke-width="0.45"/>
<circle cx="147.23" cy="371.39" r="1.95" fill="#d9d9d9" stroke="#6a6a6a" stroke-width="0.45"/>
<circle cx="141.45" cy="362.02" r="1.95" fill="#d9d9d9" stroke="#6a6a6a" stroke-width="0.45"/>
<circle cx="149.00" cy="395.15" r="1.95" fill="#d9d9d9" stroke="#6a6a6a" stroke-width="0.45"/>
<circle cx="145.72" cy="384.50" r="1.95" fill="#d9d9d9" stroke="#6a6a6a" stroke-width="0.45"/>
<circle cx="141.80" cy="374.32" r="1.95" fill="#d9d9d9" stroke="#6a6a6a" stroke-width="0.45"/>
<circle cx="133.69" cy="409.91" r="1.95" fill="#d9d9d9" stroke="#6a6a6a" stroke-width="0.45"/>
<circle cx="133.05" cy="398.83" r="1.95" fill="#d9d9d9" stroke="#6a6a6a" stroke-width="0.45"/>
<circle cx="132.56" cy="387.73" r="1.95" fill="#d9d9d9" stroke="#6a6a6a" stroke-width="0.45"/>
<circle cx="140.60" cy="397.71" r="1.95" fill="#d9d9d9" stroke="#6a6a6a" stroke-width="0.45"/>
<circle cx="139.27" cy="386.62" r="1.95" fill="#d9d9d9" stroke="#6a6a6a" stroke-width="0.45"/>
<circle cx="134.84" cy="376.43" r="1.95" fill="#d9d9d9" stroke="#6a6a6a" stroke-width="0.45"/>
<circle cx="119.56" cy="398.24" r="2.3" fill="#1f1f70" stroke="#10104a" stroke-width="0.45"/>
<circle cx="122.15" cy="387.41" r="2.3" fill="#1f1f70" stroke="#10104a" stroke-width="0.45"/>
<circle cx="124.05" cy="376.67" r="2.3" fill="#1f1f70" stroke="#10104a" stroke-width="0.45"/>
<circle cx="81.87" cy="314.00" r="1.95" fill="#d9d9d9" stroke="#6a6a6a" stroke-width="0.45"/>
<circle cx="77.97" cy="321.33" r="1.95" fill="#d9d9d9" stroke="#6a6a6a" stroke-width="0.45"/>
<circle cx="65.21" cy="323.82" r="1.95" fill="#d9d9d9" stroke="#6a6a6a" stroke-width="0.45"/>
<circle cx="64.12" cy="327.74" r="1.95" fill="#d9d9d9" stroke="#6a6a6a" stroke-width="0.45"/>
<circle cx="75.53" cy="328.05" r="1.95" fill="#d9d9d9" stroke="#6a6a6a" stroke-width="0.45"/>
<circle cx="63.31" cy="331.48" r="1.95" fill="#d9d9d9" stroke="#6a6a6a" stroke-width="0.45"/>
<circle cx="74.70" cy="331.23" r="1.95" fill="#d9d9d9" stroke="#6a6a6a" stroke-width="0.45"/>
<circle cx="73.72" cy="350.45" r="1.95" fill="#d9d9d9" stroke="#6a6a6a" stroke-width="0.45"/>
<circle cx="68.04" cy="370.86" r="2.3" fill="#1f1f70" stroke="#10104a" stroke-width="0.45"/>
<circle cx="78.41" cy="366.84" r="2.3" fill="#1f1f70" stroke="#10104a" stroke-width="0.45"/>
<circle cx="70.31" cy="375.43" r="1.95" fill="#d9d9d9" stroke="#6a6a6a" stroke-width="0.45"/>
<circle cx="80.15" cy="370.29" r="1.95" fill="#d9d9d9" stroke="#6a6a6a" stroke-width="0.45"/>
<circle cx="84.63" cy="377.17" r="1.95" fill="#d9d9d9" stroke="#6a6a6a" stroke-width="0.45"/>
<circle cx="96.77" cy="388.87" r="1.95" fill="#d9d9d9" stroke="#6a6a6a" stroke-width="0.45"/>
<circle cx="86.03" cy="355.51" r="1.95" fill="#d9d9d9" stroke="#6a6a6a" stroke-width="0.45"/>
<circle cx="96.59" cy="352.81" r="1.95" fill="#d9d9d9" stroke="#6a6a6a" stroke-width="0.45"/>
<circle cx="78.44" cy="300.06" r="1.95" fill="#d9d9d9" stroke="#6a6a6a" stroke-width="0.45"/>
<circle cx="79.75" cy="298.59" r="2.3" fill="#cc1030" stroke="#7a0a1a" stroke-width="0.45"/>
<circle cx="87.21" cy="306.89" r="1.95" fill="#d9d9d9" stroke="#6a6a6a" stroke-width="0.45"/>
<circle cx="83.77" cy="294.57" r="1.95" fill="#d9d9d9" stroke="#6a6a6a" stroke-width="0.45"/>
<circle cx="91.13" cy="302.89" r="1.95" fill="#d9d9d9" stroke="#6a6a6a" stroke-width="0.45"/>
<circle cx="88.77" cy="290.42" r="1.95" fill="#d9d9d9" stroke="#6a6a6a" stroke-width="0.45"/>
<circle cx="90.37" cy="289.26" r="1.95" fill="#d9d9d9" stroke="#6a6a6a" stroke-width="0.45"/>
<circle cx="95.90" cy="298.95" r="1.95" fill="#d9d9d9" stroke="#6a6a6a" stroke-width="0.45"/>
<circle cx="95.35" cy="286.07" r="1.95" fill="#d9d9d9" stroke="#6a6a6a" stroke-width="0.45"/>
<circle cx="100.42" cy="295.96" r="1.95" fill="#d9d9d9" stroke="#6a6a6a" stroke-width="0.45"/>
<circle cx="99.44" cy="283.88" r="1.95" fill="#d9d9d9" stroke="#6a6a6a" stroke-width="0.45"/>
<circle cx="104.50" cy="293.76" r="1.95" fill="#d9d9d9" stroke="#6a6a6a" stroke-width="0.45"/>
<circle cx="103.90" cy="281.90" r="1.95" fill="#d9d9d9" stroke="#6a6a6a" stroke-width="0.45"/>
<circle cx="108.40" cy="292.05" r="1.95" fill="#d9d9d9" stroke="#6a6a6a" stroke-width="0.45"/>
<circle cx="101.92" cy="308.31" r="1.95" fill="#d9d9d9" stroke="#6a6a6a" stroke-width="0.45"/>
<circle cx="110.82" cy="279.55" r="1.95" fill="#d9d9d9" stroke="#6a6a6a" stroke-width="0.45"/>
<circle cx="113.15" cy="290.43" r="1.95" fill="#d9d9d9" stroke="#6a6a6a" stroke-width="0.45"/>
<circle cx="115.33" cy="278.46" r="1.95" fill="#d9d9d9" stroke="#6a6a6a" stroke-width="0.45"/>
<circle cx="117.66" cy="289.31" r="1.95" fill="#d9d9d9" stroke="#6a6a6a" stroke-width="0.45"/>
<circle cx="119.22" cy="277.78" r="1.95" fill="#d9d9d9" stroke="#6a6a6a" stroke-width="0.45"/>
<circle cx="121.52" cy="277.49" r="1.95" fill="#d9d9d9" stroke="#6a6a6a" stroke-width="0.45"/>
<circle cx="121.37" cy="288.69" r="1.95" fill="#d9d9d9" stroke="#6a6a6a" stroke-width="0.45"/>
<circle cx="118.66" cy="300.45" r="2.3" fill="#cc1030" stroke="#7a0a1a" stroke-width="0.45"/>
<circle cx="112.15" cy="314.59" r="2.3" fill="#cc1030" stroke="#7a0a1a" stroke-width="0.45"/>
<circle cx="107.17" cy="349.77" r="1.95" fill="#d9d9d9" stroke="#6a6a6a" stroke-width="0.45"/>
<circle cx="132.41" cy="277.20" r="1.95" fill="#d9d9d9" stroke="#6a6a6a" stroke-width="0.45"/>
<circle cx="131.60" cy="288.28" r="1.95" fill="#d9d9d9" stroke="#6a6a6a" stroke-width="0.45"/>
<circle cx="131.17" cy="299.37" r="1.95" fill="#d9d9d9" stroke="#6a6a6a" stroke-width="0.45"/>
<circle cx="130.45" cy="310.25" r="1.95" fill="#d9d9d9" stroke="#6a6a6a" stroke-width="0.45"/>
<circle cx="129.68" cy="321.22" r="1.95" fill="#d9d9d9" stroke="#6a6a6a" stroke-width="0.45"/>
<circle cx="141.62" cy="278.37" r="1.95" fill="#d9d9d9" stroke="#6a6a6a" stroke-width="0.45"/>
<circle cx="139.37" cy="289.24" r="1.95" fill="#d9d9d9" stroke="#6a6a6a" stroke-width="0.45"/>
<circle cx="146.47" cy="279.52" r="1.95" fill="#d9d9d9" stroke="#6a6a6a" stroke-width="0.45"/>
<circle cx="143.60" cy="290.24" r="1.95" fill="#d9d9d9" stroke="#6a6a6a" stroke-width="0.45"/>
<circle cx="151.12" cy="280.99" r="1.95" fill="#d9d9d9" stroke="#6a6a6a" stroke-width="0.45"/>
<circle cx="147.74" cy="291.57" r="1.95" fill="#d9d9d9" stroke="#6a6a6a" stroke-width="0.45"/>
<circle cx="156.07" cy="282.99" r="1.95" fill="#d9d9d9" stroke="#6a6a6a" stroke-width="0.45"/>
<circle cx="152.11" cy="293.39" r="1.95" fill="#d9d9d9" stroke="#6a6a6a" stroke-width="0.45"/>
<circle cx="160.33" cy="285.10" r="1.95" fill="#d9d9d9" stroke="#6a6a6a" stroke-width="0.45"/>
<circle cx="155.30" cy="295.01" r="1.95" fill="#d9d9d9" stroke="#6a6a6a" stroke-width="0.45"/>
<circle cx="142.39" cy="301.47" r="1.95" fill="#d9d9d9" stroke="#6a6a6a" stroke-width="0.45"/>
<circle cx="138.63" cy="311.71" r="1.95" fill="#d9d9d9" stroke="#6a6a6a" stroke-width="0.45"/>
<circle cx="135.14" cy="322.14" r="1.95" fill="#d9d9d9" stroke="#6a6a6a" stroke-width="0.45"/>
<circle cx="168.63" cy="290.42" r="2.0" fill="#8c6d52" stroke="#5a4432" stroke-width="0.45"/>
<circle cx="162.04" cy="299.36" r="2.0" fill="#8c6d52" stroke="#5a4432" stroke-width="0.45"/>
<circle cx="155.30" cy="308.17" r="2.0" fill="#8c6d52" stroke="#5a4432" stroke-width="0.45"/>
<circle cx="173.54" cy="294.49" r="1.95" fill="#d9d9d9" stroke="#6a6a6a" stroke-width="0.45"/>
<circle cx="166.13" cy="302.75" r="1.95" fill="#d9d9d9" stroke="#6a6a6a" stroke-width="0.45"/>
<circle cx="176.94" cy="297.82" r="1.95" fill="#d9d9d9" stroke="#6a6a6a" stroke-width="0.45"/>
<circle cx="169.08" cy="305.68" r="1.95" fill="#d9d9d9" stroke="#6a6a6a" stroke-width="0.45"/>
<circle cx="158.63" cy="310.94" r="1.95" fill="#d9d9d9" stroke="#6a6a6a" stroke-width="0.45"/>
<circle cx="149.40" cy="317.39" r="1.95" fill="#d9d9d9" stroke="#6a6a6a" stroke-width="0.45"/>
<circle cx="173.69" cy="311.27" r="1.95" fill="#d9d9d9" stroke="#6a6a6a" stroke-width="0.45"/>
<circle cx="164.13" cy="317.00" r="1.95" fill="#d9d9d9" stroke="#6a6a6a" stroke-width="0.45"/>
<circle cx="187.63" cy="312.79" r="1.95" fill="#d9d9d9" stroke="#6a6a6a" stroke-width="0.45"/>
<circle cx="177.84" cy="318.02" r="1.95" fill="#d9d9d9" stroke="#6a6a6a" stroke-width="0.45"/>
<circle cx="167.99" cy="323.14" r="1.95" fill="#d9d9d9" stroke="#6a6a6a" stroke-width="0.45"/>
<circle cx="190.44" cy="318.90" r="1.95" fill="#d9d9d9" stroke="#6a6a6a" stroke-width="0.45"/>
<circle cx="180.21" cy="323.21" r="1.95" fill="#d9d9d9" stroke="#6a6a6a" stroke-width="0.45"/>
<circle cx="169.95" cy="327.44" r="1.95" fill="#d9d9d9" stroke="#6a6a6a" stroke-width="0.45"/>
<circle cx="182.26" cy="329.45" r="1.95" fill="#d9d9d9" stroke="#6a6a6a" stroke-width="0.45"/>
<circle cx="171.31" cy="331.46" r="1.95" fill="#d9d9d9" stroke="#6a6a6a" stroke-width="0.45"/>
<circle cx="183.96" cy="339.64" r="1.95" fill="#d9d9d9" stroke="#6a6a6a" stroke-width="0.45"/>
<circle cx="172.84" cy="339.89" r="1.95" fill="#d9d9d9" stroke="#6a6a6a" stroke-width="0.45"/>
<circle cx="159.84" cy="331.52" r="1.95" fill="#d9d9d9" stroke="#6a6a6a" stroke-width="0.45"/>
<circle cx="148.02" cy="332.26" r="1.95" fill="#d9d9d9" stroke="#6a6a6a" stroke-width="0.45"/>
<circle cx="117.50" cy="343.60" r="2.0" fill="#d9d9d9" stroke="#6a6a6a" stroke-width="0.45"/>
<circle cx="128.7" cy="343.6" r="0.5" fill="#bbb"/>
<path d="M285.71 327.59L291.90 328.54L291.77 328.93L291.63 329.31L291.49 329.69L291.35 330.07L291.20 330.45L291.04 330.82L290.89 331.20L290.72 331.57z" fill="#8e8e8e"/>
<path d="M269.95 343.57L273.03 348.96L272.82 349.04L272.62 349.13L272.41 349.21L272.21 349.29L272.00 349.38L271.79 349.45L271.59 349.53L271.38 349.61z" fill="#8e8e8e"/>
<path d="M265.75 344.85L267.70 350.71L267.49 350.77L267.27 350.82L267.05 350.86L266.84 350.91L266.62 350.96L266.40 351.00L266.19 351.04L265.97 351.08z" fill="#8e8e8e"/>
<path d="M255.23 345.12L260.69 351.64L259.14 351.64L257.59 351.58L256.04 351.44L254.50 351.23L252.98 350.96L251.47 350.61L249.97 350.19L248.50 349.71z" fill="#8e8e8e"/>
<path d="M236.39 303.00L230.05 301.65L230.34 301.13L230.63 300.62L230.94 300.11L231.25 299.61L231.57 299.12L231.90 298.63L232.24 298.14L232.59 297.67z" fill="#8e8e8e"/>
<path d="M234.44 306.67L227.89 306.50L228.11 305.91L228.33 305.33L228.57 304.74L228.82 304.17L229.07 303.59L229.34 303.03L229.62 302.47L229.91 301.91z" fill="#8e8e8e"/>
<path d="M232.31 321.22L228.69 331.13L227.82 328.90L227.12 326.62L226.58 324.29L226.20 321.93L225.99 319.54L225.96 317.15L226.09 314.76L226.39 312.39z" fill="#8e8e8e"/>
<path d="M237.77 334.59L234.84 340.67L234.30 340.06L233.77 339.45L233.26 338.81L232.77 338.17L232.29 337.52L231.82 336.85L231.37 336.17L230.94 335.49z" fill="#8e8e8e"/>
<path d="M243.83 340.43L245.49 348.48L244.10 347.79L242.75 347.04L241.43 346.23L240.14 345.36L238.90 344.43L237.70 343.44L236.55 342.40L235.45 341.31z" fill="#8e8e8e"/>
<path d="M282.29 301.64L285.15 295.37L285.56 295.84L285.97 296.33L286.36 296.81L286.74 297.31L287.12 297.81L287.49 298.32L287.84 298.84L288.19 299.36z" fill="#8e8e8e"/>
<path d="M286.58 310.72L291.71 306.50L291.92 307.13L292.13 307.76L292.32 308.40L292.50 309.04L292.66 309.68L292.82 310.33L292.96 310.98L293.08 311.63z" fill="#8e8e8e"/>
<path d="M287.43 315.82L293.23 312.50L293.35 313.27L293.44 314.04L293.52 314.81L293.58 315.59L293.62 316.36L293.64 317.14L293.65 317.91L293.64 318.69z" fill="#8e8e8e"/>
<path d="M254.20 317.80L248.60 317.80" stroke="#3d8b47" stroke-width="0.46" fill="none"/>
<path d="M270.90 319.30L276.35 320.04" stroke="#7d6556" stroke-width="0.46" fill="none"/>
<path d="M276.35 320.04A16.70 16.70 0 0 0 276.36 319.98" stroke="#7d6556" stroke-width="0.46" fill="none"/>
<path d="M276.36 319.98L287.26 321.42" stroke="#dfc095" stroke-width="0.46" fill="none"/>
<path d="M287.26 321.42A27.70 27.70 0 0 1 287.24 321.61" stroke="#dfc095" stroke-width="0.46" fill="none"/>
<path d="M287.24 321.61L292.73 322.37" stroke="#acacac" stroke-width="0.46" fill="none"/>
<path d="M292.73 322.37A33.25 33.25 0 0 1 292.68 322.71" stroke="#acacac" stroke-width="0.46" fill="none"/>
<path d="M254.20 317.80L248.60 317.80" stroke="#3d8b47" stroke-width="0.46" fill="none"/>
<path d="M269.58 323.26L274.38 325.95" stroke="#7d6556" stroke-width="0.46" fill="none"/>
<path d="M275.79 322.63L281.00 324.20" stroke="#74c46a" stroke-width="0.46" fill="none"/>
<path d="M281.00 324.20A22.15 22.15 0 0 1 280.94 324.42" stroke="#74c46a" stroke-width="0.46" fill="none"/>
<path d="M280.94 324.42L286.23 326.08" stroke="#dfc095" stroke-width="0.46" fill="none"/>
<path d="M286.23 326.08A27.70 27.70 0 0 0 286.47 325.30" stroke="#dfc095" stroke-width="0.46" fill="none"/>
<path d="M286.47 325.30L291.81 326.80" stroke="#acacac" stroke-width="0.46" fill="none"/>
<path d="M291.81 326.80A33.25 33.25 0 0 1 291.79 326.85" stroke="#acacac" stroke-width="0.46" fill="none"/>
<path d="M280.94 324.42L286.23 326.08" stroke="#dfc095" stroke-width="0.46" fill="none"/>
<path d="M286.23 326.08A27.70 27.70 0 0 1 285.71 327.59" stroke="#dfc095" stroke-width="0.46" fill="none"/>
<path d="M285.71 327.59L290.90 329.55" stroke="#acacac" stroke-width="0.46" fill="none"/>
<path d="M290.90 329.55A33.25 33.25 0 0 0 290.96 329.39" stroke="#acacac" stroke-width="0.46" fill="none"/>
<path d="M285.71 327.59L290.90 329.55" stroke="#acacac" stroke-width="0.46" fill="none"/>
<path d="M290.90 329.55A33.25 33.25 0 0 1 290.50 330.58" stroke="#acacac" stroke-width="0.46" fill="none"/>
<path d="M269.58 323.26L274.38 325.95" stroke="#7d6556" stroke-width="0.46" fill="none"/>
<path d="M274.14 326.35L278.83 329.14" stroke="#74c46a" stroke-width="0.46" fill="none"/>
<path d="M278.83 329.14A22.15 22.15 0 0 0 278.96 328.91" stroke="#74c46a" stroke-width="0.46" fill="none"/>
<path d="M278.96 328.91L283.76 331.69" stroke="#dfc095" stroke-width="0.46" fill="none"/>
<path d="M283.76 331.69A27.70 27.70 0 0 1 283.72 331.78" stroke="#dfc095" stroke-width="0.46" fill="none"/>
<path d="M283.72 331.78L288.51 334.58" stroke="#acacac" stroke-width="0.46" fill="none"/>
<path d="M288.51 334.58A33.25 33.25 0 0 0 288.57 334.48" stroke="#acacac" stroke-width="0.46" fill="none"/>
<path d="M269.58 323.26L274.38 325.95" stroke="#7d6556" stroke-width="0.46" fill="none"/>
<path d="M274.38 325.95A16.70 16.70 0 0 1 273.26 327.69" stroke="#7d6556" stroke-width="0.46" fill="none"/>
<path d="M273.26 327.69L277.65 330.91" stroke="#74c46a" stroke-width="0.46" fill="none"/>
<path d="M277.65 330.91A22.15 22.15 0 0 1 277.40 331.25" stroke="#74c46a" stroke-width="0.46" fill="none"/>
<path d="M277.40 331.25L281.81 334.62" stroke="#dfc095" stroke-width="0.46" fill="none"/>
<path d="M281.81 334.62A27.70 27.70 0 0 0 281.92 334.47" stroke="#dfc095" stroke-width="0.46" fill="none"/>
<path d="M281.92 334.47L286.35 337.81" stroke="#acacac" stroke-width="0.46" fill="none"/>
<path d="M286.35 337.81A33.25 33.25 0 0 1 286.28 337.90" stroke="#acacac" stroke-width="0.46" fill="none"/>
<path d="M277.40 331.25L281.81 334.62" stroke="#dfc095" stroke-width="0.46" fill="none"/>
<path d="M281.81 334.62A27.70 27.70 0 0 1 280.64 336.05" stroke="#dfc095" stroke-width="0.46" fill="none"/>
<path d="M280.64 336.05L284.82 339.70" stroke="#acacac" stroke-width="0.46" fill="none"/>
<path d="M284.82 339.70A33.25 33.25 0 0 1 284.78 339.75" stroke="#acacac" stroke-width="0.46" fill="none"/>
<path d="M254.20 317.80L248.60 317.80" stroke="#3d8b47" stroke-width="0.46" fill="none"/>
<path d="M266.18 327.01L269.31 331.53" stroke="#7d6556" stroke-width="0.46" fill="none"/>
<path d="M269.31 331.53A16.70 16.70 0 0 0 270.84 330.33" stroke="#7d6556" stroke-width="0.46" fill="none"/>
<path d="M270.84 330.33L274.45 334.41" stroke="#74c46a" stroke-width="0.46" fill="none"/>
<path d="M274.45 334.41A22.15 22.15 0 0 0 274.48 334.39" stroke="#74c46a" stroke-width="0.46" fill="none"/>
<path d="M274.48 334.39L278.15 338.55" stroke="#dfc095" stroke-width="0.46" fill="none"/>
<path d="M278.15 338.55A27.70 27.70 0 0 0 278.23 338.48" stroke="#dfc095" stroke-width="0.46" fill="none"/>
<path d="M278.23 338.48L281.92 342.63" stroke="#acacac" stroke-width="0.46" fill="none"/>
<path d="M281.92 342.63A33.25 33.25 0 0 1 281.88 342.66" stroke="#acacac" stroke-width="0.46" fill="none"/>
<path d="M266.18 327.01L269.31 331.53" stroke="#7d6556" stroke-width="0.46" fill="none"/>
<path d="M269.31 331.53A16.70 16.70 0 0 1 269.07 331.69" stroke="#7d6556" stroke-width="0.46" fill="none"/>
<path d="M269.07 331.69L272.09 336.23" stroke="#74c46a" stroke-width="0.46" fill="none"/>
<path d="M272.09 336.23A22.15 22.15 0 0 1 271.93 336.33" stroke="#74c46a" stroke-width="0.46" fill="none"/>
<path d="M271.93 336.33L274.97 340.98" stroke="#dfc095" stroke-width="0.46" fill="none"/>
<path d="M274.97 340.98A27.70 27.70 0 0 0 275.13 340.87" stroke="#dfc095" stroke-width="0.46" fill="none"/>
<path d="M275.13 340.87L278.20 345.49" stroke="#acacac" stroke-width="0.46" fill="none"/>
<path d="M278.20 345.49A33.25 33.25 0 0 0 278.30 345.43" stroke="#acacac" stroke-width="0.46" fill="none"/>
<path d="M271.93 336.33L274.97 340.98" stroke="#dfc095" stroke-width="0.46" fill="none"/>
<path d="M274.97 340.98A27.70 27.70 0 0 1 273.52 341.86" stroke="#dfc095" stroke-width="0.46" fill="none"/>
<path d="M273.52 341.86L276.27 346.68" stroke="#acacac" stroke-width="0.46" fill="none"/>
<path d="M276.27 346.68A33.25 33.25 0 0 1 276.17 346.74" stroke="#acacac" stroke-width="0.46" fill="none"/>
<path d="M254.20 317.80L248.60 317.80" stroke="#3d8b47" stroke-width="0.46" fill="none"/>
<path d="M249.03 320.89L243.75 322.40" stroke="#7d6556" stroke-width="0.46" fill="none"/>
<path d="M266.35 333.16L268.49 338.17" stroke="#74c46a" stroke-width="0.46" fill="none"/>
<path d="M268.49 338.17A22.15 22.15 0 0 1 268.31 338.25" stroke="#74c46a" stroke-width="0.46" fill="none"/>
<path d="M268.31 338.25L270.44 343.37" stroke="#dfc095" stroke-width="0.46" fill="none"/>
<path d="M270.44 343.37A27.70 27.70 0 0 1 269.95 343.57" stroke="#dfc095" stroke-width="0.46" fill="none"/>
<path d="M249.03 320.89L243.75 322.40" stroke="#7d6556" stroke-width="0.46" fill="none"/>
<path d="M262.87 334.22L263.87 339.57" stroke="#74c46a" stroke-width="0.46" fill="none"/>
<path d="M263.87 339.57A22.15 22.15 0 0 1 261.73 339.87" stroke="#74c46a" stroke-width="0.46" fill="none"/>
<path d="M261.73 339.87L262.21 345.39" stroke="#dfc095" stroke-width="0.46" fill="none"/>
<path d="M262.21 345.39A27.70 27.70 0 0 1 261.97 345.41" stroke="#dfc095" stroke-width="0.46" fill="none"/>
<path d="M261.97 345.41L262.41 350.95" stroke="#acacac" stroke-width="0.46" fill="none"/>
<path d="M262.41 350.95A33.25 33.25 0 0 1 262.29 350.96" stroke="#acacac" stroke-width="0.46" fill="none"/>
<path d="M262.87 334.22L263.87 339.57" stroke="#74c46a" stroke-width="0.46" fill="none"/>
<path d="M263.87 339.57A22.15 22.15 0 0 0 265.08 339.31" stroke="#74c46a" stroke-width="0.46" fill="none"/>
<path d="M265.08 339.31L266.41 344.70" stroke="#dfc095" stroke-width="0.46" fill="none"/>
<path d="M266.41 344.70A27.70 27.70 0 0 1 265.75 344.85" stroke="#dfc095" stroke-width="0.46" fill="none"/>
<path d="M249.03 320.89L243.75 322.40" stroke="#7d6556" stroke-width="0.46" fill="none"/>
<path d="M257.48 334.34L256.72 339.73" stroke="#74c46a" stroke-width="0.46" fill="none"/>
<path d="M256.53 339.71L255.71 345.20" stroke="#dfc095" stroke-width="0.46" fill="none"/>
<path d="M255.71 345.20A27.70 27.70 0 0 1 255.23 345.12" stroke="#dfc095" stroke-width="0.46" fill="none"/>
<path d="M249.03 320.89L243.75 322.40" stroke="#7d6556" stroke-width="0.46" fill="none"/>
<path d="M243.75 322.40L238.51 323.91" stroke="#74c46a" stroke-width="0.46" fill="none"/>
<path d="M238.47 323.76L233.12 325.25" stroke="#dfc095" stroke-width="0.46" fill="none"/>
<path d="M238.47 323.76L233.12 325.25" stroke="#dfc095" stroke-width="0.46" fill="none"/>
<path d="M238.47 323.76L233.12 325.25" stroke="#dfc095" stroke-width="0.46" fill="none"/>
<path d="M233.21 310.03L227.89 308.47" stroke="#acacac" stroke-width="0.46" fill="none"/>
<path d="M227.89 308.47A33.25 33.25 0 0 1 228.05 307.91" stroke="#acacac" stroke-width="0.46" fill="none"/>
<path d="M233.21 310.03L227.89 308.47" stroke="#acacac" stroke-width="0.46" fill="none"/>
<path d="M227.89 308.47A33.25 33.25 0 0 0 227.51 309.87" stroke="#acacac" stroke-width="0.46" fill="none"/>
<path d="M238.47 323.76L233.12 325.25" stroke="#dfc095" stroke-width="0.46" fill="none"/>
<path d="M232.80 311.62L227.39 310.38" stroke="#acacac" stroke-width="0.46" fill="none"/>
<path d="M227.39 310.38A33.25 33.25 0 0 0 227.11 311.74" stroke="#acacac" stroke-width="0.46" fill="none"/>
<path d="M238.47 323.76L233.12 325.25" stroke="#dfc095" stroke-width="0.46" fill="none"/>
<path d="M238.47 323.76L233.12 325.25" stroke="#dfc095" stroke-width="0.46" fill="none"/>
<path d="M234.65 329.42L229.62 331.75" stroke="#acacac" stroke-width="0.46" fill="none"/>
<path d="M229.62 331.75A33.25 33.25 0 0 1 229.47 331.43" stroke="#acacac" stroke-width="0.46" fill="none"/>
<path d="M238.47 323.76L233.12 325.25" stroke="#dfc095" stroke-width="0.46" fill="none"/>
<path d="M235.53 331.14L230.66 333.82" stroke="#acacac" stroke-width="0.46" fill="none"/>
<path d="M230.66 333.82A33.25 33.25 0 0 1 230.61 333.72" stroke="#acacac" stroke-width="0.46" fill="none"/>
<path d="M238.47 323.76L233.12 325.25" stroke="#dfc095" stroke-width="0.46" fill="none"/>
<path d="M238.47 323.76L233.12 325.25" stroke="#dfc095" stroke-width="0.46" fill="none"/>
<path d="M249.03 320.89L243.75 322.40" stroke="#7d6556" stroke-width="0.46" fill="none"/>
<path d="M251.53 303.29L248.83 298.56" stroke="#74c46a" stroke-width="0.46" fill="none"/>
<path d="M246.41 300.16L243.05 295.74" stroke="#dfc095" stroke-width="0.46" fill="none"/>
<path d="M239.05 299.45L234.90 295.77" stroke="#acacac" stroke-width="0.46" fill="none"/>
<path d="M234.90 295.77A33.25 33.25 0 0 0 234.67 296.03" stroke="#acacac" stroke-width="0.46" fill="none"/>
<path d="M239.05 299.45L234.90 295.77" stroke="#acacac" stroke-width="0.46" fill="none"/>
<path d="M234.90 295.77A33.25 33.25 0 0 1 235.32 295.29" stroke="#acacac" stroke-width="0.46" fill="none"/>
<path d="M246.41 300.16L243.05 295.74" stroke="#dfc095" stroke-width="0.46" fill="none"/>
<path d="M241.01 297.44L237.25 293.36" stroke="#acacac" stroke-width="0.46" fill="none"/>
<path d="M237.25 293.36A33.25 33.25 0 0 1 237.34 293.29" stroke="#acacac" stroke-width="0.46" fill="none"/>
<path d="M246.41 300.16L243.05 295.74" stroke="#dfc095" stroke-width="0.46" fill="none"/>
<path d="M243.40 295.48L240.12 291.00" stroke="#acacac" stroke-width="0.46" fill="none"/>
<path d="M240.12 291.00A33.25 33.25 0 0 0 239.84 291.21" stroke="#acacac" stroke-width="0.46" fill="none"/>
<path d="M243.40 295.48L240.12 291.00" stroke="#acacac" stroke-width="0.46" fill="none"/>
<path d="M240.12 291.00A33.25 33.25 0 0 1 240.63 290.63" stroke="#acacac" stroke-width="0.46" fill="none"/>
<path d="M246.41 300.16L243.05 295.74" stroke="#dfc095" stroke-width="0.46" fill="none"/>
<path d="M245.66 293.98L242.82 289.21" stroke="#acacac" stroke-width="0.46" fill="none"/>
<path d="M242.82 289.21A33.25 33.25 0 0 1 243.12 289.03" stroke="#acacac" stroke-width="0.46" fill="none"/>
<path d="M246.41 300.16L243.05 295.74" stroke="#dfc095" stroke-width="0.46" fill="none"/>
<path d="M247.70 292.88L245.28 287.89" stroke="#acacac" stroke-width="0.46" fill="none"/>
<path d="M245.28 287.89A33.25 33.25 0 0 0 245.17 287.94" stroke="#acacac" stroke-width="0.46" fill="none"/>
<path d="M246.41 300.16L243.05 295.74" stroke="#dfc095" stroke-width="0.46" fill="none"/>
<path d="M249.65 292.03L247.61 286.86" stroke="#acacac" stroke-width="0.46" fill="none"/>
<path d="M247.61 286.86A33.25 33.25 0 0 0 247.40 286.95" stroke="#acacac" stroke-width="0.46" fill="none"/>
<path d="M251.53 303.29L248.83 298.56" stroke="#74c46a" stroke-width="0.46" fill="none"/>
<path d="M254.78 296.23L253.52 290.82" stroke="#dfc095" stroke-width="0.46" fill="none"/>
<path d="M252.03 291.21L250.47 285.89" stroke="#acacac" stroke-width="0.46" fill="none"/>
<path d="M250.47 285.89A33.25 33.25 0 0 1 250.86 285.77" stroke="#acacac" stroke-width="0.46" fill="none"/>
<path d="M254.78 296.23L253.52 290.82" stroke="#dfc095" stroke-width="0.46" fill="none"/>
<path d="M254.28 290.66L253.17 285.22" stroke="#acacac" stroke-width="0.46" fill="none"/>
<path d="M253.17 285.22A33.25 33.25 0 0 0 253.11 285.23" stroke="#acacac" stroke-width="0.46" fill="none"/>
<path d="M254.78 296.23L253.52 290.82" stroke="#dfc095" stroke-width="0.46" fill="none"/>
<path d="M256.14 290.34L255.40 284.84" stroke="#acacac" stroke-width="0.46" fill="none"/>
<path d="M255.40 284.84A33.25 33.25 0 0 0 255.06 284.89" stroke="#acacac" stroke-width="0.46" fill="none"/>
<path d="M256.14 290.34L255.40 284.84" stroke="#acacac" stroke-width="0.46" fill="none"/>
<path d="M255.40 284.84A33.25 33.25 0 0 1 256.21 284.74" stroke="#acacac" stroke-width="0.46" fill="none"/>
<path d="M254.20 317.80L248.60 317.80" stroke="#3d8b47" stroke-width="0.46" fill="none"/>
<path d="M260.29 306.61L260.53 301.12" stroke="#7d6556" stroke-width="0.46" fill="none"/>
<path d="M260.53 301.12A16.70 16.70 0 0 1 260.67 301.12" stroke="#7d6556" stroke-width="0.46" fill="none"/>
<path d="M260.67 301.12L260.96 295.68" stroke="#74c46a" stroke-width="0.46" fill="none"/>
<path d="M260.96 295.68A22.15 22.15 0 0 1 261.04 295.68" stroke="#74c46a" stroke-width="0.46" fill="none"/>
<path d="M261.04 295.68L261.35 290.14" stroke="#dfc095" stroke-width="0.46" fill="none"/>
<path d="M261.35 290.14A27.70 27.70 0 0 0 261.25 290.14" stroke="#dfc095" stroke-width="0.46" fill="none"/>
<path d="M261.25 290.14L261.54 284.60" stroke="#acacac" stroke-width="0.46" fill="none"/>
<path d="M261.54 284.60A33.25 33.25 0 0 1 261.66 284.60" stroke="#acacac" stroke-width="0.46" fill="none"/>
<path d="M254.20 317.80L248.60 317.80" stroke="#3d8b47" stroke-width="0.46" fill="none"/>
<path d="M263.02 307.07L264.60 301.80" stroke="#7d6556" stroke-width="0.46" fill="none"/>
<path d="M264.60 301.80A16.70 16.70 0 0 1 264.77 301.86" stroke="#7d6556" stroke-width="0.46" fill="none"/>
<path d="M264.77 301.86L266.39 296.65" stroke="#74c46a" stroke-width="0.46" fill="none"/>
<path d="M266.39 296.65A22.15 22.15 0 0 1 266.64 296.73" stroke="#74c46a" stroke-width="0.46" fill="none"/>
<path d="M266.64 296.73L268.36 291.46" stroke="#dfc095" stroke-width="0.46" fill="none"/>
<path d="M268.36 291.46A27.70 27.70 0 0 0 265.13 290.62" stroke="#dfc095" stroke-width="0.46" fill="none"/>
<path d="M265.13 290.62L266.20 285.17" stroke="#acacac" stroke-width="0.46" fill="none"/>
<path d="M266.20 285.17A33.25 33.25 0 0 1 266.26 285.18" stroke="#acacac" stroke-width="0.46" fill="none"/>
<path d="M266.64 296.73L268.36 291.46" stroke="#dfc095" stroke-width="0.46" fill="none"/>
<path d="M268.36 291.46A27.70 27.70 0 0 0 267.25 291.12" stroke="#dfc095" stroke-width="0.46" fill="none"/>
<path d="M267.25 291.12L268.74 285.77" stroke="#acacac" stroke-width="0.46" fill="none"/>
<path d="M268.74 285.77A33.25 33.25 0 0 0 268.69 285.76" stroke="#acacac" stroke-width="0.46" fill="none"/>
<path d="M266.64 296.73L268.36 291.46" stroke="#dfc095" stroke-width="0.46" fill="none"/>
<path d="M268.36 291.46A27.70 27.70 0 0 1 269.32 291.79" stroke="#dfc095" stroke-width="0.46" fill="none"/>
<path d="M269.32 291.79L271.23 286.58" stroke="#acacac" stroke-width="0.46" fill="none"/>
<path d="M271.23 286.58A33.25 33.25 0 0 0 271.01 286.50" stroke="#acacac" stroke-width="0.46" fill="none"/>
<path d="M266.64 296.73L268.36 291.46" stroke="#dfc095" stroke-width="0.46" fill="none"/>
<path d="M268.36 291.46A27.70 27.70 0 0 1 271.51 292.70" stroke="#dfc095" stroke-width="0.46" fill="none"/>
<path d="M271.51 292.70L273.85 287.67" stroke="#acacac" stroke-width="0.46" fill="none"/>
<path d="M273.85 287.67A33.25 33.25 0 0 0 273.48 287.50" stroke="#acacac" stroke-width="0.46" fill="none"/>
<path d="M266.64 296.73L268.36 291.46" stroke="#dfc095" stroke-width="0.46" fill="none"/>
<path d="M268.36 291.46A27.70 27.70 0 0 1 273.10 293.50" stroke="#dfc095" stroke-width="0.46" fill="none"/>
<path d="M273.10 293.50L275.77 288.63" stroke="#acacac" stroke-width="0.46" fill="none"/>
<path d="M275.77 288.63A33.25 33.25 0 0 0 275.61 288.55" stroke="#acacac" stroke-width="0.46" fill="none"/>
<path d="M254.20 317.80L248.60 317.80" stroke="#3d8b47" stroke-width="0.46" fill="none"/>
<path d="M269.46 312.13L274.20 309.35" stroke="#7d6556" stroke-width="0.46" fill="none"/>
<path d="M270.15 304.69L273.53 300.42" stroke="#74c46a" stroke-width="0.46" fill="none"/>
<path d="M273.53 300.42A22.15 22.15 0 0 0 273.10 300.09" stroke="#74c46a" stroke-width="0.46" fill="none"/>
<path d="M273.10 300.09L276.43 295.65" stroke="#dfc095" stroke-width="0.46" fill="none"/>
<path d="M276.43 295.65A27.70 27.70 0 0 1 276.47 295.68" stroke="#dfc095" stroke-width="0.46" fill="none"/>
<path d="M276.47 295.68L279.81 291.25" stroke="#acacac" stroke-width="0.46" fill="none"/>
<path d="M279.81 291.25A33.25 33.25 0 0 0 279.76 291.21" stroke="#acacac" stroke-width="0.46" fill="none"/>
<path d="M270.15 304.69L273.53 300.42" stroke="#74c46a" stroke-width="0.46" fill="none"/>
<path d="M273.53 300.42A22.15 22.15 0 0 1 274.76 301.47" stroke="#74c46a" stroke-width="0.46" fill="none"/>
<path d="M274.76 301.47L278.51 297.38" stroke="#dfc095" stroke-width="0.46" fill="none"/>
<path d="M278.51 297.38L282.26 293.29" stroke="#acacac" stroke-width="0.46" fill="none"/>
<path d="M282.26 293.29A33.25 33.25 0 0 0 282.22 293.25" stroke="#acacac" stroke-width="0.46" fill="none"/>
<path d="M274.76 301.47L278.51 297.38" stroke="#dfc095" stroke-width="0.46" fill="none"/>
<path d="M278.51 297.38A27.70 27.70 0 0 1 279.99 298.84" stroke="#dfc095" stroke-width="0.46" fill="none"/>
<path d="M279.99 298.84L284.04 295.04" stroke="#acacac" stroke-width="0.46" fill="none"/>
<path d="M284.04 295.04A33.25 33.25 0 0 0 283.92 294.91" stroke="#acacac" stroke-width="0.46" fill="none"/>
<path d="M269.46 312.13L274.20 309.35" stroke="#7d6556" stroke-width="0.46" fill="none"/>
<path d="M275.37 311.76L280.45 309.79" stroke="#74c46a" stroke-width="0.46" fill="none"/>
<path d="M277.51 304.50L281.95 301.17" stroke="#dfc095" stroke-width="0.46" fill="none"/>
<path d="M281.95 301.17A27.70 27.70 0 0 1 282.29 301.64" stroke="#dfc095" stroke-width="0.46" fill="none"/>
<path d="M275.37 311.76L280.45 309.79" stroke="#74c46a" stroke-width="0.46" fill="none"/>
<path d="M280.45 309.79A22.15 22.15 0 0 0 279.45 307.57" stroke="#74c46a" stroke-width="0.46" fill="none"/>
<path d="M279.45 307.57L284.37 305.01" stroke="#dfc095" stroke-width="0.46" fill="none"/>
<path d="M284.37 305.01L289.29 302.45" stroke="#acacac" stroke-width="0.46" fill="none"/>
<path d="M289.29 302.45A33.25 33.25 0 0 0 289.27 302.40" stroke="#acacac" stroke-width="0.46" fill="none"/>
<path d="M275.37 311.76L280.45 309.79" stroke="#74c46a" stroke-width="0.46" fill="none"/>
<path d="M280.45 309.79A22.15 22.15 0 0 0 280.42 309.72" stroke="#74c46a" stroke-width="0.46" fill="none"/>
<path d="M280.42 309.72L285.59 307.69" stroke="#dfc095" stroke-width="0.46" fill="none"/>
<path d="M285.59 307.69A27.70 27.70 0 0 0 285.55 307.60" stroke="#dfc095" stroke-width="0.46" fill="none"/>
<path d="M285.55 307.60L290.72 305.56" stroke="#acacac" stroke-width="0.46" fill="none"/>
<path d="M290.72 305.56A33.25 33.25 0 0 0 290.67 305.45" stroke="#acacac" stroke-width="0.46" fill="none"/>
<path d="M275.37 311.76L280.45 309.79" stroke="#74c46a" stroke-width="0.46" fill="none"/>
<path d="M281.10 311.73L286.44 310.21" stroke="#dfc095" stroke-width="0.46" fill="none"/>
<path d="M286.44 310.21A27.70 27.70 0 0 1 286.58 310.72" stroke="#dfc095" stroke-width="0.46" fill="none"/>
<path d="M275.37 311.76L280.45 309.79" stroke="#74c46a" stroke-width="0.46" fill="none"/>
<path d="M281.87 315.95L287.40 315.48" stroke="#dfc095" stroke-width="0.46" fill="none"/>
<path d="M287.40 315.48A27.70 27.70 0 0 1 287.43 315.82" stroke="#dfc095" stroke-width="0.46" fill="none"/>
<path d="M256.72 339.73A22.15 22.15 0 0 1 256.53 339.71" stroke="#74c46a" stroke-width="0.62" fill="none"/>
<path d="M243.05 295.74A27.70 27.70 0 0 0 239.05 299.45" stroke="#dfc095" stroke-width="0.62" fill="none"/>
<path d="M243.05 295.74A27.70 27.70 0 0 0 241.01 297.44" stroke="#dfc095" stroke-width="0.62" fill="none"/>
<path d="M243.05 295.74A27.70 27.70 0 0 1 243.40 295.48" stroke="#dfc095" stroke-width="0.62" fill="none"/>
<path d="M243.05 295.74A27.70 27.70 0 0 1 245.66 293.98" stroke="#dfc095" stroke-width="0.62" fill="none"/>
<path d="M243.05 295.74A27.70 27.70 0 0 1 247.70 292.88" stroke="#dfc095" stroke-width="0.62" fill="none"/>
<path d="M243.05 295.74A27.70 27.70 0 0 1 249.65 292.03" stroke="#dfc095" stroke-width="0.62" fill="none"/>
<path d="M253.52 290.82A27.70 27.70 0 0 0 252.03 291.21" stroke="#dfc095" stroke-width="0.62" fill="none"/>
<path d="M253.52 290.82A27.70 27.70 0 0 1 254.28 290.66" stroke="#dfc095" stroke-width="0.62" fill="none"/>
<path d="M253.52 290.82A27.70 27.70 0 0 1 256.14 290.34" stroke="#dfc095" stroke-width="0.62" fill="none"/>
<path d="M233.12 325.25A27.70 27.70 0 0 1 236.39 303.00" stroke="#dfc095" stroke-width="0.74" fill="none"/>
<path d="M233.12 325.25A27.70 27.70 0 0 1 234.44 306.67" stroke="#dfc095" stroke-width="0.74" fill="none"/>
<path d="M233.12 325.25A27.70 27.70 0 0 1 233.21 310.03" stroke="#dfc095" stroke-width="0.74" fill="none"/>
<path d="M233.12 325.25A27.70 27.70 0 0 1 232.80 311.62" stroke="#dfc095" stroke-width="0.74" fill="none"/>
<path d="M280.45 309.79A22.15 22.15 0 0 1 281.10 311.73" stroke="#74c46a" stroke-width="0.93" fill="none"/>
<path d="M274.38 325.95A16.70 16.70 0 0 0 275.79 322.63" stroke="#7d6556" stroke-width="1.12" fill="none"/>
<path d="M274.38 325.95A16.70 16.70 0 0 1 274.14 326.35" stroke="#7d6556" stroke-width="1.12" fill="none"/>
<path d="M248.83 298.56A22.15 22.15 0 0 0 246.41 300.16" stroke="#74c46a" stroke-width="1.12" fill="none"/>
<path d="M248.83 298.56A22.15 22.15 0 0 1 254.78 296.23" stroke="#74c46a" stroke-width="1.12" fill="none"/>
<path d="M274.20 309.35A16.70 16.70 0 0 0 270.15 304.69" stroke="#7d6556" stroke-width="1.12" fill="none"/>
<path d="M274.20 309.35A16.70 16.70 0 0 1 275.37 311.76" stroke="#7d6556" stroke-width="1.12" fill="none"/>
<path d="M280.45 309.79A22.15 22.15 0 0 0 277.51 304.50" stroke="#74c46a" stroke-width="1.12" fill="none"/>
<path d="M280.45 309.79A22.15 22.15 0 0 1 281.87 315.95" stroke="#74c46a" stroke-width="1.12" fill="none"/>
<path d="M248.60 317.80A11.20 11.20 0 0 0 270.90 319.30" stroke="#3d8b47" stroke-width="1.36" fill="none"/>
<path d="M248.60 317.80A11.20 11.20 0 0 0 269.58 323.26" stroke="#3d8b47" stroke-width="1.36" fill="none"/>
<path d="M248.60 317.80A11.20 11.20 0 0 0 266.18 327.01" stroke="#3d8b47" stroke-width="1.36" fill="none"/>
<path d="M248.60 317.80A11.20 11.20 0 0 0 249.03 320.89" stroke="#3d8b47" stroke-width="1.36" fill="none"/>
<path d="M243.75 322.40A16.70 16.70 0 0 0 266.35 333.16" stroke="#7d6556" stroke-width="1.36" fill="none"/>
<path d="M243.75 322.40A16.70 16.70 0 0 0 262.87 334.22" stroke="#7d6556" stroke-width="1.36" fill="none"/>
<path d="M243.75 322.40A16.70 16.70 0 0 0 257.48 334.34" stroke="#7d6556" stroke-width="1.36" fill="none"/>
<path d="M238.51 323.91A22.15 22.15 0 0 1 238.47 323.76" stroke="#74c46a" stroke-width="1.36" fill="none"/>
<path d="M233.12 325.25A27.70 27.70 0 0 1 232.31 321.22" stroke="#dfc095" stroke-width="1.36" fill="none"/>
<path d="M233.12 325.25A27.70 27.70 0 0 0 234.65 329.42" stroke="#dfc095" stroke-width="1.36" fill="none"/>
<path d="M233.12 325.25A27.70 27.70 0 0 0 235.53 331.14" stroke="#dfc095" stroke-width="1.36" fill="none"/>
<path d="M233.12 325.25A27.70 27.70 0 0 0 237.77 334.59" stroke="#dfc095" stroke-width="1.36" fill="none"/>
<path d="M233.12 325.25A27.70 27.70 0 0 0 243.83 340.43" stroke="#dfc095" stroke-width="1.36" fill="none"/>
<path d="M243.75 322.40A16.70 16.70 0 0 1 251.53 303.29" stroke="#7d6556" stroke-width="1.36" fill="none"/>
<path d="M248.60 317.80A11.20 11.20 0 0 1 260.29 306.61" stroke="#3d8b47" stroke-width="1.36" fill="none"/>
<path d="M248.60 317.80A11.20 11.20 0 0 1 263.02 307.07" stroke="#3d8b47" stroke-width="1.36" fill="none"/>
<path d="M248.60 317.80A11.20 11.20 0 0 1 269.46 312.13" stroke="#3d8b47" stroke-width="1.36" fill="none"/>
<circle cx="292.68" cy="322.71" r="0.75" fill="#c8c8c8"/>
<circle cx="287.24" cy="321.61" r="0.75" fill="#d9b27e"/>
<circle cx="276.36" cy="319.98" r="0.75" fill="#7d6556"/>
<circle cx="291.79" cy="326.85" r="0.75" fill="#c8c8c8"/>
<circle cx="286.47" cy="325.30" r="0.75" fill="#d9b27e"/>
<circle cx="290.96" cy="329.39" r="0.75" fill="#c8c8c8"/>
<circle cx="290.50" cy="330.58" r="0.75" fill="#c8c8c8"/>
<circle cx="285.71" cy="327.59" r="0.75" fill="#d9b27e"/>
<circle cx="280.94" cy="324.42" r="0.75" fill="#7cc972"/>
<circle cx="275.79" cy="322.63" r="0.75" fill="#7d6556"/>
<circle cx="288.57" cy="334.48" r="0.75" fill="#c8c8c8"/>
<circle cx="283.72" cy="331.78" r="0.75" fill="#d9b27e"/>
<circle cx="278.96" cy="328.91" r="0.75" fill="#7cc972"/>
<circle cx="274.14" cy="326.35" r="0.75" fill="#7d6556"/>
<circle cx="286.28" cy="337.90" r="0.75" fill="#c8c8c8"/>
<circle cx="281.92" cy="334.47" r="0.75" fill="#d9b27e"/>
<circle cx="284.78" cy="339.75" r="0.75" fill="#c8c8c8"/>
<circle cx="280.64" cy="336.05" r="0.75" fill="#d9b27e"/>
<circle cx="277.40" cy="331.25" r="0.75" fill="#7cc972"/>
<circle cx="273.26" cy="327.69" r="0.75" fill="#7d6556"/>
<circle cx="281.88" cy="342.66" r="0.75" fill="#c8c8c8"/>
<circle cx="278.23" cy="338.48" r="0.75" fill="#d9b27e"/>
<circle cx="274.48" cy="334.39" r="0.75" fill="#7cc972"/>
<circle cx="270.84" cy="330.33" r="0.75" fill="#7d6556"/>
<circle cx="278.30" cy="345.43" r="0.75" fill="#c8c8c8"/>
<circle cx="275.13" cy="340.87" r="0.75" fill="#d9b27e"/>
<circle cx="276.17" cy="346.74" r="0.75" fill="#c8c8c8"/>
<circle cx="273.52" cy="341.86" r="0.75" fill="#d9b27e"/>
<circle cx="271.93" cy="336.33" r="0.75" fill="#7cc972"/>
<circle cx="269.07" cy="331.69" r="0.75" fill="#7d6556"/>
<circle cx="269.95" cy="343.57" r="0.75" fill="#d9b27e"/>
<circle cx="268.31" cy="338.25" r="0.75" fill="#7cc972"/>
<circle cx="266.35" cy="333.16" r="0.75" fill="#7d6556"/>
<circle cx="262.29" cy="350.96" r="0.75" fill="#c8c8c8"/>
<circle cx="261.97" cy="345.41" r="0.75" fill="#d9b27e"/>
<circle cx="261.73" cy="339.87" r="0.75" fill="#7cc972"/>
<circle cx="265.75" cy="344.85" r="0.75" fill="#d9b27e"/>
<circle cx="265.08" cy="339.31" r="0.75" fill="#7cc972"/>
<circle cx="262.87" cy="334.22" r="0.75" fill="#7d6556"/>
<circle cx="255.23" cy="345.12" r="0.75" fill="#d9b27e"/>
<circle cx="256.53" cy="339.71" r="0.75" fill="#7cc972"/>
<circle cx="257.48" cy="334.34" r="0.75" fill="#7d6556"/>
<circle cx="236.39" cy="303.00" r="0.75" fill="#d9b27e"/>
<circle cx="234.44" cy="306.67" r="0.75" fill="#d9b27e"/>
<circle cx="228.05" cy="307.91" r="0.75" fill="#c8c8c8"/>
<circle cx="227.51" cy="309.87" r="0.75" fill="#c8c8c8"/>
<circle cx="233.21" cy="310.03" r="0.75" fill="#d9b27e"/>
<circle cx="227.11" cy="311.74" r="0.75" fill="#c8c8c8"/>
<circle cx="232.80" cy="311.62" r="0.75" fill="#d9b27e"/>
<circle cx="232.31" cy="321.22" r="0.75" fill="#d9b27e"/>
<circle cx="229.47" cy="331.43" r="0.75" fill="#c8c8c8"/>
<circle cx="234.65" cy="329.42" r="0.75" fill="#d9b27e"/>
<circle cx="230.61" cy="333.72" r="0.75" fill="#c8c8c8"/>
<circle cx="235.53" cy="331.14" r="0.75" fill="#d9b27e"/>
<circle cx="237.77" cy="334.59" r="0.75" fill="#d9b27e"/>
<circle cx="243.83" cy="340.43" r="0.75" fill="#d9b27e"/>
<circle cx="238.47" cy="323.76" r="0.75" fill="#7cc972"/>
<circle cx="243.75" cy="322.40" r="0.75" fill="#7d6556"/>
<circle cx="234.67" cy="296.03" r="0.75" fill="#c8c8c8"/>
<circle cx="235.32" cy="295.29" r="0.75" fill="#c8c8c8"/>
<circle cx="239.05" cy="299.45" r="0.75" fill="#d9b27e"/>
<circle cx="237.34" cy="293.29" r="0.75" fill="#c8c8c8"/>
<circle cx="241.01" cy="297.44" r="0.75" fill="#d9b27e"/>
<circle cx="239.84" cy="291.21" r="0.75" fill="#c8c8c8"/>
<circle cx="240.63" cy="290.63" r="0.75" fill="#c8c8c8"/>
<circle cx="243.40" cy="295.48" r="0.75" fill="#d9b27e"/>
<circle cx="243.12" cy="289.03" r="0.75" fill="#c8c8c8"/>
<circle cx="245.66" cy="293.98" r="0.75" fill="#d9b27e"/>
<circle cx="245.17" cy="287.94" r="0.75" fill="#c8c8c8"/>
<circle cx="247.70" cy="292.88" r="0.75" fill="#d9b27e"/>
<circle cx="247.40" cy="286.95" r="0.75" fill="#c8c8c8"/>
<circle cx="249.65" cy="292.03" r="0.75" fill="#d9b27e"/>
<circle cx="246.41" cy="300.16" r="0.75" fill="#7cc972"/>
<circle cx="250.86" cy="285.77" r="0.75" fill="#c8c8c8"/>
<circle cx="252.03" cy="291.21" r="0.75" fill="#d9b27e"/>
<circle cx="253.11" cy="285.23" r="0.75" fill="#c8c8c8"/>
<circle cx="254.28" cy="290.66" r="0.75" fill="#d9b27e"/>
<circle cx="255.06" cy="284.89" r="0.75" fill="#c8c8c8"/>
<circle cx="256.21" cy="284.74" r="0.75" fill="#c8c8c8"/>
<circle cx="256.14" cy="290.34" r="0.75" fill="#d9b27e"/>
<circle cx="254.78" cy="296.23" r="0.75" fill="#7cc972"/>
<circle cx="251.53" cy="303.29" r="0.75" fill="#7d6556"/>
<circle cx="261.66" cy="284.60" r="0.75" fill="#c8c8c8"/>
<circle cx="261.25" cy="290.14" r="0.75" fill="#d9b27e"/>
<circle cx="261.04" cy="295.68" r="0.75" fill="#7cc972"/>
<circle cx="260.67" cy="301.12" r="0.75" fill="#7d6556"/>
<circle cx="266.26" cy="285.18" r="0.75" fill="#c8c8c8"/>
<circle cx="265.13" cy="290.62" r="0.75" fill="#d9b27e"/>
<circle cx="268.69" cy="285.76" r="0.75" fill="#c8c8c8"/>
<circle cx="267.25" cy="291.12" r="0.75" fill="#d9b27e"/>
<circle cx="271.01" cy="286.50" r="0.75" fill="#c8c8c8"/>
<circle cx="269.32" cy="291.79" r="0.75" fill="#d9b27e"/>
<circle cx="273.48" cy="287.50" r="0.75" fill="#c8c8c8"/>
<circle cx="271.51" cy="292.70" r="0.75" fill="#d9b27e"/>
<circle cx="275.61" cy="288.55" r="0.75" fill="#c8c8c8"/>
<circle cx="273.10" cy="293.50" r="0.75" fill="#d9b27e"/>
<circle cx="266.64" cy="296.73" r="0.75" fill="#7cc972"/>
<circle cx="264.77" cy="301.86" r="0.75" fill="#7d6556"/>
<circle cx="279.76" cy="291.21" r="0.75" fill="#c8c8c8"/>
<circle cx="276.47" cy="295.68" r="0.75" fill="#d9b27e"/>
<circle cx="273.10" cy="300.09" r="0.75" fill="#7cc972"/>
<circle cx="282.22" cy="293.25" r="0.75" fill="#c8c8c8"/>
<circle cx="278.51" cy="297.38" r="0.75" fill="#d9b27e"/>
<circle cx="283.92" cy="294.91" r="0.75" fill="#c8c8c8"/>
<circle cx="279.99" cy="298.84" r="0.75" fill="#d9b27e"/>
<circle cx="274.76" cy="301.47" r="0.75" fill="#7cc972"/>
<circle cx="270.15" cy="304.69" r="0.75" fill="#7d6556"/>
<circle cx="282.29" cy="301.64" r="0.75" fill="#d9b27e"/>
<circle cx="277.51" cy="304.50" r="0.75" fill="#7cc972"/>
<circle cx="289.27" cy="302.40" r="0.75" fill="#c8c8c8"/>
<circle cx="284.37" cy="305.01" r="0.75" fill="#d9b27e"/>
<circle cx="279.45" cy="307.57" r="0.75" fill="#7cc972"/>
<circle cx="290.67" cy="305.45" r="0.75" fill="#c8c8c8"/>
<circle cx="285.55" cy="307.60" r="0.75" fill="#d9b27e"/>
<circle cx="280.42" cy="309.72" r="0.75" fill="#7cc972"/>
<circle cx="286.58" cy="310.72" r="0.75" fill="#d9b27e"/>
<circle cx="281.10" cy="311.73" r="0.75" fill="#7cc972"/>
<circle cx="287.43" cy="315.82" r="0.75" fill="#d9b27e"/>
<circle cx="281.87" cy="315.95" r="0.75" fill="#7cc972"/>
<circle cx="275.37" cy="311.76" r="0.75" fill="#7d6556"/>
<circle cx="254.20" cy="317.80" r="1.1" fill="#fff" stroke="#888" stroke-width="0.35"/>
<line x1="246.90" y1="280.30" x2="251.30" y2="309.30" stroke="#4a9a55" stroke-width="0.6" />
<line x1="280.80" y1="281.50" x2="260.80" y2="302.30" stroke="#6f5a4c" stroke-width="0.6" />
<line x1="298.60" y1="301.60" x2="272.90" y2="300.40" stroke="#6cc35e" stroke-width="0.6" />
<line x1="296.40" y1="353.60" x2="285.10" y2="327.50" stroke="#9a8070" stroke-width="0.6" />
<line x1="274.70" y1="371.00" x2="277.30" y2="346.70" stroke="#a0a0a0" stroke-width="0.6" />
<text x="237.40" y="278.90" font-size="7.0" textLength="17.30" lengthAdjust="spacingAndGlyphs" fill="#4a9a55" font-style="italic">Phyla</text>
<text x="277.30" y="277.20" font-size="7.2" textLength="16.50" lengthAdjust="spacingAndGlyphs" fill="#5e4f46">Class</text>
<text x="300.20" y="304.60" font-size="7.0" textLength="18.80" lengthAdjust="spacingAndGlyphs" fill="#6cc35e" font-style="italic">Order</text>
<text x="280.80" y="362.30" font-size="7.0" textLength="20.80" lengthAdjust="spacingAndGlyphs" fill="#9a8070" font-style="italic">Family</text>
<text x="264.30" y="378.60" font-size="7.0" textLength="20.80" lengthAdjust="spacingAndGlyphs" fill="#9a9a9a" font-style="italic">Genus</text>
<text x="7.30" y="265.80" font-size="11" fill="#000" font-weight="bold">G</text>
<text x="62.00" y="286.00" font-size="7.6" textLength="18.80" lengthAdjust="spacingAndGlyphs" fill="#e5574c" font-style="italic">Bacilli</text>
<text x="124.70" y="271.00" font-size="7.6" textLength="29.60" lengthAdjust="spacingAndGlyphs" fill="#e5574c" font-style="italic">Bacillales</text>
<text x="165.80" y="270.90" font-size="7.6" textLength="48.40" lengthAdjust="spacingAndGlyphs" font-style="italic">Actinobacteria</text>
<text x="183.10" y="278.20" font-size="7.6" textLength="37.70" lengthAdjust="spacingAndGlyphs" fill="#5548a8" font-style="italic">Eggerthella</text>
<text x="183.10" y="287.00" font-size="7.6" textLength="53.40" lengthAdjust="spacingAndGlyphs" fill="#5548a8" font-style="italic">Eggerthellaceae</text>
<text x="183.10" y="295.60" font-size="7.6" textLength="46.90" lengthAdjust="spacingAndGlyphs" fill="#5548a8" font-style="italic">Eggerthellales</text>
<text x="20.40" y="354.80" font-size="7.6" textLength="30.80" lengthAdjust="spacingAndGlyphs" font-style="italic">Clostridia</text>
<text x="22.80" y="375.60" font-size="7.6" textLength="40.60" lengthAdjust="spacingAndGlyphs" fill="#5548a8" font-style="italic">Oscillibacter</text>
<text x="10.00" y="384.40" font-size="7.6" textLength="53.40" lengthAdjust="spacingAndGlyphs" fill="#5548a8" font-style="italic">Oscillospiraceae</text>
<text x="46.70" y="412.90" font-size="7.6" textLength="50.40" lengthAdjust="spacingAndGlyphs" font-style="italic">Erysipelotrichia</text>
<text x="87.90" y="421.40" font-size="7.6" textLength="56.60" lengthAdjust="spacingAndGlyphs" fill="#5548a8" font-style="italic">Erysipelotrichaceae</text>
<text x="87.90" y="429.50" font-size="7.6" textLength="57.60" lengthAdjust="spacingAndGlyphs" fill="#5548a8" font-style="italic">Erysipelotrichales</text>
<text x="87.90" y="437.60" font-size="7.6" textLength="72.70" lengthAdjust="spacingAndGlyphs" fill="#5548a8" font-style="italic">Erysipelatoclostridium</text>
<text x="202.60" y="363.50" font-size="7.6" textLength="48.60" lengthAdjust="spacingAndGlyphs" font-style="italic">Proteobacteria</text>
<text x="198.00" y="372.00" font-size="7.6" textLength="42.80" lengthAdjust="spacingAndGlyphs" fill="#d63a3a" font-style="italic">Enterobacter</text>
<text x="417.30" y="298.80" font-size="7.9" textLength="32.30" lengthAdjust="spacingAndGlyphs">Low CD4</text>
<text x="466.90" y="298.80" font-size="7.9" textLength="35.80" lengthAdjust="spacingAndGlyphs">High CD4</text>
<line x1="412.00" y1="302.30" x2="457.70" y2="302.30" stroke="#c8203a" stroke-width="0.9" />
<path d="M408.0 302.3L413.6 300.0L413.6 304.6z" fill="#c8203a"/>
<line x1="457.70" y1="302.30" x2="508.00" y2="302.30" stroke="#1f1f6b" stroke-width="0.9" />
<path d="M512.3 302.3L506.7 300.0L506.7 304.6z" fill="#1f1f6b"/>
<rect x="457.70" y="308.80" width="32.30" height="4.60" fill="#4d4db0" />
<line x1="405.80" y1="311.10" x2="408.50" y2="311.10" stroke="#231f20" stroke-width="0.7" />
<text x="402.60" y="313.60" font-size="6.9" text-anchor="end">Eggerthellaceae</text>
<rect x="457.70" y="316.00" width="32.30" height="4.60" fill="#4d4db0" />
<line x1="405.80" y1="318.30" x2="408.50" y2="318.30" stroke="#231f20" stroke-width="0.7" />
<text x="402.60" y="320.80" font-size="6.9" text-anchor="end">Eggerthella</text>
<rect x="457.70" y="322.90" width="32.30" height="4.70" fill="#4d4db0" />
<line x1="405.80" y1="325.25" x2="408.50" y2="325.25" stroke="#231f20" stroke-width="0.7" />
<text x="402.60" y="327.75" font-size="6.9" text-anchor="end">Eggerthellales</text>
<rect x="457.70" y="335.40" width="46.00" height="6.00" fill="#1f1f66" />
<line x1="405.80" y1="338.40" x2="408.50" y2="338.40" stroke="#231f20" stroke-width="0.7" />
<text x="402.60" y="340.90" font-size="6.9" text-anchor="end">Erysipelotrichaceae</text>
<rect x="457.70" y="342.40" width="46.00" height="5.60" fill="#1f1f66" />
<line x1="405.80" y1="345.20" x2="408.50" y2="345.20" stroke="#231f20" stroke-width="0.7" />
<text x="402.60" y="347.70" font-size="6.9" text-anchor="end">Erysipelotrichales</text>
<rect x="457.70" y="349.30" width="46.00" height="5.60" fill="#1f1f66" />
<line x1="405.80" y1="352.10" x2="408.50" y2="352.10" stroke="#231f20" stroke-width="0.7" />
<text x="402.60" y="354.60" font-size="6.9" text-anchor="end">Erysipelotrichia</text>
<rect x="457.70" y="356.50" width="44.60" height="5.50" fill="#1f1f66" />
<line x1="405.80" y1="359.25" x2="408.50" y2="359.25" stroke="#231f20" stroke-width="0.7" />
<text x="402.60" y="361.75" font-size="6.9" text-anchor="end">Erysipelatoclostridium</text>
<rect x="457.70" y="364.00" width="42.20" height="5.60" fill="#1f1f66" />
<line x1="405.80" y1="366.80" x2="408.50" y2="366.80" stroke="#231f20" stroke-width="0.7" />
<text x="402.60" y="369.30" font-size="6.9" text-anchor="end">Oscillibacter</text>
<rect x="457.70" y="371.30" width="40.10" height="5.60" fill="#1f1f66" />
<line x1="405.80" y1="374.10" x2="408.50" y2="374.10" stroke="#231f20" stroke-width="0.7" />
<text x="402.60" y="376.60" font-size="6.9" text-anchor="end">Oscillospiraceae</text>
<rect x="417.90" y="378.60" width="39.80" height="5.60" fill="#cd4a45" />
<line x1="405.80" y1="381.40" x2="408.50" y2="381.40" stroke="#231f20" stroke-width="0.7" />
<text x="402.60" y="383.90" font-size="6.9" text-anchor="end">Enterobacter</text>
<rect x="415.10" y="385.80" width="42.60" height="5.60" fill="#cd4a45" />
<line x1="405.80" y1="388.60" x2="408.50" y2="388.60" stroke="#231f20" stroke-width="0.7" />
<text x="402.60" y="391.10" font-size="6.9" text-anchor="end">Lactococcus</text>
<rect x="411.00" y="392.80" width="46.70" height="5.60" fill="#cd4a45" />
<line x1="405.80" y1="395.60" x2="408.50" y2="395.60" stroke="#231f20" stroke-width="0.7" />
<text x="402.60" y="398.10" font-size="6.9" text-anchor="end">Bacilli</text>
<rect x="412.00" y="405.60" width="45.70" height="5.40" fill="#e8503c" />
<line x1="405.80" y1="408.30" x2="408.50" y2="408.30" stroke="#231f20" stroke-width="0.7" />
<text x="402.60" y="410.80" font-size="6.9" text-anchor="end">Bacillales</text>
<rect x="408.50" y="307.40" width="104.10" height="22.20" fill="none" stroke="#231f20" stroke-width="0.9"/>
<rect x="408.50" y="333.70" width="104.10" height="65.80" fill="none" stroke="#231f20" stroke-width="0.9"/>
<rect x="408.50" y="404.20" width="104.10" height="8.20" fill="none" stroke="#231f20" stroke-width="0.9"/>
<line x1="457.70" y1="307.40" x2="457.70" y2="329.60" stroke="#231f20" stroke-width="0.9" />
<line x1="457.70" y1="333.70" x2="457.70" y2="399.50" stroke="#231f20" stroke-width="0.9" />
<line x1="457.70" y1="404.20" x2="457.70" y2="412.40" stroke="#231f20" stroke-width="0.9" />
<text x="494.60" y="328.30" font-size="7.7" textLength="12.00" lengthAdjust="spacingAndGlyphs">BM</text>
<text x="485.40" y="398.30" font-size="7.7" textLength="20.10" lengthAdjust="spacingAndGlyphs">PBSC</text>
<text x="482.60" y="411.20" font-size="7.7" textLength="24.70" lengthAdjust="spacingAndGlyphs">CD34+</text>
<line x1="408.50" y1="414.60" x2="507.30" y2="414.60" stroke="#231f20" stroke-width="0.9" />
<line x1="408.50" y1="414.60" x2="408.50" y2="417.00" stroke="#231f20" stroke-width="0.8" />
<text x="408.50" y="426.10" font-size="7.9" text-anchor="middle">−5</text>
<line x1="433.05" y1="414.60" x2="433.05" y2="417.00" stroke="#231f20" stroke-width="0.8" />
<text x="433.05" y="426.10" font-size="7.9" text-anchor="middle">−2.5</text>
<line x1="457.60" y1="414.60" x2="457.60" y2="417.00" stroke="#231f20" stroke-width="0.8" />
<text x="457.60" y="426.10" font-size="7.9" text-anchor="middle">0</text>
<line x1="482.15" y1="414.60" x2="482.15" y2="417.00" stroke="#231f20" stroke-width="0.8" />
<text x="482.15" y="426.10" font-size="7.9" text-anchor="middle">2.5</text>
<line x1="506.70" y1="414.60" x2="506.70" y2="417.00" stroke="#231f20" stroke-width="0.8" />
<text x="506.70" y="426.10" font-size="7.9" text-anchor="middle">5</text>
<text x="444.80" y="439.80" font-size="9.2" textLength="31.10" lengthAdjust="spacingAndGlyphs">LDA score</text>
<text x="7.80" y="464.40" font-size="10.5" fill="#000" font-weight="bold">H</text>
<text x="225.00" y="464.40" font-size="10.5" fill="#000" font-weight="bold">I</text>
<text x="352.30" y="584.80" font-size="10.5" fill="#000" font-weight="bold">J</text>
<text x="22.60" y="470.80" font-size="9.2" fill="#5cbf4e" font-style="italic">o</text>
<line x1="30.20" y1="470.20" x2="74.80" y2="470.20" stroke="#5cbf4e" stroke-width="1.1" />
<text x="92.60" y="470.80" font-size="9.2" fill="#9c7e76" font-style="italic">f</text>
<line x1="98.30" y1="469.80" x2="143.30" y2="469.80" stroke="#9c7e76" stroke-width="1.1" />
<text x="160.40" y="469.60" font-size="9.2" fill="#ababab" font-style="italic">g</text>
<line x1="167.50" y1="469.80" x2="213.30" y2="469.80" stroke="#ababab" stroke-width="1.1" />
<text x="238.60" y="470.40" font-size="9.2" fill="#9c7e76" font-style="italic">c</text>
<line x1="245.20" y1="469.90" x2="364.60" y2="469.90" stroke="#9c7e76" stroke-width="1.1" />
<text x="390.40" y="469.20" font-size="9.2" fill="#9c7e76" font-style="italic">f</text>
<line x1="395.60" y1="469.20" x2="512.00" y2="469.20" stroke="#9c7e76" stroke-width="1.1" />
<text x="27.60" y="590.80" font-size="9.2" fill="#5cbf4e" font-style="italic">o</text>
<line x1="35.30" y1="590.40" x2="81.60" y2="590.40" stroke="#5cbf4e" stroke-width="1.1" />
<text x="91.30" y="589.60" font-size="9.2" fill="#ababab" font-style="italic">g</text>
<line x1="98.50" y1="590.30" x2="334.00" y2="590.30" stroke="#ababab" stroke-width="1.1" />
<text x="361.90" y="591.00" font-size="9.2" fill="#5cbf4e" font-style="italic">o</text>
<line x1="370.00" y1="590.60" x2="416.20" y2="590.60" stroke="#5cbf4e" stroke-width="1.1" />
<line x1="30.20" y1="483.40" x2="30.20" y2="542.75" stroke="#231f20" stroke-width="0.9" />
<line x1="29.75" y1="542.30" x2="74.80" y2="542.30" stroke="#231f20" stroke-width="0.9" />
<line x1="27.90" y1="491.00" x2="30.20" y2="491.00" stroke="#231f20" stroke-width="0.8" />
<text x="25.80" y="493.30" font-size="6.5" text-anchor="end">−4</text>
<line x1="27.90" y1="500.26" x2="30.20" y2="500.26" stroke="#231f20" stroke-width="0.8" />
<text x="25.80" y="502.56" font-size="6.5" text-anchor="end">−5</text>
<line x1="27.90" y1="509.52" x2="30.20" y2="509.52" stroke="#231f20" stroke-width="0.8" />
<text x="25.80" y="511.82" font-size="6.5" text-anchor="end">−6</text>
<line x1="27.90" y1="518.78" x2="30.20" y2="518.78" stroke="#231f20" stroke-width="0.8" />
<text x="25.80" y="521.08" font-size="6.5" text-anchor="end">−7</text>
<line x1="27.90" y1="528.04" x2="30.20" y2="528.04" stroke="#231f20" stroke-width="0.8" />
<text x="25.80" y="530.34" font-size="6.5" text-anchor="end">−8</text>
<line x1="27.90" y1="537.30" x2="30.20" y2="537.30" stroke="#231f20" stroke-width="0.8" />
<text x="25.80" y="539.60" font-size="6.5" text-anchor="end">−9</text>
<line x1="42.30" y1="542.30" x2="42.30" y2="544.50" stroke="#231f20" stroke-width="0.8" />
<line x1="63.20" y1="542.30" x2="63.20" y2="544.50" stroke="#231f20" stroke-width="0.8" />
<text x="35.80" y="551.90" font-size="7.2" textLength="13.00" lengthAdjust="spacingAndGlyphs">High</text>
<text x="57.60" y="551.90" font-size="7.2" textLength="11.20" lengthAdjust="spacingAndGlyphs">Low</text>
<text x="32.60" y="479.00" font-size="6.3" textLength="40.20" lengthAdjust="spacingAndGlyphs">Eggerthellales</text>
<path d="M42.30 486.80V485.40H63.20V486.80" stroke="#231f20" stroke-width="0.9" fill="none"/>
<text x="52.75" y="484.80" font-size="5.5" text-anchor="middle">*</text>
<rect x="39.70" y="529.89" width="5.2" height="9.26" fill="none" stroke="#9fb3dd" stroke-width="0.5"/>
<line x1="42.30" y1="539.15" x2="42.30" y2="521.56" stroke="#9fb3dd" stroke-width="0.5" />
<line x1="39.70" y1="539.15" x2="44.90" y2="539.15" stroke="#9fb3dd" stroke-width="0.6" />
<path d="M44.6 488.2h0M40.7 501.2h0M42.0 502.8h0M44.2 501.9h0M39.2 505.3h0M41.9 500.8h0M39.0 501.2h0M43.8 512.8h0M45.2 521.6h0M39.2 530.3h0M42.6 534.4h0M41.5 530.2h0M41.8 539.4h0M40.5 539.6h0M42.3 539.2h0M40.5 539.4h0M42.0 539.4h0M39.1 539.3h0M42.7 538.8h0M40.2 539.0h0M44.7 538.7h0M41.2 539.5h0M43.7 538.9h0M41.8 538.7h0M43.4 538.8h0M42.9 539.3h0" stroke="#3d62b3" stroke-width="1.0" stroke-linecap="round" opacity="0.85"/>
<path d="M65.5 509.5h0M63.8 509.5h0M61.5 518.8h0M62.6 534.9h0M63.5 536.1h0M64.4 539.0h0M62.8 539.3h0M65.0 539.1h0M62.5 539.1h0M60.1 539.2h0M64.5 539.6h0M63.8 538.7h0M61.0 539.3h0M66.4 539.1h0M63.5 538.9h0M61.4 538.8h0M66.2 539.1h0" stroke="#e0403c" stroke-width="1.0" stroke-linecap="round" opacity="0.85"/>
<line x1="98.00" y1="483.40" x2="98.00" y2="542.85" stroke="#231f20" stroke-width="0.9" />
<line x1="97.55" y1="542.40" x2="144.20" y2="542.40" stroke="#231f20" stroke-width="0.9" />
<line x1="95.70" y1="491.00" x2="98.00" y2="491.00" stroke="#231f20" stroke-width="0.8" />
<text x="93.60" y="493.30" font-size="6.5" text-anchor="end">−4</text>
<line x1="95.70" y1="500.26" x2="98.00" y2="500.26" stroke="#231f20" stroke-width="0.8" />
<text x="93.60" y="502.56" font-size="6.5" text-anchor="end">−5</text>
<line x1="95.70" y1="509.52" x2="98.00" y2="509.52" stroke="#231f20" stroke-width="0.8" />
<text x="93.60" y="511.82" font-size="6.5" text-anchor="end">−6</text>
<line x1="95.70" y1="518.78" x2="98.00" y2="518.78" stroke="#231f20" stroke-width="0.8" />
<text x="93.60" y="521.08" font-size="6.5" text-anchor="end">−7</text>
<line x1="95.70" y1="528.04" x2="98.00" y2="528.04" stroke="#231f20" stroke-width="0.8" />
<text x="93.60" y="530.34" font-size="6.5" text-anchor="end">−8</text>
<line x1="95.70" y1="537.30" x2="98.00" y2="537.30" stroke="#231f20" stroke-width="0.8" />
<text x="93.60" y="539.60" font-size="6.5" text-anchor="end">−9</text>
<line x1="110.20" y1="542.40" x2="110.20" y2="544.60" stroke="#231f20" stroke-width="0.8" />
<line x1="131.60" y1="542.40" x2="131.60" y2="544.60" stroke="#231f20" stroke-width="0.8" />
<text x="103.70" y="552.00" font-size="7.2" textLength="13.00" lengthAdjust="spacingAndGlyphs">High</text>
<text x="126.00" y="552.00" font-size="7.2" textLength="11.20" lengthAdjust="spacingAndGlyphs">Low</text>
<text x="98.30" y="479.00" font-size="6.3" textLength="45.80" lengthAdjust="spacingAndGlyphs">Eggerthellaceae</text>
<path d="M110.20 486.80V485.40H131.60V486.80" stroke="#231f20" stroke-width="0.9" fill="none"/>
<text x="120.90" y="484.80" font-size="5.5" text-anchor="middle">*</text>
<rect x="107.60" y="529.89" width="5.2" height="9.26" fill="none" stroke="#9fb3dd" stroke-width="0.5"/>
<line x1="110.20" y1="539.15" x2="110.20" y2="521.56" stroke="#9fb3dd" stroke-width="0.5" />
<line x1="107.60" y1="539.15" x2="112.80" y2="539.15" stroke="#9fb3dd" stroke-width="0.6" />
<path d="M113.2 488.2h0M107.5 506.3h0M111.8 500.9h0M108.9 502.1h0M110.9 502.5h0M107.9 502.7h0M109.5 503.8h0M113.5 501.7h0M110.5 512.3h0M108.7 512.8h0M107.1 521.6h0M109.0 531.9h0M112.8 532.2h0M110.6 531.6h0M107.1 539.4h0M107.8 539.3h0M113.5 539.1h0M108.1 539.0h0M112.2 538.8h0M112.9 538.9h0M112.1 538.9h0M113.4 539.3h0M108.0 538.7h0M111.6 538.9h0M110.4 539.2h0M113.0 539.2h0M112.4 539.2h0M112.7 539.3h0" stroke="#3d62b3" stroke-width="1.0" stroke-linecap="round" opacity="0.85"/>
<path d="M131.3 509.5h0M134.4 509.5h0M131.5 518.8h0M130.4 536.0h0M129.4 535.1h0M130.1 538.8h0M130.3 538.8h0M133.0 538.7h0M131.7 539.1h0M132.2 539.0h0M129.7 539.3h0M134.5 539.1h0M128.8 539.0h0M133.1 538.9h0M129.6 538.8h0M128.7 538.9h0M130.1 539.0h0" stroke="#e0403c" stroke-width="1.0" stroke-linecap="round" opacity="0.85"/>
<line x1="168.10" y1="483.40" x2="168.10" y2="542.85" stroke="#231f20" stroke-width="0.9" />
<line x1="167.65" y1="542.40" x2="213.50" y2="542.40" stroke="#231f20" stroke-width="0.9" />
<line x1="165.80" y1="491.00" x2="168.10" y2="491.00" stroke="#231f20" stroke-width="0.8" />
<text x="163.70" y="493.30" font-size="6.5" text-anchor="end">−4</text>
<line x1="165.80" y1="500.26" x2="168.10" y2="500.26" stroke="#231f20" stroke-width="0.8" />
<text x="163.70" y="502.56" font-size="6.5" text-anchor="end">−5</text>
<line x1="165.80" y1="509.52" x2="168.10" y2="509.52" stroke="#231f20" stroke-width="0.8" />
<text x="163.70" y="511.82" font-size="6.5" text-anchor="end">−6</text>
<line x1="165.80" y1="518.78" x2="168.10" y2="518.78" stroke="#231f20" stroke-width="0.8" />
<text x="163.70" y="521.08" font-size="6.5" text-anchor="end">−7</text>
<line x1="165.80" y1="528.04" x2="168.10" y2="528.04" stroke="#231f20" stroke-width="0.8" />
<text x="163.70" y="530.34" font-size="6.5" text-anchor="end">−8</text>
<line x1="165.80" y1="537.30" x2="168.10" y2="537.30" stroke="#231f20" stroke-width="0.8" />
<text x="163.70" y="539.60" font-size="6.5" text-anchor="end">−9</text>
<line x1="180.30" y1="542.40" x2="180.30" y2="544.60" stroke="#231f20" stroke-width="0.8" />
<line x1="201.30" y1="542.40" x2="201.30" y2="544.60" stroke="#231f20" stroke-width="0.8" />
<text x="173.80" y="552.00" font-size="7.2" textLength="13.00" lengthAdjust="spacingAndGlyphs">High</text>
<text x="195.70" y="552.00" font-size="7.2" textLength="11.20" lengthAdjust="spacingAndGlyphs">Low</text>
<text x="174.20" y="479.00" font-size="6.3" textLength="32.30" lengthAdjust="spacingAndGlyphs">Eggerthella</text>
<path d="M180.30 486.80V485.40H201.30V486.80" stroke="#231f20" stroke-width="0.9" fill="none"/>
<text x="190.80" y="484.80" font-size="5.5" text-anchor="middle">*</text>
<rect x="177.70" y="535.45" width="5.2" height="3.70" fill="none" stroke="#9fb3dd" stroke-width="0.5"/>
<line x1="180.30" y1="539.15" x2="180.30" y2="529.89" stroke="#9fb3dd" stroke-width="0.5" />
<line x1="177.70" y1="539.15" x2="182.90" y2="539.15" stroke="#9fb3dd" stroke-width="0.6" />
<path d="M180.6 488.2h0M181.0 505.6h0M177.4 504.2h0M182.5 507.6h0M178.5 506.2h0M180.1 502.1h0M180.1 512.4h0M178.0 512.6h0M182.7 517.9h0M181.9 531.7h0M177.4 531.1h0M180.9 530.8h0M177.2 539.3h0M180.1 538.8h0M182.8 538.9h0M183.1 539.0h0M182.3 539.2h0M183.2 539.2h0M177.6 538.8h0M178.4 539.5h0M179.9 538.7h0M179.0 539.0h0M179.5 539.1h0M180.9 539.3h0M183.0 539.1h0M183.1 539.0h0" stroke="#3d62b3" stroke-width="1.0" stroke-linecap="round" opacity="0.85"/>
<path d="M204.5 509.5h0M199.1 509.5h0M204.4 518.8h0M201.8 534.7h0M199.4 535.1h0M201.8 538.8h0M198.4 539.4h0M204.5 538.8h0M203.3 539.5h0M199.0 539.2h0M203.1 539.3h0M198.3 538.8h0M198.3 539.0h0M200.2 538.9h0M204.5 538.8h0M204.6 539.1h0M198.5 539.3h0" stroke="#e0403c" stroke-width="1.0" stroke-linecap="round" opacity="0.85"/>
<text x="108.30" y="562.60" font-size="8.0" textLength="26.90" lengthAdjust="spacingAndGlyphs">CD4 (BM)</text>
<text x="12.90" y="512.50" font-size="7.1" text-anchor="middle" textLength="43.80" lengthAdjust="spacingAndGlyphs" transform="rotate(-90 12.90 512.50)">Log(abundance)</text>
<line x1="245.50" y1="483.20" x2="245.50" y2="542.65" stroke="#231f20" stroke-width="0.9" />
<line x1="245.05" y1="542.20" x2="290.70" y2="542.20" stroke="#231f20" stroke-width="0.9" />
<line x1="243.20" y1="489.00" x2="245.50" y2="489.00" stroke="#231f20" stroke-width="0.8" />
<text x="241.10" y="491.30" font-size="6.5" text-anchor="end">0.0</text>
<line x1="243.20" y1="502.73" x2="245.50" y2="502.73" stroke="#231f20" stroke-width="0.8" />
<text x="241.10" y="505.03" font-size="6.5" text-anchor="end">−2.5</text>
<line x1="243.20" y1="516.45" x2="245.50" y2="516.45" stroke="#231f20" stroke-width="0.8" />
<text x="241.10" y="518.75" font-size="6.5" text-anchor="end">−5.0</text>
<line x1="243.20" y1="530.17" x2="245.50" y2="530.17" stroke="#231f20" stroke-width="0.8" />
<text x="241.10" y="532.47" font-size="6.5" text-anchor="end">−7.5</text>
<line x1="257.30" y1="542.20" x2="257.30" y2="544.40" stroke="#231f20" stroke-width="0.8" />
<line x1="277.90" y1="542.20" x2="277.90" y2="544.40" stroke="#231f20" stroke-width="0.8" />
<text x="250.80" y="551.80" font-size="7.2" textLength="13.00" lengthAdjust="spacingAndGlyphs">High</text>
<text x="272.30" y="551.80" font-size="7.2" textLength="11.20" lengthAdjust="spacingAndGlyphs">Low</text>
<text x="259.70" y="477.40" font-size="6.3" textLength="16.40" lengthAdjust="spacingAndGlyphs">Bacilli</text>
<path d="M257.30 486.60V485.20H277.90V486.60" stroke="#231f20" stroke-width="0.9" fill="none"/>
<text x="267.60" y="482.60" font-size="6.0" text-anchor="middle">ns</text>
<rect x="254.70" y="489.00" width="5.2" height="16.47" fill="none" stroke="#9fb3dd" stroke-width="0.5"/>
<line x1="257.30" y1="489.00" x2="257.30" y2="523.04" stroke="#9fb3dd" stroke-width="0.5" />
<line x1="254.70" y1="494.49" x2="259.90" y2="494.49" stroke="#9fb3dd" stroke-width="0.6" />
<rect x="275.30" y="489.00" width="5.2" height="13.18" fill="none" stroke="#f0a09a" stroke-width="0.5"/>
<line x1="277.90" y1="489.00" x2="277.90" y2="516.45" stroke="#f0a09a" stroke-width="0.5" />
<line x1="275.30" y1="492.29" x2="280.50" y2="492.29" stroke="#f0a09a" stroke-width="0.6" />
<path d="M254.7 489.8h0M255.0 489.7h0M256.7 490.0h0M259.3 489.1h0M255.5 489.3h0M255.8 489.5h0M254.7 489.9h0M260.1 489.9h0M259.3 489.2h0M255.3 489.2h0M258.1 489.8h0M259.6 489.3h0M254.6 489.1h0M258.4 489.4h0M255.2 495.8h0M254.6 496.2h0M259.7 489.9h0M256.0 495.2h0M257.8 490.3h0M259.6 490.6h0M256.7 495.7h0M256.8 494.5h0M256.0 500.5h0M254.3 491.6h0M258.1 502.1h0M257.5 498.9h0M256.3 496.3h0M255.3 489.0h0M255.3 497.1h0M255.8 494.0h0M258.9 497.8h0M257.7 498.3h0M254.7 490.3h0M255.5 501.9h0M258.1 492.2h0M256.2 499.5h0M257.0 500.3h0M258.6 502.1h0M260.3 490.4h0M260.3 492.6h0M255.9 502.5h0M259.1 489.5h0M260.2 497.1h0M259.4 494.2h0M255.3 498.7h0M254.9 496.6h0M260.3 497.5h0M254.1 498.2h0M255.1 502.1h0M256.4 492.0h0M254.6 498.7h0M256.8 489.3h0M254.4 499.9h0M255.1 502.0h0M255.0 507.2h0M257.2 515.9h0M260.6 513.0h0M257.5 514.8h0M256.7 505.8h0M257.2 502.9h0M256.7 513.1h0M256.8 515.9h0M259.9 513.0h0M257.3 505.0h0M255.7 516.0h0M255.4 513.1h0M259.7 513.3h0M254.3 514.5h0M257.7 503.7h0M256.7 502.9h0M258.3 504.1h0M258.9 505.6h0M254.6 509.7h0M259.8 513.6h0M260.1 504.1h0M258.3 511.8h0M258.2 505.5h0M257.5 505.3h0M258.5 507.5h0M260.1 512.8h0M254.5 503.3h0M260.3 503.1h0M254.3 518.8h0M254.8 517.2h0M258.4 516.7h0M255.1 523.2h0M257.8 519.1h0M260.1 539.1h0M254.0 539.4h0" stroke="#3d62b3" stroke-width="1.0" stroke-linecap="round" opacity="0.85"/>
<path d="M274.7 489.1h0M275.4 489.1h0M279.8 489.2h0M278.2 489.1h0M275.9 489.1h0M276.8 489.4h0M279.7 489.1h0M278.1 489.6h0M274.8 490.1h0M277.8 489.4h0M278.6 489.1h0M277.0 489.9h0M278.1 489.3h0M280.1 490.1h0M275.2 489.2h0M277.1 489.5h0M276.7 489.2h0M277.8 489.8h0M275.2 489.5h0M278.7 501.2h0M278.0 490.6h0M280.3 496.8h0M275.0 492.1h0M275.9 490.6h0M280.1 498.6h0M279.9 496.9h0M280.4 500.4h0M275.6 500.3h0M276.8 495.9h0M280.6 495.3h0M274.6 493.0h0M278.2 498.4h0M279.3 496.0h0M275.1 496.1h0M280.2 499.4h0M279.7 497.8h0M278.7 489.2h0M278.6 493.4h0M280.6 498.4h0M280.6 496.3h0M280.3 498.5h0M278.6 491.9h0M275.5 496.7h0M277.0 492.1h0M275.5 493.6h0M275.5 501.6h0M275.8 491.6h0M277.1 490.3h0M276.9 494.8h0M275.2 494.2h0M280.8 497.2h0M278.9 500.3h0M276.6 498.2h0M274.7 502.4h0M280.1 489.7h0M279.9 491.7h0M275.6 489.6h0M277.9 494.7h0M280.8 494.8h0M281.0 492.3h0M278.9 514.8h0M279.5 507.2h0M280.1 508.0h0M280.7 512.3h0M278.6 510.9h0M279.2 504.1h0M276.1 512.2h0M278.7 512.0h0M280.5 502.8h0M277.2 511.0h0M276.5 505.2h0M274.7 510.8h0M278.2 513.9h0M278.7 506.9h0M280.9 511.4h0M275.6 507.9h0M281.0 515.5h0M280.7 502.9h0M276.7 508.2h0M276.3 515.2h0M280.7 513.4h0M279.7 504.2h0M276.2 514.4h0M280.9 512.3h0M279.8 524.3h0M278.2 521.5h0M276.3 520.0h0M275.6 522.4h0M274.8 524.7h0M275.4 539.5h0" stroke="#e0403c" stroke-width="1.0" stroke-linecap="round" opacity="0.85"/>
<line x1="319.90" y1="483.20" x2="319.90" y2="542.45" stroke="#231f20" stroke-width="0.9" />
<line x1="319.45" y1="542.00" x2="365.50" y2="542.00" stroke="#231f20" stroke-width="0.9" />
<line x1="317.60" y1="489.00" x2="319.90" y2="489.00" stroke="#231f20" stroke-width="0.8" />
<text x="315.50" y="491.30" font-size="6.5" text-anchor="end">0.0</text>
<line x1="317.60" y1="502.73" x2="319.90" y2="502.73" stroke="#231f20" stroke-width="0.8" />
<text x="315.50" y="505.03" font-size="6.5" text-anchor="end">−2.5</text>
<line x1="317.60" y1="516.45" x2="319.90" y2="516.45" stroke="#231f20" stroke-width="0.8" />
<text x="315.50" y="518.75" font-size="6.5" text-anchor="end">−5.0</text>
<line x1="317.60" y1="530.17" x2="319.90" y2="530.17" stroke="#231f20" stroke-width="0.8" />
<text x="315.50" y="532.47" font-size="6.5" text-anchor="end">−7.5</text>
<line x1="331.70" y1="542.00" x2="331.70" y2="544.20" stroke="#231f20" stroke-width="0.8" />
<line x1="352.60" y1="542.00" x2="352.60" y2="544.20" stroke="#231f20" stroke-width="0.8" />
<text x="325.20" y="551.60" font-size="7.2" textLength="13.00" lengthAdjust="spacingAndGlyphs">High</text>
<text x="347.00" y="551.60" font-size="7.2" textLength="11.20" lengthAdjust="spacingAndGlyphs">Low</text>
<text x="321.70" y="477.60" font-size="6.3" textLength="43.80" lengthAdjust="spacingAndGlyphs">Erysipelotrichia</text>
<path d="M331.70 486.60V485.20H352.60V486.60" stroke="#231f20" stroke-width="0.9" fill="none"/>
<text x="342.15" y="484.60" font-size="5.5" text-anchor="middle">*</text>
<rect x="329.10" y="491.75" width="5.2" height="46.66" fill="none" stroke="#9fb3dd" stroke-width="0.5"/>
<line x1="331.70" y1="489.00" x2="331.70" y2="539.51" stroke="#9fb3dd" stroke-width="0.5" />
<line x1="329.10" y1="510.96" x2="334.30" y2="510.96" stroke="#9fb3dd" stroke-width="0.6" />
<rect x="350.00" y="494.49" width="5.2" height="45.02" fill="none" stroke="#f0a09a" stroke-width="0.5"/>
<line x1="352.60" y1="489.00" x2="352.60" y2="539.51" stroke="#f0a09a" stroke-width="0.5" />
<line x1="350.00" y1="521.94" x2="355.20" y2="521.94" stroke="#f0a09a" stroke-width="0.6" />
<path d="M333.3 492.1h0M334.6 490.7h0M334.5 491.1h0M331.5 497.0h0M332.7 489.5h0M329.1 489.8h0M330.0 493.4h0M332.2 492.8h0M329.8 497.1h0M334.4 494.9h0M329.5 490.9h0M329.3 490.7h0M329.2 492.2h0M334.2 497.2h0M329.8 495.5h0M334.2 489.1h0M334.7 494.9h0M332.9 492.8h0M334.6 495.5h0M334.8 491.5h0M330.4 489.9h0M329.5 494.3h0M328.8 496.0h0M332.4 494.8h0M332.9 497.2h0M330.4 494.5h0M331.6 490.5h0M331.6 494.6h0M328.8 491.4h0M328.6 489.2h0M334.0 491.1h0M333.6 497.1h0M332.2 494.2h0M328.7 497.2h0M334.7 495.7h0M333.4 495.6h0M334.6 489.6h0M330.7 494.4h0M333.5 492.9h0M333.3 496.3h0M334.1 503.9h0M334.6 529.0h0M330.6 527.2h0M334.5 510.1h0M334.5 519.0h0M330.5 512.2h0M329.6 519.7h0M329.4 527.6h0M335.0 507.5h0M328.7 524.9h0M331.9 497.7h0M330.0 516.8h0M333.9 510.6h0M331.2 515.2h0M334.4 528.3h0M331.7 529.1h0M329.3 502.6h0M334.7 506.1h0M333.6 509.4h0M331.3 526.7h0M334.0 525.3h0M331.4 520.5h0M334.0 497.3h0M331.4 498.0h0M333.2 514.1h0M330.3 514.4h0M329.4 516.9h0M334.9 517.8h0M332.5 498.6h0M330.6 513.7h0M330.2 527.2h0M334.1 504.4h0M333.6 518.3h0M333.0 504.6h0M333.4 508.3h0M333.0 518.2h0M331.6 520.9h0M333.0 504.8h0M334.6 520.5h0M332.2 508.8h0M332.0 529.8h0M332.8 521.9h0M333.8 514.9h0M333.7 508.8h0M332.7 518.7h0M333.9 505.9h0M334.0 518.6h0M332.9 501.5h0M334.7 498.0h0M331.9 513.1h0M333.9 524.7h0M331.5 499.3h0M333.1 507.4h0M329.5 506.1h0M332.2 504.5h0M331.2 508.3h0M333.5 509.6h0M333.2 509.2h0M329.5 529.3h0M332.7 515.6h0M332.9 523.0h0M328.7 509.4h0M329.9 514.6h0M329.3 528.4h0M329.6 519.7h0M328.6 523.8h0M330.9 514.8h0M332.3 510.0h0M334.4 522.3h0M331.1 530.2h0M331.1 536.9h0M333.9 538.4h0M328.6 536.0h0M329.0 533.8h0M330.6 534.4h0M334.7 534.1h0M331.2 531.9h0M332.6 531.9h0M329.3 536.1h0M332.1 533.9h0M334.8 530.6h0M330.7 533.8h0M328.4 531.2h0M332.1 538.5h0M329.3 533.8h0M334.3 533.6h0M331.2 536.0h0M330.3 537.4h0M330.9 530.4h0M334.4 530.5h0M330.1 533.9h0M331.7 530.4h0M330.5 535.6h0M331.6 530.3h0M331.5 536.8h0M332.5 538.4h0M330.3 535.4h0M333.9 532.2h0M331.9 539.4h0M334.6 537.0h0M330.0 532.2h0M329.4 537.0h0M330.3 530.3h0M331.5 533.8h0M332.4 533.5h0M329.2 539.1h0M330.4 539.1h0M330.6 539.2h0M331.9 539.3h0M330.8 539.3h0M332.3 539.1h0M330.1 539.5h0M334.4 539.3h0M332.0 539.0h0M333.5 539.5h0" stroke="#3d62b3" stroke-width="1.0" stroke-linecap="round" opacity="0.85"/>
<path d="M353.1 493.7h0M353.5 491.4h0M355.3 493.3h0M351.9 494.1h0M350.6 490.2h0M354.8 494.8h0M354.8 496.7h0M352.2 491.5h0M354.5 494.9h0M350.2 489.7h0M352.9 493.3h0M351.5 493.1h0M353.2 496.0h0M349.8 490.5h0M354.7 495.3h0M353.7 490.7h0M354.1 497.0h0M355.9 489.2h0M349.6 491.5h0M350.7 490.3h0M355.6 491.9h0M350.2 491.4h0M355.4 494.8h0M353.3 496.0h0M350.4 493.8h0M349.6 509.7h0M351.8 526.6h0M349.7 527.8h0M354.2 511.2h0M350.2 501.2h0M351.4 516.0h0M352.5 510.4h0M351.8 499.3h0M353.9 528.3h0M353.5 525.2h0M355.3 513.5h0M353.4 511.9h0M352.9 521.5h0M354.3 521.8h0M350.2 513.1h0M351.8 522.5h0M350.5 505.9h0M353.6 506.7h0M353.7 527.4h0M350.1 527.2h0M350.9 510.6h0M352.5 501.3h0M354.6 519.5h0M354.1 529.2h0M350.3 528.4h0M353.8 498.8h0M350.1 522.8h0M353.7 498.1h0M350.2 503.1h0M351.6 509.6h0M351.5 522.4h0M351.6 510.0h0M350.2 517.5h0M353.6 502.8h0M352.2 503.7h0M352.7 502.1h0M353.1 510.7h0M351.9 505.8h0M349.5 527.0h0M349.6 523.5h0M352.5 500.9h0M349.3 505.1h0M355.2 514.7h0M352.1 509.8h0M350.0 514.8h0M350.3 525.1h0M351.8 517.8h0M350.3 501.2h0M351.1 521.8h0M351.2 524.9h0M352.5 522.4h0M355.4 529.1h0M355.5 518.0h0M353.7 507.5h0M355.5 514.6h0M353.7 526.3h0M353.8 520.6h0M350.4 506.2h0M349.5 523.6h0M349.8 522.6h0M355.7 517.0h0M351.4 518.2h0M351.2 514.8h0M354.0 506.1h0M350.9 524.8h0M355.5 508.0h0M352.1 508.9h0M349.3 498.0h0M354.4 528.2h0M349.6 516.7h0M355.8 534.4h0M351.6 534.7h0M349.8 538.6h0M352.5 531.1h0M349.7 530.8h0M349.6 537.2h0M349.7 535.8h0M352.0 537.1h0M349.6 536.7h0M355.7 539.2h0M352.7 537.8h0M352.8 535.8h0M351.4 538.7h0M352.9 538.5h0M353.2 530.9h0M350.7 531.5h0M352.9 539.3h0M353.1 535.0h0M353.4 536.0h0M355.3 532.7h0M352.3 536.6h0M350.8 531.8h0M351.4 538.4h0M354.4 538.7h0M351.4 531.9h0M349.8 538.3h0M349.9 537.2h0M353.1 535.5h0M349.7 537.2h0M349.6 533.0h0M351.2 539.6h0M350.0 539.5h0M351.4 539.4h0M353.0 539.2h0M353.6 539.0h0M353.1 539.2h0M354.7 539.4h0M355.6 539.2h0M353.9 539.2h0M354.7 539.6h0M350.2 539.5h0M350.4 539.7h0M353.8 539.6h0M349.7 539.5h0M353.0 539.2h0M349.6 539.8h0M351.7 539.7h0M355.6 539.1h0" stroke="#e0403c" stroke-width="1.0" stroke-linecap="round" opacity="0.85"/>
<line x1="395.80" y1="483.20" x2="395.80" y2="542.35" stroke="#231f20" stroke-width="0.9" />
<line x1="395.35" y1="541.90" x2="441.20" y2="541.90" stroke="#231f20" stroke-width="0.9" />
<line x1="393.50" y1="489.00" x2="395.80" y2="489.00" stroke="#231f20" stroke-width="0.8" />
<text x="391.40" y="491.30" font-size="6.5" text-anchor="end">0.0</text>
<line x1="393.50" y1="502.73" x2="395.80" y2="502.73" stroke="#231f20" stroke-width="0.8" />
<text x="391.40" y="505.03" font-size="6.5" text-anchor="end">−2.5</text>
<line x1="393.50" y1="516.45" x2="395.80" y2="516.45" stroke="#231f20" stroke-width="0.8" />
<text x="391.40" y="518.75" font-size="6.5" text-anchor="end">−5.0</text>
<line x1="393.50" y1="530.17" x2="395.80" y2="530.17" stroke="#231f20" stroke-width="0.8" />
<text x="391.40" y="532.47" font-size="6.5" text-anchor="end">−7.5</text>
<line x1="407.60" y1="541.90" x2="407.60" y2="544.10" stroke="#231f20" stroke-width="0.8" />
<line x1="428.50" y1="541.90" x2="428.50" y2="544.10" stroke="#231f20" stroke-width="0.8" />
<text x="401.10" y="551.50" font-size="7.2" textLength="13.00" lengthAdjust="spacingAndGlyphs">High</text>
<text x="422.90" y="551.50" font-size="7.2" textLength="11.20" lengthAdjust="spacingAndGlyphs">Low</text>
<text x="392.70" y="477.40" font-size="6.3" textLength="51.20" lengthAdjust="spacingAndGlyphs">Erysipelotricaceae</text>
<path d="M407.60 486.60V485.20H428.50V486.60" stroke="#231f20" stroke-width="0.9" fill="none"/>
<text x="418.05" y="484.60" font-size="5.5" text-anchor="middle">*</text>
<rect x="405.00" y="491.75" width="5.2" height="46.66" fill="none" stroke="#9fb3dd" stroke-width="0.5"/>
<line x1="407.60" y1="489.00" x2="407.60" y2="539.51" stroke="#9fb3dd" stroke-width="0.5" />
<line x1="405.00" y1="510.96" x2="410.20" y2="510.96" stroke="#9fb3dd" stroke-width="0.6" />
<rect x="425.90" y="494.49" width="5.2" height="45.02" fill="none" stroke="#f0a09a" stroke-width="0.5"/>
<line x1="428.50" y1="489.00" x2="428.50" y2="539.51" stroke="#f0a09a" stroke-width="0.5" />
<line x1="425.90" y1="521.94" x2="431.10" y2="521.94" stroke="#f0a09a" stroke-width="0.6" />
<path d="M409.7 490.7h0M406.0 493.2h0M408.7 497.2h0M409.3 493.4h0M409.4 494.2h0M409.6 495.0h0M407.0 491.2h0M408.8 492.8h0M408.0 495.6h0M406.1 490.6h0M408.8 490.6h0M406.5 490.3h0M409.6 496.5h0M407.2 490.6h0M405.6 496.5h0M406.2 492.0h0M408.2 489.4h0M408.6 495.6h0M410.5 494.3h0M407.7 489.7h0M408.9 491.9h0M410.7 490.6h0M406.7 497.0h0M406.3 492.3h0M404.9 492.4h0M407.8 490.0h0M408.7 496.3h0M405.6 494.7h0M405.2 493.3h0M410.0 495.5h0M404.4 491.5h0M404.4 490.8h0M410.3 494.5h0M406.3 492.1h0M406.9 494.1h0M410.9 496.2h0M407.1 496.8h0M406.9 491.1h0M405.9 489.2h0M410.2 489.2h0M410.2 508.1h0M409.8 515.4h0M407.7 504.0h0M409.0 514.7h0M404.9 516.7h0M406.1 505.6h0M409.5 514.1h0M404.4 524.5h0M408.2 526.1h0M406.0 518.3h0M410.4 515.3h0M407.0 521.8h0M408.3 501.2h0M407.4 521.3h0M405.2 514.4h0M406.3 517.7h0M406.4 503.7h0M410.7 508.5h0M406.8 499.8h0M406.4 510.3h0M407.5 517.1h0M410.5 504.0h0M404.3 520.6h0M404.7 515.4h0M409.4 529.2h0M409.0 526.5h0M410.5 518.3h0M404.7 502.1h0M410.6 523.8h0M407.1 510.0h0M409.7 504.4h0M407.4 514.0h0M406.7 526.9h0M408.4 525.4h0M405.3 510.2h0M404.9 509.5h0M408.6 526.7h0M410.2 514.9h0M408.9 509.4h0M409.8 526.0h0M408.4 527.4h0M410.3 500.2h0M407.3 500.7h0M409.5 507.3h0M410.5 525.7h0M407.2 500.2h0M407.3 504.5h0M409.0 521.1h0M409.6 528.1h0M406.2 498.0h0M404.9 499.2h0M406.1 501.9h0M407.1 498.3h0M404.5 499.8h0M409.7 527.4h0M407.8 509.1h0M405.4 529.1h0M404.6 518.0h0M409.4 497.5h0M408.9 498.9h0M404.8 518.9h0M405.1 506.1h0M407.4 512.2h0M404.8 513.9h0M407.7 527.7h0M407.8 529.2h0M406.2 525.2h0M408.1 525.2h0M405.8 517.4h0M408.0 522.9h0M407.1 531.0h0M406.4 538.0h0M408.1 537.3h0M408.1 532.2h0M406.4 537.8h0M407.2 536.0h0M410.9 535.8h0M408.7 534.4h0M408.6 532.8h0M406.8 532.0h0M410.7 533.3h0M408.4 538.0h0M404.7 535.9h0M409.3 539.1h0M409.0 538.4h0M406.7 538.6h0M407.9 539.2h0M405.8 532.2h0M410.4 534.2h0M407.4 536.8h0M410.0 532.7h0M408.7 537.9h0M405.0 538.4h0M404.6 530.3h0M409.3 530.9h0M409.1 533.2h0M406.2 533.4h0M405.6 535.4h0M409.4 531.5h0M405.7 532.2h0M406.0 534.0h0M409.2 532.1h0M409.0 530.2h0M409.4 533.1h0M408.2 538.6h0M406.7 539.5h0M410.6 539.4h0M410.4 539.5h0M407.2 539.0h0M404.6 539.1h0M404.4 539.4h0M404.3 539.5h0M404.9 539.1h0M406.1 539.2h0M407.1 539.4h0" stroke="#3d62b3" stroke-width="1.0" stroke-linecap="round" opacity="0.85"/>
<path d="M431.6 495.7h0M429.1 494.1h0M429.3 492.6h0M427.0 493.3h0M431.1 496.1h0M428.2 495.6h0M429.0 490.6h0M430.5 489.4h0M426.0 493.0h0M428.3 492.4h0M428.7 490.1h0M430.6 491.5h0M430.8 493.4h0M426.2 489.8h0M430.9 489.7h0M427.4 490.2h0M426.1 495.2h0M430.8 494.2h0M425.2 494.2h0M425.7 494.7h0M430.3 492.1h0M425.8 489.6h0M426.0 494.1h0M430.7 489.7h0M431.5 493.0h0M430.3 513.0h0M427.6 514.1h0M430.8 497.4h0M430.9 510.7h0M430.5 508.8h0M426.1 528.0h0M429.2 526.6h0M426.2 506.5h0M425.9 513.5h0M430.3 507.5h0M431.7 527.3h0M426.0 508.3h0M426.2 518.6h0M431.3 506.2h0M426.4 524.4h0M430.9 509.5h0M428.2 505.8h0M429.3 526.5h0M430.5 515.2h0M430.0 511.3h0M429.3 498.2h0M427.0 500.1h0M431.0 530.1h0M431.8 529.2h0M425.6 515.2h0M430.0 521.1h0M429.3 517.5h0M430.7 526.8h0M430.7 517.9h0M429.6 525.3h0M427.9 514.7h0M428.7 529.5h0M425.9 502.6h0M425.3 515.5h0M431.6 497.4h0M428.4 507.8h0M426.0 527.9h0M430.4 507.0h0M430.9 497.6h0M426.9 515.8h0M427.5 512.3h0M431.0 512.2h0M431.7 515.3h0M425.5 506.5h0M429.6 505.6h0M425.2 509.7h0M428.5 501.2h0M426.3 512.5h0M425.3 529.0h0M427.2 523.3h0M425.6 525.1h0M429.8 506.2h0M426.6 501.1h0M429.1 506.2h0M431.0 527.2h0M426.4 518.4h0M431.3 524.1h0M427.7 522.9h0M427.6 512.2h0M425.8 508.6h0M429.1 516.0h0M429.2 509.8h0M429.4 521.3h0M428.4 498.2h0M430.7 509.0h0M427.0 521.9h0M427.2 498.2h0M427.6 516.1h0M428.8 497.5h0M426.3 500.7h0M429.5 536.9h0M429.6 536.5h0M425.7 534.8h0M428.1 538.5h0M426.4 534.5h0M425.2 537.1h0M427.2 537.0h0M429.1 535.9h0M429.9 531.5h0M427.1 532.6h0M430.0 534.9h0M426.8 531.2h0M425.5 539.4h0M431.0 534.7h0M430.4 538.1h0M430.9 533.5h0M425.9 531.1h0M426.1 532.1h0M427.8 538.4h0M425.7 534.9h0M426.4 536.9h0M425.9 538.2h0M426.6 539.3h0M428.0 536.5h0M429.2 533.0h0M427.3 535.0h0M426.5 533.8h0M425.9 537.9h0M426.1 533.3h0M427.5 537.4h0M429.5 539.3h0M429.1 539.3h0M431.2 539.6h0M427.9 539.2h0M429.0 539.5h0M429.5 539.7h0M427.6 539.0h0M426.9 539.4h0M427.7 539.0h0M429.9 539.5h0M431.2 539.5h0M429.1 539.4h0M429.1 539.5h0M425.9 539.4h0M426.3 539.1h0M429.7 539.3h0M427.4 539.4h0M431.8 539.4h0" stroke="#e0403c" stroke-width="1.0" stroke-linecap="round" opacity="0.85"/>
<line x1="467.60" y1="482.90" x2="467.60" y2="541.65" stroke="#231f20" stroke-width="0.9" />
<line x1="467.15" y1="541.20" x2="508.60" y2="541.20" stroke="#231f20" stroke-width="0.9" />
<line x1="465.30" y1="483.50" x2="467.60" y2="483.50" stroke="#231f20" stroke-width="0.8" />
<text x="463.20" y="485.80" font-size="6.5" text-anchor="end">−3</text>
<line x1="465.30" y1="492.48" x2="467.60" y2="492.48" stroke="#231f20" stroke-width="0.8" />
<text x="463.20" y="494.78" font-size="6.5" text-anchor="end">−4</text>
<line x1="465.30" y1="501.46" x2="467.60" y2="501.46" stroke="#231f20" stroke-width="0.8" />
<text x="463.20" y="503.76" font-size="6.5" text-anchor="end">−5</text>
<line x1="465.30" y1="510.44" x2="467.60" y2="510.44" stroke="#231f20" stroke-width="0.8" />
<text x="463.20" y="512.74" font-size="6.5" text-anchor="end">−6</text>
<line x1="465.30" y1="519.42" x2="467.60" y2="519.42" stroke="#231f20" stroke-width="0.8" />
<text x="463.20" y="521.72" font-size="6.5" text-anchor="end">−7</text>
<line x1="465.30" y1="528.40" x2="467.60" y2="528.40" stroke="#231f20" stroke-width="0.8" />
<text x="463.20" y="530.70" font-size="6.5" text-anchor="end">−8</text>
<line x1="465.30" y1="537.38" x2="467.60" y2="537.38" stroke="#231f20" stroke-width="0.8" />
<text x="463.20" y="539.68" font-size="6.5" text-anchor="end">−9</text>
<line x1="479.50" y1="541.20" x2="479.50" y2="543.40" stroke="#231f20" stroke-width="0.8" />
<line x1="499.60" y1="541.20" x2="499.60" y2="543.40" stroke="#231f20" stroke-width="0.8" />
<text x="473.00" y="550.80" font-size="7.2" textLength="13.00" lengthAdjust="spacingAndGlyphs">High</text>
<text x="494.00" y="550.80" font-size="7.2" textLength="11.20" lengthAdjust="spacingAndGlyphs">Low</text>
<text x="466.70" y="477.60" font-size="6.3" textLength="45.30" lengthAdjust="spacingAndGlyphs">Oscillospiraceae</text>
<path d="M479.50 486.30V484.90H499.60V486.30" stroke="#231f20" stroke-width="0.9" fill="none"/>
<text x="489.55" y="484.30" font-size="5.5" text-anchor="middle">*</text>
<path d="M477.2 488.0h0M476.7 498.8h0M478.6 504.5h0M479.5 505.8h0M479.1 505.8h0M476.8 511.3h0M481.7 523.6h0M477.7 525.7h0M482.5 522.1h0M478.8 522.5h0M476.5 519.6h0M478.1 520.4h0M477.0 525.6h0M481.6 532.7h0M480.0 533.1h0M478.7 539.1h0M476.6 539.1h0M477.6 539.6h0M479.0 539.0h0M480.1 539.3h0M478.2 539.2h0M480.8 538.9h0M480.0 539.4h0M482.0 539.2h0M478.1 539.0h0M477.0 538.7h0M481.2 539.2h0M479.4 539.5h0M480.6 539.6h0" stroke="#3d62b3" stroke-width="1.0" stroke-linecap="round" opacity="0.85"/>
<path d="M500.1 491.9h0M498.4 491.7h0M500.2 492.0h0M499.3 501.2h0M502.5 500.2h0M500.7 501.6h0M500.9 513.0h0M502.9 511.4h0M498.2 510.9h0M500.7 518.7h0M499.3 519.4h0M497.1 536.5h0M501.4 539.6h0M497.9 539.5h0M502.1 539.3h0M499.3 539.6h0M502.1 539.1h0M502.0 538.9h0M499.0 539.4h0M502.1 539.3h0M497.3 538.8h0M497.8 539.5h0M499.5 539.4h0M498.0 539.1h0" stroke="#e0403c" stroke-width="1.0" stroke-linecap="round" opacity="0.85"/>
<text x="363.00" y="562.00" font-size="8.0" textLength="31.50" lengthAdjust="spacingAndGlyphs">CD4 (PBSC)</text>
<line x1="35.30" y1="604.60" x2="35.30" y2="664.45" stroke="#231f20" stroke-width="0.9" />
<line x1="34.85" y1="664.00" x2="81.60" y2="664.00" stroke="#231f20" stroke-width="0.9" />
<line x1="33.00" y1="609.70" x2="35.30" y2="609.70" stroke="#231f20" stroke-width="0.8" />
<text x="30.90" y="612.00" font-size="6.5" text-anchor="end">0.0</text>
<line x1="33.00" y1="623.83" x2="35.30" y2="623.83" stroke="#231f20" stroke-width="0.8" />
<text x="30.90" y="626.12" font-size="6.5" text-anchor="end">−2.5</text>
<line x1="33.00" y1="637.95" x2="35.30" y2="637.95" stroke="#231f20" stroke-width="0.8" />
<text x="30.90" y="640.25" font-size="6.5" text-anchor="end">−5.0</text>
<line x1="33.00" y1="652.08" x2="35.30" y2="652.08" stroke="#231f20" stroke-width="0.8" />
<text x="30.90" y="654.38" font-size="6.5" text-anchor="end">−7.5</text>
<line x1="47.90" y1="664.00" x2="47.90" y2="666.20" stroke="#231f20" stroke-width="0.8" />
<line x1="69.00" y1="664.00" x2="69.00" y2="666.20" stroke="#231f20" stroke-width="0.8" />
<text x="41.40" y="673.60" font-size="7.2" textLength="13.00" lengthAdjust="spacingAndGlyphs">High</text>
<text x="63.40" y="673.60" font-size="7.2" textLength="11.20" lengthAdjust="spacingAndGlyphs">Low</text>
<text x="33.80" y="598.90" font-size="6.3" textLength="49.20" lengthAdjust="spacingAndGlyphs">Erysipelotrichales</text>
<path d="M47.90 608.00V606.60H69.00V608.00" stroke="#231f20" stroke-width="0.9" fill="none"/>
<text x="58.45" y="606.00" font-size="5.5" text-anchor="middle">*</text>
<rect x="45.30" y="614.22" width="5.2" height="39.55" fill="none" stroke="#9fb3dd" stroke-width="0.5"/>
<line x1="47.90" y1="609.70" x2="47.90" y2="661.68" stroke="#9fb3dd" stroke-width="0.5" />
<line x1="45.30" y1="630.61" x2="50.50" y2="630.61" stroke="#9fb3dd" stroke-width="0.6" />
<rect x="66.40" y="621.00" width="5.2" height="37.29" fill="none" stroke="#f0a09a" stroke-width="0.5"/>
<line x1="69.00" y1="609.70" x2="69.00" y2="661.68" stroke="#f0a09a" stroke-width="0.5" />
<line x1="66.40" y1="641.91" x2="71.60" y2="641.91" stroke="#f0a09a" stroke-width="0.6" />
<path d="M51.0 616.3h0M49.3 617.1h0M46.2 617.5h0M46.0 609.7h0M47.6 612.7h0M47.9 614.3h0M50.1 616.5h0M46.1 617.4h0M46.4 618.0h0M50.6 614.7h0M45.4 615.0h0M51.1 616.0h0M48.7 617.6h0M49.0 615.0h0M49.2 615.3h0M48.9 614.0h0M48.4 610.5h0M45.0 617.0h0M47.8 610.2h0M50.8 616.5h0M49.4 613.3h0M46.5 610.7h0M50.4 615.2h0M49.6 617.0h0M49.2 617.3h0M50.9 612.2h0M47.9 611.0h0M45.6 616.5h0M48.0 613.7h0M50.6 617.6h0M49.2 613.9h0M46.2 616.3h0M46.9 618.1h0M47.4 615.9h0M50.1 615.0h0M45.8 621.9h0M45.7 638.6h0M51.0 629.6h0M49.7 645.2h0M44.7 641.9h0M46.9 626.2h0M47.5 646.3h0M47.3 644.2h0M47.4 637.0h0M46.5 632.1h0M45.2 648.9h0M48.0 648.5h0M49.9 639.9h0M49.3 635.0h0M45.0 618.9h0M45.5 651.5h0M48.4 639.0h0M46.9 626.9h0M44.6 619.4h0M46.0 623.7h0M44.8 622.4h0M49.6 619.4h0M48.4 618.5h0M51.0 646.0h0M45.2 637.1h0M47.9 631.6h0M45.6 636.0h0M48.4 647.9h0M45.4 636.7h0M49.4 637.2h0M47.7 627.8h0M47.0 638.7h0M45.9 644.4h0M45.3 636.9h0M49.3 627.5h0M44.7 631.3h0M47.5 639.7h0M51.0 648.9h0M47.9 626.5h0M45.9 628.2h0M48.1 644.3h0M48.9 626.9h0M48.6 651.8h0M49.5 621.3h0M51.1 620.6h0M46.6 644.5h0M51.0 633.5h0M50.8 639.6h0M48.0 623.2h0M50.9 630.9h0M46.6 625.5h0M45.9 623.4h0M50.9 639.5h0M46.7 623.4h0M48.6 642.2h0M49.1 653.6h0M49.4 652.7h0M48.6 653.8h0M47.4 658.2h0M48.1 657.0h0M46.4 653.6h0M49.4 661.0h0M47.4 659.1h0M50.1 660.6h0M46.5 659.0h0M47.9 654.0h0M50.5 659.0h0M47.0 657.7h0M49.8 652.4h0M46.2 654.5h0M48.5 653.9h0M47.0 653.7h0M49.8 654.2h0M48.9 658.0h0M51.2 654.2h0M49.8 652.8h0M48.6 660.4h0M45.2 661.3h0M50.3 661.4h0M50.7 661.2h0M48.6 661.6h0M48.9 661.2h0M44.9 661.5h0" stroke="#3d62b3" stroke-width="1.0" stroke-linecap="round" opacity="0.85"/>
<path d="M71.4 610.4h0M68.1 612.6h0M71.1 611.2h0M69.7 612.0h0M67.7 615.5h0M67.9 615.1h0M66.5 613.8h0M68.0 612.1h0M67.4 616.8h0M68.5 614.9h0M66.4 611.5h0M67.6 616.3h0M70.6 616.7h0M66.0 617.3h0M70.6 613.5h0M69.4 624.1h0M71.5 641.0h0M68.9 627.1h0M71.9 633.0h0M71.8 618.3h0M67.9 647.6h0M66.8 638.2h0M66.1 626.2h0M69.6 622.0h0M68.4 631.3h0M69.5 620.3h0M71.8 621.7h0M72.2 628.6h0M68.1 635.5h0M69.2 623.5h0M70.2 641.6h0M66.5 635.9h0M69.0 623.7h0M69.2 619.1h0M67.6 620.3h0M69.2 644.7h0M71.1 626.1h0M66.5 630.1h0M65.9 638.7h0M71.9 639.5h0M70.3 640.3h0M66.6 631.0h0M66.2 628.7h0M69.5 645.8h0M72.1 647.8h0M69.9 637.6h0M66.4 619.4h0M66.0 618.2h0M70.0 631.7h0M68.1 618.7h0M70.0 620.0h0M66.8 635.9h0M68.1 644.1h0M68.2 640.3h0M68.2 624.7h0M66.0 630.8h0M70.4 647.3h0M67.8 621.9h0M67.2 651.0h0M68.1 639.9h0M67.7 633.0h0M70.9 630.1h0M70.6 625.5h0M67.4 632.3h0M67.6 623.6h0M68.7 653.4h0M69.0 655.6h0M68.0 655.4h0M70.6 656.1h0M69.7 658.2h0M68.8 657.3h0M69.3 658.0h0M66.8 654.9h0M71.1 660.3h0M70.9 660.8h0M67.1 654.4h0M67.4 655.6h0M67.0 653.2h0M65.9 660.6h0M67.1 654.8h0M72.1 658.7h0M70.6 654.6h0M69.9 656.1h0M71.1 661.6h0M71.3 658.5h0M71.7 657.7h0M72.2 661.7h0M69.1 660.8h0M72.2 657.1h0M72.2 654.8h0M68.5 661.2h0M66.7 661.8h0M72.0 661.4h0M68.0 661.4h0M70.0 661.5h0M70.3 661.7h0M65.9 661.8h0M68.9 661.9h0M67.2 661.4h0M70.3 661.6h0M69.1 661.7h0M68.4 661.5h0" stroke="#e0403c" stroke-width="1.0" stroke-linecap="round" opacity="0.85"/>
<line x1="98.25" y1="604.60" x2="98.25" y2="664.65" stroke="#231f20" stroke-width="0.9" />
<line x1="97.80" y1="664.20" x2="143.00" y2="664.20" stroke="#231f20" stroke-width="0.9" />
<line x1="95.95" y1="609.70" x2="98.25" y2="609.70" stroke="#231f20" stroke-width="0.8" />
<text x="93.85" y="612.00" font-size="6.5" text-anchor="end">0.0</text>
<line x1="95.95" y1="623.83" x2="98.25" y2="623.83" stroke="#231f20" stroke-width="0.8" />
<text x="93.85" y="626.12" font-size="6.5" text-anchor="end">−2.5</text>
<line x1="95.95" y1="637.95" x2="98.25" y2="637.95" stroke="#231f20" stroke-width="0.8" />
<text x="93.85" y="640.25" font-size="6.5" text-anchor="end">−5.0</text>
<line x1="95.95" y1="652.08" x2="98.25" y2="652.08" stroke="#231f20" stroke-width="0.8" />
<text x="93.85" y="654.38" font-size="6.5" text-anchor="end">−7.5</text>
<line x1="110.85" y1="664.20" x2="110.85" y2="666.40" stroke="#231f20" stroke-width="0.8" />
<line x1="131.95" y1="664.20" x2="131.95" y2="666.40" stroke="#231f20" stroke-width="0.8" />
<text x="104.35" y="673.80" font-size="7.2" textLength="13.00" lengthAdjust="spacingAndGlyphs">High</text>
<text x="126.35" y="673.80" font-size="7.2" textLength="11.20" lengthAdjust="spacingAndGlyphs">Low</text>
<text x="89.80" y="598.90" font-size="6.3" textLength="63.20" lengthAdjust="spacingAndGlyphs">Erysipelatoclostridium</text>
<path d="M110.85 608.00V606.60H131.95V608.00" stroke="#231f20" stroke-width="0.9" fill="none"/>
<text x="121.40" y="606.00" font-size="5.5" text-anchor="middle">**</text>
<rect x="108.25" y="614.22" width="5.2" height="39.55" fill="none" stroke="#9fb3dd" stroke-width="0.5"/>
<line x1="110.85" y1="609.70" x2="110.85" y2="661.68" stroke="#9fb3dd" stroke-width="0.5" />
<line x1="108.25" y1="630.61" x2="113.45" y2="630.61" stroke="#9fb3dd" stroke-width="0.6" />
<rect x="129.35" y="621.00" width="5.2" height="37.29" fill="none" stroke="#f0a09a" stroke-width="0.5"/>
<line x1="131.95" y1="609.70" x2="131.95" y2="661.68" stroke="#f0a09a" stroke-width="0.5" />
<line x1="129.35" y1="645.86" x2="134.55" y2="645.86" stroke="#f0a09a" stroke-width="0.6" />
<path d="M110.0 614.3h0M113.3 617.0h0M110.9 618.1h0M108.1 610.6h0M111.6 613.5h0M110.1 617.8h0M110.5 612.2h0M108.6 612.0h0M108.3 616.2h0M113.6 613.9h0M112.7 613.2h0M112.5 614.9h0M109.5 617.3h0M112.3 612.5h0M108.1 614.6h0M108.9 615.9h0M112.9 615.8h0M113.4 616.5h0M107.9 610.7h0M110.8 615.0h0M110.4 618.0h0M108.3 610.5h0M108.4 613.1h0M113.5 613.3h0M107.6 616.5h0M111.1 617.5h0M108.1 618.0h0M113.6 614.0h0M110.2 614.6h0M108.2 612.8h0M108.7 613.3h0M113.9 613.0h0M111.2 617.7h0M108.5 613.0h0M114.1 615.9h0M108.4 618.2h0M113.8 628.2h0M111.6 644.0h0M110.0 650.6h0M111.4 629.2h0M108.1 625.8h0M113.3 640.3h0M110.5 632.3h0M114.1 638.4h0M107.7 632.6h0M109.7 625.0h0M109.0 637.4h0M109.7 637.0h0M111.7 649.1h0M112.7 648.6h0M112.7 651.2h0M110.8 624.7h0M109.2 628.0h0M110.4 627.1h0M113.9 644.2h0M110.0 638.5h0M110.0 622.9h0M108.7 629.4h0M109.3 623.5h0M114.0 650.4h0M113.8 646.2h0M111.6 618.6h0M108.0 651.7h0M110.1 645.0h0M113.9 631.3h0M108.5 640.1h0M108.5 633.0h0M111.2 649.1h0M108.0 628.5h0M112.2 636.8h0M110.1 626.2h0M108.7 622.0h0M112.6 627.8h0M110.8 622.2h0M107.9 648.7h0M108.7 634.1h0M108.1 630.7h0M109.0 625.6h0M108.7 651.6h0M111.2 636.6h0M108.7 638.9h0M113.8 635.7h0M113.8 633.9h0M114.1 651.1h0M111.1 621.9h0M111.1 634.3h0M108.0 621.2h0M111.1 630.3h0M112.3 641.9h0M108.2 627.6h0M110.5 655.0h0M111.8 657.0h0M111.5 661.2h0M113.3 658.1h0M113.0 659.5h0M111.7 654.7h0M107.8 653.3h0M111.6 655.9h0M110.2 655.2h0M108.8 661.0h0M108.7 655.8h0M109.9 661.1h0M111.1 657.2h0M112.7 661.4h0M112.7 658.5h0M113.8 661.6h0M114.0 656.0h0M113.0 652.2h0M109.9 660.7h0M112.7 659.5h0M109.0 659.8h0M108.3 660.6h0M114.0 661.1h0M112.4 661.5h0M111.0 661.4h0M111.7 661.5h0M109.2 661.5h0M108.9 661.4h0" stroke="#3d62b3" stroke-width="1.0" stroke-linecap="round" opacity="0.85"/>
<path d="M134.9 614.5h0M129.3 618.0h0M129.0 611.4h0M134.3 616.0h0M130.1 613.0h0M130.5 617.7h0M133.9 615.6h0M133.8 609.9h0M134.8 610.5h0M134.7 610.7h0M129.3 610.0h0M130.3 615.5h0M131.9 613.1h0M134.2 615.2h0M130.0 614.8h0M131.7 642.7h0M132.4 631.4h0M129.9 637.2h0M130.8 638.4h0M132.2 646.3h0M133.3 645.7h0M129.6 629.7h0M130.9 630.9h0M132.7 636.9h0M134.5 626.3h0M130.0 627.2h0M130.9 633.7h0M132.3 651.4h0M134.4 636.1h0M134.2 641.1h0M129.3 634.6h0M130.5 627.8h0M129.1 634.0h0M134.7 651.7h0M129.6 650.7h0M129.3 646.5h0M135.2 624.1h0M131.3 630.1h0M132.0 622.0h0M133.2 647.5h0M130.4 639.9h0M131.2 641.2h0M132.7 645.9h0M132.4 622.6h0M133.2 651.8h0M131.8 651.4h0M133.1 622.7h0M133.6 621.3h0M129.6 642.8h0M133.1 636.8h0M130.8 644.2h0M130.9 626.7h0M132.2 631.7h0M128.8 620.6h0M133.8 645.8h0M129.3 629.4h0M130.0 647.5h0M134.6 633.7h0M130.0 644.7h0M131.4 628.8h0M135.2 623.4h0M133.4 620.3h0M129.1 635.3h0M131.3 624.7h0M132.8 636.4h0M132.3 652.4h0M135.0 652.9h0M131.0 660.9h0M133.7 653.1h0M129.9 652.4h0M134.8 656.6h0M133.1 656.5h0M129.8 652.3h0M134.3 661.1h0M130.0 656.1h0M130.5 653.7h0M130.6 660.4h0M131.3 661.3h0M131.6 654.2h0M128.9 652.4h0M129.6 660.0h0M130.0 656.2h0M132.1 655.3h0M134.2 656.1h0M134.7 654.1h0M131.2 660.2h0M131.3 652.5h0M131.8 658.9h0M134.2 659.9h0M129.3 655.6h0M132.1 661.1h0M132.7 661.7h0M130.9 661.2h0M130.0 662.0h0M132.1 661.9h0M134.3 661.7h0M128.7 661.8h0M129.5 661.6h0M130.1 661.7h0M132.8 661.8h0M131.1 661.2h0M130.8 661.4h0" stroke="#e0403c" stroke-width="1.0" stroke-linecap="round" opacity="0.85"/>
<line x1="164.50" y1="604.60" x2="164.50" y2="664.65" stroke="#231f20" stroke-width="0.9" />
<line x1="164.05" y1="664.20" x2="207.50" y2="664.20" stroke="#231f20" stroke-width="0.9" />
<line x1="162.20" y1="609.70" x2="164.50" y2="609.70" stroke="#231f20" stroke-width="0.8" />
<text x="160.10" y="612.00" font-size="6.5" text-anchor="end">0.0</text>
<line x1="162.20" y1="623.83" x2="164.50" y2="623.83" stroke="#231f20" stroke-width="0.8" />
<text x="160.10" y="626.12" font-size="6.5" text-anchor="end">−2.5</text>
<line x1="162.20" y1="637.95" x2="164.50" y2="637.95" stroke="#231f20" stroke-width="0.8" />
<text x="160.10" y="640.25" font-size="6.5" text-anchor="end">−5.0</text>
<line x1="162.20" y1="652.08" x2="164.50" y2="652.08" stroke="#231f20" stroke-width="0.8" />
<text x="160.10" y="654.38" font-size="6.5" text-anchor="end">−7.5</text>
<line x1="177.00" y1="664.20" x2="177.00" y2="666.40" stroke="#231f20" stroke-width="0.8" />
<line x1="198.25" y1="664.20" x2="198.25" y2="666.40" stroke="#231f20" stroke-width="0.8" />
<text x="170.50" y="673.80" font-size="7.2" textLength="13.00" lengthAdjust="spacingAndGlyphs">High</text>
<text x="192.65" y="673.80" font-size="7.2" textLength="11.20" lengthAdjust="spacingAndGlyphs">Low</text>
<text x="168.50" y="598.90" font-size="6.3" textLength="34.40" lengthAdjust="spacingAndGlyphs">Lactococcus</text>
<path d="M177.00 608.00V606.60H198.25V608.00" stroke="#231f20" stroke-width="0.9" fill="none"/>
<text x="187.62" y="606.00" font-size="5.5" text-anchor="middle">**</text>
<rect x="174.40" y="640.78" width="5.2" height="19.77" fill="none" stroke="#9fb3dd" stroke-width="0.5"/>
<line x1="177.00" y1="627.78" x2="177.00" y2="661.68" stroke="#9fb3dd" stroke-width="0.5" />
<line x1="174.40" y1="651.51" x2="179.60" y2="651.51" stroke="#9fb3dd" stroke-width="0.6" />
<rect x="195.65" y="628.91" width="5.2" height="28.81" fill="none" stroke="#f0a09a" stroke-width="0.5"/>
<line x1="198.25" y1="609.70" x2="198.25" y2="661.68" stroke="#f0a09a" stroke-width="0.5" />
<line x1="195.65" y1="644.73" x2="200.85" y2="644.73" stroke="#f0a09a" stroke-width="0.6" />
<path d="M176.5 622.6h0M175.1 622.6h0M179.1 630.7h0M174.8 633.3h0M175.9 635.4h0M180.0 639.6h0M174.0 627.8h0M177.7 630.0h0M175.6 637.6h0M176.7 632.9h0M178.1 632.7h0M178.8 641.5h0M180.1 628.1h0M174.0 633.9h0M174.6 643.5h0M175.7 628.7h0M179.6 637.8h0M177.3 638.6h0M174.1 636.7h0M179.3 634.4h0M175.2 641.1h0M173.9 637.1h0M179.1 652.1h0M177.2 649.4h0M174.7 646.1h0M176.2 650.9h0M174.4 650.4h0M174.3 647.4h0M179.0 657.7h0M176.6 644.5h0M175.3 653.5h0M177.8 655.9h0M174.5 657.5h0M174.8 652.8h0M179.1 649.6h0M176.9 647.4h0M176.6 654.7h0M178.4 660.5h0M175.8 654.9h0M176.7 659.2h0M176.3 650.7h0M178.1 645.8h0M177.2 656.5h0M177.1 645.1h0M174.1 650.3h0M176.7 652.3h0M176.5 653.8h0M177.3 650.6h0M174.8 652.2h0M180.1 653.1h0M173.9 653.5h0M177.2 660.5h0M174.3 659.7h0M176.7 658.7h0M176.9 643.7h0M176.6 652.8h0M176.7 652.1h0M179.6 648.2h0M176.5 648.7h0M179.7 649.5h0M175.3 657.9h0M178.2 650.1h0M177.6 661.3h0M176.9 661.2h0M180.1 661.2h0M179.4 661.4h0M179.6 661.3h0M179.7 661.7h0M180.1 661.2h0M175.6 661.1h0M174.6 661.3h0M179.8 661.3h0M176.0 661.6h0M175.0 661.6h0" stroke="#3d62b3" stroke-width="1.0" stroke-linecap="round" opacity="0.85"/>
<path d="M195.6 614.2h0M200.8 609.7h0M199.9 612.7h0M198.4 622.2h0M199.3 628.4h0M196.7 625.4h0M199.1 629.7h0M196.3 623.8h0M200.7 624.2h0M199.3 618.3h0M197.7 636.4h0M195.3 635.9h0M198.0 632.2h0M199.1 620.8h0M199.5 631.6h0M198.3 626.5h0M197.9 632.0h0M199.7 652.8h0M197.9 649.6h0M198.1 649.8h0M199.7 645.0h0M197.6 642.4h0M201.3 642.6h0M199.7 638.1h0M200.5 659.1h0M195.1 641.6h0M197.1 653.1h0M199.0 643.8h0M196.2 654.2h0M195.6 656.7h0M201.1 642.7h0M199.9 655.6h0M196.2 639.1h0M197.8 647.6h0M200.7 638.5h0M196.3 660.2h0M198.7 641.4h0M200.3 648.7h0M201.3 643.3h0M195.3 653.2h0M195.3 644.9h0M200.6 647.8h0M198.9 651.6h0M196.0 656.7h0M200.7 646.9h0M195.2 638.0h0M198.3 639.7h0M197.6 652.7h0M197.2 647.5h0M200.7 657.3h0M199.0 644.6h0M201.5 644.2h0M200.4 656.6h0M197.2 642.0h0M198.0 647.9h0M197.8 656.2h0M201.1 657.1h0M199.1 661.6h0M201.4 661.4h0M197.3 661.2h0M195.3 661.5h0M197.0 661.7h0M195.3 661.1h0M199.1 661.6h0M196.2 661.5h0M195.2 661.1h0M197.8 661.3h0M196.2 661.5h0M197.6 661.6h0" stroke="#e0403c" stroke-width="1.0" stroke-linecap="round" opacity="0.85"/>
<line x1="224.90" y1="603.80" x2="224.90" y2="664.45" stroke="#231f20" stroke-width="0.9" />
<line x1="224.45" y1="664.00" x2="270.90" y2="664.00" stroke="#231f20" stroke-width="0.9" />
<line x1="222.60" y1="604.10" x2="224.90" y2="604.10" stroke="#231f20" stroke-width="0.8" />
<text x="220.50" y="606.40" font-size="6.5" text-anchor="end">−3</text>
<line x1="222.60" y1="613.30" x2="224.90" y2="613.30" stroke="#231f20" stroke-width="0.8" />
<text x="220.50" y="615.60" font-size="6.5" text-anchor="end">−4</text>
<line x1="222.60" y1="622.50" x2="224.90" y2="622.50" stroke="#231f20" stroke-width="0.8" />
<text x="220.50" y="624.80" font-size="6.5" text-anchor="end">−5</text>
<line x1="222.60" y1="631.70" x2="224.90" y2="631.70" stroke="#231f20" stroke-width="0.8" />
<text x="220.50" y="634.00" font-size="6.5" text-anchor="end">−6</text>
<line x1="222.60" y1="640.90" x2="224.90" y2="640.90" stroke="#231f20" stroke-width="0.8" />
<text x="220.50" y="643.20" font-size="6.5" text-anchor="end">−7</text>
<line x1="222.60" y1="650.10" x2="224.90" y2="650.10" stroke="#231f20" stroke-width="0.8" />
<text x="220.50" y="652.40" font-size="6.5" text-anchor="end">−8</text>
<line x1="222.60" y1="659.30" x2="224.90" y2="659.30" stroke="#231f20" stroke-width="0.8" />
<text x="220.50" y="661.60" font-size="6.5" text-anchor="end">−9</text>
<line x1="237.30" y1="664.00" x2="237.30" y2="666.20" stroke="#231f20" stroke-width="0.8" />
<line x1="258.60" y1="664.00" x2="258.60" y2="666.20" stroke="#231f20" stroke-width="0.8" />
<text x="230.80" y="673.60" font-size="7.2" textLength="13.00" lengthAdjust="spacingAndGlyphs">High</text>
<text x="253.00" y="673.60" font-size="7.2" textLength="11.20" lengthAdjust="spacingAndGlyphs">Low</text>
<text x="230.60" y="598.90" font-size="6.3" textLength="35.00" lengthAdjust="spacingAndGlyphs">Oscillibacter</text>
<path d="M237.30 607.20V605.80H258.60V607.20" stroke="#231f20" stroke-width="0.9" fill="none"/>
<text x="247.95" y="605.20" font-size="5.5" text-anchor="middle">*</text>
<path d="M237.7 608.7h0M237.1 619.9h0M237.9 621.1h0M237.4 622.0h0M239.2 628.8h0M236.0 631.3h0M239.3 631.3h0M234.3 628.5h0M240.4 641.1h0M238.1 644.1h0M234.1 648.7h0M234.4 645.2h0M235.6 648.4h0M237.1 649.8h0M239.6 646.0h0M238.2 645.3h0M238.4 657.0h0M235.8 657.2h0M240.6 654.7h0M238.7 655.4h0M235.5 661.3h0M234.5 661.3h0M236.6 660.9h0M236.6 660.8h0M239.6 660.7h0M235.4 661.6h0M237.1 660.8h0M236.6 660.7h0M238.2 661.5h0M235.8 660.9h0M236.2 661.5h0M239.0 660.7h0M235.6 661.5h0M234.4 661.5h0" stroke="#3d62b3" stroke-width="1.0" stroke-linecap="round" opacity="0.85"/>
<path d="M256.5 612.9h0M258.3 613.6h0M260.1 614.6h0M259.5 624.9h0M258.1 624.9h0M257.1 632.4h0M260.6 631.7h0M261.1 640.9h0M257.9 640.9h0M259.5 660.8h0M261.8 661.5h0M257.0 661.4h0M257.5 660.9h0M255.8 661.3h0M259.1 661.5h0M259.3 661.4h0M258.3 661.3h0M258.5 660.7h0M261.0 661.1h0M256.3 661.4h0M260.7 660.8h0" stroke="#e0403c" stroke-width="1.0" stroke-linecap="round" opacity="0.85"/>
<line x1="288.20" y1="604.60" x2="288.20" y2="664.45" stroke="#231f20" stroke-width="0.9" />
<line x1="287.75" y1="664.00" x2="334.30" y2="664.00" stroke="#231f20" stroke-width="0.9" />
<line x1="285.90" y1="609.70" x2="288.20" y2="609.70" stroke="#231f20" stroke-width="0.8" />
<text x="283.80" y="612.00" font-size="6.5" text-anchor="end">0.0</text>
<line x1="285.90" y1="623.83" x2="288.20" y2="623.83" stroke="#231f20" stroke-width="0.8" />
<text x="283.80" y="626.12" font-size="6.5" text-anchor="end">−2.5</text>
<line x1="285.90" y1="637.95" x2="288.20" y2="637.95" stroke="#231f20" stroke-width="0.8" />
<text x="283.80" y="640.25" font-size="6.5" text-anchor="end">−5.0</text>
<line x1="285.90" y1="652.08" x2="288.20" y2="652.08" stroke="#231f20" stroke-width="0.8" />
<text x="283.80" y="654.38" font-size="6.5" text-anchor="end">−7.5</text>
<line x1="300.70" y1="664.00" x2="300.70" y2="666.20" stroke="#231f20" stroke-width="0.8" />
<line x1="321.50" y1="664.00" x2="321.50" y2="666.20" stroke="#231f20" stroke-width="0.8" />
<text x="294.20" y="673.60" font-size="7.2" textLength="13.00" lengthAdjust="spacingAndGlyphs">High</text>
<text x="315.90" y="673.60" font-size="7.2" textLength="11.20" lengthAdjust="spacingAndGlyphs">Low</text>
<text x="292.90" y="598.90" font-size="6.3" textLength="36.30" lengthAdjust="spacingAndGlyphs">Enterobacter</text>
<path d="M300.70 608.00V606.60H321.50V608.00" stroke="#231f20" stroke-width="0.9" fill="none"/>
<text x="311.10" y="606.00" font-size="5.5" text-anchor="middle">*</text>
<path d="M301.7 627.5h0M298.3 627.4h0M299.9 642.4h0M302.7 641.7h0M301.4 640.5h0M301.8 640.9h0M300.3 652.1h0M303.4 661.3h0M302.8 661.5h0M301.9 661.5h0M300.1 660.9h0M297.5 659.8h0M303.4 661.5h0M298.0 660.5h0M303.6 659.4h0M300.2 661.4h0M299.5 661.4h0M298.5 660.3h0M297.7 660.1h0M302.8 661.3h0M300.2 660.8h0" stroke="#3d62b3" stroke-width="1.0" stroke-linecap="round" opacity="0.85"/>
<path d="M321.3 612.0h0M318.4 613.2h0M324.6 611.2h0M322.6 628.5h0M320.6 632.0h0M322.6 630.1h0M319.8 633.4h0M321.6 641.5h0M321.5 639.0h0M323.6 643.4h0M321.6 641.2h0M321.0 642.3h0M323.3 641.4h0M321.8 659.1h0M322.8 658.0h0M320.0 660.0h0M322.4 655.7h0M321.2 659.8h0M320.1 657.6h0M324.5 653.8h0M324.5 653.8h0M324.3 658.2h0M319.4 655.4h0M324.2 650.0h0M320.0 660.5h0M320.5 661.3h0M318.3 661.8h0M322.3 661.9h0M324.8 661.1h0M318.4 661.5h0M323.4 661.7h0M322.4 661.3h0M321.7 661.8h0M322.3 661.6h0M324.4 661.7h0M319.3 661.2h0M324.0 661.7h0" stroke="#e0403c" stroke-width="1.0" stroke-linecap="round" opacity="0.85"/>
<line x1="369.40" y1="604.60" x2="369.40" y2="664.75" stroke="#231f20" stroke-width="0.9" />
<line x1="368.95" y1="664.30" x2="415.60" y2="664.30" stroke="#231f20" stroke-width="0.9" />
<line x1="367.10" y1="609.70" x2="369.40" y2="609.70" stroke="#231f20" stroke-width="0.8" />
<text x="365.00" y="612.00" font-size="6.5" text-anchor="end">0.0</text>
<line x1="367.10" y1="623.83" x2="369.40" y2="623.83" stroke="#231f20" stroke-width="0.8" />
<text x="365.00" y="626.12" font-size="6.5" text-anchor="end">−2.5</text>
<line x1="367.10" y1="637.95" x2="369.40" y2="637.95" stroke="#231f20" stroke-width="0.8" />
<text x="365.00" y="640.25" font-size="6.5" text-anchor="end">−5.0</text>
<line x1="367.10" y1="652.08" x2="369.40" y2="652.08" stroke="#231f20" stroke-width="0.8" />
<text x="365.00" y="654.38" font-size="6.5" text-anchor="end">−7.5</text>
<line x1="382.10" y1="664.30" x2="382.10" y2="666.50" stroke="#231f20" stroke-width="0.8" />
<line x1="403.00" y1="664.30" x2="403.00" y2="666.50" stroke="#231f20" stroke-width="0.8" />
<text x="375.60" y="673.90" font-size="7.2" textLength="13.00" lengthAdjust="spacingAndGlyphs">High</text>
<text x="397.40" y="673.90" font-size="7.2" textLength="11.20" lengthAdjust="spacingAndGlyphs">Low</text>
<text x="379.90" y="598.60" font-size="6.3" textLength="26.00" lengthAdjust="spacingAndGlyphs">Bacillales</text>
<path d="M382.10 608.00V606.60H403.00V608.00" stroke="#231f20" stroke-width="0.9" fill="none"/>
<text x="392.55" y="606.00" font-size="5.5" text-anchor="middle">*</text>
<rect x="379.50" y="635.12" width="5.2" height="17.52" fill="none" stroke="#9fb3dd" stroke-width="0.5"/>
<line x1="382.10" y1="611.40" x2="382.10" y2="661.68" stroke="#9fb3dd" stroke-width="0.5" />
<line x1="379.50" y1="643.60" x2="384.70" y2="643.60" stroke="#9fb3dd" stroke-width="0.6" />
<rect x="400.40" y="623.83" width="5.2" height="26.56" fill="none" stroke="#f0a09a" stroke-width="0.5"/>
<line x1="403.00" y1="609.70" x2="403.00" y2="661.68" stroke="#f0a09a" stroke-width="0.5" />
<line x1="400.40" y1="639.65" x2="405.60" y2="639.65" stroke="#f0a09a" stroke-width="0.6" />
<path d="M383.3 628.5h0M384.4 617.7h0M380.3 630.4h0M380.3 631.4h0M379.7 616.5h0M380.2 621.6h0M381.6 627.6h0M382.8 613.8h0M380.6 634.8h0M384.6 631.4h0M384.1 614.5h0M383.7 614.1h0M384.0 611.0h0M384.4 628.6h0M383.8 622.7h0M381.6 620.8h0M381.6 625.9h0M379.6 627.1h0M384.1 614.3h0M383.4 610.1h0M383.7 621.0h0M383.3 631.7h0M380.0 623.9h0M382.2 630.0h0M381.8 628.7h0M381.4 619.7h0M382.0 631.8h0M380.4 629.1h0M381.2 630.2h0M383.1 633.3h0M381.4 636.1h0M385.0 641.0h0M379.7 655.1h0M384.3 639.2h0M379.9 642.7h0M384.5 647.4h0M384.1 637.5h0M384.4 651.8h0M383.5 648.2h0M385.2 653.2h0M383.6 643.4h0M382.9 651.6h0M382.7 643.9h0M383.6 648.5h0M380.7 648.9h0M383.3 652.6h0M380.3 653.7h0M383.0 654.6h0M382.4 644.4h0M381.7 655.2h0M379.4 648.9h0M385.4 656.0h0M380.8 653.5h0M382.7 650.4h0M381.9 654.4h0M384.3 648.4h0M381.0 655.9h0M385.2 645.6h0M381.9 645.2h0M380.8 642.0h0M382.1 655.4h0M383.7 637.0h0M383.3 650.6h0M380.5 638.3h0M381.1 643.7h0M380.7 650.9h0M381.1 651.8h0M381.4 655.2h0M383.8 654.2h0M378.8 643.5h0M380.1 639.9h0M382.5 646.0h0M380.7 649.1h0M379.7 646.9h0M379.5 638.0h0M380.2 638.8h0M381.4 649.7h0M379.6 655.3h0M381.7 648.5h0M385.3 637.7h0M382.3 655.1h0M384.1 653.3h0M384.7 649.3h0M379.6 644.6h0M380.4 655.9h0M379.8 637.9h0M381.3 646.0h0M384.1 648.8h0M383.5 651.6h0M385.0 642.1h0M384.9 645.2h0M382.6 646.8h0M384.3 643.1h0M379.6 637.3h0M382.3 653.2h0M382.3 639.0h0M385.1 649.8h0M379.4 649.8h0M379.0 654.9h0M379.5 640.8h0M384.5 657.6h0M384.1 656.0h0M382.9 659.3h0M383.5 657.0h0M383.8 660.0h0M380.8 661.1h0M381.9 656.1h0M384.0 660.2h0M378.8 659.1h0M380.5 661.5h0M385.0 661.5h0M384.4 661.5h0M381.5 661.2h0M383.8 661.1h0M380.5 661.4h0M384.8 661.4h0M380.1 661.4h0M381.9 661.5h0" stroke="#3d62b3" stroke-width="1.0" stroke-linecap="round" opacity="0.85"/>
<path d="M403.5 630.3h0M405.1 634.3h0M400.4 630.6h0M401.7 620.2h0M403.0 612.6h0M405.2 621.9h0M404.6 629.7h0M402.5 618.6h0M399.8 610.7h0M400.6 613.2h0M400.7 613.8h0M403.0 633.8h0M401.4 611.6h0M403.7 622.8h0M403.2 628.9h0M402.7 634.9h0M401.9 615.8h0M400.0 629.5h0M402.5 617.3h0M404.6 611.9h0M405.7 632.6h0M405.1 611.4h0M404.2 614.0h0M404.1 616.8h0M401.4 620.1h0M404.5 631.7h0M400.1 620.0h0M403.7 618.8h0M404.8 622.1h0M402.2 612.8h0M403.0 614.4h0M402.4 620.6h0M402.6 611.4h0M401.9 610.9h0M405.7 618.0h0M402.2 617.7h0M402.9 633.1h0M405.1 624.6h0M406.2 615.2h0M402.4 623.7h0M404.6 620.8h0M401.1 633.1h0M401.8 631.4h0M406.1 627.5h0M405.9 629.8h0M401.0 627.6h0M400.3 610.4h0M400.5 632.3h0M402.3 633.4h0M400.8 629.7h0M404.3 634.7h0M401.2 633.9h0M405.5 620.7h0M404.4 618.4h0M405.0 617.3h0M400.7 638.2h0M403.8 654.9h0M403.1 645.2h0M400.8 639.7h0M402.5 641.3h0M401.3 647.2h0M403.5 650.1h0M405.7 644.4h0M404.4 650.2h0M404.0 654.0h0M405.4 652.7h0M401.4 635.9h0M401.1 639.1h0M400.4 649.6h0M400.4 646.8h0M403.5 641.3h0M404.4 647.2h0M401.9 651.2h0M399.7 648.4h0M400.3 637.5h0M405.0 653.9h0M402.7 638.9h0M400.6 647.2h0M403.1 656.0h0M400.7 650.9h0M399.8 637.1h0M404.7 648.5h0M400.4 640.4h0M403.4 640.5h0M405.9 642.9h0M403.7 639.3h0M402.9 639.9h0M405.1 644.5h0M402.2 643.1h0M404.9 655.6h0M402.5 648.9h0M403.4 650.0h0M405.2 647.6h0M403.4 643.6h0M402.6 639.7h0M404.7 644.8h0M404.6 640.9h0M403.4 637.4h0M400.9 644.4h0M402.6 651.0h0M405.6 645.6h0M402.0 655.1h0M402.7 640.6h0M400.8 638.3h0M402.5 639.9h0M400.1 644.2h0M405.0 647.6h0M403.4 640.7h0M400.0 647.2h0M402.6 641.4h0M403.7 640.9h0M405.5 647.6h0M406.0 653.3h0M406.1 654.2h0M402.7 643.8h0M403.1 636.5h0M400.1 645.4h0M403.9 639.4h0M400.5 651.0h0M405.9 647.2h0M402.8 637.8h0M405.2 655.3h0M404.5 651.8h0M406.1 645.6h0M404.9 652.9h0M399.8 657.6h0M401.6 658.5h0M406.0 657.8h0M403.0 657.9h0M401.3 658.3h0M400.5 659.0h0M400.1 657.6h0M400.9 658.7h0M400.1 658.5h0M403.8 661.5h0M405.6 657.6h0M406.3 657.9h0M403.9 660.9h0M400.9 658.1h0M401.3 660.9h0M404.9 661.5h0M403.5 661.4h0M404.5 661.9h0M400.8 661.5h0M401.3 661.4h0M402.7 661.7h0M400.4 661.3h0M401.3 661.6h0M405.1 661.4h0M404.5 661.7h0" stroke="#e0403c" stroke-width="1.0" stroke-linecap="round" opacity="0.85"/>
<text x="180.80" y="685.00" font-size="8.0" textLength="32.20" lengthAdjust="spacingAndGlyphs">CD4 (PBSC)</text>
<text x="366.50" y="685.20" font-size="8.0" textLength="53.80" lengthAdjust="spacingAndGlyphs">CD4 (CD34+ PBSC)</text>
<text x="12.90" y="633.80" font-size="7.1" text-anchor="middle" textLength="44.70" lengthAdjust="spacingAndGlyphs" transform="rotate(-90 12.90 633.80)">log(abundance)</text>
</svg>
</body></html>
